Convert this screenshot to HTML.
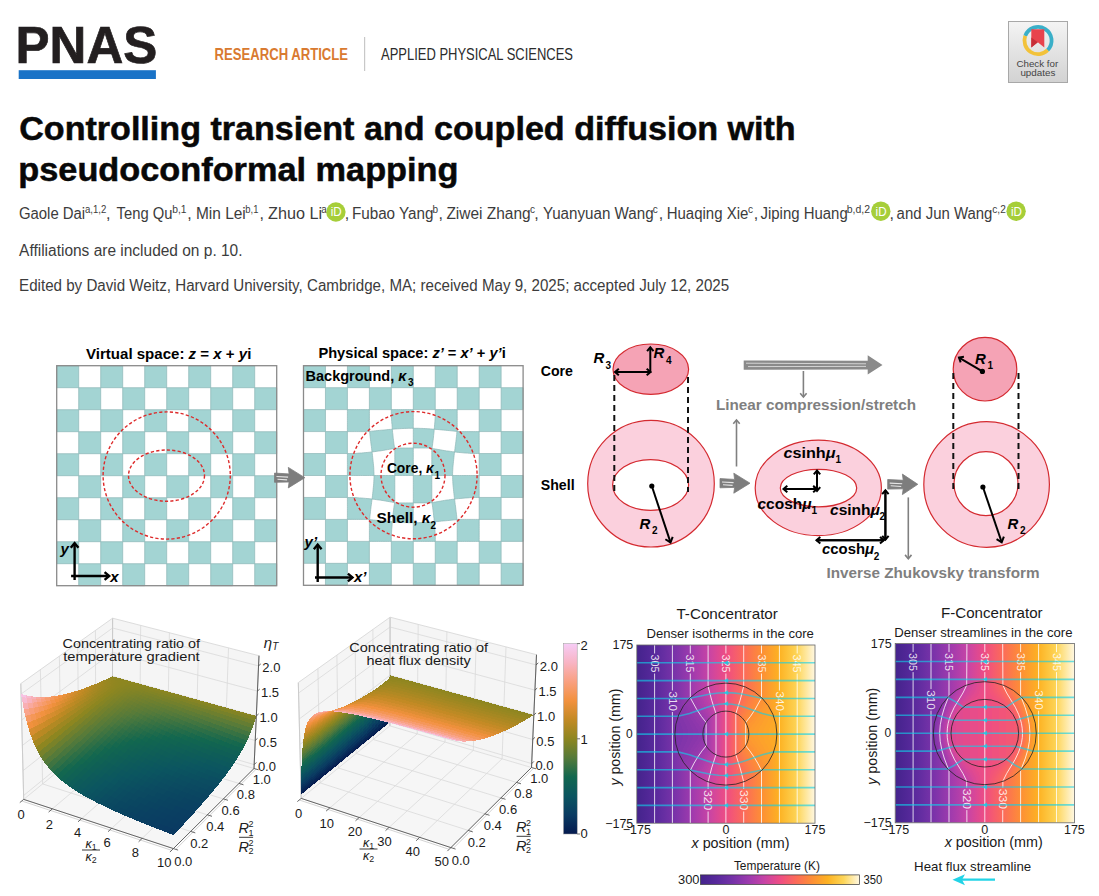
<!DOCTYPE html>
<html><head><meta charset="utf-8"><style>
html,body{margin:0;padding:0;background:#fff;width:1099px;height:896px;overflow:hidden}
svg{display:block}
text{font-family:"Liberation Sans", sans-serif}
</style></head><body>
<svg width="1099" height="896" viewBox="0 0 1099 896">
<rect width="1099" height="896" fill="#fff"/>
<text x="15.6" y="62.7" font-size="51" fill="#231f20" font-weight="bold" textLength="141.7" lengthAdjust="spacingAndGlyphs" stroke="#231f20" stroke-width="0.7">PNAS</text>
<rect x="18.7" y="70.2" width="137.2" height="8.8" fill="#1a73c7"/>
<text x="214.6" y="60.2" font-size="16.5" fill="#d97a30" font-weight="bold" textLength="133.4" lengthAdjust="spacingAndGlyphs">RESEARCH ARTICLE</text>
<rect x="364" y="37" width="1.2" height="34" fill="#c8c8c8"/>
<text x="381.0" y="60.2" font-size="16.5" fill="#2b2b2b" textLength="192.0" lengthAdjust="spacingAndGlyphs">APPLIED PHYSICAL SCIENCES</text>
<defs><linearGradient id="bg1" x1="0" y1="0" x2="0" y2="1"><stop offset="0" stop-color="#f4f4f4"/><stop offset="1" stop-color="#d2d2d2"/></linearGradient></defs>
<rect x="1008.5" y="21.5" width="59" height="61" fill="url(#bg1)" stroke="#a8a8a8" stroke-width="1"/>
<path d="M1025.22,35.85 A13.6,13.6 0 1 1 1047.62,50.12" fill="none" stroke="#3aafc8" stroke-width="3.8"/>
<path d="M1047.62,50.12 A13.6,13.6 0 0 1 1025.22,35.85" fill="none" stroke="#f2c23a" stroke-width="3.8"/>
<path d="M1031.3,29.3 H1044.3 V47.5 L1037.8,42.3 L1031.3,47.5 Z" fill="#e8434d"/>
<path d="M1031.3,37.5 L1037.8,42.3 L1031.3,47.5 Z" fill="#c62f38"/>
<text x="1016.5" y="67.3" font-size="9.5" fill="#444" textLength="41.7" lengthAdjust="spacingAndGlyphs">Check for</text>
<text x="1020.4" y="75.8" font-size="9.5" fill="#444" textLength="35.0" lengthAdjust="spacingAndGlyphs">updates</text>
<text x="19.2" y="140.2" font-size="32.5" fill="#080808" font-weight="bold" textLength="776.5" lengthAdjust="spacingAndGlyphs" stroke="#080808" stroke-width="0.5">Controlling transient and coupled diffusion with</text>
<text x="18.3" y="181.4" font-size="32.5" fill="#080808" font-weight="bold" textLength="440.2" lengthAdjust="spacingAndGlyphs" stroke="#080808" stroke-width="0.5">pseudoconformal mapping</text>
<text x="18.9" y="218.5" font-size="16" fill="#3c3c3c" textLength="66.3" lengthAdjust="spacingAndGlyphs">Gaole Dai</text>
<text x="85.0" y="212.7" font-size="10.5" fill="#3c3c3c" textLength="21.4" lengthAdjust="spacingAndGlyphs">a,1,2</text>
<text x="106.0" y="218.5" font-size="16" fill="#3c3c3c">,</text>
<text x="116.6" y="218.5" font-size="16" fill="#3c3c3c" textLength="55.8" lengthAdjust="spacingAndGlyphs">Teng Qu</text>
<text x="172.3" y="212.7" font-size="10.5" fill="#3c3c3c" textLength="14.3" lengthAdjust="spacingAndGlyphs">b,1</text>
<text x="187.2" y="218.5" font-size="16" fill="#3c3c3c">,</text>
<text x="196.0" y="218.5" font-size="16" fill="#3c3c3c" textLength="49.8" lengthAdjust="spacingAndGlyphs">Min Lei</text>
<text x="245.3" y="212.7" font-size="10.5" fill="#3c3c3c" textLength="13.1" lengthAdjust="spacingAndGlyphs">b,1</text>
<text x="259.6" y="218.5" font-size="16" fill="#3c3c3c">,</text>
<text x="268.0" y="218.5" font-size="16" fill="#3c3c3c" textLength="54.0" lengthAdjust="spacingAndGlyphs">Zhuo Li</text>
<text x="321.3" y="212.7" font-size="10" fill="#3c3c3c">a</text>
<text x="344.8" y="218.5" font-size="16" fill="#3c3c3c">,</text>
<text x="351.9" y="218.5" font-size="16" fill="#3c3c3c" textLength="81.6" lengthAdjust="spacingAndGlyphs">Fubao Yang</text>
<text x="432.6" y="212.7" font-size="10" fill="#3c3c3c">b</text>
<text x="438.6" y="218.5" font-size="16" fill="#3c3c3c">,</text>
<text x="446.4" y="218.5" font-size="16" fill="#3c3c3c" textLength="84.3" lengthAdjust="spacingAndGlyphs">Ziwei Zhang</text>
<text x="530.0" y="212.7" font-size="10" fill="#3c3c3c">c</text>
<text x="534.3" y="218.5" font-size="16" fill="#3c3c3c">,</text>
<text x="542.9" y="218.5" font-size="16" fill="#3c3c3c" textLength="110.7" lengthAdjust="spacingAndGlyphs">Yuanyuan Wang</text>
<text x="652.8" y="212.7" font-size="10" fill="#3c3c3c">c</text>
<text x="658.8" y="218.5" font-size="16" fill="#3c3c3c">,</text>
<text x="666.7" y="218.5" font-size="16" fill="#3c3c3c" textLength="81.6" lengthAdjust="spacingAndGlyphs">Huaqing Xie</text>
<text x="748.0" y="212.7" font-size="10" fill="#3c3c3c">c</text>
<text x="753.8" y="218.5" font-size="16" fill="#3c3c3c">,</text>
<text x="760.5" y="218.5" font-size="16" fill="#3c3c3c" textLength="87.2" lengthAdjust="spacingAndGlyphs">Jiping Huang</text>
<text x="846.8" y="212.7" font-size="10.5" fill="#3c3c3c" textLength="23.3" lengthAdjust="spacingAndGlyphs">b,d,2</text>
<text x="889.6" y="218.5" font-size="16" fill="#3c3c3c">,</text>
<text x="896.6" y="218.5" font-size="16" fill="#3c3c3c" textLength="95.8" lengthAdjust="spacingAndGlyphs">and Jun Wang</text>
<text x="992.3" y="212.7" font-size="10.5" fill="#3c3c3c" textLength="13.5" lengthAdjust="spacingAndGlyphs">c,2</text>
<circle cx="335.9" cy="212" r="9.7" fill="#a6ce39"/>
<text x="336.2" y="216.4" font-size="12" fill="#fff" text-anchor="middle" textLength="11" lengthAdjust="spacingAndGlyphs">iD</text>
<circle cx="880.8" cy="211.2" r="9.7" fill="#a6ce39"/>
<text x="881.0999999999999" y="215.6" font-size="12" fill="#fff" text-anchor="middle" textLength="11" lengthAdjust="spacingAndGlyphs">iD</text>
<circle cx="1016.1" cy="211.2" r="9.7" fill="#a6ce39"/>
<text x="1016.4" y="215.6" font-size="12" fill="#fff" text-anchor="middle" textLength="11" lengthAdjust="spacingAndGlyphs">iD</text>
<text x="19.1" y="255.9" font-size="16" fill="#3c3c3c" textLength="223.4" lengthAdjust="spacingAndGlyphs">Affiliations are included on p. 10.</text>
<text x="19.1" y="291.4" font-size="16" fill="#3c3c3c" textLength="710.1" lengthAdjust="spacingAndGlyphs">Edited by David Weitz, Harvard University, Cambridge, MA; received May 9, 2025; accepted July 12, 2025</text>
<rect x="56.7" y="365.7" width="220" height="220" fill="#fff"/>
<path d="M56.70,365.70h22.00v22.00h-22.00zM100.70,365.70h22.00v22.00h-22.00zM144.70,365.70h22.00v22.00h-22.00zM188.70,365.70h22.00v22.00h-22.00zM232.70,365.70h22.00v22.00h-22.00zM78.70,387.70h22.00v22.00h-22.00zM122.70,387.70h22.00v22.00h-22.00zM166.70,387.70h22.00v22.00h-22.00zM210.70,387.70h22.00v22.00h-22.00zM254.70,387.70h22.00v22.00h-22.00zM56.70,409.70h22.00v22.00h-22.00zM100.70,409.70h22.00v22.00h-22.00zM144.70,409.70h22.00v22.00h-22.00zM188.70,409.70h22.00v22.00h-22.00zM232.70,409.70h22.00v22.00h-22.00zM78.70,431.70h22.00v22.00h-22.00zM122.70,431.70h22.00v22.00h-22.00zM166.70,431.70h22.00v22.00h-22.00zM210.70,431.70h22.00v22.00h-22.00zM254.70,431.70h22.00v22.00h-22.00zM56.70,453.70h22.00v22.00h-22.00zM100.70,453.70h22.00v22.00h-22.00zM144.70,453.70h22.00v22.00h-22.00zM188.70,453.70h22.00v22.00h-22.00zM232.70,453.70h22.00v22.00h-22.00zM78.70,475.70h22.00v22.00h-22.00zM122.70,475.70h22.00v22.00h-22.00zM166.70,475.70h22.00v22.00h-22.00zM210.70,475.70h22.00v22.00h-22.00zM254.70,475.70h22.00v22.00h-22.00zM56.70,497.70h22.00v22.00h-22.00zM100.70,497.70h22.00v22.00h-22.00zM144.70,497.70h22.00v22.00h-22.00zM188.70,497.70h22.00v22.00h-22.00zM232.70,497.70h22.00v22.00h-22.00zM78.70,519.70h22.00v22.00h-22.00zM122.70,519.70h22.00v22.00h-22.00zM166.70,519.70h22.00v22.00h-22.00zM210.70,519.70h22.00v22.00h-22.00zM254.70,519.70h22.00v22.00h-22.00zM56.70,541.70h22.00v22.00h-22.00zM100.70,541.70h22.00v22.00h-22.00zM144.70,541.70h22.00v22.00h-22.00zM188.70,541.70h22.00v22.00h-22.00zM232.70,541.70h22.00v22.00h-22.00zM78.70,563.70h22.00v22.00h-22.00zM122.70,563.70h22.00v22.00h-22.00zM166.70,563.70h22.00v22.00h-22.00zM210.70,563.70h22.00v22.00h-22.00zM254.70,563.70h22.00v22.00h-22.00z" fill="#a3d4d3" stroke="#8cb6b6" stroke-width="0.7"/>
<rect x="56.7" y="365.7" width="220" height="220" fill="none" stroke="#8a8a8a" stroke-width="1.3"/>
<circle cx="166.7" cy="475.5" r="63.6" fill="none" stroke="#dd2a2a" stroke-width="1.4" stroke-dasharray="3.2,2.2"/>
<ellipse cx="166.5" cy="475.6" rx="38" ry="25.6" fill="none" stroke="#dd2a2a" stroke-width="1.4" stroke-dasharray="3.2,2.2"/>
<line x1="74.6" y1="580" x2="74.6" y2="543.2" stroke="#000" stroke-width="2.4"/>
<polyline points="70.74,547.80 74.6,543.2 78.46,547.80" fill="none" stroke="#000" stroke-width="2.4" stroke-linejoin="miter"/>
<line x1="71.1" y1="576" x2="109.2" y2="576" stroke="#000" stroke-width="2.4"/>
<polyline points="104.60,572.14 109.2,576 104.60,579.86" fill="none" stroke="#000" stroke-width="2.4" stroke-linejoin="miter"/>
<text x="60.5" y="553.5" font-size="15" fill="#000" font-weight="bold" font-style="italic">y</text>
<text x="110.3" y="581.8" font-size="15" fill="#000" font-weight="bold" font-style="italic">x</text>
<text x="86" y="359" font-size="15" font-weight="bold" textLength="165.4" lengthAdjust="spacingAndGlyphs">Virtual space: <tspan font-style="italic">z</tspan> = <tspan font-style="italic">x</tspan> + <tspan font-style="italic">y</tspan>i</text>
<rect x="303.5" y="365.7" width="219.60000000000002" height="219.60000000000002" fill="#fff"/>
<path d="M303.50,365.70h21.96v21.96h-21.96zM347.42,365.70h21.96v21.96h-21.96zM391.34,365.70h21.96v21.96h-21.96zM435.26,365.70h21.96v21.96h-21.96zM479.18,365.70h21.96v21.96h-21.96zM325.46,387.66h21.96v21.96h-21.96zM369.38,387.66h21.96v21.96h-21.96zM413.30,387.66h21.96v21.96h-21.96zM457.22,387.66h21.96v21.96h-21.96zM501.14,387.66h21.96v21.96h-21.96zM303.50,409.62h21.96v21.96h-21.96zM347.4,409.6L349.2,409.6L351.1,409.6L352.9,409.6L354.7,409.6L356.6,409.6L358.4,409.6L360.2,409.6L362.1,409.6L363.9,409.6L365.7,409.6L367.6,409.6L369.4,409.6L369.4,411.4L369.4,413.3L369.4,415.1L369.4,416.9L369.4,418.8L369.4,420.6L369.4,422.4L369.4,424.3L369.4,426.1L369.4,427.9L369.4,429.7L369.6,431.4L367.6,431.6L365.7,431.6L363.9,431.6L362.1,431.6L360.2,431.6L358.4,431.6L356.6,431.6L354.7,431.6L352.9,431.6L351.1,431.6L349.2,431.6L347.4,431.6L347.4,429.8L347.4,427.9L347.4,426.1L347.4,424.3L347.4,422.4L347.4,420.6L347.4,418.8L347.4,416.9L347.4,415.1L347.4,413.3L347.4,411.4zM391.3,409.6L393.2,409.6L395.0,409.6L396.8,409.6L398.7,409.6L400.5,409.6L402.3,409.6L404.2,409.6L406.0,409.6L407.8,409.6L409.6,409.6L411.5,409.6L413.3,409.6L413.3,411.4L413.3,413.0L413.3,414.6L413.3,416.1L413.3,417.6L413.3,419.1L413.3,420.7L413.3,422.2L413.3,423.7L413.3,425.2L413.3,426.7L413.3,428.3L411.6,428.3L409.9,428.3L408.1,428.3L406.4,428.4L404.7,428.4L403.0,428.5L401.2,428.6L399.5,428.7L397.7,428.8L395.9,428.9L394.1,429.1L392.3,429.2L392.2,427.7L392.1,426.1L392.0,424.5L391.8,423.0L391.7,421.4L391.6,419.9L391.5,418.3L391.4,416.8L391.3,415.1L391.3,413.3L391.3,411.4zM435.3,409.6L437.1,409.6L438.9,409.6L440.8,409.6L442.6,409.6L444.4,409.6L446.2,409.6L448.1,409.6L449.9,409.6L451.7,409.6L453.6,409.6L455.4,409.6L457.2,409.6L457.2,411.4L457.2,413.3L457.2,415.1L457.2,416.9L457.2,418.8L457.2,420.6L457.2,422.4L457.2,424.3L457.2,426.1L457.2,427.9L457.2,429.7L457.0,431.4L455.0,431.2L453.1,431.0L451.1,430.8L449.2,430.6L447.3,430.4L445.3,430.2L443.5,430.1L441.6,429.9L439.7,429.7L437.9,429.5L436.1,429.4L434.3,429.2L434.4,427.7L434.5,426.1L434.6,424.5L434.8,423.0L434.9,421.4L435.0,419.9L435.1,418.3L435.2,416.8L435.3,415.1L435.3,413.3L435.3,411.4zM479.18,409.62h21.96v21.96h-21.96zM325.46,431.58h21.96v21.96h-21.96zM369.6,431.4L371.6,431.2L373.5,431.0L375.5,430.8L377.4,430.6L379.3,430.4L381.3,430.2L383.1,430.1L385.0,429.9L386.9,429.7L388.7,429.5L390.5,429.4L392.3,429.2L392.5,430.8L392.6,432.4L392.8,433.9L393.0,435.5L393.1,437.1L393.3,438.7L393.5,440.3L393.7,441.9L393.9,443.5L394.1,445.1L394.4,446.8L394.6,448.4L393.0,448.7L391.2,449.0L389.5,449.3L387.7,449.6L385.8,449.9L383.9,450.3L382.0,450.6L380.1,450.9L378.1,451.1L376.1,451.4L374.1,451.7L372.0,451.9L371.8,450.1L371.6,448.4L371.4,446.6L371.1,444.9L370.9,443.1L370.7,441.4L370.5,439.7L370.3,438.0L370.1,436.3L369.9,434.7L369.8,433.0zM413.3,428.3L415.0,428.3L416.7,428.3L418.5,428.3L420.2,428.4L421.9,428.4L423.6,428.5L425.4,428.6L427.1,428.7L428.9,428.8L430.7,428.9L432.5,429.1L434.3,429.2L434.1,430.8L434.0,432.4L433.8,433.9L433.6,435.5L433.5,437.1L433.3,438.7L433.1,440.3L432.9,441.9L432.7,443.5L432.5,445.1L432.2,446.8L432.0,448.4L430.3,448.1L428.7,448.0L427.2,448.0L425.6,448.0L424.1,448.0L422.5,448.0L421.0,448.0L419.5,448.0L417.9,448.0L416.4,448.0L414.8,448.0L413.3,448.0L413.3,445.8L413.3,443.5L413.3,442.0L413.3,440.4L413.3,438.9L413.3,437.4L413.3,435.9L413.3,434.4L413.3,432.8L413.3,431.3L413.3,429.8zM457.0,431.4L459.0,431.6L460.9,431.6L462.7,431.6L464.5,431.6L466.4,431.6L468.2,431.6L470.0,431.6L471.9,431.6L473.7,431.6L475.5,431.6L477.4,431.6L479.2,431.6L479.2,433.4L479.2,435.2L479.2,437.1L479.2,438.9L479.2,440.7L479.2,442.6L479.2,444.4L479.2,446.2L479.2,448.0L479.2,449.9L479.2,451.7L479.2,453.5L477.4,453.5L475.5,453.5L473.7,453.5L471.6,453.5L469.5,453.3L467.3,453.1L465.1,453.0L463.0,452.8L460.9,452.6L458.7,452.4L456.6,452.2L454.6,451.9L454.8,450.1L455.0,448.4L455.2,446.6L455.5,444.9L455.7,443.1L455.9,441.4L456.1,439.7L456.3,438.0L456.5,436.3L456.7,434.7L456.8,433.0zM501.14,431.58h21.96v21.96h-21.96zM303.50,453.54h21.96v21.96h-21.96zM347.4,453.5L349.2,453.5L351.1,453.5L352.9,453.5L355.0,453.5L357.1,453.3L359.3,453.1L361.5,453.0L363.6,452.8L365.7,452.6L367.9,452.4L370.0,452.2L372.0,451.9L372.3,453.7L372.5,455.6L372.7,457.5L372.9,459.3L373.1,461.3L373.3,463.2L373.5,465.2L373.7,467.2L373.8,469.3L373.9,471.3L374.0,473.4L374.0,475.5L371.7,475.5L369.5,475.5L367.2,475.5L365.0,475.5L362.7,475.5L360.4,475.5L358.2,475.5L355.9,475.5L353.7,475.5L351.4,475.5L349.2,475.5L347.4,475.5L347.4,473.7L347.4,471.8L347.4,470.0L347.4,468.2L347.4,466.3L347.4,464.5L347.4,462.7L347.4,460.9L347.4,459.0L347.4,457.2L347.4,455.4zM394.6,448.4L396.3,448.1L397.9,448.0L399.4,448.0L401.0,448.0L402.5,448.0L404.1,448.0L405.6,448.0L407.1,448.0L408.7,448.0L410.2,448.0L411.8,448.0L413.3,448.0L413.3,450.3L413.3,452.6L413.3,454.9L413.3,457.2L413.3,459.5L413.3,461.8L413.3,464.1L413.3,466.3L413.3,468.6L413.3,470.9L413.3,473.2L413.3,475.5L411.8,475.5L410.2,475.5L408.7,475.5L407.1,475.5L405.6,475.5L404.1,475.5L402.5,475.5L401.0,475.5L399.4,475.5L397.9,475.5L396.3,475.5L394.8,475.5L394.8,473.2L394.8,470.9L394.8,468.6L394.8,466.3L394.8,464.1L394.8,461.8L394.8,459.5L394.8,457.2L394.8,454.9L394.8,452.6L394.8,450.3zM432.0,448.4L433.6,448.7L435.4,449.0L437.1,449.3L438.9,449.6L440.8,449.9L442.7,450.3L444.6,450.6L446.5,450.9L448.5,451.1L450.5,451.4L452.5,451.7L454.6,451.9L454.3,453.7L454.1,455.6L453.9,457.5L453.7,459.3L453.5,461.3L453.3,463.2L453.1,465.2L452.9,467.2L452.8,469.3L452.7,471.3L452.6,473.4L452.6,475.5L450.3,475.5L448.1,475.5L445.8,475.5L444.1,475.5L442.6,475.5L441.0,475.5L439.5,475.5L438.0,475.5L436.4,475.5L434.9,475.5L433.3,475.5L431.8,475.5L431.8,473.2L431.8,470.9L431.8,468.6L431.8,466.3L431.8,464.1L431.8,461.8L431.8,459.5L431.8,457.2L431.8,454.9L431.8,452.6L431.8,450.3zM479.18,453.54h21.96v21.96h-21.96zM325.46,475.50h21.96v21.96h-21.96zM374.0,475.5L376.3,475.5L378.5,475.5L380.8,475.5L382.5,475.5L384.0,475.5L385.6,475.5L387.1,475.5L388.6,475.5L390.2,475.5L391.7,475.5L393.3,475.5L394.8,475.5L394.8,477.8L394.8,480.1L394.8,482.4L394.8,484.6L394.8,486.9L394.8,489.2L394.8,491.5L394.8,493.8L394.8,496.1L394.8,498.4L394.8,500.7L394.6,502.6L393.0,502.3L391.2,502.0L389.5,501.7L387.7,501.4L385.8,501.1L383.9,500.7L382.0,500.4L380.1,500.1L378.1,499.9L376.1,499.6L374.1,499.3L372.0,499.1L372.3,497.3L372.5,495.4L372.7,493.5L372.9,491.7L373.1,489.7L373.3,487.8L373.5,485.8L373.7,483.8L373.8,481.7L373.9,479.7L374.0,477.6zM413.3,475.5L414.8,475.5L416.4,475.5L417.9,475.5L419.5,475.5L421.0,475.5L422.5,475.5L424.1,475.5L425.6,475.5L427.2,475.5L428.7,475.5L430.3,475.5L431.8,475.5L431.8,477.8L431.8,480.1L431.8,482.4L431.8,484.6L431.8,486.9L431.8,489.2L431.8,491.5L431.8,493.8L431.8,496.1L431.8,498.4L431.8,500.7L432.0,502.6L430.3,502.9L428.7,502.9L427.2,502.9L425.6,502.9L424.1,502.9L422.5,502.9L421.0,502.9L419.5,502.9L417.9,502.9L416.4,502.9L414.8,502.9L413.3,502.9L413.3,500.7L413.3,498.4L413.3,496.1L413.3,493.8L413.3,491.5L413.3,489.2L413.3,486.9L413.3,484.6L413.3,482.4L413.3,480.1L413.3,477.8zM452.6,475.5L454.9,475.5L457.1,475.5L459.4,475.5L461.6,475.5L463.9,475.5L466.2,475.5L468.4,475.5L470.7,475.5L472.9,475.5L475.2,475.5L477.4,475.5L479.2,475.5L479.2,477.3L479.2,479.2L479.2,481.0L479.2,482.8L479.2,484.6L479.2,486.5L479.2,488.3L479.2,490.1L479.2,492.0L479.2,493.8L479.2,495.6L479.2,497.5L477.4,497.5L475.5,497.5L473.7,497.5L471.6,497.5L469.5,497.7L467.3,497.9L465.1,498.0L463.0,498.2L460.9,498.4L458.7,498.6L456.6,498.8L454.6,499.1L454.3,497.3L454.1,495.4L453.9,493.5L453.7,491.7L453.5,489.7L453.3,487.8L453.1,485.8L452.9,483.8L452.8,481.7L452.7,479.7L452.6,477.6zM501.14,475.50h21.96v21.96h-21.96zM303.50,497.46h21.96v21.96h-21.96zM347.4,497.5L349.2,497.5L351.1,497.5L352.9,497.5L355.0,497.5L357.1,497.7L359.3,497.9L361.5,498.0L363.6,498.2L365.7,498.4L367.9,498.6L370.0,498.8L372.0,499.1L371.8,500.9L371.6,502.6L371.4,504.4L371.1,506.1L370.9,507.9L370.7,509.6L370.5,511.3L370.3,513.0L370.1,514.7L369.9,516.3L369.8,518.0L369.6,519.6L367.6,519.4L365.7,519.4L363.9,519.4L362.1,519.4L360.2,519.4L358.4,519.4L356.6,519.4L354.7,519.4L352.9,519.4L351.1,519.4L349.2,519.4L347.4,519.4L347.4,517.6L347.4,515.8L347.4,513.9L347.4,512.1L347.4,510.3L347.4,508.4L347.4,506.6L347.4,504.8L347.4,502.9L347.4,501.1L347.4,499.3zM394.6,502.6L396.3,502.9L397.9,502.9L399.4,502.9L401.0,502.9L402.5,502.9L404.1,502.9L405.6,502.9L407.1,502.9L408.7,502.9L410.2,502.9L411.8,502.9L413.3,502.9L413.3,505.2L413.3,507.5L413.3,509.0L413.3,510.6L413.3,512.1L413.3,513.6L413.3,515.1L413.3,516.6L413.3,518.2L413.3,519.7L413.3,521.2L413.3,522.7L411.6,522.7L409.9,522.7L408.1,522.7L406.4,522.6L404.7,522.6L403.0,522.5L401.2,522.4L399.5,522.3L397.7,522.2L395.9,522.1L394.1,521.9L392.3,521.8L392.5,520.2L392.6,518.6L392.8,517.1L393.0,515.5L393.1,513.9L393.3,512.3L393.5,510.7L393.7,509.1L393.9,507.5L394.1,505.9L394.4,504.2zM432.0,502.6L433.6,502.3L435.4,502.0L437.1,501.7L438.9,501.4L440.8,501.1L442.7,500.7L444.6,500.4L446.5,500.1L448.5,499.9L450.5,499.6L452.5,499.3L454.6,499.1L454.8,500.9L455.0,502.6L455.2,504.4L455.5,506.1L455.7,507.9L455.9,509.6L456.1,511.3L456.3,513.0L456.5,514.7L456.7,516.3L456.8,518.0L457.0,519.6L455.0,519.8L453.1,520.0L451.1,520.2L449.2,520.4L447.3,520.6L445.3,520.8L443.5,520.9L441.6,521.1L439.7,521.3L437.9,521.5L436.1,521.6L434.3,521.8L434.1,520.2L434.0,518.6L433.8,517.1L433.6,515.5L433.5,513.9L433.3,512.3L433.1,510.7L432.9,509.1L432.7,507.5L432.5,505.9L432.2,504.2zM479.18,497.46h21.96v21.96h-21.96zM325.46,519.42h21.96v21.96h-21.96zM369.6,519.6L371.6,519.8L373.5,520.0L375.5,520.2L377.4,520.4L379.3,520.6L381.3,520.8L383.1,520.9L385.0,521.1L386.9,521.3L388.7,521.5L390.5,521.6L392.3,521.8L392.2,523.3L392.1,524.9L392.0,526.5L391.8,528.0L391.7,529.6L391.6,531.1L391.5,532.7L391.4,534.2L391.3,535.9L391.3,537.7L391.3,539.5L391.3,541.4L389.5,541.4L387.7,541.4L385.9,541.4L384.0,541.4L382.2,541.4L380.4,541.4L378.5,541.4L376.7,541.4L374.9,541.4L373.0,541.4L371.2,541.4L369.4,541.4L369.4,539.5L369.4,537.7L369.4,535.9L369.4,534.1L369.4,532.2L369.4,530.4L369.4,528.6L369.4,526.7L369.4,524.9L369.4,523.1L369.4,521.3zM413.3,522.7L415.0,522.7L416.7,522.7L418.5,522.7L420.2,522.6L421.9,522.6L423.6,522.5L425.4,522.4L427.1,522.3L428.9,522.2L430.7,522.1L432.5,521.9L434.3,521.8L434.4,523.3L434.5,524.9L434.6,526.5L434.8,528.0L434.9,529.6L435.0,531.1L435.1,532.7L435.2,534.2L435.3,535.9L435.3,537.7L435.3,539.5L435.3,541.4L433.4,541.4L431.6,541.4L429.8,541.4L427.9,541.4L426.1,541.4L424.3,541.4L422.4,541.4L420.6,541.4L418.8,541.4L417.0,541.4L415.1,541.4L413.3,541.4L413.3,539.5L413.3,538.0L413.3,536.4L413.3,534.9L413.3,533.4L413.3,531.9L413.3,530.3L413.3,528.8L413.3,527.3L413.3,525.8L413.3,524.3zM457.0,519.6L459.0,519.4L460.9,519.4L462.7,519.4L464.5,519.4L466.4,519.4L468.2,519.4L470.0,519.4L471.9,519.4L473.7,519.4L475.5,519.4L477.4,519.4L479.2,519.4L479.2,521.2L479.2,523.1L479.2,524.9L479.2,526.7L479.2,528.6L479.2,530.4L479.2,532.2L479.2,534.1L479.2,535.9L479.2,537.7L479.2,539.5L479.2,541.4L477.4,541.4L475.5,541.4L473.7,541.4L471.9,541.4L470.0,541.4L468.2,541.4L466.4,541.4L464.5,541.4L462.7,541.4L460.9,541.4L459.1,541.4L457.2,541.4L457.2,539.5L457.2,537.7L457.2,535.9L457.2,534.1L457.2,532.2L457.2,530.4L457.2,528.6L457.2,526.7L457.2,524.9L457.2,523.1L457.2,521.3zM501.14,519.42h21.96v21.96h-21.96zM303.50,541.38h21.96v21.96h-21.96zM347.42,541.38h21.96v21.96h-21.96zM391.34,541.38h21.96v21.96h-21.96zM435.26,541.38h21.96v21.96h-21.96zM479.18,541.38h21.96v21.96h-21.96zM325.46,563.34h21.96v21.96h-21.96zM369.38,563.34h21.96v21.96h-21.96zM413.30,563.34h21.96v21.96h-21.96zM457.22,563.34h21.96v21.96h-21.96zM501.14,563.34h21.96v21.96h-21.96z" fill="#a3d4d3" stroke="#8cb6b6" stroke-width="0.7"/>
<rect x="303.5" y="365.7" width="219.60000000000002" height="219.60000000000002" fill="none" stroke="#8a8a8a" stroke-width="1.3"/>
<circle cx="413.5" cy="475.2" r="63.6" fill="none" stroke="#dd2a2a" stroke-width="1.4" stroke-dasharray="3.2,2.2"/>
<circle cx="413" cy="475.2" r="32" fill="none" stroke="#dd2a2a" stroke-width="1.4" stroke-dasharray="3.2,2.2"/>
<line x1="317.7" y1="582" x2="317.7" y2="544.6" stroke="#000" stroke-width="2.4"/>
<polyline points="313.84,549.20 317.7,544.6 321.56,549.20" fill="none" stroke="#000" stroke-width="2.4" stroke-linejoin="miter"/>
<line x1="315" y1="577.5" x2="352.5" y2="577.5" stroke="#000" stroke-width="2.4"/>
<polyline points="347.90,573.64 352.5,577.5 347.90,581.36" fill="none" stroke="#000" stroke-width="2.4" stroke-linejoin="miter"/>
<text x="304.6" y="547.3" font-size="15" fill="#000" font-weight="bold" font-style="italic">y’</text>
<text x="354.0" y="581.9" font-size="15" fill="#000" font-weight="bold" font-style="italic">x’</text>
<text x="318.4" y="358.2" font-size="15" font-weight="bold" textLength="187.3" lengthAdjust="spacingAndGlyphs">Physical space: <tspan font-style="italic">z’</tspan> = <tspan font-style="italic">x’</tspan> + <tspan font-style="italic">y’</tspan>i</text>
<text x="305.5" y="380.5" font-size="15" font-weight="bold" textLength="101" lengthAdjust="spacingAndGlyphs">Background, <tspan font-style="italic">κ</tspan></text>
<text x="408.0" y="386.0" font-size="10" fill="#000" font-weight="bold">3</text>
<text x="386.9" y="472.8" font-size="15" font-weight="bold" textLength="47" lengthAdjust="spacingAndGlyphs">Core, <tspan font-style="italic">κ</tspan></text>
<text x="434.6" y="478.7" font-size="10" fill="#000" font-weight="bold">1</text>
<text x="376.5" y="523" font-size="15" font-weight="bold" textLength="54" lengthAdjust="spacingAndGlyphs">Shell, <tspan font-style="italic">κ</tspan></text>
<text x="430.6" y="528.9" font-size="10" fill="#000" font-weight="bold">2</text>
<path d="M274.5,473.1 L289.1,473.9 L288.3,467.4 L304.8,477.7 L288.3,487.9 L289.1,482.0 L274.5,482.3 Z" fill="#7d7d7d" stroke="#7d7d7d" stroke-width="0.8" stroke-linejoin="round"/>
<path d="M276.5,476.5 L288.1,477.1 M277.5,479.2 L287.1,479.9" stroke="#e6e6e6" stroke-width="1.1" fill="none"/>
<text x="540.7" y="376.4" font-size="15" fill="#000" font-weight="bold" textLength="32.2" lengthAdjust="spacingAndGlyphs">Core</text>
<text x="540.7" y="490.2" font-size="15" fill="#000" font-weight="bold" textLength="33.9" lengthAdjust="spacingAndGlyphs">Shell</text>
<ellipse cx="650.8" cy="369.2" rx="37.8" ry="25.2" fill="#f5a3b5" stroke="#d42a30" stroke-width="1.2"/>
<path d="M587.7,483.7 a63.3,63.3 0 1,0 126.6,0 a63.3,63.3 0 1,0 -126.6,0 Z M612.6,485 a38,25.3 0 1,1 76,0 a38,25.3 0 1,1 -76,0 Z" fill="#fbd0dd" fill-rule="evenodd" stroke="#d42a30" stroke-width="1.2"/>
<line x1="614.3" y1="375" x2="614.3" y2="492" stroke="#111" stroke-width="2" stroke-dasharray="6,4"/>
<line x1="688" y1="377" x2="688" y2="492" stroke="#111" stroke-width="2" stroke-dasharray="6,4"/>
<line x1="650.5" y1="372" x2="615" y2="372" stroke="#000" stroke-width="2"/>
<polyline points="618.83,375.21 615,372 618.83,368.79" fill="none" stroke="#000" stroke-width="2" stroke-linejoin="miter"/>
<line x1="615" y1="372" x2="650.5" y2="372" stroke="#000" stroke-width="2"/>
<polyline points="646.67,368.79 650.5,372 646.67,375.21" fill="none" stroke="#000" stroke-width="2" stroke-linejoin="miter"/>
<line x1="650.3" y1="373" x2="650.3" y2="347.3" stroke="#000" stroke-width="2"/>
<polyline points="647.09,351.13 650.3,347.3 653.51,351.13" fill="none" stroke="#000" stroke-width="2" stroke-linejoin="miter"/>
<text x="593.5" y="363.0" font-size="15" fill="#000" font-weight="bold" font-style="italic">R</text>
<text x="605.5" y="368.5" font-size="10" fill="#000" font-weight="bold">3</text>
<text x="653.5" y="358.0" font-size="15" fill="#000" font-weight="bold" font-style="italic">R</text>
<text x="666.0" y="364.0" font-size="10" fill="#000" font-weight="bold">4</text>
<circle cx="651.8" cy="486" r="2.6" fill="#000"/>
<line x1="651.8" y1="486" x2="670.5" y2="542.4" stroke="#000" stroke-width="2"/>
<polyline points="672.71,536.82 670.5,542.4 665.39,539.25" fill="none" stroke="#000" stroke-width="2" stroke-linejoin="miter"/>
<text x="639.5" y="529.0" font-size="15" fill="#000" font-weight="bold" font-style="italic">R</text>
<text x="652.0" y="534.0" font-size="10" fill="#000" font-weight="bold">2</text>
<path d="M720,478.6 L734.6,479.4 L733.8000000000001,473.2 L750,483.2 L733.8000000000001,493.2 L734.6,487.4 L720,487.8 Z" fill="#7d7d7d" stroke="#7d7d7d" stroke-width="0.8" stroke-linejoin="round"/>
<path d="M722,482.0 L733.6,482.6 M723,484.7 L732.6,485.4" stroke="#e6e6e6" stroke-width="1.1" fill="none"/>
<path d="M743.7,360.4 L867.7,360.8 L867.7,355.2 L882.5,365 L867.7,374.6 L867.7,369.4 L743.7,369.7 Z" fill="#8a8a8a"/>
<path d="M746,363.2 L866,363.8 M748,366.6 L866,366.4" stroke="#dcdcdc" stroke-width="0.9" fill="none"/>
<line x1="803.4" y1="371" x2="803.4" y2="397" stroke="#808080" stroke-width="1.6"/>
<polyline points="806.61,393.17 803.4,397 800.19,393.17" fill="none" stroke="#808080" stroke-width="1.6" stroke-linejoin="miter"/>
<text x="716.0" y="410.0" font-size="15" fill="#7f7f7f" font-weight="bold" textLength="200.0" lengthAdjust="spacingAndGlyphs">Linear compression/stretch</text>
<line x1="736.5" y1="466.5" x2="736.5" y2="420" stroke="#808080" stroke-width="1.6"/>
<polyline points="733.29,423.83 736.5,420 739.71,423.83" fill="none" stroke="#808080" stroke-width="1.6" stroke-linejoin="miter"/>
<path d="M755.1999999999999,487.9 a63.1,47.7 0 1,0 126.2,0 a63.1,47.7 0 1,0 -126.2,0 Z M780.3,488.1 a38.2,18.8 0 1,1 76.4,0 a38.2,18.8 0 1,1 -76.4,0 Z" fill="#fbd0dd" fill-rule="evenodd" stroke="#d42a30" stroke-width="1.2"/>
<line x1="817" y1="489" x2="783.5" y2="489" stroke="#000" stroke-width="2"/>
<polyline points="787.33,492.21 783.5,489 787.33,485.79" fill="none" stroke="#000" stroke-width="2" stroke-linejoin="miter"/>
<line x1="783.5" y1="489" x2="817" y2="489" stroke="#000" stroke-width="2"/>
<polyline points="813.17,485.79 817,489 813.17,492.21" fill="none" stroke="#000" stroke-width="2" stroke-linejoin="miter"/>
<line x1="817" y1="491" x2="817" y2="470.5" stroke="#000" stroke-width="2"/>
<polyline points="813.79,474.33 817,470.5 820.21,474.33" fill="none" stroke="#000" stroke-width="2" stroke-linejoin="miter"/>
<line x1="817" y1="470.5" x2="817" y2="491" stroke="#000" stroke-width="2"/>
<polyline points="820.21,487.17 817,491 813.79,487.17" fill="none" stroke="#000" stroke-width="2" stroke-linejoin="miter"/>
<text x="783.5" y="458.2" font-size="15" font-weight="bold" textLength="52" lengthAdjust="spacingAndGlyphs"><tspan font-style="italic">c</tspan>sinh<tspan font-style="italic">μ</tspan></text>
<text x="835.6" y="463.0" font-size="10" fill="#000" font-weight="bold">1</text>
<text x="757.5" y="508.5" font-size="15" font-weight="bold" textLength="54" lengthAdjust="spacingAndGlyphs"><tspan font-style="italic">c</tspan>cosh<tspan font-style="italic">μ</tspan></text>
<text x="811.5" y="513.5" font-size="10" fill="#000" font-weight="bold">1</text>
<text x="830" y="514.5" font-size="15" font-weight="bold" textLength="50" lengthAdjust="spacingAndGlyphs"><tspan font-style="italic">c</tspan>sinh<tspan font-style="italic">μ</tspan></text>
<text x="879.5" y="520.0" font-size="10" fill="#000" font-weight="bold">2</text>
<text x="822" y="554.3" font-size="15" font-weight="bold" textLength="52" lengthAdjust="spacingAndGlyphs"><tspan font-style="italic">c</tspan>cosh<tspan font-style="italic">μ</tspan></text>
<text x="873.8" y="559.7" font-size="10" fill="#000" font-weight="bold">2</text>
<line x1="885.4" y1="490.4" x2="885.4" y2="539.6" stroke="#000" stroke-width="2"/>
<polyline points="888.61,535.77 885.4,539.6 882.19,535.77" fill="none" stroke="#000" stroke-width="2" stroke-linejoin="miter"/>
<line x1="885.4" y1="539.6" x2="885.4" y2="490.4" stroke="#000" stroke-width="2"/>
<polyline points="882.19,494.23 885.4,490.4 888.61,494.23" fill="none" stroke="#000" stroke-width="2" stroke-linejoin="miter"/>
<line x1="816.5" y1="540.2" x2="883.8" y2="540.2" stroke="#000" stroke-width="2"/>
<polyline points="879.97,536.99 883.8,540.2 879.97,543.41" fill="none" stroke="#000" stroke-width="2" stroke-linejoin="miter"/>
<line x1="883.8" y1="540.2" x2="816.5" y2="540.2" stroke="#000" stroke-width="2"/>
<polyline points="820.33,543.41 816.5,540.2 820.33,536.99" fill="none" stroke="#000" stroke-width="2" stroke-linejoin="miter"/>
<path d="M887.7,479.5 L903.2,480.3 L902.4000000000001,474.1 L917.8,484.3 L902.4000000000001,494.6 L903.2,488.8 L887.7,489.1 Z" fill="#7d7d7d" stroke="#7d7d7d" stroke-width="0.8" stroke-linejoin="round"/>
<path d="M889.7,483.1 L902.2,483.7 M890.7,485.8 L901.2,486.5" stroke="#e6e6e6" stroke-width="1.1" fill="none"/>
<line x1="908.3" y1="497.4" x2="908.3" y2="558.7" stroke="#808080" stroke-width="1.6"/>
<polyline points="911.51,554.87 908.3,558.7 905.09,554.87" fill="none" stroke="#808080" stroke-width="1.6" stroke-linejoin="miter"/>
<text x="826.5" y="577.8" font-size="15" fill="#7f7f7f" font-weight="bold" textLength="213.0" lengthAdjust="spacingAndGlyphs">Inverse Zhukovsky transform</text>
<circle cx="985" cy="369.2" r="31.8" fill="#f5a3b5" stroke="#d42a30" stroke-width="1.2"/>
<circle cx="982.4" cy="371.4" r="2.6" fill="#000"/>
<line x1="982.4" y1="371.4" x2="959" y2="357.6" stroke="#000" stroke-width="2"/>
<polyline points="960.67,362.31 959,357.6 963.93,356.78" fill="none" stroke="#000" stroke-width="2" stroke-linejoin="miter"/>
<text x="975.0" y="364.0" font-size="15" fill="#000" font-weight="bold" font-style="italic">R</text>
<text x="987.5" y="369.0" font-size="10" fill="#000" font-weight="bold">1</text>
<path d="M923.8000000000001,484.5 a62.8,62.8 0 1,0 125.6,0 a62.8,62.8 0 1,0 -125.6,0 Z M954,483.6 a32,32 0 1,1 64,0 a32,32 0 1,1 -64,0 Z" fill="#fbd0dd" fill-rule="evenodd" stroke="#d42a30" stroke-width="1.2"/>
<line x1="953.3" y1="373" x2="953.3" y2="490" stroke="#111" stroke-width="2" stroke-dasharray="6,4"/>
<line x1="1018.5" y1="373" x2="1018.5" y2="490" stroke="#111" stroke-width="2" stroke-dasharray="6,4"/>
<circle cx="982.9" cy="487" r="2.6" fill="#000"/>
<line x1="982.9" y1="487" x2="1001.7" y2="542.3" stroke="#000" stroke-width="2"/>
<polyline points="1003.87,536.71 1001.7,542.3 996.57,539.19" fill="none" stroke="#000" stroke-width="2" stroke-linejoin="miter"/>
<text x="1007.5" y="528.5" font-size="15" fill="#000" font-weight="bold" font-style="italic">R</text>
<text x="1020.0" y="533.5" font-size="10" fill="#000" font-weight="bold">2</text>
<polygon points="23.7,799.4 112.4,726.9 112.6,618.2 20.8,683.6" fill="#f5f5f5"/>
<polygon points="112.4,726.9 254.0,768.5 259.0,655.7 112.6,618.2" fill="#f5f5f5"/>
<polygon points="23.7,799.4 173.4,848.6 254.0,768.5 112.4,726.9" fill="#f6f6f6"/>
<polyline points="23.6,795.5 112.4,723.2 254.2,764.6" fill="none" stroke="#d9d9d9" stroke-width="0.8"/>
<polyline points="23.0,770.7 112.5,699.9 255.2,740.5" fill="none" stroke="#d9d9d9" stroke-width="0.8"/>
<polyline points="22.3,745.5 112.5,676.3 256.3,716.0" fill="none" stroke="#d9d9d9" stroke-width="0.8"/>
<polyline points="21.7,720.0 112.5,652.3 257.4,691.1" fill="none" stroke="#d9d9d9" stroke-width="0.8"/>
<polyline points="21.1,694.0 112.6,628.0 258.5,665.9" fill="none" stroke="#d9d9d9" stroke-width="0.8"/>
<polyline points="173.4,848.6 23.7,799.4 20.8,683.6" fill="none" stroke="#d9d9d9" stroke-width="0.8"/>
<polyline points="190.7,831.4 42.6,783.9 40.4,669.6" fill="none" stroke="#d9d9d9" stroke-width="0.8"/>
<polyline points="207.3,814.8 60.9,769.0 59.4,656.1" fill="none" stroke="#d9d9d9" stroke-width="0.8"/>
<polyline points="223.4,798.9 78.7,754.5 77.7,643.0" fill="none" stroke="#d9d9d9" stroke-width="0.8"/>
<polyline points="239.0,783.4 95.8,740.5 95.4,630.4" fill="none" stroke="#d9d9d9" stroke-width="0.8"/>
<polyline points="254.0,768.5 112.4,726.9 112.6,618.2" fill="none" stroke="#d9d9d9" stroke-width="0.8"/>
<polyline points="23.7,799.4 112.4,726.9 112.6,618.2" fill="none" stroke="#d9d9d9" stroke-width="0.8"/>
<polyline points="52.4,808.8 139.7,734.9 140.7,625.4" fill="none" stroke="#d9d9d9" stroke-width="0.8"/>
<polyline points="81.7,818.5 167.5,743.1 169.4,632.7" fill="none" stroke="#d9d9d9" stroke-width="0.8"/>
<polyline points="111.7,828.3 195.8,751.4 198.7,640.2" fill="none" stroke="#d9d9d9" stroke-width="0.8"/>
<polyline points="142.2,838.3 224.6,759.8 228.5,647.9" fill="none" stroke="#d9d9d9" stroke-width="0.8"/>
<polyline points="173.4,848.6 254.0,768.5 259.0,655.7" fill="none" stroke="#d9d9d9" stroke-width="0.8"/>
<polyline points="23.7,799.4 20.8,683.6" fill="none" stroke="#c8c8c8" stroke-width="0.9"/>
<polyline points="112.4,726.9 112.6,618.2" fill="none" stroke="#c8c8c8" stroke-width="0.9"/>
<polyline points="254.0,768.5 259.0,655.7" fill="none" stroke="#c8c8c8" stroke-width="0.9"/>
<polyline points="20.8,683.6 112.6,618.2 259.0,655.7" fill="none" stroke="#d8d8d8" stroke-width="0.9"/>
<g shape-rendering="crispEdges">
<path d="M112.0 676.5L112.4 676.6L112.9 676.4L112.5 676.3Z" fill="#8d8620"/>
<path d="M112.4 676.6L113.1 676.8L113.6 676.6L112.9 676.4Z" fill="#8d8620"/>
<path d="M113.1 676.8L114.2 677.1L114.7 676.9L113.6 676.6Z" fill="#8d8620"/>
<path d="M111.1 676.9L111.4 677.1L112.4 676.6L112.0 676.5Z" fill="#8f8620"/>
<path d="M114.2 677.1L115.4 677.5L115.9 677.2L114.7 676.9Z" fill="#8d8620"/>
<path d="M111.4 677.1L112.2 677.3L113.1 676.8L112.4 676.6Z" fill="#8e8620"/>
<path d="M112.2 677.3L113.2 677.6L114.2 677.1L113.1 676.8Z" fill="#8e8620"/>
<path d="M115.4 677.5L116.9 677.9L117.4 677.6L115.9 677.2Z" fill="#8d8620"/>
<path d="M113.2 677.6L114.5 678.0L115.4 677.5L114.2 677.1Z" fill="#8e8620"/>
<path d="M109.9 677.5L110.2 677.6L111.4 677.1L111.1 676.9Z" fill="#908620"/>
<path d="M116.9 677.9L118.6 678.4L119.1 678.1L117.4 677.6Z" fill="#8d8620"/>
<path d="M110.2 677.6L111.0 677.9L112.2 677.3L111.4 677.1Z" fill="#908620"/>
<path d="M114.5 678.0L116.0 678.5L116.9 677.9L115.4 677.5Z" fill="#8e8620"/>
<path d="M111.0 677.9L112.0 678.2L113.2 677.6L112.2 677.3Z" fill="#908620"/>
<path d="M118.6 678.4L120.4 678.9L120.9 678.6L119.1 678.1Z" fill="#8d8620"/>
<path d="M116.0 678.5L117.7 679.0L118.6 678.4L116.9 677.9Z" fill="#8e8620"/>
<path d="M112.0 678.2L113.3 678.7L114.5 678.0L113.2 677.6Z" fill="#908620"/>
<path d="M120.4 678.9L122.5 679.5L123.0 679.2L120.9 678.6Z" fill="#8d8620"/>
<path d="M113.3 678.7L114.8 679.2L116.0 678.5L114.5 678.0Z" fill="#8f8620"/>
<path d="M117.7 679.0L119.5 679.5L120.4 678.9L118.6 678.4Z" fill="#8e8620"/>
<path d="M108.4 678.2L108.8 678.3L110.2 677.6L109.9 677.5Z" fill="#928620"/>
<path d="M108.8 678.3L109.6 678.6L111.0 677.9L110.2 677.6Z" fill="#928620"/>
<path d="M114.8 679.2L116.5 679.7L117.7 679.0L116.0 678.5Z" fill="#8f8620"/>
<path d="M109.6 678.6L110.6 679.0L112.0 678.2L111.0 677.9Z" fill="#928620"/>
<path d="M119.5 679.5L121.5 680.2L122.5 679.5L120.4 678.9Z" fill="#8d8620"/>
<path d="M122.5 679.5L124.6 680.1L125.1 679.8L123.0 679.2Z" fill="#8d8620"/>
<path d="M110.6 679.0L111.9 679.4L113.3 678.7L112.0 678.2Z" fill="#918620"/>
<path d="M116.5 679.7L118.3 680.3L119.5 679.5L117.7 679.0Z" fill="#8e8620"/>
<path d="M111.9 679.4L113.4 680.0L114.8 679.2L113.3 678.7Z" fill="#918620"/>
<path d="M121.5 680.2L123.7 680.8L124.6 680.1L122.5 679.5Z" fill="#8d8620"/>
<path d="M124.6 680.1L127.0 680.8L127.5 680.4L125.1 679.8Z" fill="#8d8620"/>
<path d="M106.8 678.9L107.2 679.1L108.8 678.3L108.4 678.2Z" fill="#958721"/>
<path d="M118.3 680.3L120.4 681.0L121.5 680.2L119.5 679.5Z" fill="#8e8620"/>
<path d="M107.2 679.1L108.0 679.4L109.6 678.6L108.8 678.3Z" fill="#958721"/>
<path d="M113.4 680.0L115.1 680.6L116.5 679.7L114.8 679.2Z" fill="#908620"/>
<path d="M108.0 679.4L109.0 679.8L110.6 679.0L109.6 678.6Z" fill="#948721"/>
<path d="M123.7 680.8L126.1 681.5L127.0 680.8L124.6 680.1Z" fill="#8d8620"/>
<path d="M127.0 680.8L129.5 681.5L130.0 681.1L127.5 680.4Z" fill="#8d8620"/>
<path d="M115.1 680.6L116.9 681.3L118.3 680.3L116.5 679.7Z" fill="#8f8620"/>
<path d="M120.4 681.0L122.5 681.7L123.7 680.8L121.5 680.2Z" fill="#8e8620"/>
<path d="M109.0 679.8L110.3 680.3L111.9 679.4L110.6 679.0Z" fill="#938620"/>
<path d="M110.3 680.3L111.8 680.9L113.4 680.0L111.9 679.4Z" fill="#928620"/>
<path d="M126.1 681.5L128.6 682.3L129.5 681.5L127.0 680.8Z" fill="#8d8620"/>
<path d="M116.9 681.3L118.9 682.0L120.4 681.0L118.3 680.3Z" fill="#8f8620"/>
<path d="M129.5 681.5L132.1 682.3L132.6 681.8L130.0 681.1Z" fill="#8d8620"/>
<path d="M122.5 681.7L124.9 682.5L126.1 681.5L123.7 680.8Z" fill="#8d8620"/>
<path d="M111.8 680.9L113.4 681.6L115.1 680.6L113.4 680.0Z" fill="#928620"/>
<path d="M105.0 679.8L105.4 679.9L107.2 679.1L106.8 678.9Z" fill="#988721"/>
<path d="M105.4 679.9L106.2 680.3L108.0 679.4L107.2 679.1Z" fill="#978721"/>
<path d="M118.9 682.0L121.1 682.8L122.5 681.7L120.4 681.0Z" fill="#8e8620"/>
<path d="M128.6 682.3L131.2 683.1L132.1 682.3L129.5 681.5Z" fill="#8c8620"/>
<path d="M106.2 680.3L107.2 680.7L109.0 679.8L108.0 679.4Z" fill="#978721"/>
<path d="M113.4 681.6L115.3 682.3L116.9 681.3L115.1 680.6Z" fill="#918620"/>
<path d="M124.9 682.5L127.4 683.3L128.6 682.3L126.1 681.5Z" fill="#8c8620"/>
<path d="M132.1 682.3L134.9 683.1L135.4 682.6L132.6 681.8Z" fill="#8d8620"/>
<path d="M107.2 680.7L108.5 681.3L110.3 680.3L109.0 679.8Z" fill="#968721"/>
<path d="M121.1 682.8L123.5 683.7L124.9 682.5L122.5 681.7Z" fill="#8d8620"/>
<path d="M115.3 682.3L117.3 683.2L118.9 682.0L116.9 681.3Z" fill="#8f8620"/>
<path d="M108.5 681.3L110.0 682.0L111.8 680.9L110.3 680.3Z" fill="#948721"/>
<path d="M131.2 683.1L134.0 684.0L134.9 683.1L132.1 682.3Z" fill="#8c8620"/>
<path d="M127.4 683.3L130.0 684.2L131.2 683.1L128.6 682.3Z" fill="#8c8621"/>
<path d="M134.9 683.1L137.8 683.9L138.3 683.4L135.4 682.6Z" fill="#8d8620"/>
<path d="M110.0 682.0L111.7 682.7L113.4 681.6L111.8 680.9Z" fill="#938620"/>
<path d="M117.3 683.2L119.5 684.0L121.1 682.8L118.9 682.0Z" fill="#8e8620"/>
<path d="M123.5 683.7L126.0 684.6L127.4 683.3L124.9 682.5Z" fill="#8c8620"/>
<path d="M103.1 680.6L103.4 680.8L105.4 679.9L105.0 679.8Z" fill="#9b8721"/>
<path d="M103.4 680.8L104.2 681.2L106.2 680.3L105.4 679.9Z" fill="#9a8721"/>
<path d="M134.0 684.0L136.9 684.9L137.8 683.9L134.9 683.1Z" fill="#8c8621"/>
<path d="M111.7 682.7L113.5 683.5L115.3 682.3L113.4 681.6Z" fill="#928620"/>
<path d="M130.0 684.2L132.8 685.1L134.0 684.0L131.2 683.1Z" fill="#8b8621"/>
<path d="M104.2 681.2L105.2 681.7L107.2 680.7L106.2 680.3Z" fill="#998721"/>
<path d="M119.5 684.0L121.9 684.9L123.5 683.7L121.1 682.8Z" fill="#8d8620"/>
<path d="M137.8 683.9L140.8 684.8L141.3 684.2L138.3 683.4Z" fill="#8d8620"/>
<path d="M126.0 684.6L128.6 685.5L130.0 684.2L127.4 683.3Z" fill="#8b8621"/>
<path d="M105.2 681.7L106.5 682.4L108.5 681.3L107.2 680.7Z" fill="#988721"/>
<path d="M113.5 683.5L115.5 684.4L117.3 683.2L115.3 682.3Z" fill="#908620"/>
<path d="M106.5 682.4L108.0 683.1L110.0 682.0L108.5 681.3Z" fill="#978721"/>
<path d="M132.8 685.1L135.7 686.1L136.9 684.9L134.0 684.0Z" fill="#8a8521"/>
<path d="M136.9 684.9L139.9 685.8L140.8 684.8L137.8 683.9Z" fill="#8b8621"/>
<path d="M121.9 684.9L124.4 685.9L126.0 684.6L123.5 683.7Z" fill="#8c8621"/>
<path d="M115.5 684.4L117.7 685.4L119.5 684.0L117.3 683.2Z" fill="#8f8620"/>
<path d="M128.6 685.5L131.4 686.5L132.8 685.1L130.0 684.2Z" fill="#8a8521"/>
<path d="M108.0 683.1L109.7 683.9L111.7 682.7L110.0 682.0Z" fill="#958721"/>
<path d="M140.8 684.8L144.0 685.7L144.5 685.1L141.3 684.2Z" fill="#8c8620"/>
<path d="M124.4 685.9L127.0 687.0L128.6 685.5L126.0 684.6Z" fill="#8a8521"/>
<path d="M109.7 683.9L111.6 684.8L113.5 683.5L111.7 682.7Z" fill="#938620"/>
<path d="M100.9 681.6L101.3 681.8L103.4 680.8L103.1 680.6Z" fill="#9e8721"/>
<path d="M117.7 685.4L120.1 686.4L121.9 684.9L119.5 684.0Z" fill="#8d8620"/>
<path d="M135.7 686.1L138.7 687.1L139.9 685.8L136.9 684.9Z" fill="#8a8522"/>
<path d="M139.9 685.8L143.1 686.8L144.0 685.7L140.8 684.8Z" fill="#8b8621"/>
<path d="M101.3 681.8L102.1 682.2L104.2 681.2L103.4 680.8Z" fill="#9e8721"/>
<path d="M131.4 686.5L134.3 687.5L135.7 686.1L132.8 685.1Z" fill="#898522"/>
<path d="M102.1 682.2L103.1 682.8L105.2 681.7L104.2 681.2Z" fill="#9c8721"/>
<path d="M111.6 684.8L113.6 685.8L115.5 684.4L113.5 683.5Z" fill="#918620"/>
<path d="M144.0 685.7L147.3 686.6L147.8 686.0L144.5 685.1Z" fill="#8c8620"/>
<path d="M103.1 682.8L104.4 683.5L106.5 682.4L105.2 681.7Z" fill="#9b8721"/>
<path d="M120.1 686.4L122.6 687.5L124.4 685.9L121.9 684.9Z" fill="#8b8621"/>
<path d="M127.0 687.0L129.8 688.1L131.4 686.5L128.6 685.5Z" fill="#898522"/>
<path d="M138.7 687.1L141.9 688.1L143.1 686.8L139.9 685.8Z" fill="#898522"/>
<path d="M104.4 683.5L105.9 684.3L108.0 683.1L106.5 682.4Z" fill="#998721"/>
<path d="M113.6 685.8L115.8 686.8L117.7 685.4L115.5 684.4Z" fill="#8f8620"/>
<path d="M143.1 686.8L146.4 687.8L147.3 686.6L144.0 685.7Z" fill="#8b8621"/>
<path d="M134.3 687.5L137.3 688.6L138.7 687.1L135.7 686.1Z" fill="#888522"/>
<path d="M122.6 687.5L125.2 688.6L127.0 687.0L124.4 685.9Z" fill="#898522"/>
<path d="M105.9 684.3L107.6 685.2L109.7 683.9L108.0 683.1Z" fill="#978721"/>
<path d="M129.8 688.1L132.7 689.2L134.3 687.5L131.4 686.5Z" fill="#878523"/>
<path d="M147.3 686.6L150.7 687.6L151.2 687.0L147.8 686.0Z" fill="#8c8620"/>
<path d="M115.8 686.8L118.1 688.0L120.1 686.4L117.7 685.4Z" fill="#8d8620"/>
<path d="M107.6 685.2L109.5 686.2L111.6 684.8L109.7 683.9Z" fill="#958721"/>
<path d="M141.9 688.1L145.2 689.2L146.4 687.8L143.1 686.8Z" fill="#888522"/>
<path d="M137.3 688.6L140.5 689.8L141.9 688.1L138.7 687.1Z" fill="#868523"/>
<path d="M98.7 682.6L99.1 682.8L101.3 681.8L100.9 681.6Z" fill="#a28822"/>
<path d="M146.4 687.8L149.8 688.8L150.7 687.6L147.3 686.6Z" fill="#8a8521"/>
<path d="M125.2 688.6L128.0 689.8L129.8 688.1L127.0 687.0Z" fill="#878523"/>
<path d="M99.1 682.8L99.8 683.3L102.1 682.2L101.3 681.8Z" fill="#a18822"/>
<path d="M118.1 688.0L120.6 689.1L122.6 687.5L120.1 686.4Z" fill="#8b8521"/>
<path d="M109.5 686.2L111.5 687.3L113.6 685.8L111.6 684.8Z" fill="#928620"/>
<path d="M132.7 689.2L135.7 690.4L137.3 688.6L134.3 687.5Z" fill="#858424"/>
<path d="M99.8 683.3L100.9 683.9L103.1 682.8L102.1 682.2Z" fill="#a08721"/>
<path d="M150.7 687.6L154.3 688.6L154.7 687.9L151.2 687.0Z" fill="#8c8620"/>
<path d="M100.9 683.9L102.2 684.7L104.4 683.5L103.1 682.8Z" fill="#9e8721"/>
<path d="M111.5 687.3L113.7 688.4L115.8 686.8L113.6 685.8Z" fill="#908620"/>
<path d="M128.0 689.8L130.9 691.0L132.7 689.2L129.8 688.1Z" fill="#858424"/>
<path d="M145.2 689.2L148.6 690.3L149.8 688.8L146.4 687.8Z" fill="#878523"/>
<path d="M140.5 689.8L143.8 690.9L145.2 689.2L141.9 688.1Z" fill="#858424"/>
<path d="M120.6 689.1L123.3 690.4L125.2 688.6L122.6 687.5Z" fill="#888522"/>
<path d="M102.2 684.7L103.7 685.6L105.9 684.3L104.4 683.5Z" fill="#9c8721"/>
<path d="M149.8 688.8L153.3 689.9L154.3 688.6L150.7 687.6Z" fill="#8a8521"/>
<path d="M135.7 690.4L138.9 691.6L140.5 689.8L137.3 688.6Z" fill="#848424"/>
<path d="M103.7 685.6L105.3 686.6L107.6 685.2L105.9 684.3Z" fill="#998721"/>
<path d="M113.7 688.4L116.0 689.7L118.1 688.0L115.8 686.8Z" fill="#8d8620"/>
<path d="M123.3 690.4L126.1 691.7L128.0 689.8L125.2 688.6Z" fill="#858424"/>
<path d="M130.9 691.0L134.0 692.3L135.7 690.4L132.7 689.2Z" fill="#838425"/>
<path d="M154.3 688.6L157.9 689.7L158.4 688.9L154.7 687.9Z" fill="#8c8620"/>
<path d="M105.3 686.6L107.2 687.7L109.5 686.2L107.6 685.2Z" fill="#968721"/>
<path d="M143.8 690.9L147.2 692.2L148.6 690.3L145.2 689.2Z" fill="#848424"/>
<path d="M148.6 690.3L152.2 691.5L153.3 689.9L149.8 688.8Z" fill="#878523"/>
<path d="M116.0 689.7L118.5 690.9L120.6 689.1L118.1 688.0Z" fill="#8a8521"/>
<path d="M138.9 691.6L142.2 692.9L143.8 690.9L140.5 689.8Z" fill="#828425"/>
<path d="M153.3 689.9L157.0 691.0L157.9 689.7L154.3 688.6Z" fill="#8a8522"/>
<path d="M107.2 687.7L109.3 688.9L111.5 687.3L109.5 686.2Z" fill="#938620"/>
<path d="M96.3 683.6L96.6 683.8L99.1 682.8L98.7 682.6Z" fill="#a78822"/>
<path d="M96.6 683.8L97.4 684.4L99.8 683.3L99.1 682.8Z" fill="#a58822"/>
<path d="M126.1 691.7L129.0 693.0L130.9 691.0L128.0 689.8Z" fill="#838425"/>
<path d="M134.0 692.3L137.1 693.6L138.9 691.6L135.7 690.4Z" fill="#808326"/>
<path d="M97.4 684.4L98.5 685.1L100.9 683.9L99.8 683.3Z" fill="#a48822"/>
<path d="M118.5 690.9L121.2 692.3L123.3 690.4L120.6 689.1Z" fill="#878523"/>
<path d="M109.3 688.9L111.5 690.1L113.7 688.4L111.5 687.3Z" fill="#908620"/>
<path d="M157.9 689.7L161.7 690.8L162.2 690.0L158.4 688.9Z" fill="#8c8620"/>
<path d="M98.5 685.1L99.8 685.9L102.2 684.7L100.9 683.9Z" fill="#a18822"/>
<path d="M147.2 692.2L150.8 693.4L152.2 691.5L148.6 690.3Z" fill="#838425"/>
<path d="M152.2 691.5L155.8 692.7L157.0 691.0L153.3 689.9Z" fill="#868423"/>
<path d="M142.2 692.9L145.6 694.2L147.2 692.2L143.8 690.9Z" fill="#808326"/>
<path d="M99.8 685.9L101.3 686.9L103.7 685.6L102.2 684.7Z" fill="#9f8721"/>
<path d="M129.0 693.0L132.0 694.4L134.0 692.3L130.9 691.0Z" fill="#808326"/>
<path d="M111.5 690.1L113.8 691.5L116.0 689.7L113.7 688.4Z" fill="#8d8620"/>
<path d="M157.0 691.0L160.8 692.2L161.7 690.8L157.9 689.7Z" fill="#898522"/>
<path d="M121.2 692.3L124.0 693.7L126.1 691.7L123.3 690.4Z" fill="#848424"/>
<path d="M137.1 693.6L140.4 695.0L142.2 692.9L138.9 691.6Z" fill="#7e8327"/>
<path d="M101.3 686.9L102.9 688.1L105.3 686.6L103.7 685.6Z" fill="#9b8721"/>
<path d="M113.8 691.5L116.3 692.9L118.5 690.9L116.0 689.7Z" fill="#898522"/>
<path d="M102.9 688.1L104.8 689.3L107.2 687.7L105.3 686.6Z" fill="#988721"/>
<path d="M150.8 693.4L154.5 694.7L155.8 692.7L152.2 691.5Z" fill="#818425"/>
<path d="M161.7 690.8L165.6 691.9L166.1 691.1L162.2 690.0Z" fill="#8c8621"/>
<path d="M145.6 694.2L149.2 695.5L150.8 693.4L147.2 692.2Z" fill="#7e8327"/>
<path d="M132.0 694.4L135.2 695.8L137.1 693.6L134.0 692.3Z" fill="#7d8327"/>
<path d="M155.8 692.7L159.6 694.0L160.8 692.2L157.0 691.0Z" fill="#858424"/>
<path d="M124.0 693.7L126.9 695.1L129.0 693.0L126.1 691.7Z" fill="#808326"/>
<path d="M104.8 689.3L106.9 690.6L109.3 688.9L107.2 687.7Z" fill="#958721"/>
<path d="M140.4 695.0L143.9 696.4L145.6 694.2L142.2 692.9Z" fill="#7c8228"/>
<path d="M160.8 692.2L164.7 693.4L165.6 691.9L161.7 690.8Z" fill="#898522"/>
<path d="M116.3 692.9L119.0 694.3L121.2 692.3L118.5 690.9Z" fill="#868423"/>
<path d="M93.7 684.6L94.1 684.9L96.6 683.8L96.3 683.6Z" fill="#ab8822"/>
<path d="M94.1 684.9L94.9 685.5L97.4 684.4L96.6 683.8Z" fill="#aa8822"/>
<path d="M106.9 690.6L109.1 691.9L111.5 690.1L109.3 688.9Z" fill="#918620"/>
<path d="M126.9 695.1L130.0 696.6L132.0 694.4L129.0 693.0Z" fill="#7d8327"/>
<path d="M135.2 695.8L138.5 697.3L140.4 695.0L137.1 693.6Z" fill="#7a8229"/>
<path d="M94.9 685.5L95.9 686.3L98.5 685.1L97.4 684.4Z" fill="#a88822"/>
<path d="M154.5 694.7L158.2 696.1L159.6 694.0L155.8 692.7Z" fill="#808326"/>
<path d="M149.2 695.5L152.9 696.9L154.5 694.7L150.8 693.4Z" fill="#7c8228"/>
<path d="M95.9 686.3L97.2 687.3L99.8 685.9L98.5 685.1Z" fill="#a58822"/>
<path d="M119.0 694.3L121.7 695.8L124.0 693.7L121.2 692.3Z" fill="#828425"/>
<path d="M165.6 691.9L169.7 693.0L170.2 692.2L166.1 691.1Z" fill="#8c8621"/>
<path d="M159.6 694.0L163.6 695.2L164.7 693.4L160.8 692.2Z" fill="#848424"/>
<path d="M109.1 691.9L111.4 693.4L113.8 691.5L111.5 690.1Z" fill="#8d8620"/>
<path d="M143.9 696.4L147.4 697.9L149.2 695.5L145.6 694.2Z" fill="#798229"/>
<path d="M97.2 687.3L98.7 688.4L101.3 686.9L99.8 685.9Z" fill="#a28822"/>
<path d="M130.0 696.6L133.1 698.2L135.2 695.8L132.0 694.4Z" fill="#7a8229"/>
<path d="M164.7 693.4L168.8 694.6L169.7 693.0L165.6 691.9Z" fill="#888522"/>
<path d="M98.7 688.4L100.4 689.6L102.9 688.1L101.3 686.9Z" fill="#9e8721"/>
<path d="M138.5 697.3L142.0 698.8L143.9 696.4L140.4 695.0Z" fill="#77812a"/>
<path d="M111.4 693.4L113.9 694.9L116.3 692.9L113.8 691.5Z" fill="#898522"/>
<path d="M121.7 695.8L124.7 697.4L126.9 695.1L124.0 693.7Z" fill="#7e8327"/>
<path d="M100.4 689.6L102.3 690.9L104.8 689.3L102.9 688.1Z" fill="#9a8721"/>
<path d="M152.9 696.9L156.7 698.4L158.2 696.1L154.5 694.7Z" fill="#7a8229"/>
<path d="M158.2 696.1L162.2 697.4L163.6 695.2L159.6 694.0Z" fill="#7f8327"/>
<path d="M147.4 697.9L151.1 699.4L152.9 696.9L149.2 695.5Z" fill="#77812a"/>
<path d="M163.6 695.2L167.6 696.6L168.8 694.6L164.7 693.4Z" fill="#838425"/>
<path d="M169.7 693.0L173.8 694.2L174.3 693.3L170.2 692.2Z" fill="#8c8621"/>
<path d="M113.9 694.9L116.6 696.5L119.0 694.3L116.3 692.9Z" fill="#848424"/>
<path d="M133.1 698.2L136.4 699.7L138.5 697.3L135.2 695.8Z" fill="#76812b"/>
<path d="M102.3 690.9L104.3 692.3L106.9 690.6L104.8 689.3Z" fill="#968721"/>
<path d="M124.7 697.4L127.7 699.0L130.0 696.6L126.9 695.1Z" fill="#7a8229"/>
<path d="M142.0 698.8L145.5 700.4L147.4 697.9L143.9 696.4Z" fill="#74812b"/>
<path d="M168.8 694.6L172.9 695.9L173.8 694.2L169.7 693.0Z" fill="#888522"/>
<path d="M104.3 692.3L106.6 693.8L109.1 691.9L106.9 690.6Z" fill="#918620"/>
<path d="M91.0 685.7L91.4 686.0L94.1 684.9L93.7 684.6Z" fill="#b08923"/>
<path d="M116.6 696.5L119.4 698.1L121.7 695.8L119.0 694.3Z" fill="#808326"/>
<path d="M91.4 686.0L92.2 686.7L94.9 685.5L94.1 684.9Z" fill="#af8923"/>
<path d="M156.7 698.4L160.6 699.9L162.2 697.4L158.2 696.1Z" fill="#798229"/>
<path d="M162.2 697.4L166.2 698.8L167.6 696.6L163.6 695.2Z" fill="#7d8327"/>
<path d="M151.1 699.4L154.9 700.9L156.7 698.4L152.9 696.9Z" fill="#75812b"/>
<path d="M92.2 686.7L93.3 687.6L95.9 686.3L94.9 685.5Z" fill="#ac8822"/>
<path d="M136.4 699.7L139.9 701.4L142.0 698.8L138.5 697.3Z" fill="#73802c"/>
<path d="M127.7 699.0L130.9 700.6L133.1 698.2L130.0 696.6Z" fill="#76812b"/>
<path d="M106.6 693.8L108.9 695.4L111.4 693.4L109.1 691.9Z" fill="#8d8620"/>
<path d="M93.3 687.6L94.6 688.6L97.2 687.3L95.9 686.3Z" fill="#a98822"/>
<path d="M167.6 696.6L171.7 697.9L172.9 695.9L168.8 694.6Z" fill="#828425"/>
<path d="M173.8 694.2L178.1 695.5L178.6 694.5L174.3 693.3Z" fill="#8b8621"/>
<path d="M145.5 700.4L149.2 702.0L151.1 699.4L147.4 697.9Z" fill="#71802d"/>
<path d="M119.4 698.1L122.3 699.8L124.7 697.4L121.7 695.8Z" fill="#7b8228"/>
<path d="M94.6 688.6L96.1 689.9L98.7 688.4L97.2 687.3Z" fill="#a58822"/>
<path d="M108.9 695.4L111.4 697.1L113.9 694.9L111.4 693.4Z" fill="#888522"/>
<path d="M96.1 689.9L97.8 691.2L100.4 689.6L98.7 688.4Z" fill="#a18721"/>
<path d="M172.9 695.9L177.2 697.2L178.1 695.5L173.8 694.2Z" fill="#878523"/>
<path d="M130.9 700.6L134.2 702.3L136.4 699.7L133.1 698.2Z" fill="#72802d"/>
<path d="M139.9 701.4L143.4 703.0L145.5 700.4L142.0 698.8Z" fill="#6f802e"/>
<path d="M160.6 699.9L164.6 701.4L166.2 698.8L162.2 697.4Z" fill="#77812a"/>
<path d="M154.9 700.9L158.8 702.5L160.6 699.9L156.7 698.4Z" fill="#72802c"/>
<path d="M97.8 691.2L99.6 692.7L102.3 690.9L100.4 689.6Z" fill="#9c8721"/>
<path d="M166.2 698.8L170.3 700.3L171.7 697.9L167.6 696.6Z" fill="#7c8228"/>
<path d="M122.3 699.8L125.4 701.5L127.7 699.0L124.7 697.4Z" fill="#77812a"/>
<path d="M111.4 697.1L114.1 698.8L116.6 696.5L113.9 694.9Z" fill="#838425"/>
<path d="M149.2 702.0L153.0 703.6L154.9 700.9L151.1 699.4Z" fill="#6e7f2e"/>
<path d="M171.7 697.9L176.0 699.3L177.2 697.2L172.9 695.9Z" fill="#818425"/>
<path d="M99.6 692.7L101.7 694.2L104.3 692.3L102.3 690.9Z" fill="#978721"/>
<path d="M178.1 695.5L182.5 696.7L183.0 695.7L178.6 694.5Z" fill="#8b8621"/>
<path d="M134.2 702.3L137.7 704.1L139.9 701.4L136.4 699.7Z" fill="#6e7f2f"/>
<path d="M114.1 698.8L116.9 700.5L119.4 698.1L116.6 696.5Z" fill="#7e8327"/>
<path d="M101.7 694.2L103.9 695.9L106.6 693.8L104.3 692.3Z" fill="#928620"/>
<path d="M143.4 703.0L147.1 704.7L149.2 702.0L145.5 700.4Z" fill="#6c7f30"/>
<path d="M125.4 701.5L128.6 703.2L130.9 700.6L127.7 699.0Z" fill="#72802d"/>
<path d="M177.2 697.2L181.6 698.5L182.5 696.7L178.1 695.5Z" fill="#878523"/>
<path d="M164.6 701.4L168.8 702.9L170.3 700.3L166.2 698.8Z" fill="#75812b"/>
<path d="M158.8 702.5L162.9 704.1L164.6 701.4L160.6 699.9Z" fill="#70802e"/>
<path d="M170.3 700.3L174.6 701.8L176.0 699.3L171.7 697.9Z" fill="#7a8229"/>
<path d="M103.9 695.9L106.3 697.6L108.9 695.4L106.6 693.8Z" fill="#8d8620"/>
<path d="M88.2 686.8L88.6 687.1L91.4 686.0L91.0 685.7Z" fill="#b68923"/>
<path d="M153.0 703.6L156.9 705.3L158.8 702.5L154.9 700.9Z" fill="#6b7f30"/>
<path d="M88.6 687.1L89.4 687.9L92.2 686.7L91.4 686.0Z" fill="#b48923"/>
<path d="M116.9 700.5L119.8 702.3L122.3 699.8L119.4 698.1Z" fill="#798229"/>
<path d="M89.4 687.9L90.5 688.9L93.3 687.6L92.2 686.7Z" fill="#b18923"/>
<path d="M137.7 704.1L141.2 705.8L143.4 703.0L139.9 701.4Z" fill="#6a7e30"/>
<path d="M128.6 703.2L131.9 705.0L134.2 702.3L130.9 700.6Z" fill="#6d7f2f"/>
<path d="M176.0 699.3L180.4 700.7L181.6 698.5L177.2 697.2Z" fill="#808326"/>
<path d="M90.5 688.9L91.8 690.0L94.6 688.6L93.3 687.6Z" fill="#ad8822"/>
<path d="M106.3 697.6L108.8 699.3L111.4 697.1L108.9 695.4Z" fill="#878523"/>
<path d="M147.1 704.7L150.9 706.5L153.0 703.6L149.2 702.0Z" fill="#687e31"/>
<path d="M91.8 690.0L93.3 691.4L96.1 689.9L94.6 688.6Z" fill="#a88822"/>
<path d="M182.5 696.7L187.0 698.0L187.5 697.0L183.0 695.7Z" fill="#8b8621"/>
<path d="M119.8 702.3L122.9 704.1L125.4 701.5L122.3 699.8Z" fill="#73812c"/>
<path d="M93.3 691.4L95.0 692.9L97.8 691.2L96.1 689.9Z" fill="#a38822"/>
<path d="M162.9 704.1L167.0 705.8L168.8 702.9L164.6 701.4Z" fill="#6d7f2f"/>
<path d="M168.8 702.9L173.0 704.5L174.6 701.8L170.3 700.3Z" fill="#73802c"/>
<path d="M108.8 699.3L111.5 701.1L114.1 698.8L111.4 697.1Z" fill="#818425"/>
<path d="M181.6 698.5L186.1 699.9L187.0 698.0L182.5 696.7Z" fill="#868523"/>
<path d="M156.9 705.3L161.0 707.0L162.9 704.1L158.8 702.5Z" fill="#687e31"/>
<path d="M131.9 705.0L135.3 706.9L137.7 704.1L134.2 702.3Z" fill="#697e31"/>
<path d="M141.2 705.8L144.9 707.6L147.1 704.7L143.4 703.0Z" fill="#667e32"/>
<path d="M95.0 692.9L96.9 694.5L99.6 692.7L97.8 691.2Z" fill="#9e8721"/>
<path d="M174.6 701.8L179.0 703.3L180.4 700.7L176.0 699.3Z" fill="#798229"/>
<path d="M122.9 704.1L126.1 706.0L128.6 703.2L125.4 701.5Z" fill="#6e7f2e"/>
<path d="M96.9 694.5L98.9 696.2L101.7 694.2L99.6 692.7Z" fill="#998721"/>
<path d="M150.9 706.5L154.9 708.2L156.9 705.3L153.0 703.6Z" fill="#657d33"/>
<path d="M111.5 701.1L114.3 703.0L116.9 700.5L114.1 698.8Z" fill="#7c8228"/>
<path d="M180.4 700.7L184.9 702.2L186.1 699.9L181.6 698.5Z" fill="#7f8326"/>
<path d="M98.9 696.2L101.1 698.0L103.9 695.9L101.7 694.2Z" fill="#938620"/>
<path d="M187.0 698.0L191.6 699.3L192.1 698.2L187.5 697.0Z" fill="#8b8621"/>
<path d="M135.3 706.9L138.9 708.7L141.2 705.8L137.7 704.1Z" fill="#647d33"/>
<path d="M167.0 705.8L171.3 707.4L173.0 704.5L168.8 702.9Z" fill="#6b7f30"/>
<path d="M144.9 707.6L148.7 709.4L150.9 706.5L147.1 704.7Z" fill="#627d34"/>
<path d="M173.0 704.5L177.4 706.1L179.0 703.3L174.6 701.8Z" fill="#71802d"/>
<path d="M114.3 703.0L117.2 704.9L119.8 702.3L116.9 700.5Z" fill="#76812b"/>
<path d="M161.0 707.0L165.1 708.7L167.0 705.8L162.9 704.1Z" fill="#657e32"/>
<path d="M126.1 706.0L129.4 707.9L131.9 705.0L128.6 703.2Z" fill="#697e31"/>
<path d="M101.1 698.0L103.5 699.8L106.3 697.6L103.9 695.9Z" fill="#8d8620"/>
<path d="M186.1 699.9L190.7 701.3L191.6 699.3L187.0 698.0Z" fill="#868423"/>
<path d="M179.0 703.3L183.5 704.9L184.9 702.2L180.4 700.7Z" fill="#77812a"/>
<path d="M154.9 708.2L158.9 710.0L161.0 707.0L156.9 705.3Z" fill="#617d34"/>
<path d="M85.3 687.9L85.7 688.3L88.6 687.1L88.2 686.8Z" fill="#bb8a24"/>
<path d="M85.7 688.3L86.5 689.1L89.4 687.9L88.6 687.1Z" fill="#b98923"/>
<path d="M103.5 699.8L106.0 701.7L108.8 699.3L106.3 697.6Z" fill="#868523"/>
<path d="M117.2 704.9L120.3 706.9L122.9 704.1L119.8 702.3Z" fill="#70802d"/>
<path d="M86.5 689.1L87.5 690.2L90.5 688.9L89.4 687.9Z" fill="#b68923"/>
<path d="M138.9 708.7L142.6 710.6L144.9 707.6L141.2 705.8Z" fill="#607c35"/>
<path d="M184.9 702.2L189.5 703.7L190.7 701.3L186.1 699.9Z" fill="#7f8327"/>
<path d="M87.5 690.2L88.8 691.5L91.8 690.0L90.5 688.9Z" fill="#b18923"/>
<path d="M129.4 707.9L132.9 709.8L135.3 706.9L131.9 705.0Z" fill="#647d33"/>
<path d="M148.7 709.4L152.7 711.3L154.9 708.2L150.9 706.5Z" fill="#5e7c36"/>
<path d="M88.8 691.5L90.3 693.0L93.3 691.4L91.8 690.0Z" fill="#ac8822"/>
<path d="M171.3 707.4L175.7 709.2L177.4 706.1L173.0 704.5Z" fill="#687e31"/>
<path d="M106.0 701.7L108.7 703.6L111.5 701.1L108.8 699.3Z" fill="#808326"/>
<path d="M165.1 708.7L169.4 710.5L171.3 707.4L167.0 705.8Z" fill="#627d34"/>
<path d="M191.6 699.3L196.3 700.7L196.8 699.5L192.1 698.2Z" fill="#8b8621"/>
<path d="M177.4 706.1L181.9 707.8L183.5 704.9L179.0 703.3Z" fill="#6f802e"/>
<path d="M90.3 693.0L92.1 694.6L95.0 692.9L93.3 691.4Z" fill="#a68822"/>
<path d="M120.3 706.9L123.5 708.8L126.1 706.0L122.9 704.1Z" fill="#6a7f30"/>
<path d="M158.9 710.0L163.1 711.8L165.1 708.7L161.0 707.0Z" fill="#5d7c36"/>
<path d="M92.1 694.6L93.9 696.4L96.9 694.5L95.0 692.9Z" fill="#a08721"/>
<path d="M190.7 701.3L195.4 702.7L196.3 700.7L191.6 699.3Z" fill="#858424"/>
<path d="M183.5 704.9L188.1 706.5L189.5 703.7L184.9 702.2Z" fill="#76812b"/>
<path d="M108.7 703.6L111.5 705.6L114.3 703.0L111.5 701.1Z" fill="#7a8229"/>
<path d="M142.6 710.6L146.4 712.5L148.7 709.4L144.9 707.6Z" fill="#5b7b37"/>
<path d="M132.9 709.8L136.4 711.7L138.9 708.7L135.3 706.9Z" fill="#5f7c35"/>
<path d="M93.9 696.4L96.0 698.2L98.9 696.2L96.9 694.5Z" fill="#9a8721"/>
<path d="M152.7 711.3L156.7 713.2L158.9 710.0L154.9 708.2Z" fill="#5a7b38"/>
<path d="M123.5 708.8L126.8 710.8L129.4 707.9L126.1 706.0Z" fill="#657d33"/>
<path d="M189.5 703.7L194.2 705.2L195.4 702.7L190.7 701.3Z" fill="#7e8327"/>
<path d="M96.0 698.2L98.2 700.1L101.1 698.0L98.9 696.2Z" fill="#948620"/>
<path d="M111.5 705.6L114.4 707.7L117.2 704.9L114.3 703.0Z" fill="#73802c"/>
<path d="M175.7 709.2L180.2 710.9L181.9 707.8L177.4 706.1Z" fill="#667e32"/>
<path d="M169.4 710.5L173.8 712.3L175.7 709.2L171.3 707.4Z" fill="#5f7c35"/>
<path d="M181.9 707.8L186.5 709.5L188.1 706.5L183.5 704.9Z" fill="#6d7f2f"/>
<path d="M98.2 700.1L100.6 702.1L103.5 699.8L101.1 698.0Z" fill="#8d8620"/>
<path d="M163.1 711.8L167.3 713.7L169.4 710.5L165.1 708.7Z" fill="#5a7b38"/>
<path d="M136.4 711.7L140.1 713.7L142.6 710.6L138.9 708.7Z" fill="#5a7b38"/>
<path d="M196.3 700.7L201.1 702.1L201.6 700.9L196.8 699.5Z" fill="#8b8621"/>
<path d="M146.4 712.5L150.3 714.5L152.7 711.3L148.7 709.4Z" fill="#577a39"/>
<path d="M114.4 707.7L117.5 709.7L120.3 706.9L117.2 704.9Z" fill="#6d7f2f"/>
<path d="M126.8 710.8L130.3 712.8L132.9 709.8L129.4 707.9Z" fill="#5f7c35"/>
<path d="M188.1 706.5L192.8 708.1L194.2 705.2L189.5 703.7Z" fill="#74812b"/>
<path d="M195.4 702.7L200.2 704.2L201.1 702.1L196.3 700.7Z" fill="#858424"/>
<path d="M100.6 702.1L103.1 704.2L106.0 701.7L103.5 699.8Z" fill="#868423"/>
<path d="M156.7 713.2L160.9 715.1L163.1 711.8L158.9 710.0Z" fill="#567a3a"/>
<path d="M82.2 689.0L82.6 689.4L85.7 688.3L85.3 687.9Z" fill="#c28a24"/>
<path d="M82.6 689.4L83.4 690.3L86.5 689.1L85.7 688.3Z" fill="#bf8a24"/>
<path d="M103.1 704.2L105.8 706.3L108.7 703.6L106.0 701.7Z" fill="#7f8327"/>
<path d="M83.4 690.3L84.5 691.5L87.5 690.2L86.5 689.1Z" fill="#bb8923"/>
<path d="M140.1 713.7L143.9 715.7L146.4 712.5L142.6 710.6Z" fill="#557a3a"/>
<path d="M117.5 709.7L120.7 711.8L123.5 708.8L120.3 706.9Z" fill="#667e32"/>
<path d="M194.2 705.2L199.1 706.8L200.2 704.2L195.4 702.7Z" fill="#7d8228"/>
<path d="M173.8 712.3L178.3 714.1L180.2 710.9L175.7 709.2Z" fill="#5c7c37"/>
<path d="M180.2 710.9L184.8 712.7L186.5 709.5L181.9 707.8Z" fill="#637d33"/>
<path d="M84.5 691.5L85.8 693.0L88.8 691.5L87.5 690.2Z" fill="#b68923"/>
<path d="M150.3 714.5L154.4 716.4L156.7 713.2L152.7 711.3Z" fill="#52793b"/>
<path d="M130.3 712.8L133.8 714.9L136.4 711.7L132.9 709.8Z" fill="#597b38"/>
<path d="M167.3 713.7L171.7 715.6L173.8 712.3L169.4 710.5Z" fill="#577a39"/>
<path d="M85.8 693.0L87.3 694.6L90.3 693.0L88.8 691.5Z" fill="#b08923"/>
<path d="M186.5 709.5L191.3 711.2L192.8 708.1L188.1 706.5Z" fill="#6b7f30"/>
<path d="M87.3 694.6L89.0 696.4L92.1 694.6L90.3 693.0Z" fill="#aa8822"/>
<path d="M105.8 706.3L108.6 708.4L111.5 705.6L108.7 703.6Z" fill="#77812a"/>
<path d="M201.1 702.1L206.1 703.5L206.6 702.2L201.6 700.9Z" fill="#8b8621"/>
<path d="M160.9 715.1L165.2 717.0L167.3 713.7L163.1 711.8Z" fill="#51793b"/>
<path d="M89.0 696.4L90.9 698.3L93.9 696.4L92.1 694.6Z" fill="#a38822"/>
<path d="M120.7 711.8L124.1 713.9L126.8 710.8L123.5 708.8Z" fill="#607c35"/>
<path d="M192.8 708.1L197.7 709.8L199.1 706.8L194.2 705.2Z" fill="#73802c"/>
<path d="M200.2 704.2L205.2 705.7L206.1 703.5L201.1 702.1Z" fill="#848424"/>
<path d="M90.9 698.3L93.0 700.4L96.0 698.2L93.9 696.4Z" fill="#9c8721"/>
<path d="M143.9 715.7L147.9 717.7L150.3 714.5L146.4 712.5Z" fill="#4f783c"/>
<path d="M108.6 708.4L111.6 710.5L114.4 707.7L111.5 705.6Z" fill="#70802d"/>
<path d="M133.8 714.9L137.5 716.9L140.1 713.7L136.4 711.7Z" fill="#537a3a"/>
<path d="M154.4 716.4L158.6 718.4L160.9 715.1L156.7 713.2Z" fill="#4c783d"/>
<path d="M93.0 700.4L95.2 702.4L98.2 700.1L96.0 698.2Z" fill="#948721"/>
<path d="M178.3 714.1L182.9 716.0L184.8 712.7L180.2 710.9Z" fill="#597b38"/>
<path d="M184.8 712.7L189.5 714.5L191.3 711.2L186.5 709.5Z" fill="#607c35"/>
<path d="M171.7 715.6L176.2 717.5L178.3 714.1L173.8 712.3Z" fill="#53793b"/>
<path d="M199.1 706.8L204.0 708.4L205.2 705.7L200.2 704.2Z" fill="#7c8228"/>
<path d="M124.1 713.9L127.5 716.0L130.3 712.8L126.8 710.8Z" fill="#5a7b38"/>
<path d="M95.2 702.4L97.6 704.6L100.6 702.1L98.2 700.1Z" fill="#8d8620"/>
<path d="M111.6 710.5L114.7 712.7L117.5 709.7L114.4 707.7Z" fill="#697e31"/>
<path d="M191.3 711.2L196.1 713.0L197.7 709.8L192.8 708.1Z" fill="#697e31"/>
<path d="M165.2 717.0L169.6 719.0L171.7 715.6L167.3 713.7Z" fill="#4c783d"/>
<path d="M147.9 717.7L151.9 719.7L154.4 716.4L150.3 714.5Z" fill="#49773e"/>
<path d="M137.5 716.9L141.4 719.0L143.9 715.7L140.1 713.7Z" fill="#4d783d"/>
<path d="M97.6 704.6L100.1 706.8L103.1 704.2L100.6 702.1Z" fill="#858424"/>
<path d="M206.1 703.5L211.2 704.9L211.7 703.6L206.6 702.2Z" fill="#8b8521"/>
<path d="M197.7 709.8L202.6 711.5L204.0 708.4L199.1 706.8Z" fill="#71802d"/>
<path d="M158.6 718.4L162.8 720.4L165.2 717.0L160.9 715.1Z" fill="#47763e"/>
<path d="M114.7 712.7L117.9 714.8L120.7 711.8L117.5 709.7Z" fill="#627d34"/>
<path d="M127.5 716.0L131.1 718.1L133.8 714.9L130.3 712.8Z" fill="#547a3a"/>
<path d="M205.2 705.7L210.3 707.2L211.2 704.9L206.1 703.5Z" fill="#848424"/>
<path d="M100.1 706.8L102.8 709.0L105.8 706.3L103.1 704.2Z" fill="#7d8327"/>
<path d="M182.9 716.0L187.6 717.9L189.5 714.5L184.8 712.7Z" fill="#567a39"/>
<path d="M176.2 717.5L180.9 719.4L182.9 716.0L178.3 714.1Z" fill="#4f783c"/>
<path d="M189.5 714.5L194.4 716.3L196.1 713.0L191.3 711.2Z" fill="#5e7c36"/>
<path d="M79.1 690.0L79.4 690.5L82.6 689.4L82.2 689.0Z" fill="#c88b27"/>
<path d="M79.4 690.5L80.2 691.6L83.4 690.3L82.6 689.4Z" fill="#c58a26"/>
<path d="M80.2 691.6L81.3 692.9L84.5 691.5L83.4 690.3Z" fill="#c18a24"/>
<path d="M204.0 708.4L209.1 710.0L210.3 707.2L205.2 705.7Z" fill="#7b8229"/>
<path d="M141.4 719.0L145.3 721.1L147.9 717.7L143.9 715.7Z" fill="#47763e"/>
<path d="M102.8 709.0L105.6 711.2L108.6 708.4L105.8 706.3Z" fill="#75812b"/>
<path d="M169.6 719.0L174.1 720.9L176.2 717.5L171.7 715.6Z" fill="#48763e"/>
<path d="M81.3 692.9L82.6 694.5L85.8 693.0L84.5 691.5Z" fill="#bb8923"/>
<path d="M117.9 714.8L121.2 717.0L124.1 713.9L120.7 711.8Z" fill="#5b7b37"/>
<path d="M151.9 719.7L156.1 721.8L158.6 718.4L154.4 716.4Z" fill="#437540"/>
<path d="M196.1 713.0L201.1 714.8L202.6 711.5L197.7 709.8Z" fill="#677e32"/>
<path d="M82.6 694.5L84.1 696.3L87.3 694.6L85.8 693.0Z" fill="#b48923"/>
<path d="M131.1 718.1L134.8 720.2L137.5 716.9L133.8 714.9Z" fill="#4c783d"/>
<path d="M84.1 696.3L85.9 698.3L89.0 696.4L87.3 694.6Z" fill="#ad8822"/>
<path d="M162.8 720.4L167.2 722.4L169.6 719.0L165.2 717.0Z" fill="#427540"/>
<path d="M85.9 698.3L87.8 700.4L90.9 698.3L89.0 696.4Z" fill="#a58822"/>
<path d="M105.6 711.2L108.6 713.5L111.6 710.5L108.6 708.4Z" fill="#6d7f2f"/>
<path d="M211.2 704.9L216.4 706.4L216.9 705.1L211.7 703.6Z" fill="#8a8521"/>
<path d="M202.6 711.5L207.7 713.2L209.1 710.0L204.0 708.4Z" fill="#70802e"/>
<path d="M87.8 700.4L89.8 702.6L93.0 700.4L90.9 698.3Z" fill="#9d8721"/>
<path d="M121.2 717.0L124.7 719.2L127.5 716.0L124.1 713.9Z" fill="#557a3a"/>
<path d="M187.6 717.9L192.5 719.8L194.4 716.3L189.5 714.5Z" fill="#53793b"/>
<path d="M210.3 707.2L215.4 708.8L216.4 706.4L211.2 704.9Z" fill="#838424"/>
<path d="M145.3 721.1L149.4 723.2L151.9 719.7L147.9 717.7Z" fill="#407440"/>
<path d="M180.9 719.4L185.6 721.4L187.6 717.9L182.9 716.0Z" fill="#4b773d"/>
<path d="M89.8 702.6L92.1 704.8L95.2 702.4L93.0 700.4Z" fill="#958721"/>
<path d="M108.6 713.5L111.7 715.7L114.7 712.7L111.6 710.5Z" fill="#667e32"/>
<path d="M194.4 716.3L199.3 718.2L201.1 714.8L196.1 713.0Z" fill="#5b7b37"/>
<path d="M134.8 720.2L138.6 722.3L141.4 719.0L137.5 716.9Z" fill="#45763f"/>
<path d="M156.1 721.8L160.4 723.9L162.8 720.4L158.6 718.4Z" fill="#3e7341"/>
<path d="M174.1 720.9L178.7 723.0L180.9 719.4L176.2 717.5Z" fill="#437540"/>
<path d="M92.1 704.8L94.5 707.1L97.6 704.6L95.2 702.4Z" fill="#8d8620"/>
<path d="M209.1 710.0L214.3 711.7L215.4 708.8L210.3 707.2Z" fill="#798229"/>
<path d="M201.1 714.8L206.1 716.6L207.7 713.2L202.6 711.5Z" fill="#647d33"/>
<path d="M124.7 719.2L128.3 721.4L131.1 718.1L127.5 716.0Z" fill="#4d783d"/>
<path d="M167.2 722.4L171.8 724.5L174.1 720.9L169.6 719.0Z" fill="#3d7341"/>
<path d="M94.5 707.1L97.0 709.4L100.1 706.8L97.6 704.6Z" fill="#848424"/>
<path d="M111.7 715.7L114.9 718.0L117.9 714.8L114.7 712.7Z" fill="#5e7c36"/>
<path d="M149.4 723.2L153.5 725.3L156.1 721.8L151.9 719.7Z" fill="#3a7242"/>
<path d="M138.6 722.3L142.6 724.5L145.3 721.1L141.4 719.0Z" fill="#3f7441"/>
<path d="M97.0 709.4L99.7 711.8L102.8 709.0L100.1 706.8Z" fill="#7b8228"/>
<path d="M207.7 713.2L212.9 715.0L214.3 711.7L209.1 710.0Z" fill="#6e7f2e"/>
<path d="M216.4 706.4L221.6 707.9L222.2 706.5L216.9 705.1Z" fill="#8a8521"/>
<path d="M160.4 723.9L164.8 725.9L167.2 722.4L162.8 720.4Z" fill="#387243"/>
<path d="M185.6 721.4L190.4 723.4L192.5 719.8L187.6 717.9Z" fill="#47763f"/>
<path d="M192.5 719.8L197.4 721.8L199.3 718.2L194.4 716.3Z" fill="#50783c"/>
<path d="M114.9 718.0L118.2 720.3L121.2 717.0L117.9 714.8Z" fill="#577a39"/>
<path d="M128.3 721.4L132.0 723.6L134.8 720.2L131.1 718.1Z" fill="#45763f"/>
<path d="M178.7 723.0L183.4 725.0L185.6 721.4L180.9 719.4Z" fill="#3f7441"/>
<path d="M215.4 708.8L220.7 710.4L221.6 707.9L216.4 706.4Z" fill="#838425"/>
<path d="M199.3 718.2L204.4 720.1L206.1 716.6L201.1 714.8Z" fill="#597b38"/>
<path d="M99.7 711.8L102.5 714.2L105.6 711.2L102.8 709.0Z" fill="#73802c"/>
<path d="M171.8 724.5L176.4 726.5L178.7 723.0L174.1 720.9Z" fill="#387243"/>
<path d="M206.1 716.6L211.3 718.5L212.9 715.0L207.7 713.2Z" fill="#627d34"/>
<path d="M75.7 691.1L76.1 691.7L79.4 690.5L79.1 690.0Z" fill="#cf8c2b"/>
<path d="M76.1 691.7L76.9 692.8L80.2 691.6L79.4 690.5Z" fill="#cb8b29"/>
<path d="M214.3 711.7L219.6 713.4L220.7 710.4L215.4 708.8Z" fill="#78822a"/>
<path d="M76.9 692.8L78.0 694.3L81.3 692.9L80.2 691.6Z" fill="#c78b26"/>
<path d="M142.6 724.5L146.7 726.6L149.4 723.2L145.3 721.1Z" fill="#387243"/>
<path d="M102.5 714.2L105.5 716.5L108.6 713.5L105.6 711.2Z" fill="#6a7f30"/>
<path d="M78.0 694.3L79.3 696.1L82.6 694.5L81.3 692.9Z" fill="#c08a24"/>
<path d="M153.5 725.3L157.8 727.4L160.4 723.9L156.1 721.8Z" fill="#347144"/>
<path d="M79.3 696.1L80.8 698.1L84.1 696.3L82.6 694.5Z" fill="#b98923"/>
<path d="M118.2 720.3L121.7 722.5L124.7 719.2L121.2 717.0Z" fill="#4f783c"/>
<path d="M80.8 698.1L82.6 700.2L85.9 698.3L84.1 696.3Z" fill="#b18923"/>
<path d="M132.0 723.6L135.8 725.8L138.6 722.3L134.8 720.2Z" fill="#3e7441"/>
<path d="M82.6 700.2L84.5 702.5L87.8 700.4L85.9 698.3Z" fill="#a88822"/>
<path d="M164.8 725.9L169.3 728.0L171.8 724.5L167.2 722.4Z" fill="#337045"/>
<path d="M84.5 702.5L86.6 704.9L89.8 702.6L87.8 700.4Z" fill="#9f8721"/>
<path d="M190.4 723.4L195.4 725.4L197.4 721.8L192.5 719.8Z" fill="#437540"/>
<path d="M105.5 716.5L108.6 718.9L111.7 715.7L108.6 713.5Z" fill="#627d34"/>
<path d="M212.9 715.0L218.2 716.8L219.6 713.4L214.3 711.7Z" fill="#6d7f2f"/>
<path d="M197.4 721.8L202.5 723.8L204.4 720.1L199.3 718.2Z" fill="#4c773d"/>
<path d="M183.4 725.0L188.3 727.0L190.4 723.4L185.6 721.4Z" fill="#3a7242"/>
<path d="M86.6 704.9L88.8 707.3L92.1 704.8L89.8 702.6Z" fill="#968721"/>
<path d="M221.6 707.9L227.1 709.5L227.6 708.0L222.2 706.5Z" fill="#8a8521"/>
<path d="M121.7 722.5L125.3 724.8L128.3 721.4L124.7 719.2Z" fill="#47763f"/>
<path d="M204.4 720.1L209.6 722.1L211.3 718.5L206.1 716.6Z" fill="#567a39"/>
<path d="M146.7 726.6L150.8 728.8L153.5 725.3L149.4 723.2Z" fill="#327045"/>
<path d="M88.8 707.3L91.2 709.7L94.5 707.1L92.1 704.8Z" fill="#8d8620"/>
<path d="M220.7 710.4L226.1 712.0L227.1 709.5L221.6 707.9Z" fill="#828425"/>
<path d="M176.4 726.5L181.1 728.6L183.4 725.0L178.7 723.0Z" fill="#347144"/>
<path d="M157.8 727.4L162.2 729.5L164.8 725.9L160.4 723.9Z" fill="#2f6f46"/>
<path d="M108.6 718.9L111.8 721.2L114.9 718.0L111.7 715.7Z" fill="#5a7b38"/>
<path d="M135.8 725.8L139.8 728.0L142.6 724.5L138.6 722.3Z" fill="#377143"/>
<path d="M91.2 709.7L93.8 712.2L97.0 709.4L94.5 707.1Z" fill="#838425"/>
<path d="M211.3 718.5L216.6 720.3L218.2 716.8L212.9 715.0Z" fill="#607c35"/>
<path d="M219.6 713.4L225.0 715.1L226.1 712.0L220.7 710.4Z" fill="#77812a"/>
<path d="M169.3 728.0L174.0 730.1L176.4 726.5L171.8 724.5Z" fill="#2e6f46"/>
<path d="M125.3 724.8L129.0 727.0L132.0 723.6L128.3 721.4Z" fill="#3f7441"/>
<path d="M93.8 712.2L96.4 714.7L99.7 711.8L97.0 709.4Z" fill="#7a8229"/>
<path d="M111.8 721.2L115.1 723.6L118.2 720.3L114.9 718.0Z" fill="#52793b"/>
<path d="M195.4 725.4L200.5 727.5L202.5 723.8L197.4 721.8Z" fill="#3f7441"/>
<path d="M188.3 727.0L193.2 729.1L195.4 725.4L190.4 723.4Z" fill="#367144"/>
<path d="M202.5 723.8L207.7 725.8L209.6 722.1L204.4 720.1Z" fill="#49763e"/>
<path d="M150.8 728.8L155.1 731.0L157.8 727.4L153.5 725.3Z" fill="#2c6e47"/>
<path d="M218.2 716.8L223.6 718.6L225.0 715.1L219.6 713.4Z" fill="#6b7f30"/>
<path d="M96.4 714.7L99.3 717.2L102.5 714.2L99.7 711.8Z" fill="#71802d"/>
<path d="M139.8 728.0L143.8 730.2L146.7 726.6L142.6 724.5Z" fill="#307046"/>
<path d="M162.2 729.5L166.8 731.6L169.3 728.0L164.8 725.9Z" fill="#296e48"/>
<path d="M181.1 728.6L186.0 730.7L188.3 727.0L183.4 725.0Z" fill="#2f6f46"/>
<path d="M209.6 722.1L214.9 724.0L216.6 720.3L211.3 718.5Z" fill="#547a3a"/>
<path d="M227.1 709.5L232.6 711.1L233.1 709.6L227.6 708.0Z" fill="#8a8521"/>
<path d="M115.1 723.6L118.6 725.9L121.7 722.5L118.2 720.3Z" fill="#49773e"/>
<path d="M129.0 727.0L132.9 729.3L135.8 725.8L132.0 723.6Z" fill="#377143"/>
<path d="M99.3 717.2L102.2 719.7L105.5 716.5L102.5 714.2Z" fill="#687e31"/>
<path d="M226.1 712.0L231.7 713.7L232.6 711.1L227.1 709.5Z" fill="#828425"/>
<path d="M174.0 730.1L178.7 732.3L181.1 728.6L176.4 726.5Z" fill="#296d48"/>
<path d="M216.6 720.3L222.0 722.3L223.6 718.6L218.2 716.8Z" fill="#5e7c36"/>
<path d="M225.0 715.1L230.5 716.9L231.7 713.7L226.1 712.0Z" fill="#76812b"/>
<path d="M73.5 694.0L74.6 695.7L78.0 694.3L76.9 692.8Z" fill="#cd8c2a"/>
<path d="M74.6 695.7L75.9 697.7L79.3 696.1L78.0 694.3Z" fill="#c68b26"/>
<path d="M72.7 692.8L73.5 694.0L76.9 692.8L76.1 691.7Z" fill="#d28c2d"/>
<path d="M72.3 692.1L72.7 692.8L76.1 691.7L75.7 691.1Z" fill="#d68d2f"/>
<path d="M75.9 697.7L77.4 699.9L80.8 698.1L79.3 696.1Z" fill="#be8a24"/>
<path d="M102.2 719.7L105.3 722.1L108.6 718.9L105.5 716.5Z" fill="#5f7c35"/>
<path d="M155.1 731.0L159.6 733.1L162.2 729.5L157.8 727.4Z" fill="#256d49"/>
<path d="M143.8 730.2L148.0 732.4L150.8 728.8L146.7 726.6Z" fill="#296e48"/>
<path d="M77.4 699.9L79.2 702.2L82.6 700.2L80.8 698.1Z" fill="#b48923"/>
<path d="M118.6 725.9L122.2 728.3L125.3 724.8L121.7 722.5Z" fill="#407440"/>
<path d="M79.2 702.2L81.1 704.7L84.5 702.5L82.6 700.2Z" fill="#ab8822"/>
<path d="M200.5 727.5L205.7 729.5L207.7 725.8L202.5 723.8Z" fill="#3b7342"/>
<path d="M193.2 729.1L198.3 731.2L200.5 727.5L195.4 725.4Z" fill="#327045"/>
<path d="M81.1 704.7L83.2 707.2L86.6 704.9L84.5 702.5Z" fill="#a18822"/>
<path d="M166.8 731.6L171.4 733.8L174.0 730.1L169.3 728.0Z" fill="#246c49"/>
<path d="M207.7 725.8L213.0 727.8L214.9 724.0L209.6 722.1Z" fill="#45753f"/>
<path d="M132.9 729.3L136.8 731.6L139.8 728.0L135.8 725.8Z" fill="#2f6f46"/>
<path d="M83.2 707.2L85.4 709.8L88.8 707.3L86.6 704.9Z" fill="#978721"/>
<path d="M186.0 730.7L191.0 732.8L193.2 729.1L188.3 727.0Z" fill="#2a6e47"/>
<path d="M223.6 718.6L229.1 720.5L230.5 716.9L225.0 715.1Z" fill="#6a7e30"/>
<path d="M105.3 722.1L108.6 724.6L111.8 721.2L108.6 718.9Z" fill="#567a39"/>
<path d="M214.9 724.0L220.3 726.0L222.0 722.3L216.6 720.3Z" fill="#51793b"/>
<path d="M85.4 709.8L87.8 712.5L91.2 709.7L88.8 707.3Z" fill="#8d8620"/>
<path d="M232.6 711.1L238.2 712.7L238.7 711.1L233.1 709.6Z" fill="#8a8521"/>
<path d="M178.7 732.3L183.6 734.4L186.0 730.7L181.1 728.6Z" fill="#246c49"/>
<path d="M122.2 728.3L126.0 730.6L129.0 727.0L125.3 724.8Z" fill="#387243"/>
<path d="M87.8 712.5L90.4 715.1L93.8 712.2L91.2 709.7Z" fill="#828425"/>
<path d="M148.0 732.4L152.3 734.6L155.1 731.0L150.8 728.8Z" fill="#236c4a"/>
<path d="M231.7 713.7L237.3 715.4L238.2 712.7L232.6 711.1Z" fill="#818325"/>
<path d="M159.6 733.1L164.1 735.3L166.8 731.6L162.2 729.5Z" fill="#206b4b"/>
<path d="M108.6 724.6L111.9 727.0L115.1 723.6L111.8 721.2Z" fill="#4d783d"/>
<path d="M222.0 722.3L227.5 724.2L229.1 720.5L223.6 718.6Z" fill="#5c7c37"/>
<path d="M136.8 731.6L140.9 733.8L143.8 730.2L139.8 728.0Z" fill="#286d48"/>
<path d="M90.4 715.1L93.1 717.7L96.4 714.7L93.8 712.2Z" fill="#78822a"/>
<path d="M230.5 716.9L236.1 718.7L237.3 715.4L231.7 713.7Z" fill="#75812b"/>
<path d="M171.4 733.8L176.2 736.0L178.7 732.3L174.0 730.1Z" fill="#1e6a4b"/>
<path d="M205.7 729.5L211.0 731.6L213.0 727.8L207.7 725.8Z" fill="#377143"/>
<path d="M198.3 731.2L203.5 733.3L205.7 729.5L200.5 727.5Z" fill="#2e6f46"/>
<path d="M93.1 717.7L95.9 720.3L99.3 717.2L96.4 714.7Z" fill="#6e7f2e"/>
<path d="M213.0 727.8L218.4 729.9L220.3 726.0L214.9 724.0Z" fill="#427540"/>
<path d="M126.0 730.6L129.8 732.9L132.9 729.3L129.0 727.0Z" fill="#306f46"/>
<path d="M191.0 732.8L196.0 735.0L198.3 731.2L193.2 729.1Z" fill="#266d49"/>
<path d="M111.9 727.0L115.4 729.4L118.6 725.9L115.1 723.6Z" fill="#437540"/>
<path d="M229.1 720.5L234.7 722.4L236.1 718.7L230.5 716.9Z" fill="#687e31"/>
<path d="M152.3 734.6L156.8 736.8L159.6 733.1L155.1 731.0Z" fill="#1d6a4c"/>
<path d="M95.9 720.3L98.9 722.9L102.2 719.7L99.3 717.2Z" fill="#657d33"/>
<path d="M220.3 726.0L225.8 728.1L227.5 724.2L222.0 722.3Z" fill="#4e783c"/>
<path d="M183.6 734.4L188.5 736.6L191.0 732.8L186.0 730.7Z" fill="#1f6b4b"/>
<path d="M140.9 733.8L145.1 736.0L148.0 732.4L143.8 730.2Z" fill="#216b4a"/>
<path d="M164.1 735.3L168.7 737.5L171.4 733.8L166.8 731.6Z" fill="#1a694d"/>
<path d="M238.2 712.7L244.0 714.3L244.5 712.7L238.7 711.1Z" fill="#8a8522"/>
<path d="M115.4 729.4L119.0 731.8L122.2 728.3L118.6 725.9Z" fill="#3a7242"/>
<path d="M98.9 722.9L102.0 725.5L105.3 722.1L102.2 719.7Z" fill="#5b7b37"/>
<path d="M129.8 732.9L133.8 735.2L136.8 731.6L132.9 729.3Z" fill="#286d48"/>
<path d="M237.3 715.4L243.0 717.2L244.0 714.3L238.2 712.7Z" fill="#818326"/>
<path d="M176.2 736.0L181.0 738.1L183.6 734.4L178.7 732.3Z" fill="#19694d"/>
<path d="M227.5 724.2L233.1 726.2L234.7 722.4L229.1 720.5Z" fill="#5a7b38"/>
<path d="M203.5 733.3L208.8 735.5L211.0 731.6L205.7 729.5Z" fill="#2a6e48"/>
<path d="M211.0 731.6L216.4 733.7L218.4 729.9L213.0 727.8Z" fill="#337045"/>
<path d="M236.1 718.7L241.9 720.6L243.0 717.2L237.3 715.4Z" fill="#74812c"/>
<path d="M72.4 699.3L73.9 701.7L77.4 699.9L75.9 697.7Z" fill="#c38a24"/>
<path d="M73.9 701.7L75.6 704.3L79.2 702.2L77.4 699.9Z" fill="#b88923"/>
<path d="M196.0 735.0L201.2 737.1L203.5 733.3L198.3 731.2Z" fill="#216b4a"/>
<path d="M71.0 697.1L72.4 699.3L75.9 697.7L74.6 695.7Z" fill="#cb8b29"/>
<path d="M75.6 704.3L77.6 707.0L81.1 704.7L79.2 702.2Z" fill="#ae8822"/>
<path d="M69.9 695.2L71.0 697.1L74.6 695.7L73.5 694.0Z" fill="#d38c2d"/>
<path d="M102.0 725.5L105.3 728.0L108.6 724.6L105.3 722.1Z" fill="#52793b"/>
<path d="M156.8 736.8L161.3 739.0L164.1 735.3L159.6 733.1Z" fill="#17684e"/>
<path d="M218.4 729.9L223.9 732.0L225.8 728.1L220.3 726.0Z" fill="#3e7441"/>
<path d="M69.1 693.8L69.9 695.2L73.5 694.0L72.7 692.8Z" fill="#d98d31"/>
<path d="M77.6 707.0L79.7 709.7L83.2 707.2L81.1 704.7Z" fill="#a38822"/>
<path d="M145.1 736.0L149.4 738.3L152.3 734.6L148.0 732.4Z" fill="#1b694c"/>
<path d="M68.8 693.1L69.1 693.8L72.7 692.8L72.3 692.1Z" fill="#dd8e33"/>
<path d="M79.7 709.7L81.9 712.5L85.4 709.8L83.2 707.2Z" fill="#988721"/>
<path d="M119.0 731.8L122.8 734.2L126.0 730.6L122.2 728.3Z" fill="#317045"/>
<path d="M168.7 737.5L173.5 739.7L176.2 736.0L171.4 733.8Z" fill="#14684e"/>
<path d="M188.5 736.6L193.6 738.7L196.0 735.0L191.0 732.8Z" fill="#1a694c"/>
<path d="M81.9 712.5L84.3 715.3L87.8 712.5L85.4 709.8Z" fill="#8d8620"/>
<path d="M133.8 735.2L137.9 737.5L140.9 733.8L136.8 731.6Z" fill="#216b4a"/>
<path d="M234.7 722.4L240.5 724.3L241.9 720.6L236.1 718.7Z" fill="#667e32"/>
<path d="M225.8 728.1L231.4 730.1L233.1 726.2L227.5 724.2Z" fill="#4b773d"/>
<path d="M105.3 728.0L108.6 730.5L111.9 727.0L108.6 724.6Z" fill="#47763e"/>
<path d="M84.3 715.3L86.9 718.1L90.4 715.1L87.8 712.5Z" fill="#828425"/>
<path d="M181.0 738.1L186.0 740.3L188.5 736.6L183.6 734.4Z" fill="#14684e"/>
<path d="M86.9 718.1L89.6 720.8L93.1 717.7L90.4 715.1Z" fill="#77812a"/>
<path d="M244.0 714.3L249.8 716.0L250.3 714.3L244.5 712.7Z" fill="#8a8522"/>
<path d="M122.8 734.2L126.6 736.6L129.8 732.9L126.0 730.6Z" fill="#296e48"/>
<path d="M149.4 738.3L153.9 740.5L156.8 736.8L152.3 734.6Z" fill="#14684e"/>
<path d="M233.1 726.2L238.9 728.2L240.5 724.3L234.7 722.4Z" fill="#587b39"/>
<path d="M161.3 739.0L166.0 741.2L168.7 737.5L164.1 735.3Z" fill="#12674f"/>
<path d="M243.0 717.2L248.9 718.9L249.8 716.0L244.0 714.3Z" fill="#808326"/>
<path d="M208.8 735.5L214.2 737.6L216.4 733.7L211.0 731.6Z" fill="#266d49"/>
<path d="M216.4 733.7L221.9 735.9L223.9 732.0L218.4 729.9Z" fill="#306f46"/>
<path d="M89.6 720.8L92.5 723.6L95.9 720.3L93.1 717.7Z" fill="#6c7f2f"/>
<path d="M108.6 730.5L112.1 733.0L115.4 729.4L111.9 727.0Z" fill="#3d7341"/>
<path d="M201.2 737.1L206.5 739.3L208.8 735.5L203.5 733.3Z" fill="#1d6a4c"/>
<path d="M137.9 737.5L142.1 739.8L145.1 736.0L140.9 733.8Z" fill="#1a694d"/>
<path d="M173.5 739.7L178.4 741.9L181.0 738.1L176.2 736.0Z" fill="#126650"/>
<path d="M223.9 732.0L229.5 734.1L231.4 730.1L225.8 728.1Z" fill="#3b7342"/>
<path d="M241.9 720.6L247.7 722.4L248.9 718.9L243.0 717.2Z" fill="#73802c"/>
<path d="M193.6 738.7L198.8 740.9L201.2 737.1L196.0 735.0Z" fill="#15684e"/>
<path d="M92.5 723.6L95.4 726.3L98.9 722.9L95.9 720.3Z" fill="#627d34"/>
<path d="M126.6 736.6L130.6 738.9L133.8 735.2L129.8 732.9Z" fill="#216b4a"/>
<path d="M112.1 733.0L115.7 735.5L119.0 731.8L115.4 729.4Z" fill="#347144"/>
<path d="M231.4 730.1L237.2 732.2L238.9 728.2L233.1 726.2Z" fill="#48763e"/>
<path d="M240.5 724.3L246.3 726.3L247.7 722.4L241.9 720.6Z" fill="#657d33"/>
<path d="M186.0 740.3L191.1 742.5L193.6 738.7L188.5 736.6Z" fill="#126650"/>
<path d="M95.4 726.3L98.6 728.9L102.0 725.5L98.9 722.9Z" fill="#587b39"/>
<path d="M153.9 740.5L158.4 742.8L161.3 739.0L156.8 736.8Z" fill="#126650"/>
<path d="M166.0 741.2L170.7 743.4L173.5 739.7L168.7 737.5Z" fill="#116551"/>
<path d="M142.1 739.8L146.4 742.0L149.4 738.3L145.1 736.0Z" fill="#13674f"/>
<path d="M214.2 737.6L219.8 739.8L221.9 735.9L216.4 733.7Z" fill="#226b4a"/>
<path d="M249.8 716.0L255.8 717.7L256.3 716.0L250.3 714.3Z" fill="#898522"/>
<path d="M98.6 728.9L101.8 731.6L105.3 728.0L102.0 725.5Z" fill="#4d783d"/>
<path d="M206.5 739.3L212.0 741.5L214.2 737.6L208.8 735.5Z" fill="#19694d"/>
<path d="M238.9 728.2L244.7 730.3L246.3 726.3L240.5 724.3Z" fill="#567a39"/>
<path d="M221.9 735.9L227.5 738.1L229.5 734.1L223.9 732.0Z" fill="#2c6e47"/>
<path d="M115.7 735.5L119.5 737.9L122.8 734.2L119.0 731.8Z" fill="#2b6e47"/>
<path d="M178.4 741.9L183.4 744.1L186.0 740.3L181.0 738.1Z" fill="#116551"/>
<path d="M130.6 738.9L134.7 741.2L137.9 737.5L133.8 735.2Z" fill="#19694d"/>
<path d="M248.9 718.9L254.9 720.7L255.8 717.7L249.8 716.0Z" fill="#7f8326"/>
<path d="M198.8 740.9L204.1 743.1L206.5 739.3L201.2 737.1Z" fill="#12674f"/>
<path d="M229.5 734.1L235.3 736.2L237.2 732.2L231.4 730.1Z" fill="#387243"/>
<path d="M72.0 706.4L73.9 709.3L77.6 707.0L75.6 704.3Z" fill="#b18923"/>
<path d="M70.3 703.6L72.0 706.4L75.6 704.3L73.9 701.7Z" fill="#bd8a24"/>
<path d="M73.9 709.3L76.0 712.2L79.7 709.7L77.6 707.0Z" fill="#a58822"/>
<path d="M68.7 700.9L70.3 703.6L73.9 701.7L72.4 699.3Z" fill="#c88b27"/>
<path d="M76.0 712.2L78.3 715.2L81.9 712.5L79.7 709.7Z" fill="#998721"/>
<path d="M247.7 722.4L253.7 724.3L254.9 720.7L248.9 718.9Z" fill="#72802d"/>
<path d="M67.4 698.5L68.7 700.9L72.4 699.3L71.0 697.1Z" fill="#d18c2c"/>
<path d="M101.8 731.6L105.2 734.1L108.6 730.5L105.3 728.0Z" fill="#427540"/>
<path d="M66.3 696.4L67.4 698.5L71.0 697.1L69.9 695.2Z" fill="#da8d31"/>
<path d="M78.3 715.2L80.7 718.2L84.3 715.3L81.9 712.5Z" fill="#8d8620"/>
<path d="M158.4 742.8L163.1 745.0L166.0 741.2L161.3 739.0Z" fill="#116452"/>
<path d="M65.5 694.8L66.3 696.4L69.9 695.2L69.1 693.8Z" fill="#e18f35"/>
<path d="M146.4 742.0L150.8 744.3L153.9 740.5L149.4 738.3Z" fill="#116550"/>
<path d="M191.1 742.5L196.3 744.7L198.8 740.9L193.6 738.7Z" fill="#116551"/>
<path d="M65.1 694.0L65.5 694.8L69.1 693.8L68.8 693.1Z" fill="#e68f37"/>
<path d="M80.7 718.2L83.3 721.1L86.9 718.1L84.3 715.3Z" fill="#818326"/>
<path d="M119.5 737.9L123.3 740.3L126.6 736.6L122.8 734.2Z" fill="#226c4a"/>
<path d="M170.7 743.4L175.6 745.7L178.4 741.9L173.5 739.7Z" fill="#116452"/>
<path d="M237.2 732.2L243.0 734.3L244.7 730.3L238.9 728.2Z" fill="#45753f"/>
<path d="M246.3 726.3L252.3 728.3L253.7 724.3L247.7 722.4Z" fill="#637d33"/>
<path d="M83.3 721.1L86.0 724.1L89.6 720.8L86.9 718.1Z" fill="#75812b"/>
<path d="M134.7 741.2L138.9 743.5L142.1 739.8L137.9 737.5Z" fill="#12674f"/>
<path d="M105.2 734.1L108.7 736.7L112.1 733.0L108.6 730.5Z" fill="#387243"/>
<path d="M183.4 744.1L188.5 746.3L191.1 742.5L186.0 740.3Z" fill="#116452"/>
<path d="M86.0 724.1L88.9 726.9L92.5 723.6L89.6 720.8Z" fill="#6a7e30"/>
<path d="M219.8 739.8L225.4 742.0L227.5 738.1L221.9 735.9Z" fill="#1e6a4b"/>
<path d="M212.0 741.5L217.5 743.7L219.8 739.8L214.2 737.6Z" fill="#15684e"/>
<path d="M227.5 738.1L233.3 740.2L235.3 736.2L229.5 734.1Z" fill="#286d48"/>
<path d="M244.7 730.3L250.7 732.4L252.3 728.3L246.3 726.3Z" fill="#547a3a"/>
<path d="M204.1 743.1L209.6 745.3L212.0 741.5L206.5 739.3Z" fill="#116650"/>
<path d="M123.3 740.3L127.3 742.7L130.6 738.9L126.6 736.6Z" fill="#1a694c"/>
<path d="M88.9 726.9L91.9 729.7L95.4 726.3L92.5 723.6Z" fill="#5f7c36"/>
<path d="M150.8 744.3L155.4 746.5L158.4 742.8L153.9 740.5Z" fill="#116452"/>
<path d="M163.1 745.0L167.8 747.2L170.7 743.4L166.0 741.2Z" fill="#106353"/>
<path d="M235.3 736.2L241.1 738.4L243.0 734.3L237.2 732.2Z" fill="#347144"/>
<path d="M108.7 736.7L112.3 739.2L115.7 735.5L112.1 733.0Z" fill="#2e6f46"/>
<path d="M138.9 743.5L143.3 745.8L146.4 742.0L142.1 739.8Z" fill="#116551"/>
<path d="M196.3 744.7L201.6 747.0L204.1 743.1L198.8 740.9Z" fill="#116452"/>
<path d="M175.6 745.7L180.6 747.9L183.4 744.1L178.4 741.9Z" fill="#106253"/>
<path d="M91.9 729.7L95.0 732.5L98.6 728.9L95.4 726.3Z" fill="#547a3a"/>
<path d="M243.0 734.3L249.0 736.5L250.7 732.4L244.7 730.3Z" fill="#427540"/>
<path d="M127.3 742.7L131.4 745.0L134.7 741.2L130.6 738.9Z" fill="#12674f"/>
<path d="M112.3 739.2L116.1 741.6L119.5 737.9L115.7 735.5Z" fill="#256c49"/>
<path d="M188.5 746.3L193.7 748.5L196.3 744.7L191.1 742.5Z" fill="#106254"/>
<path d="M95.0 732.5L98.3 735.2L101.8 731.6L98.6 728.9Z" fill="#48763e"/>
<path d="M225.4 742.0L231.1 744.2L233.3 740.2L227.5 738.1Z" fill="#1a694d"/>
<path d="M217.5 743.7L223.1 745.9L225.4 742.0L219.8 739.8Z" fill="#12674f"/>
<path d="M155.4 746.5L160.1 748.8L163.1 745.0L158.4 742.8Z" fill="#106254"/>
<path d="M167.8 747.2L172.7 749.5L175.6 745.7L170.7 743.4Z" fill="#106154"/>
<path d="M233.3 740.2L239.1 742.5L241.1 738.4L235.3 736.2Z" fill="#256c49"/>
<path d="M209.6 745.3L215.1 747.6L217.5 743.7L212.0 741.5Z" fill="#116451"/>
<path d="M143.3 745.8L147.7 748.1L150.8 744.3L146.4 742.0Z" fill="#116352"/>
<path d="M98.3 735.2L101.6 737.8L105.2 734.1L101.8 731.6Z" fill="#3d7342"/>
<path d="M180.6 747.9L185.7 750.1L188.5 746.3L183.4 744.1Z" fill="#106155"/>
<path d="M116.1 741.6L119.9 744.1L123.3 740.3L119.5 737.9Z" fill="#1c6a4c"/>
<path d="M241.1 738.4L247.1 740.6L249.0 736.5L243.0 734.3Z" fill="#317045"/>
<path d="M70.2 711.7L72.3 714.9L76.0 712.2L73.9 709.3Z" fill="#a78822"/>
<path d="M201.6 747.0L207.1 749.2L209.6 745.3L204.1 743.1Z" fill="#106353"/>
<path d="M68.2 708.5L70.2 711.7L73.9 709.3L72.0 706.4Z" fill="#b48923"/>
<path d="M72.3 714.9L74.6 718.1L78.3 715.2L76.0 712.2Z" fill="#9a8721"/>
<path d="M131.4 745.0L135.7 747.3L138.9 743.5L134.7 741.2Z" fill="#116551"/>
<path d="M66.5 705.4L68.2 708.5L72.0 706.4L70.3 703.6Z" fill="#c18a24"/>
<path d="M74.6 718.1L77.0 721.2L80.7 718.2L78.3 715.2Z" fill="#8d8620"/>
<path d="M64.9 702.5L66.5 705.4L70.3 703.6L68.7 700.9Z" fill="#cd8c2a"/>
<path d="M77.0 721.2L79.6 724.3L83.3 721.1L80.7 718.2Z" fill="#808326"/>
<path d="M63.6 699.8L64.9 702.5L68.7 700.9L67.4 698.5Z" fill="#d88d30"/>
<path d="M101.6 737.8L105.1 740.4L108.7 736.7L105.2 734.1Z" fill="#327045"/>
<path d="M79.6 724.3L82.3 727.4L86.0 724.1L83.3 721.1Z" fill="#73802c"/>
<path d="M62.5 697.5L63.6 699.8L67.4 698.5L66.3 696.4Z" fill="#e18f35"/>
<path d="M193.7 748.5L199.0 750.8L201.6 747.0L196.3 744.7Z" fill="#106155"/>
<path d="M160.1 748.8L164.8 751.1L167.8 747.2L163.1 745.0Z" fill="#0f6155"/>
<path d="M61.7 695.7L62.5 697.5L66.3 696.4L65.5 694.8Z" fill="#e99039"/>
<path d="M147.7 748.1L152.3 750.4L155.4 746.5L150.8 744.3Z" fill="#106254"/>
<path d="M61.3 694.8L61.7 695.7L65.5 694.8L65.1 694.0Z" fill="#ef913c"/>
<path d="M82.3 727.4L85.2 730.3L88.9 726.9L86.0 724.1Z" fill="#677e32"/>
<path d="M172.7 749.5L177.7 751.7L180.6 747.9L175.6 745.7Z" fill="#0f6056"/>
<path d="M119.9 744.1L123.9 746.5L127.3 742.7L123.3 740.3Z" fill="#14674f"/>
<path d="M223.1 745.9L228.9 748.2L231.1 744.2L225.4 742.0Z" fill="#116650"/>
<path d="M231.1 744.2L237.0 746.5L239.1 742.5L233.3 740.2Z" fill="#16684e"/>
<path d="M135.7 747.3L140.0 749.7L143.3 745.8L138.9 743.5Z" fill="#116353"/>
<path d="M215.1 747.6L220.8 749.8L223.1 745.9L217.5 743.7Z" fill="#116352"/>
<path d="M105.1 740.4L108.8 743.0L112.3 739.2L108.7 736.7Z" fill="#286d48"/>
<path d="M85.2 730.3L88.2 733.3L91.9 729.7L88.9 726.9Z" fill="#5c7b37"/>
<path d="M239.1 742.5L245.1 744.7L247.1 740.6L241.1 738.4Z" fill="#216b4a"/>
<path d="M185.7 750.1L190.9 752.4L193.7 748.5L188.5 746.3Z" fill="#0f6056"/>
<path d="M207.1 749.2L212.6 751.4L215.1 747.6L209.6 745.3Z" fill="#106154"/>
<path d="M88.2 733.3L91.3 736.1L95.0 732.5L91.9 729.7Z" fill="#50793c"/>
<path d="M123.9 746.5L128.0 748.9L131.4 745.0L127.3 742.7Z" fill="#116551"/>
<path d="M164.8 751.1L169.7 753.3L172.7 749.5L167.8 747.2Z" fill="#0f5f57"/>
<path d="M152.3 750.4L156.9 752.6L160.1 748.8L155.4 746.5Z" fill="#0f6056"/>
<path d="M108.8 743.0L112.5 745.5L116.1 741.6L112.3 739.2Z" fill="#1f6b4b"/>
<path d="M199.0 750.8L204.5 753.0L207.1 749.2L201.6 747.0Z" fill="#0f6056"/>
<path d="M91.3 736.1L94.6 738.9L98.3 735.2L95.0 732.5Z" fill="#44753f"/>
<path d="M177.7 751.7L182.9 754.0L185.7 750.1L180.6 747.9Z" fill="#0f5f57"/>
<path d="M140.0 749.7L144.5 752.0L147.7 748.1L143.3 745.8Z" fill="#106154"/>
<path d="M228.9 748.2L234.8 750.4L237.0 746.5L231.1 744.2Z" fill="#116451"/>
<path d="M237.0 746.5L243.0 748.7L245.1 744.7L239.1 742.5Z" fill="#13674f"/>
<path d="M220.8 749.8L226.5 752.1L228.9 748.2L223.1 745.9Z" fill="#106254"/>
<path d="M190.9 752.4L196.3 754.6L199.0 750.8L193.7 748.5Z" fill="#0f5e57"/>
<path d="M94.6 738.9L98.0 741.6L101.6 737.8L98.3 735.2Z" fill="#387243"/>
<path d="M112.5 745.5L116.4 747.9L119.9 744.1L116.1 741.6Z" fill="#16684e"/>
<path d="M128.0 748.9L132.3 751.2L135.7 747.3L131.4 745.0Z" fill="#116353"/>
<path d="M212.6 751.4L218.3 753.7L220.8 749.8L215.1 747.6Z" fill="#0f6055"/>
<path d="M156.9 752.6L161.7 754.9L164.8 751.1L160.1 748.8Z" fill="#0f5e57"/>
<path d="M169.7 753.3L174.8 755.6L177.7 751.7L172.7 749.5Z" fill="#0e5e58"/>
<path d="M68.4 717.6L70.7 721.0L74.6 718.1L72.3 714.9Z" fill="#9b8721"/>
<path d="M66.3 714.1L68.4 717.6L72.3 714.9L70.2 711.7Z" fill="#a98822"/>
<path d="M70.7 721.0L73.2 724.3L77.0 721.2L74.6 718.1Z" fill="#8d8620"/>
<path d="M144.5 752.0L149.0 754.2L152.3 750.4L147.7 748.1Z" fill="#0f6056"/>
<path d="M98.0 741.6L101.5 744.2L105.1 740.4L101.6 737.8Z" fill="#2d6f47"/>
<path d="M64.4 710.7L66.3 714.1L70.2 711.7L68.2 708.5Z" fill="#b78923"/>
<path d="M73.2 724.3L75.8 727.6L79.6 724.3L77.0 721.2Z" fill="#7f8327"/>
<path d="M204.5 753.0L210.0 755.3L212.6 751.4L207.1 749.2Z" fill="#0f5f57"/>
<path d="M62.6 707.4L64.4 710.7L68.2 708.5L66.5 705.4Z" fill="#c58b26"/>
<path d="M182.9 754.0L188.1 756.2L190.9 752.4L185.7 750.1Z" fill="#0e5d58"/>
<path d="M75.8 727.6L78.5 730.8L82.3 727.4L79.6 724.3Z" fill="#71802d"/>
<path d="M116.4 747.9L120.4 750.4L123.9 746.5L119.9 744.1Z" fill="#116650"/>
<path d="M61.0 704.1L62.6 707.4L66.5 705.4L64.9 702.5Z" fill="#d28c2d"/>
<path d="M132.3 751.2L136.6 753.5L140.0 749.7L135.7 747.3Z" fill="#106154"/>
<path d="M78.5 730.8L81.4 733.9L85.2 730.3L82.3 727.4Z" fill="#657d33"/>
<path d="M59.7 701.2L61.0 704.1L64.9 702.5L63.6 699.8Z" fill="#de8e33"/>
<path d="M101.5 744.2L105.1 746.8L108.8 743.0L105.1 740.4Z" fill="#236c4a"/>
<path d="M196.3 754.6L201.7 756.9L204.5 753.0L199.0 750.8Z" fill="#0e5d58"/>
<path d="M234.8 750.4L240.8 752.7L243.0 748.7L237.0 746.5Z" fill="#116352"/>
<path d="M58.5 698.6L59.7 701.2L63.6 699.8L62.5 697.5Z" fill="#e99039"/>
<path d="M81.4 733.9L84.4 736.9L88.2 733.3L85.2 730.3Z" fill="#597b38"/>
<path d="M226.5 752.1L232.4 754.4L234.8 750.4L228.9 748.2Z" fill="#106155"/>
<path d="M57.7 696.6L58.5 698.6L62.5 697.5L61.7 695.7Z" fill="#f2913f"/>
<path d="M161.7 754.9L166.6 757.2L169.7 753.3L164.8 751.1Z" fill="#0e5d58"/>
<path d="M57.3 695.6L57.7 696.6L61.7 695.7L61.3 694.8Z" fill="#f39347"/>
<path d="M149.0 754.2L153.7 756.5L156.9 752.6L152.3 750.4Z" fill="#0f5e57"/>
<path d="M218.3 753.7L224.1 756.0L226.5 752.1L220.8 749.8Z" fill="#0f5f56"/>
<path d="M174.8 755.6L179.9 757.8L182.9 754.0L177.7 751.7Z" fill="#0e5c59"/>
<path d="M120.4 750.4L124.6 752.8L128.0 748.9L123.9 746.5Z" fill="#116452"/>
<path d="M84.4 736.9L87.5 739.8L91.3 736.1L88.2 733.3Z" fill="#4c773d"/>
<path d="M105.1 746.8L108.9 749.4L112.5 745.5L108.8 743.0Z" fill="#19694d"/>
<path d="M136.6 753.5L141.1 755.9L144.5 752.0L140.0 749.7Z" fill="#0f6056"/>
<path d="M188.1 756.2L193.4 758.5L196.3 754.6L190.9 752.4Z" fill="#0e5c59"/>
<path d="M210.0 755.3L215.7 757.6L218.3 753.7L212.6 751.4Z" fill="#0e5d58"/>
<path d="M87.5 739.8L90.8 742.7L94.6 738.9L91.3 736.1Z" fill="#3f7441"/>
<path d="M124.6 752.8L128.8 755.1L132.3 751.2L128.0 748.9Z" fill="#106154"/>
<path d="M201.7 756.9L207.3 759.2L210.0 755.3L204.5 753.0Z" fill="#0e5c59"/>
<path d="M108.9 749.4L112.8 751.9L116.4 747.9L112.5 745.5Z" fill="#126650"/>
<path d="M166.6 757.2L171.7 759.4L174.8 755.6L169.7 753.3Z" fill="#0e5c5a"/>
<path d="M90.8 742.7L94.2 745.4L98.0 741.6L94.6 738.9Z" fill="#337045"/>
<path d="M153.7 756.5L158.5 758.8L161.7 754.9L156.9 752.6Z" fill="#0e5c59"/>
<path d="M232.4 754.4L238.4 756.7L240.8 752.7L234.8 750.4Z" fill="#0f6055"/>
<path d="M179.9 757.8L185.1 760.1L188.1 756.2L182.9 754.0Z" fill="#0d5b5a"/>
<path d="M141.1 755.9L145.7 758.2L149.0 754.2L144.5 752.0Z" fill="#0e5e58"/>
<path d="M224.1 756.0L229.9 758.3L232.4 754.4L226.5 752.1Z" fill="#0f5e57"/>
<path d="M94.2 745.4L97.7 748.1L101.5 744.2L98.0 741.6Z" fill="#286d48"/>
<path d="M193.4 758.5L198.9 760.8L201.7 756.9L196.3 754.6Z" fill="#0d5b5b"/>
<path d="M112.8 751.9L116.8 754.3L120.4 750.4L116.4 747.9Z" fill="#116452"/>
<path d="M215.7 757.6L221.5 759.9L224.1 756.0L218.3 753.7Z" fill="#0e5c59"/>
<path d="M66.8 724.0L69.2 727.5L73.2 724.3L70.7 721.0Z" fill="#8d8620"/>
<path d="M64.5 720.3L66.8 724.0L70.7 721.0L68.4 717.6Z" fill="#9c8721"/>
<path d="M128.8 755.1L133.2 757.5L136.6 753.5L132.3 751.2Z" fill="#0f6056"/>
<path d="M69.2 727.5L71.8 731.0L75.8 727.6L73.2 724.3Z" fill="#7e8327"/>
<path d="M62.3 716.7L64.5 720.3L68.4 717.6L66.3 714.1Z" fill="#ab8822"/>
<path d="M71.8 731.0L74.6 734.3L78.5 730.8L75.8 727.6Z" fill="#70802e"/>
<path d="M60.4 713.0L62.3 716.7L66.3 714.1L64.4 710.7Z" fill="#bb8923"/>
<path d="M158.5 758.8L163.4 761.1L166.6 757.2L161.7 754.9Z" fill="#0d5b5a"/>
<path d="M171.7 759.4L176.8 761.7L179.9 757.8L174.8 755.6Z" fill="#0d5a5b"/>
<path d="M58.6 709.3L60.4 713.0L64.4 710.7L62.6 707.4Z" fill="#ca8b28"/>
<path d="M97.7 748.1L101.4 750.8L105.1 746.8L101.5 744.2Z" fill="#1d6a4c"/>
<path d="M74.6 734.3L77.4 737.5L81.4 733.9L78.5 730.8Z" fill="#627d34"/>
<path d="M207.3 759.2L213.0 761.5L215.7 757.6L210.0 755.3Z" fill="#0d5b5a"/>
<path d="M145.7 758.2L150.4 760.5L153.7 756.5L149.0 754.2Z" fill="#0e5c59"/>
<path d="M57.0 705.8L58.6 709.3L62.6 707.4L61.0 704.1Z" fill="#d88d30"/>
<path d="M185.1 760.1L190.5 762.4L193.4 758.5L188.1 756.2Z" fill="#0d5a5c"/>
<path d="M77.4 737.5L80.5 740.6L84.4 736.9L81.4 733.9Z" fill="#567a3a"/>
<path d="M116.8 754.3L120.9 756.7L124.6 752.8L120.4 750.4Z" fill="#106254"/>
<path d="M55.6 702.5L57.0 705.8L61.0 704.1L59.7 701.2Z" fill="#e68f37"/>
<path d="M133.2 757.5L137.6 759.8L141.1 755.9L136.6 753.5Z" fill="#0e5e58"/>
<path d="M229.9 758.3L235.9 760.6L238.4 756.7L232.4 754.4Z" fill="#0e5d58"/>
<path d="M80.5 740.6L83.6 743.6L87.5 739.8L84.4 736.9Z" fill="#48763e"/>
<path d="M101.4 750.8L105.2 753.3L108.9 749.4L105.1 746.8Z" fill="#13674f"/>
<path d="M198.9 760.8L204.5 763.0L207.3 759.2L201.7 756.9Z" fill="#0d5a5c"/>
<path d="M54.5 699.6L55.6 702.5L59.7 701.2L58.5 698.6Z" fill="#f2913e"/>
<path d="M221.5 759.9L227.4 762.2L229.9 758.3L224.1 756.0Z" fill="#0d5b5a"/>
<path d="M53.7 697.3L54.5 699.6L58.5 698.6L57.7 696.6Z" fill="#f4944c"/>
<path d="M83.6 743.6L86.9 746.5L90.8 742.7L87.5 739.8Z" fill="#3b7242"/>
<path d="M163.4 761.1L168.5 763.3L171.7 759.4L166.6 757.2Z" fill="#0d5a5c"/>
<path d="M53.3 696.2L53.7 697.3L57.7 696.6L57.3 695.6Z" fill="#f59656"/>
<path d="M176.8 761.7L182.1 764.0L185.1 760.1L179.9 757.8Z" fill="#0d595c"/>
<path d="M150.4 760.5L155.2 762.7L158.5 758.8L153.7 756.5Z" fill="#0d5b5b"/>
<path d="M120.9 756.7L125.2 759.1L128.8 755.1L124.6 752.8Z" fill="#0f6056"/>
<path d="M105.2 753.3L109.1 755.9L112.8 751.9L108.9 749.4Z" fill="#116551"/>
<path d="M213.0 761.5L218.8 763.8L221.5 759.9L215.7 757.6Z" fill="#0d5a5c"/>
<path d="M190.5 762.4L196.0 764.6L198.9 760.8L193.4 758.5Z" fill="#0c595d"/>
<path d="M86.9 746.5L90.3 749.4L94.2 745.4L90.8 742.7Z" fill="#2e6f46"/>
<path d="M137.6 759.8L142.2 762.1L145.7 758.2L141.1 755.9Z" fill="#0e5c59"/>
<path d="M204.5 763.0L210.2 765.3L213.0 761.5L207.3 759.2Z" fill="#0c585d"/>
<path d="M90.3 749.4L93.9 752.1L97.7 748.1L94.2 745.4Z" fill="#236c4a"/>
<path d="M125.2 759.1L129.6 761.5L133.2 757.5L128.8 755.1Z" fill="#0e5e58"/>
<path d="M109.1 755.9L113.1 758.3L116.8 754.3L112.8 751.9Z" fill="#106253"/>
<path d="M168.5 763.3L173.6 765.6L176.8 761.7L171.7 759.4Z" fill="#0c585d"/>
<path d="M155.2 762.7L160.1 765.0L163.4 761.1L158.5 758.8Z" fill="#0d595c"/>
<path d="M227.4 762.2L233.4 764.5L235.9 760.6L229.9 758.3Z" fill="#0d5a5b"/>
<path d="M182.1 764.0L187.4 766.2L190.5 762.4L185.1 760.1Z" fill="#0c585e"/>
<path d="M62.7 727.1L65.1 730.8L69.2 727.5L66.8 724.0Z" fill="#8d8620"/>
<path d="M65.1 730.8L67.7 734.4L71.8 731.0L69.2 727.5Z" fill="#7d8327"/>
<path d="M142.2 762.1L146.9 764.4L150.4 760.5L145.7 758.2Z" fill="#0d5a5b"/>
<path d="M60.4 723.2L62.7 727.1L66.8 724.0L64.5 720.3Z" fill="#9d8721"/>
<path d="M67.7 734.4L70.5 737.9L74.6 734.3L71.8 731.0Z" fill="#6e7f2e"/>
<path d="M93.9 752.1L97.5 754.8L101.4 750.8L97.7 748.1Z" fill="#18694d"/>
<path d="M58.2 719.3L60.4 723.2L64.5 720.3L62.3 716.7Z" fill="#ad8822"/>
<path d="M196.0 764.6L201.5 766.9L204.5 763.0L198.9 760.8Z" fill="#0c575e"/>
<path d="M218.8 763.8L224.7 766.1L227.4 762.2L221.5 759.9Z" fill="#0c595d"/>
<path d="M70.5 737.9L73.4 741.2L77.4 737.5L74.6 734.3Z" fill="#607c35"/>
<path d="M56.2 715.2L58.2 719.3L62.3 716.7L60.4 713.0Z" fill="#bf8a24"/>
<path d="M113.1 758.3L117.2 760.8L120.9 756.7L116.8 754.3Z" fill="#0f6055"/>
<path d="M129.6 761.5L134.1 763.8L137.6 759.8L133.2 757.5Z" fill="#0e5c59"/>
<path d="M73.4 741.2L76.4 744.4L80.5 740.6L77.4 737.5Z" fill="#52793b"/>
<path d="M54.4 711.2L56.2 715.2L60.4 713.0L58.6 709.3Z" fill="#cf8c2b"/>
<path d="M97.5 754.8L101.3 757.4L105.2 753.3L101.4 750.8Z" fill="#126650"/>
<path d="M210.2 765.3L216.0 767.6L218.8 763.8L213.0 761.5Z" fill="#0c575e"/>
<path d="M76.4 744.4L79.6 747.5L83.6 743.6L80.5 740.6Z" fill="#44753f"/>
<path d="M160.1 765.0L165.2 767.3L168.5 763.3L163.4 761.1Z" fill="#0c585d"/>
<path d="M52.8 707.4L54.4 711.2L58.6 709.3L57.0 705.8Z" fill="#de8e33"/>
<path d="M173.6 765.6L178.9 767.9L182.1 764.0L176.8 761.7Z" fill="#0c575e"/>
<path d="M146.9 764.4L151.8 766.7L155.2 762.7L150.4 760.5Z" fill="#0c595c"/>
<path d="M187.4 766.2L192.9 768.5L196.0 764.6L190.5 762.4Z" fill="#0c565f"/>
<path d="M51.5 703.7L52.8 707.4L57.0 705.8L55.6 702.5Z" fill="#ee903c"/>
<path d="M117.2 760.8L121.5 763.2L125.2 759.1L120.9 756.7Z" fill="#0f5e57"/>
<path d="M79.6 747.5L82.9 750.5L86.9 746.5L83.6 743.6Z" fill="#367144"/>
<path d="M101.3 757.4L105.2 759.9L109.1 755.9L105.2 753.3Z" fill="#116352"/>
<path d="M134.1 763.8L138.7 766.1L142.2 762.1L137.6 759.8Z" fill="#0d5a5b"/>
<path d="M50.3 700.5L51.5 703.7L55.6 702.5L54.5 699.6Z" fill="#f3944b"/>
<path d="M201.5 766.9L207.2 769.2L210.2 765.3L204.5 763.0Z" fill="#0b565f"/>
<path d="M224.7 766.1L230.7 768.4L233.4 764.5L227.4 762.2Z" fill="#0c585d"/>
<path d="M82.9 750.5L86.3 753.4L90.3 749.4L86.9 746.5Z" fill="#296e48"/>
<path d="M49.5 697.9L50.3 700.5L54.5 699.6L53.7 697.3Z" fill="#f5985b"/>
<path d="M165.2 767.3L170.3 769.6L173.6 765.6L168.5 763.3Z" fill="#0c565f"/>
<path d="M49.1 696.7L49.5 697.9L53.7 697.3L53.3 696.2Z" fill="#f69a66"/>
<path d="M178.9 767.9L184.3 770.2L187.4 766.2L182.1 764.0Z" fill="#0b565f"/>
<path d="M121.5 763.2L125.9 765.5L129.6 761.5L125.2 759.1Z" fill="#0e5c59"/>
<path d="M151.8 766.7L156.7 769.0L160.1 765.0L155.2 762.7Z" fill="#0c575e"/>
<path d="M216.0 767.6L221.9 769.9L224.7 766.1L218.8 763.8Z" fill="#0c565f"/>
<path d="M105.2 759.9L109.2 762.4L113.1 758.3L109.1 755.9Z" fill="#106155"/>
<path d="M86.3 753.4L89.9 756.2L93.9 752.1L90.3 749.4Z" fill="#1e6a4b"/>
<path d="M192.9 768.5L198.5 770.8L201.5 766.9L196.0 764.6Z" fill="#0b5560"/>
<path d="M138.7 766.1L143.4 768.4L146.9 764.4L142.2 762.1Z" fill="#0c595d"/>
<path d="M89.9 756.2L93.5 758.9L97.5 754.8L93.9 752.1Z" fill="#13674f"/>
<path d="M207.2 769.2L213.1 771.5L216.0 767.6L210.2 765.3Z" fill="#0b5560"/>
<path d="M60.9 734.2L63.6 738.0L67.7 734.4L65.1 730.8Z" fill="#7c8228"/>
<path d="M58.5 730.2L60.9 734.2L65.1 730.8L62.7 727.1Z" fill="#8d8620"/>
<path d="M63.6 738.0L66.3 741.6L70.5 737.9L67.7 734.4Z" fill="#6c7f2f"/>
<path d="M56.1 726.1L58.5 730.2L62.7 727.1L60.4 723.2Z" fill="#9e8721"/>
<path d="M109.2 762.4L113.4 764.9L117.2 760.8L113.1 758.3Z" fill="#0f5f57"/>
<path d="M125.9 765.5L130.4 767.9L134.1 763.8L129.6 761.5Z" fill="#0d5a5b"/>
<path d="M66.3 741.6L69.2 745.0L73.4 741.2L70.5 737.9Z" fill="#5e7c36"/>
<path d="M54.0 721.9L56.1 726.1L60.4 723.2L58.2 719.3Z" fill="#b08923"/>
<path d="M170.3 769.6L175.6 771.8L178.9 767.9L173.6 765.6Z" fill="#0b5560"/>
<path d="M156.7 769.0L161.8 771.3L165.2 767.3L160.1 765.0Z" fill="#0b565f"/>
<path d="M184.3 770.2L189.8 772.4L192.9 768.5L187.4 766.2Z" fill="#0b5460"/>
<path d="M69.2 745.0L72.3 748.3L76.4 744.4L73.4 741.2Z" fill="#4f783c"/>
<path d="M52.0 717.6L54.0 721.9L58.2 719.3L56.2 715.2Z" fill="#c28a24"/>
<path d="M93.5 758.9L97.3 761.5L101.3 757.4L97.5 754.8Z" fill="#116451"/>
<path d="M143.4 768.4L148.2 770.7L151.8 766.7L146.9 764.4Z" fill="#0c575e"/>
<path d="M221.9 769.9L227.9 772.3L230.7 768.4L224.7 766.1Z" fill="#0b5560"/>
<path d="M72.3 748.3L75.5 751.5L79.6 747.5L76.4 744.4Z" fill="#407441"/>
<path d="M198.5 770.8L204.2 773.1L207.2 769.2L201.5 766.9Z" fill="#0b5460"/>
<path d="M50.2 713.2L52.0 717.6L56.2 715.2L54.4 711.2Z" fill="#d48d2e"/>
<path d="M113.4 764.9L117.7 767.3L121.5 763.2L117.2 760.8Z" fill="#0e5d59"/>
<path d="M130.4 767.9L135.0 770.2L138.7 766.1L134.1 763.8Z" fill="#0c595c"/>
<path d="M75.5 751.5L78.8 754.5L82.9 750.5L79.6 747.5Z" fill="#327045"/>
<path d="M48.6 708.9L50.2 713.2L54.4 711.2L52.8 707.4Z" fill="#e58f37"/>
<path d="M97.3 761.5L101.3 764.1L105.2 759.9L101.3 757.4Z" fill="#106254"/>
<path d="M213.1 771.5L219.0 773.8L221.9 769.9L216.0 767.6Z" fill="#0b5460"/>
<path d="M161.8 771.3L166.9 773.5L170.3 769.6L165.2 767.3Z" fill="#0b5460"/>
<path d="M175.6 771.8L181.0 774.1L184.3 770.2L178.9 767.9Z" fill="#0b5360"/>
<path d="M78.8 754.5L82.2 757.5L86.3 753.4L82.9 750.5Z" fill="#256c49"/>
<path d="M47.2 704.9L48.6 708.9L52.8 707.4L51.5 703.7Z" fill="#f39243"/>
<path d="M148.2 770.7L153.2 773.0L156.7 769.0L151.8 766.7Z" fill="#0b565f"/>
<path d="M189.8 772.4L195.4 774.7L198.5 770.8L192.9 768.5Z" fill="#0b5360"/>
<path d="M117.7 767.3L122.1 769.7L125.9 765.5L121.5 763.2Z" fill="#0d5b5b"/>
<path d="M101.3 764.1L105.3 766.6L109.2 762.4L105.2 759.9Z" fill="#0f5f56"/>
<path d="M46.0 701.3L47.2 704.9L51.5 703.7L50.3 700.5Z" fill="#f59759"/>
<path d="M82.2 757.5L85.8 760.3L89.9 756.2L86.3 753.4Z" fill="#19694d"/>
<path d="M135.0 770.2L139.7 772.5L143.4 768.4L138.7 766.1Z" fill="#0c575e"/>
<path d="M204.2 773.1L210.0 775.4L213.1 771.5L207.2 769.2Z" fill="#0b5260"/>
<path d="M45.2 698.4L46.0 701.3L50.3 700.5L49.5 697.9Z" fill="#f79b6b"/>
<path d="M44.8 696.9L45.2 698.4L49.5 697.9L49.1 696.7Z" fill="#f89e77"/>
<path d="M85.8 760.3L89.4 763.0L93.5 758.9L89.9 756.2Z" fill="#126650"/>
<path d="M166.9 773.5L172.2 775.8L175.6 771.8L170.3 769.6Z" fill="#0b5360"/>
<path d="M219.0 773.8L225.0 776.2L227.9 772.3L221.9 769.9Z" fill="#0b5260"/>
<path d="M122.1 769.7L126.6 772.0L130.4 767.9L125.9 765.5Z" fill="#0d595c"/>
<path d="M181.0 774.1L186.5 776.4L189.8 772.4L184.3 770.2Z" fill="#0b5260"/>
<path d="M105.3 766.6L109.5 769.0L113.4 764.9L109.2 762.4Z" fill="#0e5d58"/>
<path d="M153.2 773.0L158.2 775.3L161.8 771.3L156.7 769.0Z" fill="#0b5460"/>
<path d="M56.6 737.7L59.3 741.6L63.6 738.0L60.9 734.2Z" fill="#7b8228"/>
<path d="M59.3 741.6L62.0 745.4L66.3 741.6L63.6 738.0Z" fill="#6a7f30"/>
<path d="M54.1 733.5L56.6 737.7L60.9 734.2L58.5 730.2Z" fill="#8d8620"/>
<path d="M195.4 774.7L201.1 777.0L204.2 773.1L198.5 770.8Z" fill="#0b5160"/>
<path d="M62.0 745.4L65.0 748.9L69.2 745.0L66.3 741.6Z" fill="#5b7b37"/>
<path d="M51.8 729.2L54.1 733.5L58.5 730.2L56.1 726.1Z" fill="#9f8721"/>
<path d="M139.7 772.5L144.6 774.8L148.2 770.7L143.4 768.4Z" fill="#0b565f"/>
<path d="M89.4 763.0L93.2 765.7L97.3 761.5L93.5 758.9Z" fill="#106353"/>
<path d="M65.0 748.9L68.0 752.3L72.3 748.3L69.2 745.0Z" fill="#4b773d"/>
<path d="M49.6 724.6L51.8 729.2L56.1 726.1L54.0 721.9Z" fill="#b28923"/>
<path d="M210.0 775.4L216.0 777.7L219.0 773.8L213.1 771.5Z" fill="#0b5160"/>
<path d="M68.0 752.3L71.2 755.6L75.5 751.5L72.3 748.3Z" fill="#3c7342"/>
<path d="M109.5 769.0L113.7 771.5L117.7 767.3L113.4 764.9Z" fill="#0d5b5a"/>
<path d="M47.6 719.9L49.6 724.6L54.0 721.9L52.0 717.6Z" fill="#c68b26"/>
<path d="M126.6 772.0L131.2 774.3L135.0 770.2L130.4 767.9Z" fill="#0c575e"/>
<path d="M172.2 775.8L177.6 778.1L181.0 774.1L175.6 771.8Z" fill="#0b5160"/>
<path d="M158.2 775.3L163.4 777.6L166.9 773.5L161.8 771.3Z" fill="#0b5260"/>
<path d="M71.2 755.6L74.5 758.7L78.8 754.5L75.5 751.5Z" fill="#2d6f46"/>
<path d="M93.2 765.7L97.2 768.3L101.3 764.1L97.3 761.5Z" fill="#0f6055"/>
<path d="M186.5 776.4L192.1 778.7L195.4 774.7L189.8 772.4Z" fill="#0b5060"/>
<path d="M45.8 715.2L47.6 719.9L52.0 717.6L50.2 713.2Z" fill="#d98d30"/>
<path d="M144.6 774.8L149.5 777.1L153.2 773.0L148.2 770.7Z" fill="#0b5460"/>
<path d="M201.1 777.0L206.9 779.3L210.0 775.4L204.2 773.1Z" fill="#0b5060"/>
<path d="M74.5 758.7L78.0 761.6L82.2 757.5L78.8 754.5Z" fill="#206b4b"/>
<path d="M113.7 771.5L118.1 773.8L122.1 769.7L117.7 767.3Z" fill="#0d595c"/>
<path d="M44.2 710.5L45.8 715.2L50.2 713.2L48.6 708.9Z" fill="#ec903b"/>
<path d="M131.2 774.3L135.9 776.7L139.7 772.5L135.0 770.2Z" fill="#0b565f"/>
<path d="M97.2 768.3L101.2 770.8L105.3 766.6L101.3 764.1Z" fill="#0f5e57"/>
<path d="M216.0 777.7L222.0 780.1L225.0 776.2L219.0 773.8Z" fill="#0b5060"/>
<path d="M78.0 761.6L81.5 764.5L85.8 760.3L82.2 757.5Z" fill="#14684e"/>
<path d="M42.7 706.0L44.2 710.5L48.6 708.9L47.2 704.9Z" fill="#f49550"/>
<path d="M177.6 778.1L183.1 780.4L186.5 776.4L181.0 774.1Z" fill="#0b4f60"/>
<path d="M163.4 777.6L168.7 779.9L172.2 775.8L166.9 773.5Z" fill="#0b5060"/>
<path d="M192.1 778.7L197.9 781.0L201.1 777.0L195.4 774.7Z" fill="#0b4f60"/>
<path d="M149.5 777.1L154.6 779.4L158.2 775.3L153.2 773.0Z" fill="#0b5260"/>
<path d="M118.1 773.8L122.7 776.2L126.6 772.0L122.1 769.7Z" fill="#0c575e"/>
<path d="M81.5 764.5L85.2 767.3L89.4 763.0L85.8 760.3Z" fill="#116451"/>
<path d="M101.2 770.8L105.4 773.3L109.5 769.0L105.3 766.6Z" fill="#0e5c5a"/>
<path d="M41.6 701.9L42.7 706.0L47.2 704.9L46.0 701.3Z" fill="#f69b68"/>
<path d="M206.9 779.3L212.9 781.6L216.0 777.7L210.0 775.4Z" fill="#0b4e61"/>
<path d="M135.9 776.7L140.8 778.9L144.6 774.8L139.7 772.5Z" fill="#0b5460"/>
<path d="M52.2 741.2L54.9 745.4L59.3 741.6L56.6 737.7Z" fill="#7a8229"/>
<path d="M54.9 745.4L57.6 749.3L62.0 745.4L59.3 741.6Z" fill="#697e31"/>
<path d="M40.7 698.7L41.6 701.9L46.0 701.3L45.2 698.4Z" fill="#f99f7c"/>
<path d="M49.7 736.9L52.2 741.2L56.6 737.7L54.1 733.5Z" fill="#8d8620"/>
<path d="M57.6 749.3L60.6 752.9L65.0 748.9L62.0 745.4Z" fill="#597b38"/>
<path d="M85.2 767.3L89.0 769.9L93.2 765.7L89.4 763.0Z" fill="#106254"/>
<path d="M47.3 732.3L49.7 736.9L54.1 733.5L51.8 729.2Z" fill="#a08721"/>
<path d="M60.6 752.9L63.6 756.4L68.0 752.3L65.0 748.9Z" fill="#48763e"/>
<path d="M40.3 697.0L40.7 698.7L45.2 698.4L44.8 696.9Z" fill="#f9a38a"/>
<path d="M105.4 773.3L109.7 775.7L113.7 771.5L109.5 769.0Z" fill="#0d5a5b"/>
<path d="M168.7 779.9L174.1 782.1L177.6 778.1L172.2 775.8Z" fill="#0b4f60"/>
<path d="M122.7 776.2L127.3 778.5L131.2 774.3L126.6 772.0Z" fill="#0b565f"/>
<path d="M183.1 780.4L188.8 782.7L192.1 778.7L186.5 776.4Z" fill="#0b4e61"/>
<path d="M45.2 727.4L47.3 732.3L51.8 729.2L49.6 724.6Z" fill="#b58923"/>
<path d="M154.6 779.4L159.8 781.7L163.4 777.6L158.2 775.3Z" fill="#0b5060"/>
<path d="M63.6 756.4L66.8 759.7L71.2 755.6L68.0 752.3Z" fill="#387243"/>
<path d="M197.9 781.0L203.7 783.3L206.9 779.3L201.1 777.0Z" fill="#0b4d61"/>
<path d="M89.0 769.9L93.0 772.5L97.2 768.3L93.2 765.7Z" fill="#0f5f56"/>
<path d="M140.8 778.9L145.8 781.2L149.5 777.1L144.6 774.8Z" fill="#0b5260"/>
<path d="M66.8 759.7L70.2 762.9L74.5 758.7L71.2 755.6Z" fill="#296e48"/>
<path d="M43.1 722.3L45.2 727.4L49.6 724.6L47.6 719.9Z" fill="#ca8b28"/>
<path d="M212.9 781.6L219.0 784.0L222.0 780.1L216.0 777.7Z" fill="#0b4d61"/>
<path d="M109.7 775.7L114.1 778.1L118.1 773.8L113.7 771.5Z" fill="#0c585d"/>
<path d="M70.2 762.9L73.6 765.9L78.0 761.6L74.5 758.7Z" fill="#1c6a4c"/>
<path d="M41.3 717.2L43.1 722.3L47.6 719.9L45.8 715.2Z" fill="#df8e33"/>
<path d="M127.3 778.5L132.1 780.8L135.9 776.7L131.2 774.3Z" fill="#0b5460"/>
<path d="M93.0 772.5L97.1 775.1L101.2 770.8L97.2 768.3Z" fill="#0e5d59"/>
<path d="M174.1 782.1L179.7 784.4L183.1 780.4L177.6 778.1Z" fill="#0b4d61"/>
<path d="M159.8 781.7L165.1 783.9L168.7 779.9L163.4 777.6Z" fill="#0b4e61"/>
<path d="M188.8 782.7L194.5 785.0L197.9 781.0L192.1 778.7Z" fill="#0b4c61"/>
<path d="M73.6 765.9L77.2 768.8L81.5 764.5L78.0 761.6Z" fill="#126650"/>
<path d="M39.6 712.0L41.3 717.2L45.8 715.2L44.2 710.5Z" fill="#f29240"/>
<path d="M145.8 781.2L150.9 783.5L154.6 779.4L149.5 777.1Z" fill="#0b5060"/>
<path d="M203.7 783.3L209.7 785.6L212.9 781.6L206.9 779.3Z" fill="#0b4c61"/>
<path d="M114.1 778.1L118.6 780.4L122.7 776.2L118.1 773.8Z" fill="#0b565f"/>
<path d="M97.1 775.1L101.2 777.6L105.4 773.3L101.2 770.8Z" fill="#0d5b5b"/>
<path d="M77.2 768.8L80.9 771.6L85.2 767.3L81.5 764.5Z" fill="#116353"/>
<path d="M132.1 780.8L136.9 783.1L140.8 778.9L135.9 776.7Z" fill="#0b5260"/>
<path d="M38.2 706.9L39.6 712.0L44.2 710.5L42.7 706.0Z" fill="#f5985d"/>
<path d="M179.7 784.4L185.3 786.7L188.8 782.7L183.1 780.4Z" fill="#0b4c61"/>
<path d="M165.1 783.9L170.5 786.2L174.1 782.1L168.7 779.9Z" fill="#0b4d61"/>
<path d="M50.3 749.2L53.1 753.3L57.6 749.3L54.9 745.4Z" fill="#677e32"/>
<path d="M80.9 771.6L84.7 774.3L89.0 769.9L85.2 767.3Z" fill="#0f6055"/>
<path d="M47.7 744.9L50.3 749.2L54.9 745.4L52.2 741.2Z" fill="#798229"/>
<path d="M53.1 753.3L56.1 757.0L60.6 752.9L57.6 749.3Z" fill="#567a39"/>
<path d="M194.5 785.0L200.4 787.3L203.7 783.3L197.9 781.0Z" fill="#0b4b61"/>
<path d="M37.0 702.4L38.2 706.9L42.7 706.0L41.6 701.9Z" fill="#f89e78"/>
<path d="M45.1 740.3L47.7 744.9L52.2 741.2L49.7 736.9Z" fill="#8d8620"/>
<path d="M150.9 783.5L156.1 785.8L159.8 781.7L154.6 779.4Z" fill="#0b4e61"/>
<path d="M118.6 780.4L123.3 782.8L127.3 778.5L122.7 776.2Z" fill="#0b5460"/>
<path d="M101.2 777.6L105.5 780.0L109.7 775.7L105.4 773.3Z" fill="#0c585d"/>
<path d="M56.1 757.0L59.1 760.6L63.6 756.4L60.6 752.9Z" fill="#45753f"/>
<path d="M42.8 735.4L45.1 740.3L49.7 736.9L47.3 732.3Z" fill="#a18822"/>
<path d="M209.7 785.6L215.8 787.9L219.0 784.0L212.9 781.6Z" fill="#0b4b61"/>
<path d="M59.1 760.6L62.3 764.0L66.8 759.7L63.6 756.4Z" fill="#347144"/>
<path d="M136.9 783.1L141.9 785.4L145.8 781.2L140.8 778.9Z" fill="#0b5060"/>
<path d="M36.1 698.7L37.0 702.4L41.6 701.9L40.7 698.7Z" fill="#f9a590"/>
<path d="M84.7 774.3L88.7 776.9L93.0 772.5L89.0 769.9Z" fill="#0e5e58"/>
<path d="M40.6 730.2L42.8 735.4L47.3 732.3L45.2 727.4Z" fill="#b78923"/>
<path d="M62.3 764.0L65.7 767.2L70.2 762.9L66.8 759.7Z" fill="#256c49"/>
<path d="M35.7 696.8L36.1 698.7L40.7 698.7L40.3 697.0Z" fill="#f9a9a0"/>
<path d="M105.5 780.0L110.0 782.4L114.1 778.1L109.7 775.7Z" fill="#0c575f"/>
<path d="M123.3 782.8L128.1 785.1L132.1 780.8L127.3 778.5Z" fill="#0b5260"/>
<path d="M170.5 786.2L176.1 788.5L179.7 784.4L174.1 782.1Z" fill="#0b4b61"/>
<path d="M38.5 724.8L40.6 730.2L45.2 727.4L43.1 722.3Z" fill="#ce8c2a"/>
<path d="M185.3 786.7L191.1 789.0L194.5 785.0L188.8 782.7Z" fill="#0b4a61"/>
<path d="M65.7 767.2L69.1 770.2L73.6 765.9L70.2 762.9Z" fill="#17684d"/>
<path d="M156.1 785.8L161.4 788.1L165.1 783.9L159.8 781.7Z" fill="#0b4c61"/>
<path d="M88.7 776.9L92.8 779.4L97.1 775.1L93.0 772.5Z" fill="#0e5b5a"/>
<path d="M200.4 787.3L206.4 789.6L209.7 785.6L203.7 783.3Z" fill="#0b4a61"/>
<path d="M141.9 785.4L147.0 787.7L150.9 783.5L145.8 781.2Z" fill="#0b4e61"/>
<path d="M69.1 770.2L72.7 773.2L77.2 768.8L73.6 765.9Z" fill="#116551"/>
<path d="M36.6 719.1L38.5 724.8L43.1 722.3L41.3 717.2Z" fill="#e48f37"/>
<path d="M110.0 782.4L114.5 784.7L118.6 780.4L114.1 778.1Z" fill="#0b5560"/>
<path d="M92.8 779.4L97.0 781.9L101.2 777.6L97.1 775.1Z" fill="#0d595c"/>
<path d="M128.1 785.1L132.9 787.4L136.9 783.1L132.1 780.8Z" fill="#0b5060"/>
<path d="M72.7 773.2L76.5 776.0L80.9 771.6L77.2 768.8Z" fill="#106254"/>
<path d="M35.0 713.4L36.6 719.1L41.3 717.2L39.6 712.0Z" fill="#f3944b"/>
<path d="M176.1 788.5L181.7 790.8L185.3 786.7L179.7 784.4Z" fill="#0b4a61"/>
<path d="M161.4 788.1L166.8 790.4L170.5 786.2L165.1 783.9Z" fill="#0b4b61"/>
<path d="M191.1 789.0L196.9 791.3L200.4 787.3L194.5 785.0Z" fill="#0b4961"/>
<path d="M147.0 787.7L152.2 790.0L156.1 785.8L150.9 783.5Z" fill="#0b4c61"/>
<path d="M206.4 789.6L212.5 791.9L215.8 787.9L209.7 785.6Z" fill="#0b4861"/>
<path d="M76.5 776.0L80.3 778.7L84.7 774.3L80.9 771.6Z" fill="#0f5f56"/>
<path d="M114.5 784.7L119.2 787.1L123.3 782.8L118.6 780.4Z" fill="#0b5260"/>
<path d="M45.7 753.2L48.5 757.3L53.1 753.3L50.3 749.2Z" fill="#657d33"/>
<path d="M97.0 781.9L101.3 784.4L105.5 780.0L101.2 777.6Z" fill="#0c575e"/>
<path d="M48.5 757.3L51.4 761.2L56.1 757.0L53.1 753.3Z" fill="#547a3a"/>
<path d="M33.5 707.8L35.0 713.4L39.6 712.0L38.2 706.9Z" fill="#f79b6b"/>
<path d="M43.0 748.7L45.7 753.2L50.3 749.2L47.7 744.9Z" fill="#78822a"/>
<path d="M51.4 761.2L54.5 764.9L59.1 760.6L56.1 757.0Z" fill="#417440"/>
<path d="M40.4 743.9L43.0 748.7L47.7 744.9L45.1 740.3Z" fill="#8d8620"/>
<path d="M132.9 787.4L137.9 789.7L141.9 785.4L136.9 783.1Z" fill="#0b4e61"/>
<path d="M54.5 764.9L57.7 768.3L62.3 764.0L59.1 760.6Z" fill="#307046"/>
<path d="M38.1 738.7L40.4 743.9L45.1 740.3L42.8 735.4Z" fill="#a38822"/>
<path d="M80.3 778.7L84.3 781.3L88.7 776.9L84.7 774.3Z" fill="#0e5d59"/>
<path d="M181.7 790.8L187.5 793.1L191.1 789.0L185.3 786.7Z" fill="#0b4861"/>
<path d="M166.8 790.4L172.4 792.6L176.1 788.5L170.5 786.2Z" fill="#0b4961"/>
<path d="M32.3 702.6L33.5 707.8L38.2 706.9L37.0 702.4Z" fill="#f9a38a"/>
<path d="M57.7 768.3L61.1 771.6L65.7 767.2L62.3 764.0Z" fill="#216b4a"/>
<path d="M196.9 791.3L202.9 793.6L206.4 789.6L200.4 787.3Z" fill="#0a4861"/>
<path d="M101.3 784.4L105.7 786.8L110.0 782.4L105.5 780.0Z" fill="#0b5560"/>
<path d="M119.2 787.1L123.9 789.4L128.1 785.1L123.3 782.8Z" fill="#0b5060"/>
<path d="M35.8 733.2L38.1 738.7L42.8 735.4L40.6 730.2Z" fill="#ba8923"/>
<path d="M152.2 790.0L157.6 792.3L161.4 788.1L156.1 785.8Z" fill="#0b4a61"/>
<path d="M61.1 771.6L64.6 774.7L69.1 770.2L65.7 767.2Z" fill="#13674f"/>
<path d="M84.3 781.3L88.4 783.9L92.8 779.4L88.7 776.9Z" fill="#0d5a5b"/>
<path d="M137.9 789.7L143.1 792.0L147.0 787.7L141.9 785.4Z" fill="#0b4c61"/>
<path d="M31.4 698.5L32.3 702.6L37.0 702.4L36.1 698.7Z" fill="#f8aba5"/>
<path d="M33.8 727.3L35.8 733.2L40.6 730.2L38.5 724.8Z" fill="#d28c2d"/>
<path d="M64.6 774.7L68.2 777.6L72.7 773.2L69.1 770.2Z" fill="#116452"/>
<path d="M105.7 786.8L110.3 789.1L114.5 784.7L110.0 782.4Z" fill="#0b5360"/>
<path d="M31.0 696.3L31.4 698.5L36.1 698.7L35.7 696.8Z" fill="#f8b0b8"/>
<path d="M123.9 789.4L128.8 791.7L132.9 787.4L128.1 785.1Z" fill="#0b4e61"/>
<path d="M172.4 792.6L178.1 794.9L181.7 790.8L176.1 788.5Z" fill="#0a4861"/>
<path d="M187.5 793.1L193.4 795.4L196.9 791.3L191.1 789.0Z" fill="#0a4761"/>
<path d="M88.4 783.9L92.6 786.4L97.0 781.9L92.8 779.4Z" fill="#0c585d"/>
<path d="M31.9 721.1L33.8 727.3L38.5 724.8L36.6 719.1Z" fill="#eb903a"/>
<path d="M157.6 792.3L163.0 794.5L166.8 790.4L161.4 788.1Z" fill="#0b4961"/>
<path d="M68.2 777.6L71.9 780.5L76.5 776.0L72.7 773.2Z" fill="#106155"/>
<path d="M202.9 793.6L209.1 796.0L212.5 791.9L206.4 789.6Z" fill="#0a4661"/>
<path d="M143.1 792.0L148.3 794.2L152.2 790.0L147.0 787.7Z" fill="#0b4a61"/>
<path d="M110.3 789.1L114.9 791.5L119.2 787.1L114.5 784.7Z" fill="#0b5160"/>
<path d="M71.9 780.5L75.8 783.2L80.3 778.7L76.5 776.0Z" fill="#0e5e58"/>
<path d="M30.2 714.7L31.9 721.1L36.6 719.1L35.0 713.4Z" fill="#f59757"/>
<path d="M92.6 786.4L96.9 788.8L101.3 784.4L97.0 781.9Z" fill="#0b565f"/>
<path d="M128.8 791.7L133.9 794.0L137.9 789.7L132.9 787.4Z" fill="#0b4c61"/>
<path d="M40.9 757.2L43.7 761.5L48.5 757.3L45.7 753.2Z" fill="#637d33"/>
<path d="M43.7 761.5L46.7 765.5L51.4 761.2L48.5 757.3Z" fill="#51793b"/>
<path d="M38.2 752.6L40.9 757.2L45.7 753.2L43.0 748.7Z" fill="#77812a"/>
<path d="M46.7 765.5L49.8 769.3L54.5 764.9L51.4 761.2Z" fill="#3e7341"/>
<path d="M178.1 794.9L183.9 797.2L187.5 793.1L181.7 790.8Z" fill="#0a4661"/>
<path d="M193.4 795.4L199.4 797.7L202.9 793.6L196.9 791.3Z" fill="#0a4661"/>
<path d="M35.6 747.5L38.2 752.6L43.0 748.7L40.4 743.9Z" fill="#8d8620"/>
<path d="M163.0 794.5L168.6 796.8L172.4 792.6L166.8 790.4Z" fill="#0a4761"/>
<path d="M49.8 769.3L53.0 772.8L57.7 768.3L54.5 764.9Z" fill="#2d6f47"/>
<path d="M75.8 783.2L79.7 785.8L84.3 781.3L80.3 778.7Z" fill="#0d5b5a"/>
<path d="M28.7 708.5L30.2 714.7L35.0 713.4L33.5 707.8Z" fill="#f89f7b"/>
<path d="M148.3 794.2L153.6 796.5L157.6 792.3L152.2 790.0Z" fill="#0b4961"/>
<path d="M33.2 742.0L35.6 747.5L40.4 743.9L38.1 738.7Z" fill="#a48822"/>
<path d="M114.9 791.5L119.7 793.8L123.9 789.4L119.2 787.1Z" fill="#0b4e61"/>
<path d="M96.9 788.8L101.3 791.2L105.7 786.8L101.3 784.4Z" fill="#0b5460"/>
<path d="M53.0 772.8L56.4 776.1L61.1 771.6L57.7 768.3Z" fill="#1d6a4c"/>
<path d="M133.9 794.0L139.0 796.3L143.1 792.0L137.9 789.7Z" fill="#0b4a61"/>
<path d="M31.0 736.1L33.2 742.0L38.1 738.7L35.8 733.2Z" fill="#bd8a24"/>
<path d="M56.4 776.1L59.9 779.2L64.6 774.7L61.1 771.6Z" fill="#126650"/>
<path d="M79.7 785.8L83.8 788.4L88.4 783.9L84.3 781.3Z" fill="#0d595c"/>
<path d="M27.5 702.7L28.7 708.5L33.5 707.8L32.3 702.6Z" fill="#f9a99e"/>
<path d="M183.9 797.2L189.8 799.5L193.4 795.4L187.5 793.1Z" fill="#0a4561"/>
<path d="M168.6 796.8L174.3 799.1L178.1 794.9L172.4 792.6Z" fill="#0a4661"/>
<path d="M59.9 779.2L63.5 782.2L68.2 777.6L64.6 774.7Z" fill="#106353"/>
<path d="M101.3 791.2L105.9 793.6L110.3 789.1L105.7 786.8Z" fill="#0b5160"/>
<path d="M199.4 797.7L205.5 800.1L209.1 796.0L202.9 793.6Z" fill="#0a4461"/>
<path d="M119.7 793.8L124.6 796.1L128.8 791.7L123.9 789.4Z" fill="#0b4c61"/>
<path d="M28.9 729.8L31.0 736.1L35.8 733.2L33.8 727.3Z" fill="#d68d2f"/>
<path d="M153.6 796.5L159.1 798.8L163.0 794.5L157.6 792.3Z" fill="#0a4761"/>
<path d="M83.8 788.4L88.1 790.9L92.6 786.4L88.4 783.9Z" fill="#0c575e"/>
<path d="M63.5 782.2L67.2 785.0L71.9 780.5L68.2 777.6Z" fill="#0f6056"/>
<path d="M26.5 697.9L27.5 702.7L32.3 702.6L31.4 698.5Z" fill="#f8b2bd"/>
<path d="M139.0 796.3L144.2 798.6L148.3 794.2L143.1 792.0Z" fill="#0b4961"/>
<path d="M27.0 723.0L28.9 729.8L33.8 727.3L31.9 721.1Z" fill="#f1913e"/>
<path d="M105.9 793.6L110.6 795.9L114.9 791.5L110.3 789.1Z" fill="#0b4f60"/>
<path d="M26.1 695.4L26.5 697.9L31.4 698.5L31.0 696.3Z" fill="#f8b9ce"/>
<path d="M67.2 785.0L71.1 787.8L75.8 783.2L71.9 780.5Z" fill="#0e5d59"/>
<path d="M88.1 790.9L92.4 793.3L96.9 788.8L92.6 786.4Z" fill="#0b5560"/>
<path d="M124.6 796.1L129.7 798.4L133.9 794.0L128.8 791.7Z" fill="#0b4a61"/>
<path d="M174.3 799.1L180.1 801.4L183.9 797.2L178.1 794.9Z" fill="#0a4561"/>
<path d="M189.8 799.5L195.8 801.9L199.4 797.7L193.4 795.4Z" fill="#0a4461"/>
<path d="M159.1 798.8L164.7 801.1L168.6 796.8L163.0 794.5Z" fill="#0a4661"/>
<path d="M25.2 716.0L27.0 723.0L31.9 721.1L30.2 714.7Z" fill="#f69a64"/>
<path d="M144.2 798.6L149.6 800.8L153.6 796.5L148.3 794.2Z" fill="#0a4761"/>
<path d="M71.1 787.8L75.1 790.4L79.7 785.8L75.8 783.2Z" fill="#0d5a5b"/>
<path d="M110.6 795.9L115.4 798.2L119.7 793.8L114.9 791.5Z" fill="#0b4d61"/>
<path d="M92.4 793.3L96.9 795.7L101.3 791.2L96.9 788.8Z" fill="#0b5260"/>
<path d="M129.7 798.4L134.8 800.7L139.0 796.3L133.9 794.0Z" fill="#0b4961"/>
<path d="M75.1 790.4L79.2 793.0L83.8 788.4L79.7 785.8Z" fill="#0c585d"/>
<path d="M180.1 801.4L186.0 803.7L189.8 799.5L183.9 797.2Z" fill="#0a4361"/>
<path d="M195.8 801.9L201.9 804.2L205.5 800.1L199.4 797.7Z" fill="#0a4361"/>
<path d="M23.7 709.0L25.2 716.0L30.2 714.7L28.7 708.5Z" fill="#f9a48c"/>
<path d="M164.7 801.1L170.4 803.4L174.3 799.1L168.6 796.8Z" fill="#0a4461"/>
<path d="M96.9 795.7L101.4 798.1L105.9 793.6L101.3 791.2Z" fill="#0b5060"/>
<path d="M149.6 800.8L155.1 803.1L159.1 798.8L153.6 796.5Z" fill="#0a4661"/>
<path d="M115.4 798.2L120.3 800.5L124.6 796.1L119.7 793.8Z" fill="#0b4b61"/>
<path d="M79.2 793.0L83.4 795.5L88.1 790.9L83.8 788.4Z" fill="#0b565f"/>
<path d="M134.8 800.7L140.1 802.9L144.2 798.6L139.0 796.3Z" fill="#0a4761"/>
<path d="M22.5 702.4L23.7 709.0L28.7 708.5L27.5 702.7Z" fill="#f8afb4"/>
<path d="M101.4 798.1L106.1 800.4L110.6 795.9L105.9 793.6Z" fill="#0b4d61"/>
<path d="M186.0 803.7L192.1 806.1L195.8 801.9L189.8 799.5Z" fill="#0a4261"/>
<path d="M170.4 803.4L176.2 805.7L180.1 801.4L174.3 799.1Z" fill="#0a4361"/>
<path d="M120.3 800.5L125.4 802.8L129.7 798.4L124.6 796.1Z" fill="#0b4961"/>
<path d="M83.4 795.5L87.8 797.9L92.4 793.3L88.1 790.9Z" fill="#0b5360"/>
<path d="M155.1 803.1L160.7 805.4L164.7 801.1L159.1 798.8Z" fill="#0a4461"/>
<path d="M21.5 696.9L22.5 702.4L27.5 702.7L26.5 697.9Z" fill="#f7bbd2"/>
<path d="M140.1 802.9L145.5 805.2L149.6 800.8L144.2 798.6Z" fill="#0a4661"/>
<path d="M106.1 800.4L111.0 802.8L115.4 798.2L110.6 795.9Z" fill="#0b4b61"/>
<path d="M87.8 797.9L92.3 800.3L96.9 795.7L92.4 793.3Z" fill="#0b5160"/>
<path d="M21.1 694.0L21.5 696.9L26.5 697.9L26.1 695.4Z" fill="#f7c3e4"/>
<path d="M125.4 802.8L130.5 805.1L134.8 800.7L129.7 798.4Z" fill="#0a4761"/>
<path d="M176.2 805.7L182.2 808.0L186.0 803.7L180.1 801.4Z" fill="#0a4261"/>
<path d="M192.1 806.1L198.2 808.4L201.9 804.2L195.8 801.9Z" fill="#0a4162"/>
<path d="M160.7 805.4L166.4 807.7L170.4 803.4L164.7 801.1Z" fill="#0a4361"/>
<path d="M145.5 805.2L151.0 807.5L155.1 803.1L149.6 800.8Z" fill="#0a4461"/>
<path d="M111.0 802.8L115.9 805.1L120.3 800.5L115.4 798.2Z" fill="#0b4961"/>
<path d="M92.3 800.3L96.8 802.7L101.4 798.1L96.9 795.7Z" fill="#0b4e61"/>
<path d="M130.5 805.1L135.8 807.4L140.1 802.9L134.8 800.7Z" fill="#0a4661"/>
<path d="M182.2 808.0L188.2 810.3L192.1 806.1L186.0 803.7Z" fill="#0a4162"/>
<path d="M166.4 807.7L172.2 810.0L176.2 805.7L170.4 803.4Z" fill="#0a4261"/>
<path d="M96.8 802.7L101.6 805.0L106.1 800.4L101.4 798.1Z" fill="#0b4c61"/>
<path d="M115.9 805.1L120.9 807.4L125.4 802.8L120.3 800.5Z" fill="#0a4761"/>
<path d="M151.0 807.5L156.6 809.8L160.7 805.4L155.1 803.1Z" fill="#0a4361"/>
<path d="M135.8 807.4L141.2 809.7L145.5 805.2L140.1 802.9Z" fill="#0a4461"/>
<path d="M101.6 805.0L106.4 807.4L111.0 802.8L106.1 800.4Z" fill="#0b4a61"/>
<path d="M188.2 810.3L194.4 812.7L198.2 808.4L192.1 806.1Z" fill="#0a4062"/>
<path d="M172.2 810.0L178.2 812.3L182.2 808.0L176.2 805.7Z" fill="#0a4062"/>
<path d="M120.9 807.4L126.1 809.7L130.5 805.1L125.4 802.8Z" fill="#0a4661"/>
<path d="M156.6 809.8L162.3 812.1L166.4 807.7L160.7 805.4Z" fill="#0a4162"/>
<path d="M141.2 809.7L146.7 812.0L151.0 807.5L145.5 805.2Z" fill="#0a4361"/>
<path d="M106.4 807.4L111.3 809.7L115.9 805.1L111.0 802.8Z" fill="#0a4861"/>
<path d="M126.1 809.7L131.4 811.9L135.8 807.4L130.5 805.1Z" fill="#0a4461"/>
<path d="M178.2 812.3L184.3 814.7L188.2 810.3L182.2 808.0Z" fill="#0a3f62"/>
<path d="M162.3 812.1L168.2 814.4L172.2 810.0L166.4 807.7Z" fill="#0a4062"/>
<path d="M146.7 812.0L152.3 814.3L156.6 809.8L151.0 807.5Z" fill="#0a4162"/>
<path d="M111.3 809.7L116.4 812.0L120.9 807.4L115.9 805.1Z" fill="#0a4661"/>
<path d="M131.4 811.9L136.8 814.2L141.2 809.7L135.8 807.4Z" fill="#0a4361"/>
<path d="M184.3 814.7L190.5 817.0L194.4 812.7L188.2 810.3Z" fill="#0a3e62"/>
<path d="M168.2 814.4L174.1 816.7L178.2 812.3L172.2 810.0Z" fill="#0a3f62"/>
<path d="M116.4 812.0L121.6 814.3L126.1 809.7L120.9 807.4Z" fill="#0a4461"/>
<path d="M152.3 814.3L158.1 816.6L162.3 812.1L156.6 809.8Z" fill="#0a4062"/>
<path d="M136.8 814.2L142.4 816.5L146.7 812.0L141.2 809.7Z" fill="#0a4162"/>
<path d="M174.1 816.7L180.2 819.1L184.3 814.7L178.2 812.3Z" fill="#0a3e62"/>
<path d="M121.6 814.3L126.9 816.6L131.4 811.9L126.1 809.7Z" fill="#0a4361"/>
<path d="M158.1 816.6L164.0 818.9L168.2 814.4L162.3 812.1Z" fill="#0a3f62"/>
<path d="M142.4 816.5L148.0 818.8L152.3 814.3L146.7 812.0Z" fill="#0a4062"/>
<path d="M126.9 816.6L132.3 818.8L136.8 814.2L131.4 811.9Z" fill="#0a4162"/>
<path d="M180.2 819.1L186.4 821.4L190.5 817.0L184.3 814.7Z" fill="#0a3d62"/>
<path d="M164.0 818.9L170.0 821.2L174.1 816.7L168.2 814.4Z" fill="#0a3e62"/>
<path d="M148.0 818.8L153.8 821.1L158.1 816.6L152.3 814.3Z" fill="#0a3f62"/>
<path d="M132.3 818.8L137.9 821.1L142.4 816.5L136.8 814.2Z" fill="#0a4062"/>
<path d="M170.0 821.2L176.1 823.6L180.2 819.1L174.1 816.7Z" fill="#0a3d62"/>
<path d="M153.8 821.1L159.7 823.4L164.0 818.9L158.1 816.6Z" fill="#0a3e62"/>
<path d="M137.9 821.1L143.6 823.4L148.0 818.8L142.4 816.5Z" fill="#0a3f62"/>
<path d="M176.1 823.6L182.3 825.9L186.4 821.4L180.2 819.1Z" fill="#0a3c62"/>
<path d="M159.7 823.4L165.7 825.8L170.0 821.2L164.0 818.9Z" fill="#0a3d62"/>
<path d="M143.6 823.4L149.3 825.8L153.8 821.1L148.0 818.8Z" fill="#0a3e62"/>
<path d="M165.7 825.8L171.8 828.1L176.1 823.6L170.0 821.2Z" fill="#0a3c62"/>
<path d="M149.3 825.8L155.2 828.1L159.7 823.4L153.8 821.1Z" fill="#0a3d62"/>
<path d="M171.8 828.1L178.0 830.5L182.3 825.9L176.1 823.6Z" fill="#0a3b62"/>
<path d="M155.2 828.1L161.3 830.4L165.7 825.8L159.7 823.4Z" fill="#0a3b62"/>
<path d="M161.3 830.4L167.4 832.8L171.8 828.1L165.7 825.8Z" fill="#0a3a62"/>
<path d="M167.4 832.8L173.7 835.2L178.0 830.5L171.8 828.1Z" fill="#0a3961"/>
</g>
<polyline points="21.8,801.0 171.6,850.3" fill="none" stroke="#c8c8c8" stroke-width="0.8"/>
<polyline points="175.8,849.3 256.2,769.1" fill="none" stroke="#c8c8c8" stroke-width="0.8"/>
<polyline points="23.7,799.4 173.4,848.6" fill="none" stroke="#444" stroke-width="0.8"/>
<polyline points="173.4,848.6 254.0,768.5" fill="none" stroke="#444" stroke-width="0.8"/>
<polyline points="254.0,768.5 259.0,655.7" fill="none" stroke="#444" stroke-width="0.8"/>
<polyline points="23.7,799.4 19.8,802.6" fill="none" stroke="#444" stroke-width="0.8"/>
<polyline points="52.4,808.8 48.6,812.1" fill="none" stroke="#444" stroke-width="0.8"/>
<polyline points="81.7,818.5 78.0,821.8" fill="none" stroke="#444" stroke-width="0.8"/>
<polyline points="111.7,828.3 108.0,831.7" fill="none" stroke="#444" stroke-width="0.8"/>
<polyline points="142.2,838.3 138.6,841.8" fill="none" stroke="#444" stroke-width="0.8"/>
<polyline points="173.4,848.6 169.9,852.1" fill="none" stroke="#444" stroke-width="0.8"/>
<polyline points="173.4,848.6 178.1,850.1" fill="none" stroke="#444" stroke-width="0.8"/>
<polyline points="190.7,831.4 195.3,832.9" fill="none" stroke="#444" stroke-width="0.8"/>
<polyline points="207.3,814.8 212.0,816.3" fill="none" stroke="#444" stroke-width="0.8"/>
<polyline points="223.4,798.9 228.0,800.3" fill="none" stroke="#444" stroke-width="0.8"/>
<polyline points="239.0,783.4 243.5,784.8" fill="none" stroke="#444" stroke-width="0.8"/>
<polyline points="254.0,768.5 258.5,769.8" fill="none" stroke="#444" stroke-width="0.8"/>
<polyline points="254.2,764.6 256.4,762.4" fill="none" stroke="#444" stroke-width="0.8"/>
<polyline points="255.2,740.5 257.5,738.3" fill="none" stroke="#444" stroke-width="0.8"/>
<polyline points="256.3,716.0 258.6,713.9" fill="none" stroke="#444" stroke-width="0.8"/>
<polyline points="257.4,691.1 259.7,689.1" fill="none" stroke="#444" stroke-width="0.8"/>
<polyline points="258.5,665.9 260.8,663.9" fill="none" stroke="#444" stroke-width="0.8"/>
<polygon points="301.2,798.4 389.9,725.9 390.1,617.2 298.3,682.6" fill="#f5f5f5"/>
<polygon points="389.9,725.9 531.5,767.5 536.5,654.7 390.1,617.2" fill="#f5f5f5"/>
<polygon points="301.2,798.4 450.9,847.6 531.5,767.5 389.9,725.9" fill="#f6f6f6"/>
<polyline points="301.1,794.5 389.9,722.2 531.7,763.6" fill="none" stroke="#d9d9d9" stroke-width="0.8"/>
<polyline points="300.5,769.7 390.0,698.9 532.7,739.5" fill="none" stroke="#d9d9d9" stroke-width="0.8"/>
<polyline points="299.8,744.5 390.0,675.3 533.8,715.0" fill="none" stroke="#d9d9d9" stroke-width="0.8"/>
<polyline points="299.2,719.0 390.0,651.3 534.9,690.1" fill="none" stroke="#d9d9d9" stroke-width="0.8"/>
<polyline points="298.6,693.0 390.1,627.0 536.0,664.9" fill="none" stroke="#d9d9d9" stroke-width="0.8"/>
<polyline points="450.9,847.6 301.2,798.4 298.3,682.6" fill="none" stroke="#d9d9d9" stroke-width="0.8"/>
<polyline points="468.2,830.4 320.1,782.9 317.9,668.6" fill="none" stroke="#d9d9d9" stroke-width="0.8"/>
<polyline points="484.8,813.8 338.4,768.0 336.9,655.1" fill="none" stroke="#d9d9d9" stroke-width="0.8"/>
<polyline points="500.9,797.9 356.2,753.5 355.2,642.0" fill="none" stroke="#d9d9d9" stroke-width="0.8"/>
<polyline points="516.5,782.4 373.3,739.5 372.9,629.4" fill="none" stroke="#d9d9d9" stroke-width="0.8"/>
<polyline points="531.5,767.5 389.9,725.9 390.1,617.2" fill="none" stroke="#d9d9d9" stroke-width="0.8"/>
<polyline points="301.2,798.4 389.9,725.9 390.1,617.2" fill="none" stroke="#d9d9d9" stroke-width="0.8"/>
<polyline points="329.9,807.8 417.2,733.9 418.2,624.4" fill="none" stroke="#d9d9d9" stroke-width="0.8"/>
<polyline points="359.2,817.5 445.0,742.1 446.9,631.7" fill="none" stroke="#d9d9d9" stroke-width="0.8"/>
<polyline points="389.2,827.3 473.3,750.4 476.2,639.2" fill="none" stroke="#d9d9d9" stroke-width="0.8"/>
<polyline points="419.7,837.3 502.1,758.8 506.0,646.9" fill="none" stroke="#d9d9d9" stroke-width="0.8"/>
<polyline points="450.9,847.6 531.5,767.5 536.5,654.7" fill="none" stroke="#d9d9d9" stroke-width="0.8"/>
<polyline points="301.2,798.4 298.3,682.6" fill="none" stroke="#c8c8c8" stroke-width="0.9"/>
<polyline points="389.9,725.9 390.1,617.2" fill="none" stroke="#c8c8c8" stroke-width="0.9"/>
<polyline points="531.5,767.5 536.5,654.7" fill="none" stroke="#c8c8c8" stroke-width="0.9"/>
<polyline points="298.3,682.6 390.1,617.2 536.5,654.7" fill="none" stroke="#d8d8d8" stroke-width="0.9"/>
<g shape-rendering="crispEdges">
<path d="M386.1 725.4L386.1 723.6L388.4 719.5L388.3 723.5Z" fill="#061f52"/>
<path d="M388.3 723.5L388.4 719.5L390.0 675.3L389.9 722.2Z" fill="#0a4461"/>
<path d="M386.1 723.6L386.1 718.4L388.4 709.4L388.4 719.5Z" fill="#09325d"/>
<path d="M383.4 727.6L383.4 726.5L386.1 723.6L386.1 725.4Z" fill="#051c50"/>
<path d="M383.4 726.5L383.4 723.2L386.1 718.4L386.1 723.6Z" fill="#072756"/>
<path d="M386.1 718.4L386.1 711.3L388.4 699.4L388.4 709.4Z" fill="#0b4a61"/>
<path d="M383.4 723.2L383.4 718.0L386.1 711.3L386.1 718.4Z" fill="#0a3961"/>
<path d="M380.4 730.0L380.4 729.3L383.4 726.5L383.4 727.6Z" fill="#051c50"/>
<path d="M380.4 729.3L380.4 726.9L383.4 723.2L383.4 726.5Z" fill="#062254"/>
<path d="M388.4 719.5L388.4 709.4L390.0 675.3L390.0 675.3Z" fill="#12674f"/>
<path d="M386.1 711.3L386.1 704.3L388.4 692.2L388.4 699.4Z" fill="#0e5d59"/>
<path d="M383.4 718.0L383.4 712.3L386.1 704.3L386.1 711.3Z" fill="#0b4b61"/>
<path d="M380.4 726.9L380.4 723.0L383.4 718.0L383.4 723.2Z" fill="#082f5b"/>
<path d="M388.4 709.4L388.4 699.4L390.0 675.3L390.0 675.3Z" fill="#357144"/>
<path d="M377.1 732.6L377.1 732.1L380.4 729.3L380.4 730.0Z" fill="#051b50"/>
<path d="M380.4 723.0L380.4 718.3L383.4 712.3L383.4 718.0Z" fill="#0a3f62"/>
<path d="M386.1 704.3L386.1 698.4L388.5 687.4L388.4 692.2Z" fill="#18694d"/>
<path d="M383.4 712.3L383.4 706.7L386.1 698.4L386.1 704.3Z" fill="#0d5a5c"/>
<path d="M377.1 732.1L377.1 730.3L380.4 726.9L380.4 729.3Z" fill="#062052"/>
<path d="M388.4 699.4L388.4 692.2L390.0 675.3L390.0 675.3Z" fill="#547a3a"/>
<path d="M377.1 730.3L377.1 727.2L380.4 723.0L380.4 726.9Z" fill="#072a58"/>
<path d="M386.1 698.4L386.2 693.8L388.5 684.3L388.5 687.4Z" fill="#387243"/>
<path d="M380.4 718.3L380.4 713.3L383.4 706.7L383.4 712.3Z" fill="#0b4e61"/>
<path d="M388.4 692.2L388.5 687.4L390.1 675.3L390.0 675.3Z" fill="#667e32"/>
<path d="M383.4 706.7L383.5 701.8L386.2 693.8L386.1 698.4Z" fill="#116452"/>
<path d="M388.5 687.4L388.5 684.3L390.1 675.3L390.1 675.3Z" fill="#71802d"/>
<path d="M377.1 727.2L377.1 723.3L380.4 718.3L380.4 723.0Z" fill="#093860"/>
<path d="M386.2 693.8L386.2 690.3L388.6 682.3L388.5 684.3Z" fill="#50793c"/>
<path d="M388.5 684.3L388.6 682.3L390.2 675.3L390.1 675.3Z" fill="#798229"/>
<path d="M388.6 682.3L388.6 680.9L390.2 675.3L390.2 675.3Z" fill="#7e8327"/>
<path d="M388.6 680.9L388.7 679.9L390.3 675.3L390.2 675.3Z" fill="#828425"/>
<path d="M380.4 713.3L380.5 708.6L383.5 701.8L383.4 706.7Z" fill="#0d5a5c"/>
<path d="M383.5 701.8L383.5 697.7L386.2 690.3L386.2 693.8Z" fill="#236c4a"/>
<path d="M373.6 735.5L373.6 735.1L377.1 732.1L377.1 732.6Z" fill="#051b4f"/>
<path d="M386.2 690.3L386.3 687.7L388.6 680.9L388.6 682.3Z" fill="#5f7c35"/>
<path d="M388.7 679.9L388.8 679.2L390.4 675.4L390.3 675.3Z" fill="#848424"/>
<path d="M388.8 679.2L388.9 678.7L390.5 675.4L390.4 675.4Z" fill="#868523"/>
<path d="M388.9 678.7L389.0 678.3L390.6 675.4L390.5 675.4Z" fill="#888522"/>
<path d="M373.6 735.1L373.6 733.6L377.1 730.3L377.1 732.1Z" fill="#061f52"/>
<path d="M389.0 678.3L389.1 678.0L390.7 675.5L390.6 675.4Z" fill="#898522"/>
<path d="M389.1 678.0L389.2 677.8L390.8 675.5L390.7 675.5Z" fill="#8a8522"/>
<path d="M377.1 723.3L377.1 718.9L380.4 713.3L380.4 718.3Z" fill="#0a4561"/>
<path d="M389.2 677.8L389.4 677.6L390.9 675.5L390.8 675.5Z" fill="#8a8521"/>
<path d="M386.3 687.7L386.4 685.8L388.7 679.9L388.6 680.9Z" fill="#697e31"/>
<path d="M389.4 677.6L389.5 677.5L391.1 675.6L390.9 675.5Z" fill="#8b8621"/>
<path d="M389.5 677.5L389.7 677.4L391.2 675.6L391.1 675.6Z" fill="#8b8621"/>
<path d="M389.7 677.4L389.8 677.3L391.4 675.7L391.2 675.6Z" fill="#8c8621"/>
<path d="M389.8 677.3L390.0 677.2L391.6 675.7L391.4 675.7Z" fill="#8c8621"/>
<path d="M390.0 677.2L390.2 677.2L391.8 675.8L391.6 675.7Z" fill="#8c8620"/>
<path d="M383.5 697.7L383.6 694.4L386.3 687.7L386.2 690.3Z" fill="#3b7342"/>
<path d="M373.6 733.6L373.6 731.1L377.1 727.2L377.1 730.3Z" fill="#072656"/>
<path d="M386.4 685.8L386.5 684.3L388.8 679.2L388.7 679.9Z" fill="#71802d"/>
<path d="M390.2 677.2L390.4 677.2L392.0 675.8L391.8 675.8Z" fill="#8c8620"/>
<path d="M390.4 677.2L390.6 677.2L392.2 675.9L392.0 675.8Z" fill="#8d8620"/>
<path d="M390.6 677.2L390.9 677.2L392.4 675.9L392.2 675.9Z" fill="#8d8620"/>
<path d="M390.9 677.2L391.1 677.2L392.7 676.0L392.4 675.9Z" fill="#8d8620"/>
<path d="M380.5 708.6L380.5 704.4L383.5 697.7L383.5 701.8Z" fill="#106253"/>
<path d="M386.5 684.3L386.6 683.1L388.9 678.7L388.8 679.2Z" fill="#77812a"/>
<path d="M391.1 677.2L391.3 677.3L392.9 676.1L392.7 676.0Z" fill="#8d8620"/>
<path d="M391.3 677.3L391.6 677.3L393.2 676.1L392.9 676.1Z" fill="#8d8620"/>
<path d="M391.6 677.3L391.9 677.4L393.5 676.2L393.2 676.1Z" fill="#8d8620"/>
<path d="M386.6 683.1L386.7 682.2L389.0 678.3L388.9 678.7Z" fill="#7b8228"/>
<path d="M391.9 677.4L392.2 677.4L393.8 676.3L393.5 676.2Z" fill="#8d8620"/>
<path d="M392.2 677.4L392.5 677.5L394.1 676.4L393.8 676.3Z" fill="#8d8620"/>
<path d="M383.6 694.4L383.7 691.8L386.4 685.8L386.3 687.7Z" fill="#4e783c"/>
<path d="M386.7 682.2L386.8 681.5L389.1 678.0L389.0 678.3Z" fill="#7f8327"/>
<path d="M392.5 677.5L392.8 677.5L394.4 676.5L394.1 676.4Z" fill="#8d8620"/>
<path d="M377.1 718.9L377.2 714.5L380.5 708.6L380.4 713.3Z" fill="#0b5160"/>
<path d="M373.6 731.1L373.6 727.7L377.1 723.3L377.1 727.2Z" fill="#09325d"/>
<path d="M386.8 681.5L386.9 681.0L389.2 677.8L389.1 678.0Z" fill="#818425"/>
<path d="M392.8 677.5L393.1 677.6L394.7 676.6L394.4 676.5Z" fill="#8e8620"/>
<path d="M393.1 677.6L393.5 677.7L395.1 676.7L394.7 676.6Z" fill="#8e8620"/>
<path d="M386.9 681.0L387.0 680.5L389.4 677.6L389.2 677.8Z" fill="#848424"/>
<path d="M393.5 677.7L393.8 677.8L395.4 676.8L395.1 676.7Z" fill="#8e8620"/>
<path d="M387.0 680.5L387.2 680.2L389.5 677.5L389.4 677.6Z" fill="#858423"/>
<path d="M393.8 677.8L394.2 677.8L395.8 676.9L395.4 676.8Z" fill="#8e8620"/>
<path d="M383.7 691.8L383.7 689.7L386.5 684.3L386.4 685.8Z" fill="#5b7b37"/>
<path d="M387.2 680.2L387.3 679.9L389.7 677.4L389.5 677.5Z" fill="#878523"/>
<path d="M380.5 704.4L380.6 700.8L383.6 694.4L383.5 697.7Z" fill="#1b6a4c"/>
<path d="M394.2 677.8L394.6 677.9L396.2 677.0L395.8 676.9Z" fill="#8e8620"/>
<path d="M387.3 679.9L387.5 679.7L389.8 677.3L389.7 677.4Z" fill="#888522"/>
<path d="M394.6 677.9L395.0 678.0L396.6 677.1L396.2 677.0Z" fill="#8e8620"/>
<path d="M387.5 679.7L387.7 679.5L390.0 677.2L389.8 677.3Z" fill="#898522"/>
<path d="M387.7 679.5L387.9 679.4L390.2 677.2L390.0 677.2Z" fill="#8a8521"/>
<path d="M395.0 678.0L395.4 678.1L397.0 677.2L396.6 677.1Z" fill="#8e8620"/>
<path d="M387.9 679.4L388.1 679.2L390.4 677.2L390.2 677.2Z" fill="#8b8621"/>
<path d="M383.7 689.7L383.8 688.0L386.6 683.1L386.5 684.3Z" fill="#657d33"/>
<path d="M395.4 678.1L395.8 678.2L397.4 677.3L397.0 677.2Z" fill="#8e8620"/>
<path d="M388.1 679.2L388.3 679.2L390.6 677.2L390.4 677.2Z" fill="#8c8621"/>
<path d="M395.8 678.2L396.2 678.4L397.8 677.4L397.4 677.3Z" fill="#8e8620"/>
<path d="M388.3 679.2L388.5 679.1L390.9 677.2L390.6 677.2Z" fill="#8c8620"/>
<path d="M373.6 727.7L373.7 723.9L377.1 718.9L377.1 723.3Z" fill="#0a3e62"/>
<path d="M388.5 679.1L388.8 679.0L391.1 677.2L390.9 677.2Z" fill="#8d8620"/>
<path d="M377.2 714.5L377.2 710.4L380.5 704.4L380.5 708.6Z" fill="#0d5b5a"/>
<path d="M396.2 678.4L396.7 678.5L398.3 677.6L397.8 677.4Z" fill="#8e8620"/>
<path d="M388.8 679.0L389.0 679.0L391.3 677.3L391.1 677.2Z" fill="#8d8620"/>
<path d="M383.8 688.0L383.9 686.7L386.7 682.2L386.6 683.1Z" fill="#6c7f2f"/>
<path d="M396.7 678.5L397.2 678.6L398.7 677.7L398.3 677.6Z" fill="#8e8620"/>
<path d="M389.0 679.0L389.3 679.0L391.6 677.3L391.3 677.3Z" fill="#8d8620"/>
<path d="M380.6 700.8L380.6 697.7L383.7 691.8L383.6 694.4Z" fill="#327045"/>
<path d="M369.9 738.5L369.9 738.1L373.6 735.1L373.6 735.5Z" fill="#051b4f"/>
<path d="M389.3 679.0L389.6 679.0L391.9 677.4L391.6 677.3Z" fill="#8e8620"/>
<path d="M397.2 678.6L397.6 678.7L399.2 677.8L398.7 677.7Z" fill="#8e8620"/>
<path d="M389.6 679.0L389.9 679.0L392.2 677.4L391.9 677.4Z" fill="#8e8620"/>
<path d="M383.9 686.7L384.0 685.6L386.8 681.5L386.7 682.2Z" fill="#73802c"/>
<path d="M369.9 738.1L369.9 736.9L373.6 733.6L373.6 735.1Z" fill="#061e51"/>
<path d="M397.6 678.7L398.1 678.8L399.7 677.9L399.2 677.8Z" fill="#8e8620"/>
<path d="M389.9 679.0L390.2 679.0L392.5 677.5L392.2 677.4Z" fill="#8e8620"/>
<path d="M390.2 679.0L390.5 679.1L392.8 677.5L392.5 677.5Z" fill="#8f8620"/>
<path d="M398.1 678.8L398.6 679.0L400.2 678.1L399.7 677.9Z" fill="#8e8620"/>
<path d="M384.0 685.6L384.2 684.7L386.9 681.0L386.8 681.5Z" fill="#78812a"/>
<path d="M390.5 679.1L390.8 679.1L393.1 677.6L392.8 677.5Z" fill="#8f8620"/>
<path d="M398.6 679.0L399.2 679.1L400.7 678.2L400.2 678.1Z" fill="#8e8620"/>
<path d="M390.8 679.1L391.2 679.2L393.5 677.7L393.1 677.6Z" fill="#8f8620"/>
<path d="M380.6 697.7L380.7 695.2L383.7 689.7L383.7 691.8Z" fill="#44753f"/>
<path d="M384.2 684.7L384.3 684.0L387.0 680.5L386.9 681.0Z" fill="#7c8228"/>
<path d="M391.2 679.2L391.5 679.2L393.8 677.8L393.5 677.7Z" fill="#8f8620"/>
<path d="M369.9 736.9L369.9 734.8L373.6 731.1L373.6 733.6Z" fill="#072455"/>
<path d="M399.2 679.1L399.7 679.3L401.3 678.4L400.7 678.2Z" fill="#8e8620"/>
<path d="M373.7 723.9L373.7 719.9L377.2 714.5L377.1 718.9Z" fill="#0b4a61"/>
<path d="M391.5 679.2L391.9 679.3L394.2 677.8L393.8 677.8Z" fill="#8f8620"/>
<path d="M377.2 710.4L377.3 706.7L380.6 700.8L380.5 704.4Z" fill="#106253"/>
<path d="M384.3 684.0L384.4 683.4L387.2 680.2L387.0 680.5Z" fill="#7f8327"/>
<path d="M399.7 679.3L400.2 679.4L401.8 678.5L401.3 678.4Z" fill="#8e8620"/>
<path d="M391.9 679.3L392.3 679.4L394.6 677.9L394.2 677.8Z" fill="#8f8620"/>
<path d="M384.4 683.4L384.6 682.9L387.3 679.9L387.2 680.2Z" fill="#828425"/>
<path d="M400.2 679.4L400.8 679.6L402.4 678.7L401.8 678.5Z" fill="#8e8620"/>
<path d="M392.3 679.4L392.7 679.4L395.0 678.0L394.6 677.9Z" fill="#908620"/>
<path d="M384.6 682.9L384.8 682.5L387.5 679.7L387.3 679.9Z" fill="#848424"/>
<path d="M392.7 679.4L393.1 679.5L395.4 678.1L395.0 678.0Z" fill="#908620"/>
<path d="M400.8 679.6L401.4 679.7L403.0 678.8L402.4 678.7Z" fill="#8e8620"/>
<path d="M380.7 695.2L380.8 693.0L383.8 688.0L383.7 689.7Z" fill="#53793b"/>
<path d="M393.1 679.5L393.5 679.6L395.8 678.2L395.4 678.1Z" fill="#908620"/>
<path d="M384.8 682.5L385.0 682.1L387.7 679.5L387.5 679.7Z" fill="#868423"/>
<path d="M401.4 679.7L402.0 679.9L403.6 679.0L403.0 678.8Z" fill="#8e8620"/>
<path d="M369.9 734.8L369.9 731.9L373.6 727.7L373.6 731.1Z" fill="#082e5a"/>
<path d="M393.5 679.6L393.9 679.7L396.2 678.4L395.8 678.2Z" fill="#908620"/>
<path d="M385.0 682.1L385.1 681.9L387.9 679.4L387.7 679.5Z" fill="#888522"/>
<path d="M385.1 681.9L385.4 681.6L388.1 679.2L387.9 679.4Z" fill="#898522"/>
<path d="M402.0 679.9L402.6 680.0L404.2 679.2L403.6 679.0Z" fill="#8e8620"/>
<path d="M393.9 679.7L394.4 679.8L396.7 678.5L396.2 678.4Z" fill="#908620"/>
<path d="M385.4 681.6L385.6 681.4L388.3 679.2L388.1 679.2Z" fill="#8a8521"/>
<path d="M380.8 693.0L380.9 691.3L383.9 686.7L383.8 688.0Z" fill="#5e7c36"/>
<path d="M394.4 679.8L394.8 679.9L397.2 678.6L396.7 678.5Z" fill="#908620"/>
<path d="M377.3 706.7L377.3 703.4L380.6 697.7L380.6 700.8Z" fill="#19694d"/>
<path d="M402.6 680.0L403.2 680.2L404.8 679.3L404.2 679.2Z" fill="#8e8620"/>
<path d="M385.6 681.4L385.8 681.3L388.5 679.1L388.3 679.2Z" fill="#8b8621"/>
<path d="M394.8 679.9L395.3 680.0L397.6 678.7L397.2 678.6Z" fill="#908620"/>
<path d="M373.7 719.9L373.7 716.0L377.2 710.4L377.2 714.5Z" fill="#0b5560"/>
<path d="M385.8 681.3L386.0 681.2L388.8 679.0L388.5 679.1Z" fill="#8c8620"/>
<path d="M403.2 680.2L403.8 680.4L405.4 679.5L404.8 679.3Z" fill="#8e8620"/>
<path d="M395.3 680.0L395.8 680.2L398.1 678.8L397.6 678.7Z" fill="#908620"/>
<path d="M386.0 681.2L386.3 681.1L389.0 679.0L388.8 679.0Z" fill="#8d8620"/>
<path d="M380.9 691.3L381.0 689.9L384.0 685.6L383.9 686.7Z" fill="#667e32"/>
<path d="M386.3 681.1L386.6 681.0L389.3 679.0L389.0 679.0Z" fill="#8e8620"/>
<path d="M403.8 680.4L404.5 680.6L406.1 679.7L405.4 679.5Z" fill="#8e8620"/>
<path d="M395.8 680.2L396.3 680.3L398.6 679.0L398.1 678.8Z" fill="#908620"/>
<path d="M386.6 681.0L386.8 680.9L389.6 679.0L389.3 679.0Z" fill="#8f8620"/>
<path d="M369.9 731.9L370.0 728.6L373.7 723.9L373.6 727.7Z" fill="#0a3961"/>
<path d="M396.3 680.3L396.9 680.4L399.2 679.1L398.6 679.0Z" fill="#908620"/>
<path d="M404.5 680.6L405.2 680.7L406.7 679.9L406.1 679.7Z" fill="#8e8620"/>
<path d="M386.8 680.9L387.1 680.9L389.9 679.0L389.6 679.0Z" fill="#8f8620"/>
<path d="M381.0 689.9L381.1 688.7L384.2 684.7L384.0 685.6Z" fill="#6d7f2f"/>
<path d="M387.1 680.9L387.4 680.9L390.2 679.0L389.9 679.0Z" fill="#908620"/>
<path d="M396.9 680.4L397.4 680.5L399.7 679.3L399.2 679.1Z" fill="#908620"/>
<path d="M377.3 703.4L377.4 700.5L380.7 695.2L380.6 697.7Z" fill="#2e6f46"/>
<path d="M405.2 680.7L405.8 680.9L407.4 680.1L406.7 679.9Z" fill="#8e8620"/>
<path d="M387.4 680.9L387.8 680.9L390.5 679.1L390.2 679.0Z" fill="#908620"/>
<path d="M397.4 680.5L397.9 680.7L400.2 679.4L399.7 679.3Z" fill="#908620"/>
<path d="M387.8 680.9L388.1 680.9L390.8 679.1L390.5 679.1Z" fill="#908620"/>
<path d="M381.1 688.7L381.3 687.7L384.3 684.0L384.2 684.7Z" fill="#73802c"/>
<path d="M405.8 680.9L406.5 681.1L408.1 680.3L407.4 680.1Z" fill="#8e8620"/>
<path d="M388.1 680.9L388.4 680.9L391.2 679.2L390.8 679.1Z" fill="#918620"/>
<path d="M397.9 680.7L398.5 680.8L400.8 679.6L400.2 679.4Z" fill="#908620"/>
<path d="M373.7 716.0L373.8 712.2L377.3 706.7L377.2 710.4Z" fill="#0e5d59"/>
<path d="M388.4 680.9L388.8 680.9L391.5 679.2L391.2 679.2Z" fill="#918620"/>
<path d="M406.5 681.1L407.3 681.3L408.8 680.5L408.1 680.3Z" fill="#8e8620"/>
<path d="M381.3 687.7L381.4 686.8L384.4 683.4L384.3 684.0Z" fill="#78812a"/>
<path d="M398.5 680.8L399.1 681.0L401.4 679.7L400.8 679.6Z" fill="#908620"/>
<path d="M388.8 680.9L389.2 681.0L391.9 679.3L391.5 679.2Z" fill="#918620"/>
<path d="M366.0 741.6L366.0 741.3L369.9 738.1L369.9 738.5Z" fill="#051b4f"/>
<path d="M407.3 681.3L408.0 681.5L409.5 680.7L408.8 680.5Z" fill="#8e8620"/>
<path d="M399.1 681.0L399.7 681.1L402.0 679.9L401.4 679.7Z" fill="#918620"/>
<path d="M389.2 681.0L389.5 681.0L392.3 679.4L391.9 679.3Z" fill="#928620"/>
<path d="M377.4 700.5L377.5 698.1L380.8 693.0L380.7 695.2Z" fill="#407441"/>
<path d="M381.4 686.8L381.6 686.1L384.6 682.9L384.4 683.4Z" fill="#7c8228"/>
<path d="M370.0 728.6L370.0 724.9L373.7 719.9L373.7 723.9Z" fill="#0a4461"/>
<path d="M389.5 681.0L389.9 681.1L392.7 679.4L392.3 679.4Z" fill="#928620"/>
<path d="M366.0 741.3L366.1 740.3L369.9 736.9L369.9 738.1Z" fill="#051d51"/>
<path d="M399.7 681.1L400.3 681.3L402.6 680.0L402.0 679.9Z" fill="#918620"/>
<path d="M408.0 681.5L408.7 681.7L410.3 680.9L409.5 680.7Z" fill="#8e8620"/>
<path d="M381.6 686.1L381.7 685.5L384.8 682.5L384.6 682.9Z" fill="#7f8326"/>
<path d="M389.9 681.1L390.3 681.1L393.1 679.5L392.7 679.4Z" fill="#928620"/>
<path d="M400.3 681.3L400.9 681.4L403.2 680.2L402.6 680.0Z" fill="#918620"/>
<path d="M390.3 681.1L390.8 681.2L393.5 679.6L393.1 679.5Z" fill="#928620"/>
<path d="M381.7 685.5L381.9 685.0L385.0 682.1L384.8 682.5Z" fill="#828425"/>
<path d="M408.7 681.7L409.5 681.9L411.0 681.1L410.3 680.9Z" fill="#8e8620"/>
<path d="M390.8 681.2L391.2 681.3L393.9 679.7L393.5 679.6Z" fill="#928620"/>
<path d="M400.9 681.4L401.5 681.6L403.8 680.4L403.2 680.2Z" fill="#918620"/>
<path d="M366.1 740.3L366.1 738.5L369.9 734.8L369.9 736.9Z" fill="#062354"/>
<path d="M377.5 698.1L377.6 696.1L380.9 691.3L380.8 693.0Z" fill="#4f783c"/>
<path d="M381.9 685.0L382.1 684.6L385.1 681.9L385.0 682.1Z" fill="#858424"/>
<path d="M373.8 712.2L373.8 708.9L377.3 703.4L377.3 706.7Z" fill="#116353"/>
<path d="M409.5 681.9L410.3 682.1L411.8 681.3L411.0 681.1Z" fill="#8e8620"/>
<path d="M391.2 681.3L391.7 681.4L394.4 679.8L393.9 679.7Z" fill="#938620"/>
<path d="M382.1 684.6L382.3 684.3L385.4 681.6L385.1 681.9Z" fill="#878523"/>
<path d="M401.5 681.6L402.2 681.8L404.5 680.6L403.8 680.4Z" fill="#918620"/>
<path d="M391.7 681.4L392.1 681.5L394.8 679.9L394.4 679.8Z" fill="#938620"/>
<path d="M382.3 684.3L382.5 684.0L385.6 681.4L385.4 681.6Z" fill="#898522"/>
<path d="M410.3 682.1L411.0 682.3L412.6 681.5L411.8 681.3Z" fill="#8e8620"/>
<path d="M402.2 681.8L402.9 682.0L405.2 680.7L404.5 680.6Z" fill="#918620"/>
<path d="M392.1 681.5L392.6 681.6L395.3 680.0L394.8 679.9Z" fill="#938620"/>
<path d="M382.5 684.0L382.8 683.7L385.8 681.3L385.6 681.4Z" fill="#8b8521"/>
<path d="M377.6 696.1L377.7 694.3L381.0 689.9L380.9 691.3Z" fill="#5a7b38"/>
<path d="M370.0 724.9L370.0 721.2L373.7 716.0L373.7 719.9Z" fill="#0b4f60"/>
<path d="M392.6 681.6L393.1 681.7L395.8 680.2L395.3 680.0Z" fill="#938620"/>
<path d="M411.0 682.3L411.9 682.6L413.4 681.7L412.6 681.5Z" fill="#8e8620"/>
<path d="M402.9 682.0L403.5 682.1L405.8 680.9L405.2 680.7Z" fill="#918620"/>
<path d="M382.8 683.7L383.0 683.5L386.0 681.2L385.8 681.3Z" fill="#8c8620"/>
<path d="M366.1 738.5L366.1 736.0L369.9 731.9L369.9 734.8Z" fill="#082b59"/>
<path d="M393.1 681.7L393.6 681.8L396.3 680.3L395.8 680.2Z" fill="#938620"/>
<path d="M383.0 683.5L383.3 683.4L386.3 681.1L386.0 681.2Z" fill="#8d8620"/>
<path d="M403.5 682.1L404.2 682.3L406.5 681.1L405.8 680.9Z" fill="#918620"/>
<path d="M411.9 682.6L412.7 682.8L414.2 682.0L413.4 681.7Z" fill="#8e8620"/>
<path d="M383.3 683.4L383.5 683.2L386.6 681.0L386.3 681.1Z" fill="#8e8620"/>
<path d="M393.6 681.8L394.1 681.9L396.9 680.4L396.3 680.3Z" fill="#938620"/>
<path d="M373.8 708.9L373.9 705.8L377.4 700.5L377.3 703.4Z" fill="#1a694c"/>
<path d="M377.7 694.3L377.8 692.8L381.1 688.7L381.0 689.9Z" fill="#637d34"/>
<path d="M383.5 683.2L383.8 683.1L386.8 680.9L386.6 681.0Z" fill="#8f8620"/>
<path d="M404.2 682.3L405.0 682.5L407.3 681.3L406.5 681.1Z" fill="#918620"/>
<path d="M394.1 681.9L394.7 682.0L397.4 680.5L396.9 680.4Z" fill="#938620"/>
<path d="M412.7 682.8L413.5 683.0L415.1 682.2L414.2 682.0Z" fill="#8e8620"/>
<path d="M383.8 683.1L384.1 683.0L387.1 680.9L386.8 680.9Z" fill="#908620"/>
<path d="M394.7 682.0L395.2 682.2L397.9 680.7L397.4 680.5Z" fill="#948620"/>
<path d="M405.0 682.5L405.7 682.7L408.0 681.5L407.3 681.3Z" fill="#918620"/>
<path d="M384.1 683.0L384.4 682.9L387.4 680.9L387.1 680.9Z" fill="#918620"/>
<path d="M377.8 692.8L378.0 691.6L381.3 687.7L381.1 688.7Z" fill="#6a7f30"/>
<path d="M413.5 683.0L414.4 683.2L415.9 682.4L415.1 682.2Z" fill="#8e8620"/>
<path d="M384.4 682.9L384.7 682.9L387.8 680.9L387.4 680.9Z" fill="#928620"/>
<path d="M366.1 736.0L366.1 733.0L370.0 728.6L369.9 731.9Z" fill="#09355f"/>
<path d="M395.2 682.2L395.8 682.3L398.5 680.8L397.9 680.7Z" fill="#948721"/>
<path d="M405.7 682.7L406.4 682.9L408.7 681.7L408.0 681.5Z" fill="#918620"/>
<path d="M384.7 682.9L385.0 682.8L388.1 680.9L387.8 680.9Z" fill="#928620"/>
<path d="M370.0 721.2L370.1 717.6L373.8 712.2L373.7 716.0Z" fill="#0c585d"/>
<path d="M395.8 682.3L396.4 682.4L399.1 681.0L398.5 680.8Z" fill="#948721"/>
<path d="M414.4 683.2L415.2 683.5L416.8 682.7L415.9 682.4Z" fill="#8e8620"/>
<path d="M378.0 691.6L378.1 690.5L381.4 686.8L381.3 687.7Z" fill="#70802d"/>
<path d="M385.0 682.8L385.4 682.8L388.4 680.9L388.1 680.9Z" fill="#938620"/>
<path d="M373.9 705.8L374.0 703.2L377.5 698.1L377.4 700.5Z" fill="#2e6f46"/>
<path d="M406.4 682.9L407.2 683.1L409.5 681.9L408.7 681.7Z" fill="#918620"/>
<path d="M396.4 682.4L397.0 682.6L399.7 681.1L399.1 681.0Z" fill="#948721"/>
<path d="M385.4 682.8L385.8 682.8L388.8 680.9L388.4 680.9Z" fill="#938620"/>
<path d="M415.2 683.5L416.1 683.7L417.7 682.9L416.8 682.7Z" fill="#8e8620"/>
<path d="M385.8 682.8L386.1 682.8L389.2 681.0L388.8 680.9Z" fill="#948721"/>
<path d="M378.1 690.5L378.3 689.6L381.6 686.1L381.4 686.8Z" fill="#76812b"/>
<path d="M407.2 683.1L408.0 683.3L410.3 682.1L409.5 681.9Z" fill="#918620"/>
<path d="M397.0 682.6L397.6 682.7L400.3 681.3L399.7 681.1Z" fill="#948721"/>
<path d="M386.1 682.8L386.5 682.9L389.5 681.0L389.2 681.0Z" fill="#948721"/>
<path d="M397.6 682.7L398.2 682.9L400.9 681.4L400.3 681.3Z" fill="#948721"/>
<path d="M378.3 689.6L378.4 688.9L381.7 685.5L381.6 686.1Z" fill="#7a8229"/>
<path d="M408.0 683.3L408.8 683.5L411.0 682.3L410.3 682.1Z" fill="#918620"/>
<path d="M386.5 682.9L386.9 682.9L389.9 681.1L389.5 681.0Z" fill="#958721"/>
<path d="M366.1 733.0L366.1 729.6L370.0 724.9L370.0 728.6Z" fill="#0a3f62"/>
<path d="M386.9 682.9L387.3 682.9L390.3 681.1L389.9 681.1Z" fill="#958721"/>
<path d="M374.0 703.2L374.1 700.9L377.6 696.1L377.5 698.1Z" fill="#3e7441"/>
<path d="M398.2 682.9L398.8 683.1L401.5 681.6L400.9 681.4Z" fill="#948721"/>
<path d="M378.4 688.9L378.6 688.2L381.9 685.0L381.7 685.5Z" fill="#7e8327"/>
<path d="M408.8 683.5L409.6 683.8L411.9 682.6L411.0 682.3Z" fill="#918620"/>
<path d="M387.3 682.9L387.7 683.0L390.8 681.2L390.3 681.1Z" fill="#958721"/>
<path d="M370.1 717.6L370.1 714.2L373.8 708.9L373.8 712.2Z" fill="#0f5e57"/>
<path d="M416.1 683.7L419.6 684.7L421.2 683.9L417.7 682.9Z" fill="#8e8620"/>
<path d="M398.8 683.1L399.5 683.2L402.2 681.8L401.5 681.6Z" fill="#948721"/>
<path d="M378.6 688.2L378.8 687.6L382.1 684.6L381.9 685.0Z" fill="#828425"/>
<path d="M387.7 683.0L388.2 683.0L391.2 681.3L390.8 681.2Z" fill="#968721"/>
<path d="M409.6 683.8L410.4 684.0L412.7 682.8L411.9 682.6Z" fill="#918620"/>
<path d="M362.0 744.9L362.0 744.7L366.0 741.3L366.0 741.6Z" fill="#051a4f"/>
<path d="M399.5 683.2L400.2 683.4L402.9 682.0L402.2 681.8Z" fill="#948721"/>
<path d="M388.2 683.0L388.6 683.1L391.7 681.4L391.2 681.3Z" fill="#968721"/>
<path d="M378.8 687.6L379.0 687.2L382.3 684.3L382.1 684.6Z" fill="#858424"/>
<path d="M374.1 700.9L374.2 698.9L377.7 694.3L377.6 696.1Z" fill="#4d783d"/>
<path d="M362.0 744.7L362.0 743.8L366.1 740.3L366.0 741.3Z" fill="#051d51"/>
<path d="M388.6 683.1L389.1 683.2L392.1 681.5L391.7 681.4Z" fill="#968721"/>
<path d="M410.4 684.0L411.2 684.2L413.5 683.0L412.7 682.8Z" fill="#918620"/>
<path d="M400.2 683.4L400.8 683.6L403.5 682.1L402.9 682.0Z" fill="#948721"/>
<path d="M379.0 687.2L379.2 686.7L382.5 684.0L382.3 684.3Z" fill="#878523"/>
<path d="M389.1 683.2L389.6 683.3L392.6 681.6L392.1 681.5Z" fill="#968721"/>
<path d="M379.2 686.7L379.5 686.4L382.8 683.7L382.5 684.0Z" fill="#8a8522"/>
<path d="M400.8 683.6L401.5 683.8L404.2 682.3L403.5 682.1Z" fill="#948721"/>
<path d="M411.2 684.2L412.1 684.5L414.4 683.2L413.5 683.0Z" fill="#918620"/>
<path d="M389.6 683.3L390.1 683.4L393.1 681.7L392.6 681.6Z" fill="#978721"/>
<path d="M366.1 729.6L366.1 726.2L370.0 721.2L370.0 724.9Z" fill="#0b4961"/>
<path d="M362.0 743.8L362.0 742.2L366.1 738.5L366.1 740.3Z" fill="#062153"/>
<path d="M379.5 686.4L379.7 686.1L383.0 683.5L382.8 683.7Z" fill="#8c8621"/>
<path d="M370.1 714.2L370.2 711.1L373.9 705.8L373.8 708.9Z" fill="#116551"/>
<path d="M390.1 683.4L390.6 683.5L393.6 681.8L393.1 681.7Z" fill="#978721"/>
<path d="M401.5 683.8L402.3 683.9L405.0 682.5L404.2 682.3Z" fill="#948721"/>
<path d="M374.2 698.9L374.3 697.2L377.8 692.8L377.7 694.3Z" fill="#597b38"/>
<path d="M412.1 684.5L412.9 684.7L415.2 683.5L414.4 683.2Z" fill="#918620"/>
<path d="M379.7 686.1L380.0 685.8L383.3 683.4L383.0 683.5Z" fill="#8d8620"/>
<path d="M390.6 683.5L391.1 683.6L394.1 681.9L393.6 681.8Z" fill="#978721"/>
<path d="M402.3 683.9L403.0 684.1L405.7 682.7L405.0 682.5Z" fill="#948721"/>
<path d="M380.0 685.8L380.2 685.6L383.5 683.2L383.3 683.4Z" fill="#8f8620"/>
<path d="M412.9 684.7L413.8 684.9L416.1 683.7L415.2 683.5Z" fill="#918620"/>
<path d="M391.1 683.6L391.6 683.7L394.7 682.0L394.1 681.9Z" fill="#978721"/>
<path d="M380.2 685.6L380.5 685.4L383.8 683.1L383.5 683.2Z" fill="#908620"/>
<path d="M362.0 742.2L362.0 740.0L366.1 736.0L366.1 738.5Z" fill="#072857"/>
<path d="M374.3 697.2L374.4 695.7L378.0 691.6L377.8 692.8Z" fill="#617d34"/>
<path d="M403.0 684.1L403.7 684.3L406.4 682.9L405.7 682.7Z" fill="#948721"/>
<path d="M391.6 683.7L392.2 683.8L395.2 682.2L394.7 682.0Z" fill="#978721"/>
<path d="M380.5 685.4L380.8 685.3L384.1 683.0L383.8 683.1Z" fill="#918620"/>
<path d="M380.8 685.3L381.1 685.2L384.4 682.9L384.1 683.0Z" fill="#928620"/>
<path d="M403.7 684.3L404.5 684.5L407.2 683.1L406.4 682.9Z" fill="#948721"/>
<path d="M392.2 683.8L392.8 683.9L395.8 682.3L395.2 682.2Z" fill="#978721"/>
<path d="M370.2 711.1L370.3 708.3L374.0 703.2L373.9 705.8Z" fill="#1d6a4b"/>
<path d="M381.1 685.2L381.4 685.1L384.7 682.9L384.4 682.9Z" fill="#938620"/>
<path d="M366.1 726.2L366.2 722.7L370.1 717.6L370.0 721.2Z" fill="#0b5360"/>
<path d="M374.4 695.7L374.6 694.4L378.1 690.5L378.0 691.6Z" fill="#697e31"/>
<path d="M392.8 683.9L393.4 684.1L396.4 682.4L395.8 682.3Z" fill="#988721"/>
<path d="M404.5 684.5L405.3 684.7L408.0 683.3L407.2 683.1Z" fill="#958721"/>
<path d="M419.6 684.7L428.0 687.0L429.5 686.2L421.2 683.9Z" fill="#8e8620"/>
<path d="M381.4 685.1L381.8 685.0L385.0 682.8L384.7 682.9Z" fill="#948721"/>
<path d="M413.8 684.9L417.3 685.9L419.6 684.7L416.1 683.7Z" fill="#918620"/>
<path d="M393.4 684.1L393.9 684.2L397.0 682.6L396.4 682.4Z" fill="#988721"/>
<path d="M381.8 685.0L382.1 684.9L385.4 682.8L385.0 682.8Z" fill="#958721"/>
<path d="M362.0 740.0L362.0 737.3L366.1 733.0L366.1 736.0Z" fill="#09315d"/>
<path d="M405.3 684.7L406.1 685.0L408.8 683.5L408.0 683.3Z" fill="#958721"/>
<path d="M374.6 694.4L374.7 693.3L378.3 689.6L378.1 690.5Z" fill="#70802e"/>
<path d="M382.1 684.9L382.5 684.9L385.8 682.8L385.4 682.8Z" fill="#968721"/>
<path d="M393.9 684.2L394.6 684.3L397.6 682.7L397.0 682.6Z" fill="#988721"/>
<path d="M382.5 684.9L382.8 684.8L386.1 682.8L385.8 682.8Z" fill="#968721"/>
<path d="M406.1 685.0L406.9 685.2L409.6 683.8L408.8 683.5Z" fill="#958721"/>
<path d="M394.6 684.3L395.2 684.5L398.2 682.9L397.6 682.7Z" fill="#988721"/>
<path d="M370.3 708.3L370.4 705.8L374.1 700.9L374.0 703.2Z" fill="#306f46"/>
<path d="M374.7 693.3L374.9 692.4L378.4 688.9L378.3 689.6Z" fill="#75812b"/>
<path d="M382.8 684.8L383.2 684.8L386.5 682.9L386.1 682.8Z" fill="#978721"/>
<path d="M395.2 684.5L395.8 684.6L398.8 683.1L398.2 682.9Z" fill="#988721"/>
<path d="M406.9 685.2L407.7 685.4L410.4 684.0L409.6 683.8Z" fill="#958721"/>
<path d="M383.2 684.8L383.6 684.8L386.9 682.9L386.5 682.9Z" fill="#988721"/>
<path d="M374.9 692.4L375.1 691.5L378.6 688.2L378.4 688.9Z" fill="#7a8229"/>
<path d="M366.2 722.7L366.2 719.3L370.1 714.2L370.1 717.6Z" fill="#0d5a5b"/>
<path d="M383.6 684.8L384.0 684.9L387.3 682.9L386.9 682.9Z" fill="#988721"/>
<path d="M395.8 684.6L396.5 684.8L399.5 683.2L398.8 683.1Z" fill="#988721"/>
<path d="M407.7 685.4L408.5 685.6L411.2 684.2L410.4 684.0Z" fill="#958721"/>
<path d="M362.0 737.3L362.0 734.2L366.1 729.6L366.1 733.0Z" fill="#0a3c62"/>
<path d="M384.0 684.9L384.5 684.9L387.7 683.0L387.3 682.9Z" fill="#998721"/>
<path d="M375.1 691.5L375.3 690.8L378.8 687.6L378.6 688.2Z" fill="#7f8327"/>
<path d="M396.5 684.8L397.2 685.0L400.2 683.4L399.5 683.2Z" fill="#988721"/>
<path d="M370.4 705.8L370.5 703.6L374.2 698.9L374.1 700.9Z" fill="#407441"/>
<path d="M384.5 684.9L384.9 684.9L388.2 683.0L387.7 683.0Z" fill="#998721"/>
<path d="M408.5 685.6L409.4 685.8L412.1 684.5L411.2 684.2Z" fill="#958721"/>
<path d="M375.3 690.8L375.5 690.2L379.0 687.2L378.8 687.6Z" fill="#828425"/>
<path d="M397.2 685.0L397.8 685.1L400.8 683.6L400.2 683.4Z" fill="#988721"/>
<path d="M384.9 684.9L385.3 685.0L388.6 683.1L388.2 683.0Z" fill="#998721"/>
<path d="M385.3 685.0L385.8 685.0L389.1 683.2L388.6 683.1Z" fill="#9a8721"/>
<path d="M409.4 685.8L410.3 686.1L412.9 684.7L412.1 684.5Z" fill="#958721"/>
<path d="M375.5 690.2L375.7 689.7L379.2 686.7L379.0 687.2Z" fill="#868423"/>
<path d="M397.8 685.1L398.5 685.3L401.5 683.8L400.8 683.6Z" fill="#988721"/>
<path d="M385.8 685.0L386.3 685.1L389.6 683.3L389.1 683.2Z" fill="#9a8721"/>
<path d="M366.2 719.3L366.3 716.2L370.2 711.1L370.1 714.2Z" fill="#0f6055"/>
<path d="M375.7 689.7L375.9 689.2L379.5 686.4L379.2 686.7Z" fill="#898522"/>
<path d="M370.5 703.6L370.6 701.6L374.3 697.2L374.2 698.9Z" fill="#4d783c"/>
<path d="M410.3 686.1L411.1 686.3L413.8 684.9L412.9 684.7Z" fill="#958721"/>
<path d="M398.5 685.3L399.3 685.5L402.3 683.9L401.5 683.8Z" fill="#998721"/>
<path d="M386.3 685.1L386.8 685.2L390.1 683.4L389.6 683.3Z" fill="#9a8721"/>
<path d="M417.3 685.9L425.7 688.2L428.0 687.0L419.6 684.7Z" fill="#918620"/>
<path d="M362.0 734.2L362.1 731.0L366.1 726.2L366.1 729.6Z" fill="#0a4561"/>
<path d="M375.9 689.2L376.2 688.8L379.7 686.1L379.5 686.4Z" fill="#8b8621"/>
<path d="M357.8 748.4L357.8 748.2L362.0 744.7L362.0 744.9Z" fill="#051a4f"/>
<path d="M386.8 685.2L387.3 685.3L390.6 683.5L390.1 683.4Z" fill="#9b8721"/>
<path d="M399.3 685.5L400.0 685.7L403.0 684.1L402.3 683.9Z" fill="#998721"/>
<path d="M357.8 748.2L357.8 747.4L362.0 743.8L362.0 744.7Z" fill="#051c50"/>
<path d="M376.2 688.8L376.4 688.5L380.0 685.8L379.7 686.1Z" fill="#8e8620"/>
<path d="M387.3 685.3L387.8 685.3L391.1 683.6L390.6 683.5Z" fill="#9b8721"/>
<path d="M400.0 685.7L400.7 685.9L403.7 684.3L403.0 684.1Z" fill="#998721"/>
<path d="M370.6 701.6L370.7 699.9L374.4 695.7L374.3 697.2Z" fill="#597b38"/>
<path d="M376.4 688.5L376.7 688.2L380.2 685.6L380.0 685.8Z" fill="#8f8620"/>
<path d="M387.8 685.3L388.4 685.4L391.6 683.7L391.1 683.6Z" fill="#9b8721"/>
<path d="M357.8 747.4L357.8 746.0L362.0 742.2L362.0 743.8Z" fill="#062053"/>
<path d="M376.7 688.2L377.0 687.9L380.5 685.4L380.2 685.6Z" fill="#918620"/>
<path d="M411.1 686.3L414.7 687.3L417.3 685.9L413.8 684.9Z" fill="#958721"/>
<path d="M400.7 685.9L401.5 686.1L404.5 684.5L403.7 684.3Z" fill="#998721"/>
<path d="M388.4 685.4L388.9 685.5L392.2 683.8L391.6 683.7Z" fill="#9b8721"/>
<path d="M366.3 716.2L366.4 713.3L370.3 708.3L370.2 711.1Z" fill="#126650"/>
<path d="M428.0 687.0L436.4 689.3L438.0 688.5L429.5 686.2Z" fill="#8e8620"/>
<path d="M377.0 687.9L377.3 687.7L380.8 685.3L380.5 685.4Z" fill="#938620"/>
<path d="M370.7 699.9L370.9 698.5L374.6 694.4L374.4 695.7Z" fill="#627d34"/>
<path d="M401.5 686.1L402.3 686.3L405.3 684.7L404.5 684.5Z" fill="#998721"/>
<path d="M388.9 685.5L389.5 685.7L392.8 683.9L392.2 683.8Z" fill="#9c8721"/>
<path d="M377.3 687.7L377.6 687.5L381.1 685.2L380.8 685.3Z" fill="#948721"/>
<path d="M362.1 731.0L362.1 727.6L366.2 722.7L366.1 726.2Z" fill="#0b4e61"/>
<path d="M357.8 746.0L357.8 744.0L362.0 740.0L362.0 742.2Z" fill="#072756"/>
<path d="M389.5 685.7L390.1 685.8L393.4 684.1L392.8 683.9Z" fill="#9c8721"/>
<path d="M377.6 687.5L377.9 687.4L381.4 685.1L381.1 685.2Z" fill="#958721"/>
<path d="M402.3 686.3L403.1 686.5L406.1 685.0L405.3 684.7Z" fill="#998721"/>
<path d="M377.9 687.4L378.2 687.2L381.8 685.0L381.4 685.1Z" fill="#978721"/>
<path d="M370.9 698.5L371.0 697.2L374.7 693.3L374.6 694.4Z" fill="#6a7e30"/>
<path d="M390.1 685.8L390.7 685.9L393.9 684.2L393.4 684.1Z" fill="#9c8721"/>
<path d="M403.1 686.5L403.9 686.7L406.9 685.2L406.1 685.0Z" fill="#998721"/>
<path d="M378.2 687.2L378.6 687.1L382.1 684.9L381.8 685.0Z" fill="#988721"/>
<path d="M390.7 685.9L391.3 686.0L394.6 684.3L393.9 684.2Z" fill="#9c8721"/>
<path d="M366.4 713.3L366.5 710.7L370.4 705.8L370.3 708.3Z" fill="#226b4a"/>
<path d="M378.6 687.1L378.9 687.1L382.5 684.9L382.1 684.9Z" fill="#998721"/>
<path d="M371.0 697.2L371.2 696.1L374.9 692.4L374.7 693.3Z" fill="#70802d"/>
<path d="M403.9 686.7L404.7 686.9L407.7 685.4L406.9 685.2Z" fill="#998721"/>
<path d="M391.3 686.0L391.9 686.2L395.2 684.5L394.6 684.3Z" fill="#9c8721"/>
<path d="M357.8 744.0L357.8 741.6L362.0 737.3L362.0 740.0Z" fill="#082f5b"/>
<path d="M378.9 687.1L379.3 687.0L382.8 684.8L382.5 684.9Z" fill="#998721"/>
<path d="M391.9 686.2L392.6 686.3L395.8 684.6L395.2 684.5Z" fill="#9d8721"/>
<path d="M379.3 687.0L379.7 686.9L383.2 684.8L382.8 684.8Z" fill="#9a8721"/>
<path d="M404.7 686.9L405.5 687.1L408.5 685.6L407.7 685.4Z" fill="#998721"/>
<path d="M362.1 727.6L362.2 724.4L366.2 719.3L366.2 722.7Z" fill="#0c575e"/>
<path d="M371.2 696.1L371.4 695.1L375.1 691.5L374.9 692.4Z" fill="#76812b"/>
<path d="M379.7 686.9L380.1 686.9L383.6 684.8L383.2 684.8Z" fill="#9b8721"/>
<path d="M392.6 686.3L393.2 686.5L396.5 684.8L395.8 684.6Z" fill="#9d8721"/>
<path d="M366.5 710.7L366.6 708.3L370.5 703.6L370.4 705.8Z" fill="#337045"/>
<path d="M405.5 687.1L406.4 687.4L409.4 685.8L408.5 685.6Z" fill="#998721"/>
<path d="M380.1 686.9L380.5 686.9L384.0 684.9L383.6 684.8Z" fill="#9c8721"/>
<path d="M371.4 695.1L371.6 694.2L375.3 690.8L375.1 691.5Z" fill="#7b8228"/>
<path d="M393.2 686.5L393.9 686.6L397.2 685.0L396.5 684.8Z" fill="#9d8721"/>
<path d="M380.5 686.9L380.9 686.9L384.5 684.9L384.0 684.9Z" fill="#9c8721"/>
<path d="M357.8 741.6L357.8 738.7L362.0 734.2L362.0 737.3Z" fill="#0a3860"/>
<path d="M406.4 687.4L407.3 687.6L410.3 686.1L409.4 685.8Z" fill="#998721"/>
<path d="M414.7 687.3L423.1 689.6L425.7 688.2L417.3 685.9Z" fill="#958721"/>
<path d="M371.6 694.2L371.8 693.5L375.5 690.2L375.3 690.8Z" fill="#808326"/>
<path d="M380.9 686.9L381.4 686.9L384.9 684.9L384.5 684.9Z" fill="#9d8721"/>
<path d="M393.9 686.6L394.6 686.8L397.8 685.1L397.2 685.0Z" fill="#9d8721"/>
<path d="M425.7 688.2L434.2 690.5L436.4 689.3L428.0 687.0Z" fill="#918620"/>
<path d="M381.4 686.9L381.8 686.9L385.3 685.0L384.9 684.9Z" fill="#9d8721"/>
<path d="M407.3 687.6L408.2 687.8L411.1 686.3L410.3 686.1Z" fill="#998721"/>
<path d="M394.6 686.8L395.3 687.0L398.5 685.3L397.8 685.1Z" fill="#9d8721"/>
<path d="M371.8 693.5L372.0 692.8L375.7 689.7L375.5 690.2Z" fill="#848424"/>
<path d="M366.6 708.3L366.7 706.2L370.6 701.6L370.5 703.6Z" fill="#427540"/>
<path d="M362.2 724.4L362.2 721.2L366.3 716.2L366.2 719.3Z" fill="#0e5d59"/>
<path d="M381.8 686.9L382.3 687.0L385.8 685.0L385.3 685.0Z" fill="#9e8721"/>
<path d="M395.3 687.0L396.0 687.2L399.3 685.5L398.5 685.3Z" fill="#9d8721"/>
<path d="M372.0 692.8L372.2 692.2L375.9 689.2L375.7 689.7Z" fill="#888522"/>
<path d="M382.3 687.0L382.8 687.0L386.3 685.1L385.8 685.0Z" fill="#9e8721"/>
<path d="M382.8 687.0L383.3 687.1L386.8 685.2L386.3 685.1Z" fill="#9f8721"/>
<path d="M396.0 687.2L396.7 687.3L400.0 685.7L399.3 685.5Z" fill="#9d8721"/>
<path d="M372.2 692.2L372.4 691.7L376.2 688.8L375.9 689.2Z" fill="#8b8621"/>
<path d="M357.8 738.7L357.8 735.7L362.1 731.0L362.0 734.2Z" fill="#0a4162"/>
<path d="M366.7 706.2L366.8 704.3L370.7 699.9L370.6 701.6Z" fill="#50783c"/>
<path d="M436.4 689.3L444.9 691.7L446.4 690.8L438.0 688.5Z" fill="#8e8620"/>
<path d="M383.3 687.1L383.8 687.1L387.3 685.3L386.8 685.2Z" fill="#9f8721"/>
<path d="M408.2 687.8L411.7 688.8L414.7 687.3L411.1 686.3Z" fill="#998721"/>
<path d="M372.4 691.7L372.7 691.3L376.4 688.5L376.2 688.8Z" fill="#8e8620"/>
<path d="M396.7 687.3L397.5 687.5L400.7 685.9L400.0 685.7Z" fill="#9d8721"/>
<path d="M383.8 687.1L384.3 687.2L387.8 685.3L387.3 685.3Z" fill="#9f8721"/>
<path d="M372.7 691.3L373.0 690.9L376.7 688.2L376.4 688.5Z" fill="#908620"/>
<path d="M362.2 721.2L362.3 718.3L366.4 713.3L366.3 716.2Z" fill="#106353"/>
<path d="M397.5 687.5L398.2 687.7L401.5 686.1L400.7 685.9Z" fill="#9e8721"/>
<path d="M384.3 687.2L384.9 687.3L388.4 685.4L387.8 685.3Z" fill="#a08721"/>
<path d="M353.4 751.9L353.4 751.7L357.8 748.2L357.8 748.4Z" fill="#051a4f"/>
<path d="M373.0 690.9L373.2 690.6L377.0 687.9L376.7 688.2Z" fill="#928620"/>
<path d="M366.8 704.3L366.9 702.7L370.9 698.5L370.7 699.9Z" fill="#5b7b37"/>
<path d="M353.4 751.7L353.4 751.0L357.8 747.4L357.8 748.2Z" fill="#051c50"/>
<path d="M384.9 687.3L385.4 687.4L388.9 685.5L388.4 685.4Z" fill="#a08721"/>
<path d="M398.2 687.7L399.0 687.9L402.3 686.3L401.5 686.1Z" fill="#9e8721"/>
<path d="M373.2 690.6L373.5 690.3L377.3 687.7L377.0 687.9Z" fill="#948721"/>
<path d="M385.4 687.4L386.0 687.5L389.5 685.7L388.9 685.5Z" fill="#a08721"/>
<path d="M357.8 735.7L357.9 732.5L362.1 727.6L362.1 731.0Z" fill="#0b4a61"/>
<path d="M399.0 687.9L399.8 688.1L403.1 686.5L402.3 686.3Z" fill="#9e8721"/>
<path d="M353.4 751.0L353.4 749.8L357.8 746.0L357.8 747.4Z" fill="#062052"/>
<path d="M373.5 690.3L373.8 690.0L377.6 687.5L377.3 687.7Z" fill="#968721"/>
<path d="M366.9 702.7L367.1 701.2L371.0 697.2L370.9 698.5Z" fill="#637d33"/>
<path d="M386.0 687.5L386.6 687.6L390.1 685.8L389.5 685.7Z" fill="#a18721"/>
<path d="M373.8 690.0L374.2 689.8L377.9 687.4L377.6 687.5Z" fill="#988721"/>
<path d="M399.8 688.1L400.6 688.3L403.9 686.7L403.1 686.5Z" fill="#9e8721"/>
<path d="M362.3 718.3L362.4 715.6L366.5 710.7L366.4 713.3Z" fill="#15684e"/>
<path d="M386.6 687.6L387.2 687.7L390.7 685.9L390.1 685.8Z" fill="#a18721"/>
<path d="M374.2 689.8L374.5 689.6L378.2 687.2L377.9 687.4Z" fill="#998721"/>
<path d="M353.4 749.8L353.4 748.0L357.8 744.0L357.8 746.0Z" fill="#072555"/>
<path d="M400.6 688.3L401.4 688.5L404.7 686.9L403.9 686.7Z" fill="#9e8721"/>
<path d="M387.2 687.7L387.8 687.8L391.3 686.0L390.7 685.9Z" fill="#a18822"/>
<path d="M367.1 701.2L367.3 699.9L371.2 696.1L371.0 697.2Z" fill="#6b7f30"/>
<path d="M374.5 689.6L374.8 689.5L378.6 687.1L378.2 687.2Z" fill="#9a8721"/>
<path d="M374.8 689.5L375.2 689.3L378.9 687.1L378.6 687.1Z" fill="#9b8721"/>
<path d="M387.8 687.8L388.4 688.0L391.9 686.2L391.3 686.0Z" fill="#a18822"/>
<path d="M401.4 688.5L402.3 688.8L405.5 687.1L404.7 686.9Z" fill="#9e8721"/>
<path d="M375.2 689.3L375.6 689.2L379.3 687.0L378.9 687.1Z" fill="#9d8721"/>
<path d="M357.9 732.5L357.9 729.3L362.2 724.4L362.1 727.6Z" fill="#0b5360"/>
<path d="M367.3 699.9L367.4 698.8L371.4 695.1L371.2 696.1Z" fill="#72802d"/>
<path d="M423.1 689.6L431.5 691.9L434.2 690.5L425.7 688.2Z" fill="#958721"/>
<path d="M388.4 688.0L389.1 688.1L392.6 686.3L391.9 686.2Z" fill="#a28822"/>
<path d="M362.4 715.6L362.5 713.1L366.6 708.3L366.5 710.7Z" fill="#276d48"/>
<path d="M353.4 748.0L353.4 745.8L357.8 741.6L357.8 744.0Z" fill="#082c5a"/>
<path d="M375.6 689.2L376.0 689.2L379.7 686.9L379.3 687.0Z" fill="#9e8721"/>
<path d="M402.3 688.8L403.2 689.0L406.4 687.4L405.5 687.1Z" fill="#9e8721"/>
<path d="M434.2 690.5L442.7 692.9L444.9 691.7L436.4 689.3Z" fill="#918620"/>
<path d="M411.7 688.8L420.1 691.1L423.1 689.6L414.7 687.3Z" fill="#9a8721"/>
<path d="M389.1 688.1L389.7 688.3L393.2 686.5L392.6 686.3Z" fill="#a28822"/>
<path d="M376.0 689.2L376.4 689.1L380.1 686.9L379.7 686.9Z" fill="#9f8721"/>
<path d="M367.4 698.8L367.6 697.7L371.6 694.2L371.4 695.1Z" fill="#78822a"/>
<path d="M403.2 689.0L404.0 689.2L407.3 687.6L406.4 687.4Z" fill="#9e8721"/>
<path d="M389.7 688.3L390.4 688.4L393.9 686.6L393.2 686.5Z" fill="#a28822"/>
<path d="M376.4 689.1L376.8 689.0L380.5 686.9L380.1 686.9Z" fill="#9f8721"/>
<path d="M376.8 689.0L377.2 689.0L380.9 686.9L380.5 686.9Z" fill="#a08721"/>
<path d="M367.6 697.7L367.8 696.9L371.8 693.5L371.6 694.2Z" fill="#7e8327"/>
<path d="M404.0 689.2L404.9 689.5L408.2 687.8L407.3 687.6Z" fill="#9e8721"/>
<path d="M390.4 688.4L391.1 688.6L394.6 686.8L393.9 686.6Z" fill="#a28822"/>
<path d="M362.5 713.1L362.6 710.8L366.7 706.2L366.6 708.3Z" fill="#377243"/>
<path d="M377.2 689.0L377.6 689.0L381.4 686.9L380.9 686.9Z" fill="#a18721"/>
<path d="M353.4 745.8L353.4 743.2L357.8 738.7L357.8 741.6Z" fill="#09355f"/>
<path d="M357.9 729.3L358.0 726.2L362.2 721.2L362.2 724.4Z" fill="#0d5a5c"/>
<path d="M444.9 691.7L453.4 694.0L454.9 693.2L446.4 690.8Z" fill="#8e8620"/>
<path d="M391.1 688.6L391.8 688.7L395.3 687.0L394.6 686.8Z" fill="#a28822"/>
<path d="M367.8 696.9L368.0 696.1L372.0 692.8L371.8 693.5Z" fill="#828425"/>
<path d="M377.6 689.0L378.1 689.0L381.8 686.9L381.4 686.9Z" fill="#a28822"/>
<path d="M391.8 688.7L392.5 688.9L396.0 687.2L395.3 687.0Z" fill="#a28822"/>
<path d="M378.1 689.0L378.6 689.0L382.3 687.0L381.8 686.9Z" fill="#a28822"/>
<path d="M368.0 696.1L368.3 695.4L372.2 692.2L372.0 692.8Z" fill="#878523"/>
<path d="M378.6 689.0L379.1 689.0L382.8 687.0L382.3 687.0Z" fill="#a38822"/>
<path d="M362.6 710.8L362.7 708.8L366.8 704.3L366.7 706.2Z" fill="#46763f"/>
<path d="M392.5 688.9L393.2 689.1L396.7 687.3L396.0 687.2Z" fill="#a38822"/>
<path d="M404.9 689.5L408.4 690.4L411.7 688.8L408.2 687.8Z" fill="#9e8721"/>
<path d="M368.3 695.4L368.5 694.8L372.4 691.7L372.2 692.2Z" fill="#8a8521"/>
<path d="M379.1 689.0L379.6 689.1L383.3 687.1L382.8 687.0Z" fill="#a38822"/>
<path d="M353.4 743.2L353.4 740.4L357.8 735.7L357.8 738.7Z" fill="#0a3e62"/>
<path d="M393.2 689.1L394.0 689.3L397.5 687.5L396.7 687.3Z" fill="#a38822"/>
<path d="M368.5 694.8L368.8 694.2L372.7 691.3L372.4 691.7Z" fill="#8e8620"/>
<path d="M379.6 689.1L380.1 689.1L383.8 687.1L383.3 687.1Z" fill="#a48822"/>
<path d="M358.0 726.2L358.1 723.3L362.3 718.3L362.2 721.2Z" fill="#0f5f56"/>
<path d="M394.0 689.3L394.7 689.4L398.2 687.7L397.5 687.5Z" fill="#a38822"/>
<path d="M380.1 689.1L380.6 689.2L384.3 687.2L383.8 687.1Z" fill="#a48822"/>
<path d="M362.7 708.8L362.9 707.0L366.9 702.7L366.8 704.3Z" fill="#53793b"/>
<path d="M368.8 694.2L369.0 693.8L373.0 690.9L372.7 691.3Z" fill="#918620"/>
<path d="M380.6 689.2L381.1 689.2L384.9 687.3L384.3 687.2Z" fill="#a58822"/>
<path d="M394.7 689.4L395.5 689.6L399.0 687.9L398.2 687.7Z" fill="#a38822"/>
<path d="M369.0 693.8L369.3 693.3L373.2 690.6L373.0 690.9Z" fill="#938620"/>
<path d="M381.1 689.2L381.7 689.3L385.4 687.4L384.9 687.3Z" fill="#a58822"/>
<path d="M369.3 693.3L369.6 693.0L373.5 690.3L373.2 690.6Z" fill="#968721"/>
<path d="M395.5 689.6L396.3 689.8L399.8 688.1L399.0 687.9Z" fill="#a38822"/>
<path d="M362.9 707.0L363.0 705.3L367.1 701.2L366.9 702.7Z" fill="#5d7c36"/>
<path d="M353.4 740.4L353.5 737.3L357.9 732.5L357.8 735.7Z" fill="#0a4661"/>
<path d="M381.7 689.3L382.3 689.4L386.0 687.5L385.4 687.4Z" fill="#a58822"/>
<path d="M348.8 755.6L348.8 755.5L353.4 751.7L353.4 751.9Z" fill="#051a4f"/>
<path d="M358.1 723.3L358.1 720.5L362.4 715.6L362.3 718.3Z" fill="#116551"/>
<path d="M369.6 693.0L369.9 692.7L373.8 690.0L373.5 690.3Z" fill="#988721"/>
<path d="M396.3 689.8L397.1 690.0L400.6 688.3L399.8 688.1Z" fill="#a38822"/>
<path d="M348.8 755.5L348.8 754.8L353.4 751.0L353.4 751.7Z" fill="#051c50"/>
<path d="M431.5 691.9L440.0 694.2L442.7 692.9L434.2 690.5Z" fill="#958721"/>
<path d="M382.3 689.4L382.9 689.5L386.6 687.6L386.0 687.5Z" fill="#a68822"/>
<path d="M369.9 692.7L370.2 692.4L374.2 689.8L373.8 690.0Z" fill="#9a8721"/>
<path d="M442.7 692.9L451.2 695.2L453.4 694.0L444.9 691.7Z" fill="#918620"/>
<path d="M420.1 691.1L428.6 693.4L431.5 691.9L423.1 689.6Z" fill="#9a8721"/>
<path d="M363.0 705.3L363.2 703.9L367.3 699.9L367.1 701.2Z" fill="#667e32"/>
<path d="M382.9 689.5L383.5 689.6L387.2 687.7L386.6 687.6Z" fill="#a68822"/>
<path d="M348.8 754.8L348.8 753.7L353.4 749.8L353.4 751.0Z" fill="#061f52"/>
<path d="M397.1 690.0L398.0 690.2L401.4 688.5L400.6 688.3Z" fill="#a38822"/>
<path d="M370.2 692.4L370.6 692.1L374.5 689.6L374.2 689.8Z" fill="#9c8721"/>
<path d="M383.5 689.6L384.1 689.7L387.8 687.8L387.2 687.7Z" fill="#a68822"/>
<path d="M370.6 692.1L370.9 691.9L374.8 689.5L374.5 689.6Z" fill="#9d8721"/>
<path d="M398.0 690.2L398.8 690.5L402.3 688.8L401.4 688.5Z" fill="#a38822"/>
<path d="M408.4 690.4L416.9 692.7L420.1 691.1L411.7 688.8Z" fill="#9f8721"/>
<path d="M358.1 720.5L358.2 717.9L362.5 713.1L362.4 715.6Z" fill="#1c6a4c"/>
<path d="M348.8 753.7L348.8 752.1L353.4 748.0L353.4 749.8Z" fill="#072455"/>
<path d="M363.2 703.9L363.3 702.6L367.4 698.8L367.3 699.9Z" fill="#6e7f2e"/>
<path d="M384.1 689.7L384.7 689.8L388.4 688.0L387.8 687.8Z" fill="#a78822"/>
<path d="M370.9 691.9L371.3 691.7L375.2 689.3L374.8 689.5Z" fill="#9f8721"/>
<path d="M353.5 737.3L353.5 734.3L357.9 729.3L357.9 732.5Z" fill="#0b4f60"/>
<path d="M398.8 690.5L399.7 690.7L403.2 689.0L402.3 688.8Z" fill="#a48822"/>
<path d="M371.3 691.7L371.7 691.6L375.6 689.2L375.2 689.3Z" fill="#a08721"/>
<path d="M384.7 689.8L385.3 690.0L389.1 688.1L388.4 688.0Z" fill="#a78822"/>
<path d="M453.4 694.0L462.0 696.4L463.5 695.6L454.9 693.2Z" fill="#8e8620"/>
<path d="M371.7 691.6L372.0 691.5L376.0 689.2L375.6 689.2Z" fill="#a18822"/>
<path d="M363.3 702.6L363.5 701.4L367.6 697.7L367.4 698.8Z" fill="#75812b"/>
<path d="M399.7 690.7L400.6 690.9L404.0 689.2L403.2 689.0Z" fill="#a48822"/>
<path d="M385.3 690.0L386.0 690.1L389.7 688.3L389.1 688.1Z" fill="#a78822"/>
<path d="M348.8 752.1L348.9 750.1L353.4 745.8L353.4 748.0Z" fill="#082b59"/>
<path d="M372.0 691.5L372.4 691.4L376.4 689.1L376.0 689.2Z" fill="#a28822"/>
<path d="M386.0 690.1L386.7 690.2L390.4 688.4L389.7 688.3Z" fill="#a78822"/>
<path d="M358.2 717.9L358.3 715.5L362.6 710.8L362.5 713.1Z" fill="#2d6f46"/>
<path d="M400.6 690.9L401.4 691.1L404.9 689.5L404.0 689.2Z" fill="#a48822"/>
<path d="M363.5 701.4L363.7 700.4L367.8 696.9L367.6 697.7Z" fill="#7b8228"/>
<path d="M372.4 691.4L372.9 691.3L376.8 689.0L376.4 689.1Z" fill="#a38822"/>
<path d="M386.7 690.2L387.4 690.4L391.1 688.6L390.4 688.4Z" fill="#a88822"/>
<path d="M353.5 734.3L353.6 731.2L358.0 726.2L357.9 729.3Z" fill="#0c575e"/>
<path d="M372.9 691.3L373.3 691.2L377.2 689.0L376.8 689.0Z" fill="#a48822"/>
<path d="M363.7 700.4L363.9 699.5L368.0 696.1L367.8 696.9Z" fill="#818326"/>
<path d="M373.3 691.2L373.7 691.2L377.6 689.0L377.2 689.0Z" fill="#a58822"/>
<path d="M387.4 690.4L388.1 690.5L391.8 688.7L391.1 688.6Z" fill="#a88822"/>
<path d="M348.9 750.1L348.9 747.7L353.4 743.2L353.4 745.8Z" fill="#09335d"/>
<path d="M373.7 691.2L374.2 691.1L378.1 689.0L377.6 689.0Z" fill="#a68822"/>
<path d="M358.3 715.5L358.5 713.4L362.7 708.8L362.6 710.8Z" fill="#3d7342"/>
<path d="M388.1 690.5L388.8 690.7L392.5 688.9L391.8 688.7Z" fill="#a88822"/>
<path d="M363.9 699.5L364.2 698.7L368.3 695.4L368.0 696.1Z" fill="#868423"/>
<path d="M401.4 691.1L405.0 692.1L408.4 690.4L404.9 689.5Z" fill="#a48822"/>
<path d="M374.2 691.1L374.7 691.1L378.6 689.0L378.1 689.0Z" fill="#a78822"/>
<path d="M388.8 690.7L389.5 690.9L393.2 689.1L392.5 688.9Z" fill="#a88822"/>
<path d="M364.2 698.7L364.4 698.0L368.5 694.8L368.3 695.4Z" fill="#8a8521"/>
<path d="M374.7 691.1L375.1 691.1L379.1 689.0L378.6 689.0Z" fill="#a88822"/>
<path d="M353.6 731.2L353.6 728.3L358.1 723.3L358.0 726.2Z" fill="#0e5c59"/>
<path d="M389.5 690.9L390.3 691.0L394.0 689.3L393.2 689.1Z" fill="#a88822"/>
<path d="M375.1 691.1L375.6 691.1L379.6 689.1L379.1 689.0Z" fill="#a88822"/>
<path d="M348.9 747.7L348.9 745.0L353.4 740.4L353.4 743.2Z" fill="#0a3c62"/>
<path d="M364.4 698.0L364.7 697.3L368.8 694.2L368.5 694.8Z" fill="#8e8620"/>
<path d="M358.5 713.4L358.6 711.4L362.9 707.0L362.7 708.8Z" fill="#4b773d"/>
<path d="M440.0 694.2L448.6 696.6L451.2 695.2L442.7 692.9Z" fill="#958721"/>
<path d="M375.6 691.1L376.2 691.1L380.1 689.1L379.6 689.1Z" fill="#a98822"/>
<path d="M390.3 691.0L391.1 691.2L394.7 689.4L394.0 689.3Z" fill="#a98822"/>
<path d="M451.2 695.2L459.8 697.6L462.0 696.4L453.4 694.0Z" fill="#918620"/>
<path d="M364.7 697.3L364.9 696.8L369.0 693.8L368.8 694.2Z" fill="#918620"/>
<path d="M428.6 693.4L437.1 695.7L440.0 694.2L431.5 691.9Z" fill="#9a8721"/>
<path d="M376.2 691.1L376.7 691.2L380.6 689.2L380.1 689.1Z" fill="#a98822"/>
<path d="M391.1 691.2L391.8 691.4L395.5 689.6L394.7 689.4Z" fill="#a98822"/>
<path d="M364.9 696.8L365.2 696.3L369.3 693.3L369.0 693.8Z" fill="#948721"/>
<path d="M376.7 691.2L377.2 691.2L381.1 689.2L380.6 689.2Z" fill="#aa8822"/>
<path d="M358.6 711.4L358.7 709.6L363.0 705.3L362.9 707.0Z" fill="#577a39"/>
<path d="M353.6 728.3L353.7 725.4L358.1 720.5L358.1 723.3Z" fill="#106254"/>
<path d="M391.8 691.4L392.6 691.6L396.3 689.8L395.5 689.6Z" fill="#a98822"/>
<path d="M377.2 691.2L377.8 691.3L381.7 689.3L381.1 689.2Z" fill="#aa8822"/>
<path d="M416.9 692.7L425.4 695.0L428.6 693.4L420.1 691.1Z" fill="#9f8721"/>
<path d="M365.2 696.3L365.5 695.8L369.6 693.0L369.3 693.3Z" fill="#978721"/>
<path d="M348.9 745.0L348.9 742.1L353.5 737.3L353.4 740.4Z" fill="#0a4361"/>
<path d="M377.8 691.3L378.4 691.4L382.3 689.4L381.7 689.3Z" fill="#ab8822"/>
<path d="M392.6 691.6L393.5 691.8L397.1 690.0L396.3 689.8Z" fill="#a98822"/>
<path d="M462.0 696.4L470.6 698.8L472.1 697.9L463.5 695.6Z" fill="#8e8620"/>
<path d="M365.5 695.8L365.8 695.4L369.9 692.7L369.6 693.0Z" fill="#9a8721"/>
<path d="M358.7 709.6L358.9 708.0L363.2 703.9L363.0 705.3Z" fill="#617d34"/>
<path d="M378.4 691.4L378.9 691.4L382.9 689.5L382.3 689.4Z" fill="#ab8822"/>
<path d="M365.8 695.4L366.1 695.1L370.2 692.4L369.9 692.7Z" fill="#9c8721"/>
<path d="M393.5 691.8L394.3 692.0L398.0 690.2L397.1 690.0Z" fill="#a98822"/>
<path d="M344.1 759.5L344.1 759.3L348.8 755.5L348.8 755.6Z" fill="#051a4f"/>
<path d="M378.9 691.4L379.5 691.5L383.5 689.6L382.9 689.5Z" fill="#ac8822"/>
<path d="M366.1 695.1L366.5 694.8L370.6 692.1L370.2 692.4Z" fill="#9e8721"/>
<path d="M344.1 759.3L344.1 758.7L348.8 754.8L348.8 755.5Z" fill="#051c50"/>
<path d="M405.0 692.1L413.5 694.3L416.9 692.7L408.4 690.4Z" fill="#a48822"/>
<path d="M353.7 725.4L353.8 722.8L358.2 717.9L358.1 720.5Z" fill="#12674f"/>
<path d="M394.3 692.0L395.1 692.2L398.8 690.5L398.0 690.2Z" fill="#a98822"/>
<path d="M358.9 708.0L359.1 706.6L363.3 702.6L363.2 703.9Z" fill="#6a7e30"/>
<path d="M379.5 691.5L380.2 691.6L384.1 689.7L383.5 689.6Z" fill="#ac8822"/>
<path d="M366.5 694.8L366.8 694.5L370.9 691.9L370.6 692.1Z" fill="#a08721"/>
<path d="M344.1 758.7L344.1 757.7L348.8 753.7L348.8 754.8Z" fill="#061f52"/>
<path d="M348.9 742.1L349.0 739.2L353.5 734.3L353.5 737.3Z" fill="#0b4c61"/>
<path d="M395.1 692.2L396.0 692.4L399.7 690.7L398.8 690.5Z" fill="#aa8822"/>
<path d="M380.2 691.6L380.8 691.7L384.7 689.8L384.1 689.7Z" fill="#ad8822"/>
<path d="M366.8 694.5L367.2 694.2L371.3 691.7L370.9 691.9Z" fill="#a28822"/>
<path d="M359.1 706.6L359.3 705.3L363.5 701.4L363.3 702.6Z" fill="#71802d"/>
<path d="M380.8 691.7L381.4 691.8L385.3 690.0L384.7 689.8Z" fill="#ad8822"/>
<path d="M367.2 694.2L367.5 694.0L371.7 691.6L371.3 691.7Z" fill="#a48822"/>
<path d="M344.1 757.7L344.1 756.3L348.8 752.1L348.8 753.7Z" fill="#062354"/>
<path d="M396.0 692.4L396.9 692.7L400.6 690.9L399.7 690.7Z" fill="#aa8822"/>
<path d="M353.8 722.8L353.9 720.3L358.3 715.5L358.2 717.9Z" fill="#246c49"/>
<path d="M367.5 694.0L367.9 693.9L372.0 691.5L371.7 691.6Z" fill="#a58822"/>
<path d="M381.4 691.8L382.1 692.0L386.0 690.1L385.3 690.0Z" fill="#ad8822"/>
<path d="M396.9 692.7L397.8 692.9L401.4 691.1L400.6 690.9Z" fill="#aa8822"/>
<path d="M359.3 705.3L359.5 704.1L363.7 700.4L363.5 701.4Z" fill="#78822a"/>
<path d="M367.9 693.9L368.3 693.7L372.4 691.4L372.0 691.5Z" fill="#a78822"/>
<path d="M382.1 692.0L382.8 692.1L386.7 690.2L386.0 690.1Z" fill="#ae8822"/>
<path d="M344.1 756.3L344.1 754.4L348.9 750.1L348.8 752.1Z" fill="#072958"/>
<path d="M349.0 739.2L349.0 736.2L353.6 731.2L353.5 734.3Z" fill="#0b5460"/>
<path d="M368.3 693.7L368.7 693.6L372.9 691.3L372.4 691.4Z" fill="#a88822"/>
<path d="M382.8 692.1L383.5 692.2L387.4 690.4L386.7 690.2Z" fill="#ae8822"/>
<path d="M359.5 704.1L359.7 703.1L363.9 699.5L363.7 700.4Z" fill="#7f8327"/>
<path d="M448.6 696.6L457.2 699.0L459.8 697.6L451.2 695.2Z" fill="#958721"/>
<path d="M368.7 693.6L369.2 693.5L373.3 691.2L372.9 691.3Z" fill="#a98822"/>
<path d="M353.9 720.3L354.0 718.0L358.5 713.4L358.3 715.5Z" fill="#347144"/>
<path d="M383.5 692.2L384.2 692.4L388.1 690.5L387.4 690.4Z" fill="#ae8822"/>
<path d="M459.8 697.6L468.4 700.0L470.6 698.8L462.0 696.4Z" fill="#918620"/>
<path d="M437.1 695.7L445.7 698.1L448.6 696.6L440.0 694.2Z" fill="#9a8721"/>
<path d="M369.2 693.5L369.6 693.4L373.7 691.2L373.3 691.2Z" fill="#aa8822"/>
<path d="M397.8 692.9L401.3 693.8L405.0 692.1L401.4 691.1Z" fill="#aa8822"/>
<path d="M359.7 703.1L359.9 702.1L364.2 698.7L363.9 699.5Z" fill="#848424"/>
<path d="M344.1 754.4L344.2 752.1L348.9 747.7L348.9 750.1Z" fill="#08305c"/>
<path d="M384.2 692.4L384.9 692.5L388.8 690.7L388.1 690.5Z" fill="#ae8923"/>
<path d="M369.6 693.4L370.1 693.3L374.2 691.1L373.7 691.2Z" fill="#ab8822"/>
<path d="M370.1 693.3L370.6 693.3L374.7 691.1L374.2 691.1Z" fill="#ac8822"/>
<path d="M349.0 736.2L349.1 733.3L353.6 728.3L353.6 731.2Z" fill="#0d5a5c"/>
<path d="M359.9 702.1L360.1 701.3L364.4 698.0L364.2 698.7Z" fill="#8a8522"/>
<path d="M384.9 692.5L385.6 692.7L389.5 690.9L388.8 690.7Z" fill="#af8923"/>
<path d="M425.4 695.0L433.9 697.3L437.1 695.7L428.6 693.4Z" fill="#9f8721"/>
<path d="M354.0 718.0L354.2 715.9L358.6 711.4L358.5 713.4Z" fill="#437540"/>
<path d="M370.6 693.3L371.0 693.3L375.1 691.1L374.7 691.1Z" fill="#ad8822"/>
<path d="M470.6 698.8L479.3 701.2L480.8 700.3L472.1 697.9Z" fill="#8e8620"/>
<path d="M385.6 692.7L386.4 692.9L390.3 691.0L389.5 690.9Z" fill="#af8923"/>
<path d="M360.1 701.3L360.4 700.5L364.7 697.3L364.4 698.0Z" fill="#8e8620"/>
<path d="M371.0 693.3L371.5 693.2L375.6 691.1L375.1 691.1Z" fill="#ae8822"/>
<path d="M344.2 752.1L344.2 749.6L348.9 745.0L348.9 747.7Z" fill="#0a3961"/>
<path d="M386.4 692.9L387.2 693.0L391.1 691.2L390.3 691.0Z" fill="#af8923"/>
<path d="M371.5 693.2L372.1 693.2L376.2 691.1L375.6 691.1Z" fill="#ae8923"/>
<path d="M360.4 700.5L360.6 699.9L364.9 696.8L364.7 697.3Z" fill="#928620"/>
<path d="M354.2 715.9L354.3 714.0L358.7 709.6L358.6 711.4Z" fill="#51793b"/>
<path d="M413.5 694.3L422.0 696.7L425.4 695.0L416.9 692.7Z" fill="#a58822"/>
<path d="M372.1 693.2L372.6 693.3L376.7 691.2L376.2 691.1Z" fill="#af8923"/>
<path d="M387.2 693.0L388.0 693.2L391.8 691.4L391.1 691.2Z" fill="#af8923"/>
<path d="M349.1 733.3L349.2 730.4L353.7 725.4L353.6 728.3Z" fill="#0f5f56"/>
<path d="M360.6 699.9L360.9 699.3L365.2 696.3L364.9 696.8Z" fill="#968721"/>
<path d="M372.6 693.3L373.1 693.3L377.2 691.2L376.7 691.2Z" fill="#b08923"/>
<path d="M388.0 693.2L388.8 693.4L392.6 691.6L391.8 691.4Z" fill="#af8923"/>
<path d="M360.9 699.3L361.2 698.7L365.5 695.8L365.2 696.3Z" fill="#998721"/>
<path d="M344.2 749.6L344.2 746.9L348.9 742.1L348.9 745.0Z" fill="#0a4162"/>
<path d="M373.1 693.3L373.7 693.3L377.8 691.3L377.2 691.2Z" fill="#b08923"/>
<path d="M354.3 714.0L354.5 712.3L358.9 708.0L358.7 709.6Z" fill="#5c7b37"/>
<path d="M388.8 693.4L389.6 693.6L393.5 691.8L392.6 691.6Z" fill="#b08923"/>
<path d="M361.2 698.7L361.5 698.3L365.8 695.4L365.5 695.8Z" fill="#9c8721"/>
<path d="M373.7 693.3L374.3 693.4L378.4 691.4L377.8 691.3Z" fill="#b18923"/>
<path d="M389.6 693.6L390.4 693.8L394.3 692.0L393.5 691.8Z" fill="#b08923"/>
<path d="M401.3 693.8L409.8 696.0L413.5 694.3L405.0 692.1Z" fill="#ab8822"/>
<path d="M349.2 730.4L349.2 727.7L353.8 722.8L353.7 725.4Z" fill="#116451"/>
<path d="M374.3 693.4L374.9 693.4L378.9 691.4L378.4 691.4Z" fill="#b18923"/>
<path d="M361.5 698.3L361.8 697.8L366.1 695.1L365.8 695.4Z" fill="#9f8721"/>
<path d="M354.5 712.3L354.6 710.7L359.1 706.6L358.9 708.0Z" fill="#657e32"/>
<path d="M374.9 693.4L375.5 693.5L379.5 691.5L378.9 691.4Z" fill="#b28923"/>
<path d="M361.8 697.8L362.2 697.5L366.5 694.8L366.1 695.1Z" fill="#a18822"/>
<path d="M390.4 693.8L391.3 694.0L395.1 692.2L394.3 692.0Z" fill="#b08923"/>
<path d="M344.2 746.9L344.3 744.1L349.0 739.2L348.9 742.1Z" fill="#0b4861"/>
<path d="M339.3 763.4L339.3 763.3L344.1 759.3L344.1 759.5Z" fill="#051a4f"/>
<path d="M375.5 693.5L376.1 693.6L380.2 691.6L379.5 691.5Z" fill="#b28923"/>
<path d="M362.2 697.5L362.5 697.1L366.8 694.5L366.5 694.8Z" fill="#a38822"/>
<path d="M457.2 699.0L465.9 701.4L468.4 700.0L459.8 697.6Z" fill="#958721"/>
<path d="M339.3 763.3L339.3 762.8L344.1 758.7L344.1 759.3Z" fill="#051b50"/>
<path d="M391.3 694.0L392.1 694.2L396.0 692.4L395.1 692.2Z" fill="#b08923"/>
<path d="M468.4 700.0L477.1 702.4L479.3 701.2L470.6 698.8Z" fill="#918620"/>
<path d="M354.6 710.7L354.8 709.2L359.3 705.3L359.1 706.6Z" fill="#6e7f2e"/>
<path d="M445.7 698.1L454.3 700.5L457.2 699.0L448.6 696.6Z" fill="#9a8721"/>
<path d="M376.1 693.6L376.7 693.7L380.8 691.7L380.2 691.6Z" fill="#b38923"/>
<path d="M362.5 697.1L362.9 696.8L367.2 694.2L366.8 694.5Z" fill="#a68822"/>
<path d="M339.3 762.8L339.3 761.8L344.1 757.7L344.1 758.7Z" fill="#061e51"/>
<path d="M349.2 727.7L349.3 725.2L353.9 720.3L353.8 722.8Z" fill="#1a694c"/>
<path d="M392.1 694.2L393.0 694.4L396.9 692.7L396.0 692.4Z" fill="#b08923"/>
<path d="M376.7 693.7L377.4 693.8L381.4 691.8L380.8 691.7Z" fill="#b38923"/>
<path d="M362.9 696.8L363.3 696.6L367.5 694.0L367.2 694.2Z" fill="#a88822"/>
<path d="M339.3 761.8L339.3 760.5L344.1 756.3L344.1 757.7Z" fill="#062254"/>
<path d="M354.8 709.2L355.0 707.9L359.5 704.1L359.3 705.3Z" fill="#76812b"/>
<path d="M363.3 696.6L363.6 696.3L367.9 693.9L367.5 694.0Z" fill="#a98822"/>
<path d="M393.0 694.4L393.9 694.7L397.8 692.9L396.9 692.7Z" fill="#b08923"/>
<path d="M377.4 693.8L378.0 693.9L382.1 692.0L381.4 691.8Z" fill="#b48923"/>
<path d="M433.9 697.3L442.5 699.7L445.7 698.1L437.1 695.7Z" fill="#9f8721"/>
<path d="M344.3 744.1L344.3 741.2L349.0 736.2L349.0 739.2Z" fill="#0b5060"/>
<path d="M363.6 696.3L364.1 696.1L368.3 693.7L367.9 693.9Z" fill="#ab8822"/>
<path d="M479.3 701.2L488.0 703.6L489.5 702.7L480.8 700.3Z" fill="#8e8620"/>
<path d="M378.0 693.9L378.7 694.0L382.8 692.1L382.1 692.0Z" fill="#b48923"/>
<path d="M355.0 707.9L355.2 706.8L359.7 703.1L359.5 704.1Z" fill="#7d8328"/>
<path d="M349.3 725.2L349.5 722.8L354.0 718.0L353.9 720.3Z" fill="#2b6e47"/>
<path d="M364.1 696.1L364.5 696.0L368.7 693.6L368.3 693.7Z" fill="#ac8822"/>
<path d="M339.3 760.5L339.3 758.7L344.1 754.4L344.1 756.3Z" fill="#072857"/>
<path d="M378.7 694.0L379.4 694.1L383.5 692.2L382.8 692.1Z" fill="#b48923"/>
<path d="M364.5 696.0L364.9 695.8L369.2 693.5L368.7 693.6Z" fill="#ae8822"/>
<path d="M422.0 696.7L430.6 699.0L433.9 697.3L425.4 695.0Z" fill="#a58822"/>
<path d="M379.4 694.1L380.1 694.3L384.2 692.4L383.5 692.2Z" fill="#b58923"/>
<path d="M393.9 694.7L397.5 695.6L401.3 693.8L397.8 692.9Z" fill="#b18923"/>
<path d="M355.2 706.8L355.4 705.7L359.9 702.1L359.7 703.1Z" fill="#838425"/>
<path d="M364.9 695.8L365.3 695.7L369.6 693.4L369.2 693.5Z" fill="#af8923"/>
<path d="M344.3 741.2L344.4 738.3L349.1 733.3L349.0 736.2Z" fill="#0c575e"/>
<path d="M380.1 694.3L380.8 694.4L384.9 692.5L384.2 692.4Z" fill="#b58923"/>
<path d="M339.3 758.7L339.3 756.7L344.2 752.1L344.1 754.4Z" fill="#082f5b"/>
<path d="M365.3 695.7L365.8 695.6L370.1 693.3L369.6 693.4Z" fill="#b08923"/>
<path d="M349.5 722.8L349.6 720.6L354.2 715.9L354.0 718.0Z" fill="#3b7342"/>
<path d="M355.4 705.7L355.7 704.7L360.1 701.3L359.9 702.1Z" fill="#898522"/>
<path d="M380.8 694.4L381.6 694.6L385.6 692.7L384.9 692.5Z" fill="#b58923"/>
<path d="M365.8 695.6L366.3 695.5L370.6 693.3L370.1 693.3Z" fill="#b18923"/>
<path d="M355.7 704.7L355.9 703.9L360.4 700.5L360.1 701.3Z" fill="#8e8620"/>
<path d="M366.3 695.5L366.8 695.5L371.0 693.3L370.6 693.3Z" fill="#b28923"/>
<path d="M381.6 694.6L382.3 694.7L386.4 692.9L385.6 692.7Z" fill="#b68923"/>
<path d="M409.8 696.0L418.4 698.4L422.0 696.7L413.5 694.3Z" fill="#ab8822"/>
<path d="M339.3 756.7L339.3 754.3L344.2 749.6L344.2 752.1Z" fill="#09375f"/>
<path d="M366.8 695.5L367.3 695.4L371.5 693.2L371.0 693.3Z" fill="#b38923"/>
<path d="M349.6 720.6L349.7 718.5L354.3 714.0L354.2 715.9Z" fill="#4a773d"/>
<path d="M382.3 694.7L383.1 694.9L387.2 693.0L386.4 692.9Z" fill="#b68923"/>
<path d="M355.9 703.9L356.2 703.1L360.6 699.9L360.4 700.5Z" fill="#938620"/>
<path d="M344.4 738.3L344.4 735.4L349.2 730.4L349.1 733.3Z" fill="#0e5d59"/>
<path d="M367.3 695.4L367.8 695.4L372.1 693.2L371.5 693.2Z" fill="#b48923"/>
<path d="M383.1 694.9L383.9 695.1L388.0 693.2L387.2 693.0Z" fill="#b68923"/>
<path d="M356.2 703.1L356.5 702.4L360.9 699.3L360.6 699.9Z" fill="#978721"/>
<path d="M465.9 701.4L474.6 703.8L477.1 702.4L468.4 700.0Z" fill="#958721"/>
<path d="M367.8 695.4L368.3 695.4L372.6 693.3L372.1 693.2Z" fill="#b58923"/>
<path d="M477.1 702.4L485.9 704.8L488.0 703.6L479.3 701.2Z" fill="#918620"/>
<path d="M454.3 700.5L463.0 702.9L465.9 701.4L457.2 699.0Z" fill="#9a8721"/>
<path d="M383.9 695.1L384.7 695.2L388.8 693.4L388.0 693.2Z" fill="#b68923"/>
<path d="M349.7 718.5L349.9 716.6L354.5 712.3L354.3 714.0Z" fill="#577a39"/>
<path d="M368.3 695.4L368.9 695.4L373.1 693.3L372.6 693.3Z" fill="#b68923"/>
<path d="M356.5 702.4L356.8 701.8L361.2 698.7L360.9 699.3Z" fill="#9b8721"/>
<path d="M339.3 754.3L339.3 751.7L344.2 746.9L344.2 749.6Z" fill="#0a3e62"/>
<path d="M368.9 695.4L369.4 695.4L373.7 693.3L373.1 693.3Z" fill="#b78923"/>
<path d="M384.7 695.2L385.5 695.4L389.6 693.6L388.8 693.4Z" fill="#b78923"/>
<path d="M344.4 735.4L344.5 732.7L349.2 727.7L349.2 730.4Z" fill="#106254"/>
<path d="M356.8 701.8L357.1 701.2L361.5 698.3L361.2 698.7Z" fill="#9e8721"/>
<path d="M397.5 695.6L406.0 697.8L409.8 696.0L401.3 693.8Z" fill="#b18923"/>
<path d="M369.4 695.4L370.0 695.4L374.3 693.4L373.7 693.3Z" fill="#b78923"/>
<path d="M442.5 699.7L451.2 702.1L454.3 700.5L445.7 698.1Z" fill="#9f8721"/>
<path d="M385.5 695.4L386.3 695.6L390.4 693.8L389.6 693.6Z" fill="#b78923"/>
<path d="M349.9 716.6L350.0 714.9L354.6 710.7L354.5 712.3Z" fill="#617d34"/>
<path d="M357.1 701.2L357.4 700.7L361.8 697.8L361.5 698.3Z" fill="#a18822"/>
<path d="M488.0 703.6L496.8 706.0L498.3 705.2L489.5 702.7Z" fill="#8e8620"/>
<path d="M370.0 695.4L370.6 695.5L374.9 693.4L374.3 693.4Z" fill="#b88923"/>
<path d="M386.3 695.6L387.2 695.8L391.3 694.0L390.4 693.8Z" fill="#b78923"/>
<path d="M357.4 700.7L357.7 700.3L362.2 697.5L361.8 697.8Z" fill="#a48822"/>
<path d="M339.3 751.7L339.4 749.0L344.3 744.1L344.2 746.9Z" fill="#0a4661"/>
<path d="M370.6 695.5L371.2 695.5L375.5 693.5L374.9 693.4Z" fill="#b98923"/>
<path d="M350.0 714.9L350.2 713.3L354.8 709.2L354.6 710.7Z" fill="#6b7f30"/>
<path d="M357.7 700.3L358.1 699.9L362.5 697.1L362.2 697.5Z" fill="#a78822"/>
<path d="M344.5 732.7L344.6 730.1L349.3 725.2L349.2 727.7Z" fill="#12674f"/>
<path d="M387.2 695.8L388.1 696.0L392.1 694.2L391.3 694.0Z" fill="#b78923"/>
<path d="M371.2 695.5L371.8 695.6L376.1 693.6L375.5 693.5Z" fill="#b98923"/>
<path d="M430.6 699.0L439.2 701.4L442.5 699.7L433.9 697.3Z" fill="#a58822"/>
<path d="M334.3 767.5L334.3 767.4L339.3 763.3L339.3 763.4Z" fill="#051a4f"/>
<path d="M358.1 699.9L358.4 699.5L362.9 696.8L362.5 697.1Z" fill="#a98822"/>
<path d="M371.8 695.6L372.4 695.6L376.7 693.7L376.1 693.6Z" fill="#ba8923"/>
<path d="M334.3 767.4L334.3 766.9L339.3 762.8L339.3 763.3Z" fill="#051b50"/>
<path d="M388.1 696.0L389.0 696.2L393.0 694.4L392.1 694.2Z" fill="#b88923"/>
<path d="M350.2 713.3L350.4 711.9L355.0 707.9L354.8 709.2Z" fill="#73802c"/>
<path d="M358.4 699.5L358.8 699.2L363.3 696.6L362.9 696.8Z" fill="#ac8822"/>
<path d="M334.3 766.9L334.3 766.0L339.3 761.8L339.3 762.8Z" fill="#061e51"/>
<path d="M372.4 695.6L373.1 695.7L377.4 693.8L376.7 693.7Z" fill="#ba8923"/>
<path d="M389.0 696.2L389.9 696.4L393.9 694.7L393.0 694.4Z" fill="#b88923"/>
<path d="M339.4 749.0L339.4 746.1L344.3 741.2L344.3 744.1Z" fill="#0b4d61"/>
<path d="M358.8 699.2L359.2 698.9L363.6 696.3L363.3 696.6Z" fill="#ae8822"/>
<path d="M373.1 695.7L373.8 695.8L378.0 693.9L377.4 693.8Z" fill="#bb8923"/>
<path d="M344.6 730.1L344.7 727.6L349.5 722.8L349.3 725.2Z" fill="#236c4a"/>
<path d="M334.3 766.0L334.3 764.8L339.3 760.5L339.3 761.8Z" fill="#062253"/>
<path d="M350.4 711.9L350.6 710.6L355.2 706.8L355.0 707.9Z" fill="#7b8228"/>
<path d="M359.2 698.9L359.6 698.6L364.1 696.1L363.6 696.3Z" fill="#b08923"/>
<path d="M373.8 695.8L374.4 695.9L378.7 694.0L378.0 693.9Z" fill="#bb8923"/>
<path d="M418.4 698.4L427.0 700.7L430.6 699.0L422.0 696.7Z" fill="#ac8822"/>
<path d="M359.6 698.6L360.0 698.4L364.5 696.0L364.1 696.1Z" fill="#b18923"/>
<path d="M374.4 695.9L375.1 696.0L379.4 694.1L378.7 694.0Z" fill="#bc8a24"/>
<path d="M334.3 764.8L334.3 763.2L339.3 758.7L339.3 760.5Z" fill="#072756"/>
<path d="M350.6 710.6L350.8 709.4L355.4 705.7L355.2 706.8Z" fill="#828425"/>
<path d="M389.9 696.4L393.4 697.3L397.5 695.6L393.9 694.7Z" fill="#b88923"/>
<path d="M360.0 698.4L360.4 698.2L364.9 695.8L364.5 696.0Z" fill="#b38923"/>
<path d="M474.6 703.8L483.3 706.2L485.9 704.8L477.1 702.4Z" fill="#958721"/>
<path d="M339.4 746.1L339.5 743.3L344.4 738.3L344.3 741.2Z" fill="#0b5560"/>
<path d="M344.7 727.6L344.8 725.3L349.6 720.6L349.5 722.8Z" fill="#347144"/>
<path d="M375.1 696.0L375.9 696.2L380.1 694.3L379.4 694.1Z" fill="#bc8a24"/>
<path d="M485.9 704.8L494.7 707.2L496.8 706.0L488.0 703.6Z" fill="#918620"/>
<path d="M360.4 698.2L360.9 698.1L365.3 695.7L364.9 695.8Z" fill="#b58923"/>
<path d="M463.0 702.9L471.7 705.3L474.6 703.8L465.9 701.4Z" fill="#9a8721"/>
<path d="M350.8 709.4L351.1 708.3L355.7 704.7L355.4 705.7Z" fill="#898522"/>
<path d="M375.9 696.2L376.6 696.3L380.8 694.4L380.1 694.3Z" fill="#bc8a24"/>
<path d="M334.3 763.2L334.3 761.2L339.3 756.7L339.3 758.7Z" fill="#082d5a"/>
<path d="M360.9 698.1L361.4 697.9L365.8 695.6L365.3 695.7Z" fill="#b68923"/>
<path d="M376.6 696.3L377.3 696.4L381.6 694.6L380.8 694.4Z" fill="#bd8a24"/>
<path d="M361.4 697.9L361.8 697.8L366.3 695.5L365.8 695.6Z" fill="#b78923"/>
<path d="M351.1 708.3L351.3 707.4L355.9 703.9L355.7 704.7Z" fill="#8e8620"/>
<path d="M406.0 697.8L414.6 700.1L418.4 698.4L409.8 696.0Z" fill="#b28923"/>
<path d="M451.2 702.1L459.9 704.5L463.0 702.9L454.3 700.5Z" fill="#a08721"/>
<path d="M344.8 725.3L345.0 723.1L349.7 718.5L349.6 720.6Z" fill="#437540"/>
<path d="M377.3 696.4L378.1 696.6L382.3 694.7L381.6 694.6Z" fill="#bd8a24"/>
<path d="M361.8 697.8L362.3 697.7L366.8 695.5L366.3 695.5Z" fill="#b98923"/>
<path d="M339.5 743.3L339.5 740.5L344.4 735.4L344.4 738.3Z" fill="#0d5b5b"/>
<path d="M496.8 706.0L505.6 708.4L507.1 707.6L498.3 705.2Z" fill="#8e8620"/>
<path d="M334.3 761.2L334.3 759.0L339.3 754.3L339.3 756.7Z" fill="#09345e"/>
<path d="M351.3 707.4L351.6 706.5L356.2 703.1L355.9 703.9Z" fill="#948620"/>
<path d="M362.3 697.7L362.8 697.6L367.3 695.4L366.8 695.5Z" fill="#ba8923"/>
<path d="M378.1 696.6L378.9 696.7L383.1 694.9L382.3 694.7Z" fill="#bd8a24"/>
<path d="M362.8 697.6L363.3 697.6L367.8 695.4L367.3 695.4Z" fill="#bb8923"/>
<path d="M351.6 706.5L351.9 705.7L356.5 702.4L356.2 703.1Z" fill="#988721"/>
<path d="M345.0 723.1L345.1 721.1L349.9 716.6L349.7 718.5Z" fill="#51793b"/>
<path d="M378.9 696.7L379.6 696.9L383.9 695.1L383.1 694.9Z" fill="#be8a24"/>
<path d="M439.2 701.4L447.8 703.8L451.2 702.1L442.5 699.7Z" fill="#a58822"/>
<path d="M363.3 697.6L363.9 697.5L368.3 695.4L367.8 695.4Z" fill="#bc8a24"/>
<path d="M379.6 696.9L380.5 697.1L384.7 695.2L383.9 695.1Z" fill="#be8a24"/>
<path d="M351.9 705.7L352.2 704.9L356.8 701.8L356.5 702.4Z" fill="#9d8721"/>
<path d="M334.3 759.0L334.3 756.5L339.3 751.7L339.3 754.3Z" fill="#0a3c62"/>
<path d="M339.5 740.5L339.6 737.7L344.5 732.7L344.4 735.4Z" fill="#0f6056"/>
<path d="M363.9 697.5L364.4 697.5L368.9 695.4L368.3 695.4Z" fill="#bd8a24"/>
<path d="M380.5 697.1L381.3 697.2L385.5 695.4L384.7 695.2Z" fill="#be8a24"/>
<path d="M393.4 697.3L402.0 699.5L406.0 697.8L397.5 695.6Z" fill="#b98923"/>
<path d="M345.1 721.1L345.3 719.3L350.0 714.9L349.9 716.6Z" fill="#5d7c36"/>
<path d="M352.2 704.9L352.5 704.3L357.1 701.2L356.8 701.8Z" fill="#a18721"/>
<path d="M364.4 697.5L365.0 697.5L369.4 695.4L368.9 695.4Z" fill="#be8a24"/>
<path d="M365.0 697.5L365.6 697.5L370.0 695.4L369.4 695.4Z" fill="#be8a24"/>
<path d="M381.3 697.2L382.1 697.4L386.3 695.6L385.5 695.4Z" fill="#bf8a24"/>
<path d="M352.5 704.3L352.8 703.7L357.4 700.7L357.1 701.2Z" fill="#a48822"/>
<path d="M427.0 700.7L435.6 703.1L439.2 701.4L430.6 699.0Z" fill="#ac8822"/>
<path d="M365.6 697.5L366.1 697.5L370.6 695.5L370.0 695.4Z" fill="#bf8a24"/>
<path d="M334.3 756.5L334.4 753.9L339.4 749.0L339.3 751.7Z" fill="#0a4361"/>
<path d="M382.1 697.4L383.0 697.6L387.2 695.8L386.3 695.6Z" fill="#bf8a24"/>
<path d="M339.6 737.7L339.7 735.1L344.6 730.1L344.5 732.7Z" fill="#116551"/>
<path d="M345.3 719.3L345.5 717.6L350.2 713.3L350.0 714.9Z" fill="#677e32"/>
<path d="M352.8 703.7L353.1 703.2L357.7 700.3L357.4 700.7Z" fill="#a78822"/>
<path d="M366.1 697.5L366.8 697.5L371.2 695.5L370.6 695.5Z" fill="#c08a24"/>
<path d="M483.3 706.2L492.1 708.7L494.7 707.2L485.9 704.8Z" fill="#958721"/>
<path d="M383.0 697.6L383.8 697.8L388.1 696.0L387.2 695.8Z" fill="#bf8a24"/>
<path d="M353.1 703.2L353.5 702.7L358.1 699.9L357.7 700.3Z" fill="#ab8822"/>
<path d="M366.8 697.5L367.4 697.6L371.8 695.6L371.2 695.5Z" fill="#c18a24"/>
<path d="M494.7 707.2L503.5 709.7L505.6 708.4L496.8 706.0Z" fill="#918620"/>
<path d="M471.7 705.3L480.5 707.8L483.3 706.2L474.6 703.8Z" fill="#9a8721"/>
<path d="M345.5 717.6L345.7 716.0L350.4 711.9L350.2 713.3Z" fill="#70802d"/>
<path d="M353.5 702.7L353.8 702.2L358.4 699.5L358.1 699.9Z" fill="#ad8822"/>
<path d="M383.8 697.8L384.7 698.0L389.0 696.2L388.1 696.0Z" fill="#bf8a24"/>
<path d="M367.4 697.6L368.0 697.6L372.4 695.6L371.8 695.6Z" fill="#c18a24"/>
<path d="M329.1 771.7L329.1 771.6L334.3 767.4L334.3 767.5Z" fill="#051a4f"/>
<path d="M334.4 753.9L334.4 751.2L339.4 746.1L339.4 749.0Z" fill="#0b4b61"/>
<path d="M339.7 735.1L339.8 732.5L344.7 727.6L344.6 730.1Z" fill="#1c6a4c"/>
<path d="M329.1 771.6L329.1 771.1L334.3 766.9L334.3 767.4Z" fill="#051b50"/>
<path d="M353.8 702.2L354.2 701.8L358.8 699.2L358.4 699.5Z" fill="#b08923"/>
<path d="M368.0 697.6L368.7 697.7L373.1 695.7L372.4 695.6Z" fill="#c28a24"/>
<path d="M384.7 698.0L385.6 698.2L389.9 696.4L389.0 696.2Z" fill="#c08a24"/>
<path d="M414.6 700.1L423.2 702.4L427.0 700.7L418.4 698.4Z" fill="#b38923"/>
<path d="M459.9 704.5L468.6 707.0L471.7 705.3L463.0 702.9Z" fill="#a08721"/>
<path d="M329.1 771.1L329.1 770.3L334.3 766.0L334.3 766.9Z" fill="#061d51"/>
<path d="M345.7 716.0L345.9 714.5L350.6 710.6L350.4 711.9Z" fill="#798229"/>
<path d="M354.2 701.8L354.6 701.5L359.2 698.9L358.8 699.2Z" fill="#b28923"/>
<path d="M368.7 697.7L369.3 697.8L373.8 695.8L373.1 695.7Z" fill="#c28a24"/>
<path d="M505.6 708.4L514.5 710.9L515.9 710.0L507.1 707.6Z" fill="#8e8620"/>
<path d="M329.1 770.3L329.1 769.2L334.3 764.8L334.3 766.0Z" fill="#062153"/>
<path d="M354.6 701.5L355.0 701.2L359.6 698.6L359.2 698.9Z" fill="#b58923"/>
<path d="M369.3 697.8L370.0 697.9L374.4 695.9L373.8 695.8Z" fill="#c38a24"/>
<path d="M345.9 714.5L346.1 713.2L350.8 709.4L350.6 710.6Z" fill="#818326"/>
<path d="M339.8 732.5L339.9 730.1L344.8 725.3L344.7 727.6Z" fill="#2d6f47"/>
<path d="M355.0 701.2L355.4 700.9L360.0 698.4L359.6 698.6Z" fill="#b78923"/>
<path d="M334.4 751.2L334.5 748.4L339.5 743.3L339.4 746.1Z" fill="#0b5260"/>
<path d="M370.0 697.9L370.7 698.0L375.1 696.0L374.4 695.9Z" fill="#c38a25"/>
<path d="M385.6 698.2L389.2 699.1L393.4 697.3L389.9 696.4Z" fill="#c08a24"/>
<path d="M329.1 769.2L329.1 767.7L334.3 763.2L334.3 764.8Z" fill="#072656"/>
<path d="M447.8 703.8L456.6 706.2L459.9 704.5L451.2 702.1Z" fill="#a68822"/>
<path d="M355.4 700.9L355.8 700.7L360.4 698.2L360.0 698.4Z" fill="#b98923"/>
<path d="M370.7 698.0L371.4 698.1L375.9 696.2L375.1 696.0Z" fill="#c48a25"/>
<path d="M346.1 713.2L346.3 712.0L351.1 708.3L350.8 709.4Z" fill="#888522"/>
<path d="M355.8 700.7L356.3 700.5L360.9 698.1L360.4 698.2Z" fill="#ba8923"/>
<path d="M371.4 698.1L372.2 698.2L376.6 696.3L375.9 696.2Z" fill="#c48a25"/>
<path d="M329.1 767.7L329.1 765.8L334.3 761.2L334.3 763.2Z" fill="#082c59"/>
<path d="M339.9 730.1L340.1 727.8L345.0 723.1L344.8 725.3Z" fill="#3d7342"/>
<path d="M402.0 699.5L410.6 701.8L414.6 700.1L406.0 697.8Z" fill="#ba8923"/>
<path d="M356.3 700.5L356.7 700.3L361.4 697.9L360.9 698.1Z" fill="#bc8a24"/>
<path d="M346.3 712.0L346.6 710.9L351.3 707.4L351.1 708.3Z" fill="#8f8620"/>
<path d="M334.5 748.4L334.5 745.6L339.5 740.5L339.5 743.3Z" fill="#0c585d"/>
<path d="M372.2 698.2L372.9 698.3L377.3 696.4L376.6 696.3Z" fill="#c58a25"/>
<path d="M356.7 700.3L357.2 700.1L361.8 697.8L361.4 697.9Z" fill="#be8a24"/>
<path d="M435.6 703.1L444.3 705.5L447.8 703.8L439.2 701.4Z" fill="#ac8822"/>
<path d="M372.9 698.3L373.7 698.4L378.1 696.6L377.3 696.4Z" fill="#c58a26"/>
<path d="M346.6 710.9L346.8 709.9L351.6 706.5L351.3 707.4Z" fill="#948721"/>
<path d="M357.2 700.1L357.7 700.0L362.3 697.7L361.8 697.8Z" fill="#bf8a24"/>
<path d="M329.1 765.8L329.1 763.7L334.3 759.0L334.3 761.2Z" fill="#09335d"/>
<path d="M340.1 727.8L340.2 725.7L345.1 721.1L345.0 723.1Z" fill="#4c773d"/>
<path d="M373.7 698.4L374.4 698.6L378.9 696.7L378.1 696.6Z" fill="#c58a26"/>
<path d="M357.7 700.0L358.2 699.8L362.8 697.6L362.3 697.7Z" fill="#c08a24"/>
<path d="M492.1 708.7L501.0 711.1L503.5 709.7L494.7 707.2Z" fill="#958721"/>
<path d="M346.8 709.9L347.1 709.0L351.9 705.7L351.6 706.5Z" fill="#9a8721"/>
<path d="M503.5 709.7L512.4 712.1L514.5 710.9L505.6 708.4Z" fill="#918620"/>
<path d="M358.2 699.8L358.7 699.8L363.3 697.6L362.8 697.6Z" fill="#c28a24"/>
<path d="M374.4 698.6L375.2 698.7L379.6 696.9L378.9 696.7Z" fill="#c68b26"/>
<path d="M334.5 745.6L334.6 742.8L339.6 737.7L339.5 740.5Z" fill="#0e5e58"/>
<path d="M480.5 707.8L489.3 710.2L492.1 708.7L483.3 706.2Z" fill="#9a8721"/>
<path d="M347.1 709.0L347.4 708.2L352.2 704.9L351.9 705.7Z" fill="#9e8721"/>
<path d="M358.7 699.8L359.3 699.7L363.9 697.5L363.3 697.6Z" fill="#c38a24"/>
<path d="M329.1 763.7L329.2 761.4L334.3 756.5L334.3 759.0Z" fill="#0a3a62"/>
<path d="M375.2 698.7L376.0 698.9L380.5 697.1L379.6 696.9Z" fill="#c68b26"/>
<path d="M340.2 725.7L340.4 723.7L345.3 719.3L345.1 721.1Z" fill="#597b38"/>
<path d="M389.2 699.1L397.8 701.3L402.0 699.5L393.4 697.3Z" fill="#c18a24"/>
<path d="M359.3 699.7L359.8 699.6L364.4 697.5L363.9 697.5Z" fill="#c48a25"/>
<path d="M347.4 708.2L347.7 707.4L352.5 704.3L352.2 704.9Z" fill="#a38822"/>
<path d="M468.6 707.0L477.4 709.4L480.5 707.8L471.7 705.3Z" fill="#a08721"/>
<path d="M423.2 702.4L431.8 704.8L435.6 703.1L427.0 700.7Z" fill="#b38923"/>
<path d="M376.0 698.9L376.9 699.1L381.3 697.2L380.5 697.1Z" fill="#c68b26"/>
<path d="M359.8 699.6L360.4 699.6L365.0 697.5L364.4 697.5Z" fill="#c58a25"/>
<path d="M514.5 710.9L523.4 713.4L524.8 712.5L515.9 710.0Z" fill="#8e8620"/>
<path d="M334.6 742.8L334.7 740.1L339.7 735.1L339.6 737.7Z" fill="#106353"/>
<path d="M347.7 707.4L348.0 706.8L352.8 703.7L352.5 704.3Z" fill="#a78822"/>
<path d="M376.9 699.1L377.7 699.2L382.1 697.4L381.3 697.2Z" fill="#c78b26"/>
<path d="M340.4 723.7L340.6 721.9L345.5 717.6L345.3 719.3Z" fill="#647d33"/>
<path d="M360.4 699.6L360.9 699.6L365.6 697.5L365.0 697.5Z" fill="#c68b26"/>
<path d="M329.2 761.4L329.2 758.9L334.4 753.9L334.3 756.5Z" fill="#0a4162"/>
<path d="M348.0 706.8L348.3 706.1L353.1 703.2L352.8 703.7Z" fill="#ab8822"/>
<path d="M377.7 699.2L378.6 699.4L383.0 697.6L382.1 697.4Z" fill="#c78b27"/>
<path d="M360.9 699.6L361.5 699.5L366.1 697.5L365.6 697.5Z" fill="#c68b26"/>
<path d="M456.6 706.2L465.3 708.6L468.6 707.0L459.9 704.5Z" fill="#a68822"/>
<path d="M361.5 699.5L362.1 699.6L366.8 697.5L366.1 697.5Z" fill="#c78b27"/>
<path d="M348.3 706.1L348.7 705.6L353.5 702.7L353.1 703.2Z" fill="#ae8923"/>
<path d="M340.6 721.9L340.7 720.2L345.7 716.0L345.5 717.6Z" fill="#6e7f2e"/>
<path d="M378.6 699.4L379.4 699.6L383.8 697.8L383.0 697.6Z" fill="#c78b27"/>
<path d="M334.7 740.1L334.8 737.5L339.8 732.5L339.7 735.1Z" fill="#14684e"/>
<path d="M362.1 699.6L362.8 699.6L367.4 697.6L366.8 697.5Z" fill="#c88b27"/>
<path d="M348.7 705.6L349.0 705.1L353.8 702.2L353.5 702.7Z" fill="#b28923"/>
<path d="M329.2 758.9L329.2 756.2L334.4 751.2L334.4 753.9Z" fill="#0b4861"/>
<path d="M379.4 699.6L380.3 699.8L384.7 698.0L383.8 697.8Z" fill="#c78b27"/>
<path d="M410.6 701.8L419.2 704.2L423.2 702.4L414.6 700.1Z" fill="#ba8923"/>
<path d="M362.8 699.6L363.4 699.6L368.0 697.6L367.4 697.6Z" fill="#c98b28"/>
<path d="M340.7 720.2L340.9 718.6L345.9 714.5L345.7 716.0Z" fill="#77812a"/>
<path d="M349.0 705.1L349.4 704.6L354.2 701.8L353.8 702.2Z" fill="#b58923"/>
<path d="M323.8 776.0L323.8 775.9L329.1 771.6L329.1 771.7Z" fill="#051a4f"/>
<path d="M380.3 699.8L381.2 700.0L385.6 698.2L384.7 698.0Z" fill="#c88b27"/>
<path d="M323.8 775.9L323.8 775.5L329.1 771.1L329.1 771.6Z" fill="#051b50"/>
<path d="M363.4 699.6L364.1 699.7L368.7 697.7L368.0 697.6Z" fill="#c98b28"/>
<path d="M444.3 705.5L453.0 707.9L456.6 706.2L447.8 703.8Z" fill="#ac8822"/>
<path d="M349.4 704.6L349.8 704.2L354.6 701.5L354.2 701.8Z" fill="#b78923"/>
<path d="M323.8 775.5L323.8 774.8L329.1 770.3L329.1 771.1Z" fill="#051d51"/>
<path d="M334.8 737.5L334.9 735.0L339.9 730.1L339.8 732.5Z" fill="#266d49"/>
<path d="M364.1 699.7L364.7 699.7L369.3 697.8L368.7 697.7Z" fill="#ca8b28"/>
<path d="M340.9 718.6L341.2 717.2L346.1 713.2L345.9 714.5Z" fill="#808326"/>
<path d="M329.2 756.2L329.3 753.5L334.5 748.4L334.4 751.2Z" fill="#0b5060"/>
<path d="M349.8 704.2L350.2 703.8L355.0 701.2L354.6 701.5Z" fill="#ba8923"/>
<path d="M323.8 774.8L323.8 773.7L329.1 769.2L329.1 770.3Z" fill="#062053"/>
<path d="M501.0 711.1L509.9 713.6L512.4 712.1L503.5 709.7Z" fill="#958721"/>
<path d="M364.7 699.7L365.4 699.8L370.0 697.9L369.3 697.8Z" fill="#ca8b29"/>
<path d="M512.4 712.1L521.3 714.6L523.4 713.4L514.5 710.9Z" fill="#918620"/>
<path d="M350.2 703.8L350.6 703.5L355.4 700.9L355.0 701.2Z" fill="#bc8a24"/>
<path d="M489.3 710.2L498.2 712.7L501.0 711.1L492.1 708.7Z" fill="#9a8721"/>
<path d="M381.2 700.0L384.8 700.9L389.2 699.1L385.6 698.2Z" fill="#c88b27"/>
<path d="M365.4 699.8L366.1 699.9L370.7 698.0L370.0 697.9Z" fill="#cb8b29"/>
<path d="M323.8 773.7L323.8 772.3L329.1 767.7L329.1 769.2Z" fill="#072555"/>
<path d="M341.2 717.2L341.4 715.9L346.3 712.0L346.1 713.2Z" fill="#888523"/>
<path d="M350.6 703.5L351.1 703.2L355.8 700.7L355.4 700.9Z" fill="#be8a24"/>
<path d="M334.9 735.0L335.0 732.7L340.1 727.8L339.9 730.1Z" fill="#367144"/>
<path d="M366.1 699.9L366.8 699.9L371.4 698.1L370.7 698.0Z" fill="#cc8b29"/>
<path d="M397.8 701.3L406.4 703.6L410.6 701.8L402.0 699.5Z" fill="#c28a24"/>
<path d="M351.1 703.2L351.5 702.9L356.3 700.5L355.8 700.7Z" fill="#c18a24"/>
<path d="M477.4 709.4L486.3 711.9L489.3 710.2L480.5 707.8Z" fill="#a08721"/>
<path d="M431.8 704.8L440.6 707.2L444.3 705.5L435.6 703.1Z" fill="#b38923"/>
<path d="M329.3 753.5L329.3 750.7L334.5 745.6L334.5 748.4Z" fill="#0c575f"/>
<path d="M341.4 715.9L341.6 714.6L346.6 710.9L346.3 712.0Z" fill="#8f8620"/>
<path d="M323.8 772.3L323.8 770.5L329.1 765.8L329.1 767.7Z" fill="#072a58"/>
<path d="M366.8 699.9L367.6 700.1L372.2 698.2L371.4 698.1Z" fill="#cc8b29"/>
<path d="M523.4 713.4L532.4 715.8L533.8 715.0L524.8 712.5Z" fill="#8e8620"/>
<path d="M351.5 702.9L352.0 702.6L356.7 700.3L356.3 700.5Z" fill="#c28a24"/>
<path d="M367.6 700.1L368.3 700.2L372.9 698.3L372.2 698.2Z" fill="#cc8c2a"/>
<path d="M341.6 714.6L341.9 713.5L346.8 709.9L346.6 710.9Z" fill="#958721"/>
<path d="M352.0 702.6L352.4 702.4L357.2 700.1L356.7 700.3Z" fill="#c48a25"/>
<path d="M335.0 732.7L335.2 730.4L340.2 725.7L340.1 727.8Z" fill="#46763f"/>
<path d="M323.8 770.5L323.8 768.5L329.1 763.7L329.1 765.8Z" fill="#08315c"/>
<path d="M368.3 700.2L369.1 700.3L373.7 698.4L372.9 698.3Z" fill="#cd8c2a"/>
<path d="M465.3 708.6L474.2 711.1L477.4 709.4L468.6 707.0Z" fill="#a68822"/>
<path d="M352.4 702.4L352.9 702.3L357.7 700.0L357.2 700.1Z" fill="#c68b26"/>
<path d="M329.3 750.7L329.4 747.9L334.6 742.8L334.5 745.6Z" fill="#0e5c5a"/>
<path d="M341.9 713.5L342.2 712.5L347.1 709.0L346.8 709.9Z" fill="#9b8721"/>
<path d="M369.1 700.3L369.9 700.4L374.4 698.6L373.7 698.4Z" fill="#cd8c2a"/>
<path d="M352.9 702.3L353.4 702.1L358.2 699.8L357.7 700.0Z" fill="#c78b27"/>
<path d="M335.2 730.4L335.3 728.3L340.4 723.7L340.2 725.7Z" fill="#557a3a"/>
<path d="M369.9 700.4L370.7 700.6L375.2 698.7L374.4 698.6Z" fill="#ce8c2a"/>
<path d="M353.4 702.1L354.0 702.0L358.7 699.8L358.2 699.8Z" fill="#c88b27"/>
<path d="M342.2 712.5L342.4 711.6L347.4 708.2L347.1 709.0Z" fill="#a08721"/>
<path d="M323.8 768.5L323.9 766.3L329.2 761.4L329.1 763.7Z" fill="#0a3860"/>
<path d="M419.2 704.2L427.9 706.6L431.8 704.8L423.2 702.4Z" fill="#bb8923"/>
<path d="M354.0 702.0L354.5 701.8L359.3 699.7L358.7 699.8Z" fill="#ca8b28"/>
<path d="M370.7 700.6L371.5 700.7L376.0 698.9L375.2 698.7Z" fill="#ce8c2b"/>
<path d="M384.8 700.9L393.4 703.0L397.8 701.3L389.2 699.1Z" fill="#c98b28"/>
<path d="M342.4 711.6L342.8 710.7L347.7 707.4L347.4 708.2Z" fill="#a58822"/>
<path d="M453.0 707.9L461.8 710.4L465.3 708.6L456.6 706.2Z" fill="#ac8822"/>
<path d="M329.4 747.9L329.5 745.2L334.7 740.1L334.6 742.8Z" fill="#106155"/>
<path d="M354.5 701.8L355.0 701.8L359.8 699.6L359.3 699.7Z" fill="#cb8b29"/>
<path d="M335.3 728.3L335.5 726.4L340.6 721.9L340.4 723.7Z" fill="#607c35"/>
<path d="M371.5 700.7L372.3 700.9L376.9 699.1L376.0 698.9Z" fill="#cf8c2b"/>
<path d="M342.8 710.7L343.1 709.9L348.0 706.8L347.7 707.4Z" fill="#aa8822"/>
<path d="M355.0 701.8L355.6 701.7L360.4 699.6L359.8 699.6Z" fill="#cc8b29"/>
<path d="M323.9 766.3L323.9 763.9L329.2 758.9L329.2 761.4Z" fill="#0a3f62"/>
<path d="M509.9 713.6L518.9 716.1L521.3 714.6L512.4 712.1Z" fill="#958721"/>
<path d="M372.3 700.9L373.1 701.0L377.7 699.2L376.9 699.1Z" fill="#cf8c2b"/>
<path d="M355.6 701.7L356.2 701.6L360.9 699.6L360.4 699.6Z" fill="#cd8c2a"/>
<path d="M521.3 714.6L530.3 717.1L532.4 715.8L523.4 713.4Z" fill="#918620"/>
<path d="M343.1 709.9L343.4 709.2L348.3 706.1L348.0 706.8Z" fill="#ae8923"/>
<path d="M498.2 712.7L507.2 715.2L509.9 713.6L501.0 711.1Z" fill="#9a8721"/>
<path d="M335.5 726.4L335.7 724.5L340.7 720.2L340.6 721.9Z" fill="#6b7f30"/>
<path d="M373.1 701.0L374.0 701.2L378.6 699.4L377.7 699.2Z" fill="#cf8c2b"/>
<path d="M356.2 701.6L356.8 701.6L361.5 699.5L360.9 699.6Z" fill="#ce8c2a"/>
<path d="M329.5 745.2L329.6 742.6L334.8 737.5L334.7 740.1Z" fill="#126650"/>
<path d="M343.4 709.2L343.7 708.5L348.7 705.6L348.3 706.1Z" fill="#b28923"/>
<path d="M374.0 701.2L374.9 701.4L379.4 699.6L378.6 699.4Z" fill="#d08c2b"/>
<path d="M356.8 701.6L357.4 701.6L362.1 699.6L361.5 699.5Z" fill="#cf8c2b"/>
<path d="M323.9 763.9L323.9 761.3L329.2 756.2L329.2 758.9Z" fill="#0a4661"/>
<path d="M486.3 711.9L495.2 714.3L498.2 712.7L489.3 710.2Z" fill="#a08721"/>
<path d="M406.4 703.6L415.1 705.9L419.2 704.2L410.6 701.8Z" fill="#c38a24"/>
<path d="M440.6 707.2L449.3 709.7L453.0 707.9L444.3 705.5Z" fill="#b38923"/>
<path d="M343.7 708.5L344.1 707.9L349.0 705.1L348.7 705.6Z" fill="#b68923"/>
<path d="M335.7 724.5L335.9 722.8L340.9 718.6L340.7 720.2Z" fill="#75812b"/>
<path d="M357.4 701.6L358.0 701.6L362.8 699.6L362.1 699.6Z" fill="#d08c2b"/>
<path d="M374.9 701.4L375.8 701.6L380.3 699.8L379.4 699.6Z" fill="#d08c2b"/>
<path d="M358.0 701.6L358.6 701.6L363.4 699.6L362.8 699.6Z" fill="#d08c2c"/>
<path d="M344.1 707.9L344.5 707.4L349.4 704.6L349.0 705.1Z" fill="#b98923"/>
<path d="M329.6 742.6L329.7 740.0L334.9 735.0L334.8 737.5Z" fill="#1f6b4b"/>
<path d="M375.8 701.6L376.7 701.8L381.2 700.0L380.3 699.8Z" fill="#d08c2c"/>
<path d="M318.3 780.5L318.3 780.3L323.8 775.9L323.8 776.0Z" fill="#051a4f"/>
<path d="M318.3 780.3L318.3 780.0L323.8 775.5L323.8 775.9Z" fill="#051b50"/>
<path d="M358.6 701.6L359.3 701.6L364.1 699.7L363.4 699.6Z" fill="#d18c2c"/>
<path d="M335.9 722.8L336.1 721.3L341.2 717.2L340.9 718.6Z" fill="#7e8327"/>
<path d="M344.5 707.4L344.9 706.9L349.8 704.2L349.4 704.6Z" fill="#bd8a24"/>
<path d="M474.2 711.1L483.0 713.6L486.3 711.9L477.4 709.4Z" fill="#a68822"/>
<path d="M323.9 761.3L324.0 758.6L329.3 753.5L329.2 756.2Z" fill="#0b4d61"/>
<path d="M318.3 780.0L318.3 779.3L323.8 774.8L323.8 775.5Z" fill="#051d51"/>
<path d="M359.3 701.6L360.0 701.6L364.7 699.7L364.1 699.7Z" fill="#d28c2d"/>
<path d="M344.9 706.9L345.3 706.4L350.2 703.8L349.8 704.2Z" fill="#c08a24"/>
<path d="M318.3 779.3L318.3 778.3L323.8 773.7L323.8 774.8Z" fill="#062052"/>
<path d="M336.1 721.3L336.3 719.8L341.4 715.9L341.2 717.2Z" fill="#878523"/>
<path d="M360.0 701.6L360.7 701.7L365.4 699.8L364.7 699.7Z" fill="#d38c2d"/>
<path d="M329.7 740.0L329.8 737.6L335.0 732.7L334.9 735.0Z" fill="#307045"/>
<path d="M376.7 701.8L380.3 702.6L384.8 700.9L381.2 700.0Z" fill="#d18c2c"/>
<path d="M345.3 706.4L345.7 706.0L350.6 703.5L350.2 703.8Z" fill="#c28a24"/>
<path d="M427.9 706.6L436.7 709.0L440.6 707.2L431.8 704.8Z" fill="#bb8923"/>
<path d="M318.3 778.3L318.4 776.9L323.8 772.3L323.8 773.7Z" fill="#072455"/>
<path d="M360.7 701.7L361.4 701.7L366.1 699.9L365.4 699.8Z" fill="#d38d2d"/>
<path d="M324.0 758.6L324.0 755.9L329.3 750.7L329.3 753.5Z" fill="#0b5560"/>
<path d="M345.7 706.0L346.1 705.7L351.1 703.2L350.6 703.5Z" fill="#c58a25"/>
<path d="M393.4 703.0L402.1 705.3L406.4 703.6L397.8 701.3Z" fill="#ca8b29"/>
<path d="M336.3 719.8L336.6 718.5L341.6 714.6L341.4 715.9Z" fill="#8f8620"/>
<path d="M461.8 710.4L470.7 712.9L474.2 711.1L465.3 708.6Z" fill="#ac8822"/>
<path d="M361.4 701.7L362.1 701.8L366.8 699.9L366.1 699.9Z" fill="#d48d2e"/>
<path d="M346.1 705.7L346.6 705.3L351.5 702.9L351.1 703.2Z" fill="#c78b27"/>
<path d="M318.4 776.9L318.4 775.3L323.8 770.5L323.8 772.3Z" fill="#072958"/>
<path d="M329.8 737.6L330.0 735.2L335.2 730.4L335.0 732.7Z" fill="#417440"/>
<path d="M362.1 701.8L362.8 701.9L367.6 700.1L366.8 699.9Z" fill="#d48d2e"/>
<path d="M518.9 716.1L527.9 718.6L530.3 717.1L521.3 714.6Z" fill="#968721"/>
<path d="M346.6 705.3L347.0 705.1L352.0 702.6L351.5 702.9Z" fill="#c98b28"/>
<path d="M336.6 718.5L336.8 717.2L341.9 713.5L341.6 714.6Z" fill="#968721"/>
<path d="M362.8 701.9L363.6 702.0L368.3 700.2L367.6 700.1Z" fill="#d58d2e"/>
<path d="M507.2 715.2L516.1 717.7L518.9 716.1L509.9 713.6Z" fill="#9a8721"/>
<path d="M347.0 705.1L347.5 704.8L352.4 702.4L352.0 702.6Z" fill="#cb8b29"/>
<path d="M324.0 755.9L324.1 753.1L329.4 747.9L329.3 750.7Z" fill="#0d5a5b"/>
<path d="M318.4 775.3L318.4 773.4L323.8 768.5L323.8 770.5Z" fill="#082f5b"/>
<path d="M336.8 717.2L337.1 716.1L342.2 712.5L341.9 713.5Z" fill="#9c8721"/>
<path d="M363.6 702.0L364.3 702.1L369.1 700.3L368.3 700.2Z" fill="#d68d2f"/>
<path d="M347.5 704.8L348.0 704.6L352.9 702.3L352.4 702.4Z" fill="#cc8c2a"/>
<path d="M330.0 735.2L330.1 733.0L335.3 728.3L335.2 730.4Z" fill="#50793c"/>
<path d="M495.2 714.3L504.2 716.8L507.2 715.2L498.2 712.7Z" fill="#a08721"/>
<path d="M415.1 705.9L423.8 708.3L427.9 706.6L419.2 704.2Z" fill="#c38a25"/>
<path d="M449.3 709.7L458.2 712.1L461.8 710.4L453.0 707.9Z" fill="#b48923"/>
<path d="M364.3 702.1L365.1 702.2L369.9 700.4L369.1 700.3Z" fill="#d68d2f"/>
<path d="M348.0 704.6L348.5 704.3L353.4 702.1L352.9 702.3Z" fill="#ce8c2a"/>
<path d="M337.1 716.1L337.4 715.0L342.4 711.6L342.2 712.5Z" fill="#a28822"/>
<path d="M318.4 773.4L318.4 771.3L323.9 766.3L323.8 768.5Z" fill="#09375f"/>
<path d="M365.1 702.2L365.9 702.3L370.7 700.6L369.9 700.4Z" fill="#d78d2f"/>
<path d="M348.5 704.3L349.0 704.2L354.0 702.0L353.4 702.1Z" fill="#d08c2b"/>
<path d="M324.1 753.1L324.2 750.4L329.5 745.2L329.4 747.9Z" fill="#0f5f57"/>
<path d="M330.1 733.0L330.3 730.9L335.5 726.4L335.3 728.3Z" fill="#5d7c36"/>
<path d="M380.3 702.6L388.9 704.7L393.4 703.0L384.8 700.9Z" fill="#d28c2d"/>
<path d="M337.4 715.0L337.7 714.0L342.8 710.7L342.4 711.6Z" fill="#a88822"/>
<path d="M349.0 704.2L349.6 704.0L354.5 701.8L354.0 702.0Z" fill="#d18c2c"/>
<path d="M365.9 702.3L366.7 702.5L371.5 700.7L370.7 700.6Z" fill="#d78d2f"/>
<path d="M483.0 713.6L492.0 716.1L495.2 714.3L486.3 711.9Z" fill="#a68822"/>
<path d="M349.6 704.0L350.1 703.9L355.0 701.8L354.5 701.8Z" fill="#d28c2d"/>
<path d="M318.4 771.3L318.4 768.9L323.9 763.9L323.9 766.3Z" fill="#0a3e62"/>
<path d="M366.7 702.5L367.6 702.6L372.3 700.9L371.5 700.7Z" fill="#d78d30"/>
<path d="M337.7 714.0L338.0 713.1L343.1 709.9L342.8 710.7Z" fill="#ad8822"/>
<path d="M350.1 703.9L350.7 703.8L355.6 701.7L355.0 701.8Z" fill="#d48d2e"/>
<path d="M330.3 730.9L330.5 729.0L335.7 724.5L335.5 726.4Z" fill="#687e31"/>
<path d="M324.2 750.4L324.3 747.7L329.6 742.6L329.5 745.2Z" fill="#116452"/>
<path d="M367.6 702.6L368.4 702.8L373.1 701.0L372.3 700.9Z" fill="#d88d30"/>
<path d="M338.0 713.1L338.3 712.3L343.4 709.2L343.1 709.9Z" fill="#b28923"/>
<path d="M436.7 709.0L445.5 711.4L449.3 709.7L440.6 707.2Z" fill="#bb8a24"/>
<path d="M350.7 703.8L351.2 703.7L356.2 701.6L355.6 701.7Z" fill="#d58d2e"/>
<path d="M368.4 702.8L369.3 702.9L374.0 701.2L373.1 701.0Z" fill="#d88d30"/>
<path d="M318.4 768.9L318.5 766.4L323.9 761.3L323.9 763.9Z" fill="#0a4461"/>
<path d="M351.2 703.7L351.8 703.6L356.8 701.6L356.2 701.6Z" fill="#d68d2f"/>
<path d="M338.3 712.3L338.6 711.6L343.7 708.5L343.4 709.2Z" fill="#b78923"/>
<path d="M402.1 705.3L410.8 707.6L415.1 705.9L406.4 703.6Z" fill="#cb8b29"/>
<path d="M470.7 712.9L479.6 715.3L483.0 713.6L474.2 711.1Z" fill="#ac8822"/>
<path d="M330.5 729.0L330.7 727.2L335.9 722.8L335.7 724.5Z" fill="#73802c"/>
<path d="M369.3 702.9L370.1 703.1L374.9 701.4L374.0 701.2Z" fill="#d98d30"/>
<path d="M351.8 703.6L352.5 703.5L357.4 701.6L356.8 701.6Z" fill="#d78d2f"/>
<path d="M338.6 711.6L339.0 710.9L344.1 707.9L343.7 708.5Z" fill="#bb8923"/>
<path d="M324.3 747.7L324.4 745.1L329.7 740.0L329.6 742.6Z" fill="#19694d"/>
<path d="M370.1 703.1L371.0 703.3L375.8 701.6L374.9 701.4Z" fill="#d98d30"/>
<path d="M352.5 703.5L353.1 703.5L358.0 701.6L357.4 701.6Z" fill="#d88d30"/>
<path d="M339.0 710.9L339.4 710.2L344.5 707.4L344.1 707.9Z" fill="#bf8a24"/>
<path d="M516.1 717.7L525.2 720.2L527.9 718.6L518.9 716.1Z" fill="#9a8721"/>
<path d="M330.7 727.2L330.9 725.5L336.1 721.3L335.9 722.8Z" fill="#7d8327"/>
<path d="M318.5 766.4L318.5 763.8L324.0 758.6L323.9 761.3Z" fill="#0b4b61"/>
<path d="M353.1 703.5L353.7 703.5L358.6 701.6L358.0 701.6Z" fill="#d98d30"/>
<path d="M371.0 703.3L372.0 703.4L376.7 701.8L375.8 701.6Z" fill="#d98d31"/>
<path d="M312.7 785.0L312.7 784.9L318.3 780.3L318.3 780.5Z" fill="#051a4f"/>
<path d="M312.7 784.9L312.7 784.6L318.3 780.0L318.3 780.3Z" fill="#051b50"/>
<path d="M339.4 710.2L339.8 709.7L344.9 706.9L344.5 707.4Z" fill="#c28a24"/>
<path d="M353.7 703.5L354.4 703.5L359.3 701.6L358.6 701.6Z" fill="#da8d31"/>
<path d="M312.7 784.6L312.7 783.9L318.3 779.3L318.3 780.0Z" fill="#051d51"/>
<path d="M324.4 745.1L324.5 742.6L329.8 737.6L329.7 740.0Z" fill="#2a6e47"/>
<path d="M504.2 716.8L513.2 719.4L516.1 717.7L507.2 715.2Z" fill="#a08721"/>
<path d="M458.2 712.1L467.0 714.6L470.7 712.9L461.8 710.4Z" fill="#b48923"/>
<path d="M423.8 708.3L432.6 710.7L436.7 709.0L427.9 706.6Z" fill="#c48a25"/>
<path d="M330.9 725.5L331.1 723.9L336.3 719.8L336.1 721.3Z" fill="#878523"/>
<path d="M339.8 709.7L340.2 709.1L345.3 706.4L344.9 706.9Z" fill="#c58a26"/>
<path d="M354.4 703.5L355.1 703.5L360.0 701.6L359.3 701.6Z" fill="#db8e31"/>
<path d="M312.7 783.9L312.7 783.0L318.3 778.3L318.3 779.3Z" fill="#062052"/>
<path d="M318.5 763.8L318.6 761.1L324.0 755.9L324.0 758.6Z" fill="#0b5260"/>
<path d="M355.1 703.5L355.7 703.5L360.7 701.7L360.0 701.6Z" fill="#db8e32"/>
<path d="M340.2 709.1L340.6 708.7L345.7 706.0L345.3 706.4Z" fill="#c88b27"/>
<path d="M372.0 703.4L375.6 704.2L380.3 702.6L376.7 701.8Z" fill="#da8e31"/>
<path d="M312.7 783.0L312.7 781.7L318.4 776.9L318.3 778.3Z" fill="#062354"/>
<path d="M331.1 723.9L331.3 722.4L336.6 718.5L336.3 719.8Z" fill="#8f8620"/>
<path d="M388.9 704.7L397.6 706.9L402.1 705.3L393.4 703.0Z" fill="#d38d2d"/>
<path d="M355.7 703.5L356.4 703.6L361.4 701.7L360.7 701.7Z" fill="#dc8e32"/>
<path d="M340.6 708.7L341.0 708.2L346.1 705.7L345.7 706.0Z" fill="#cb8b29"/>
<path d="M324.5 742.6L324.6 740.2L330.0 735.2L329.8 737.6Z" fill="#3b7342"/>
<path d="M492.0 716.1L501.0 718.6L504.2 716.8L495.2 714.3Z" fill="#a68822"/>
<path d="M312.7 781.7L312.8 780.2L318.4 775.3L318.4 776.9Z" fill="#072857"/>
<path d="M356.4 703.6L357.2 703.6L362.1 701.8L361.4 701.7Z" fill="#dd8e33"/>
<path d="M341.0 708.2L341.5 707.8L346.6 705.3L346.1 705.7Z" fill="#cd8c2a"/>
<path d="M331.3 722.4L331.6 721.0L336.8 717.2L336.6 718.5Z" fill="#978721"/>
<path d="M318.6 761.1L318.6 758.4L324.1 753.1L324.0 755.9Z" fill="#0c585d"/>
<path d="M357.2 703.6L357.9 703.7L362.8 701.9L362.1 701.8Z" fill="#de8e33"/>
<path d="M341.5 707.8L341.9 707.5L347.0 705.1L346.6 705.3Z" fill="#cf8c2b"/>
<path d="M445.5 711.4L454.3 713.9L458.2 712.1L449.3 709.7Z" fill="#bc8a24"/>
<path d="M312.8 780.2L312.8 778.4L318.4 773.4L318.4 775.3Z" fill="#082e5b"/>
<path d="M324.6 740.2L324.8 737.9L330.1 733.0L330.0 735.2Z" fill="#4b773d"/>
<path d="M331.6 721.0L331.8 719.7L337.1 716.1L336.8 717.2Z" fill="#9e8721"/>
<path d="M357.9 703.7L358.7 703.7L363.6 702.0L362.8 701.9Z" fill="#de8e33"/>
<path d="M341.9 707.5L342.4 707.1L347.5 704.8L347.0 705.1Z" fill="#d28c2c"/>
<path d="M410.8 707.6L419.5 710.0L423.8 708.3L415.1 705.9Z" fill="#cc8b29"/>
<path d="M479.6 715.3L488.6 717.8L492.0 716.1L483.0 713.6Z" fill="#ad8822"/>
<path d="M358.7 703.7L359.4 703.8L364.3 702.1L363.6 702.0Z" fill="#df8e34"/>
<path d="M342.4 707.1L342.9 706.9L348.0 704.6L347.5 704.8Z" fill="#d48d2e"/>
<path d="M331.8 719.7L332.1 718.6L337.4 715.0L337.1 716.1Z" fill="#a58822"/>
<path d="M318.6 758.4L318.7 755.7L324.2 750.4L324.1 753.1Z" fill="#0e5d58"/>
<path d="M312.8 778.4L312.8 776.3L318.4 771.3L318.4 773.4Z" fill="#09355e"/>
<path d="M359.4 703.8L360.2 703.9L365.1 702.2L364.3 702.1Z" fill="#e08e34"/>
<path d="M342.9 706.9L343.4 706.6L348.5 704.3L348.0 704.6Z" fill="#d58d2f"/>
<path d="M324.8 737.9L324.9 735.7L330.3 730.9L330.1 733.0Z" fill="#5a7b38"/>
<path d="M360.2 703.9L361.0 704.0L365.9 702.3L365.1 702.2Z" fill="#e08e34"/>
<path d="M343.4 706.6L343.9 706.4L349.0 704.2L348.5 704.3Z" fill="#d78d2f"/>
<path d="M332.1 718.6L332.4 717.5L337.7 714.0L337.4 715.0Z" fill="#ab8822"/>
<path d="M375.6 704.2L384.2 706.3L388.9 704.7L380.3 702.6Z" fill="#dc8e32"/>
<path d="M312.8 776.3L312.8 774.1L318.4 768.9L318.4 771.3Z" fill="#0a3c62"/>
<path d="M343.9 706.4L344.5 706.2L349.6 704.0L349.0 704.2Z" fill="#d98d30"/>
<path d="M361.0 704.0L361.8 704.1L366.7 702.5L365.9 702.3Z" fill="#e18e35"/>
<path d="M332.4 717.5L332.7 716.5L338.0 713.1L337.7 714.0Z" fill="#b18923"/>
<path d="M324.9 735.7L325.1 733.6L330.5 729.0L330.3 730.9Z" fill="#667e32"/>
<path d="M513.2 719.4L522.2 721.9L525.2 720.2L516.1 717.7Z" fill="#a08721"/>
<path d="M318.7 755.7L318.8 753.0L324.3 747.7L324.2 750.4Z" fill="#106253"/>
<path d="M467.0 714.6L476.0 717.1L479.6 715.3L470.7 712.9Z" fill="#b48923"/>
<path d="M432.6 710.7L441.4 713.2L445.5 711.4L436.7 709.0Z" fill="#c48a25"/>
<path d="M344.5 706.2L345.0 706.0L350.1 703.9L349.6 704.0Z" fill="#da8e31"/>
<path d="M361.8 704.1L362.7 704.3L367.6 702.6L366.7 702.5Z" fill="#e18f35"/>
<path d="M332.7 716.5L333.1 715.5L338.3 712.3L338.0 713.1Z" fill="#b68923"/>
<path d="M345.0 706.0L345.6 705.8L350.7 703.8L350.1 703.9Z" fill="#dc8e32"/>
<path d="M362.7 704.3L363.5 704.4L368.4 702.8L367.6 702.6Z" fill="#e28f35"/>
<path d="M312.8 774.1L312.8 771.7L318.5 766.4L318.4 768.9Z" fill="#0a4261"/>
<path d="M325.1 733.6L325.3 731.6L330.7 727.2L330.5 729.0Z" fill="#71802d"/>
<path d="M345.6 705.8L346.2 705.7L351.2 703.7L350.7 703.8Z" fill="#dd8e33"/>
<path d="M397.6 706.9L406.3 709.2L410.8 707.6L402.1 705.3Z" fill="#d48d2e"/>
<path d="M501.0 718.6L510.0 721.1L513.2 719.4L504.2 716.8Z" fill="#a68822"/>
<path d="M333.1 715.5L333.4 714.7L338.6 711.6L338.3 712.3Z" fill="#bb8923"/>
<path d="M363.5 704.4L364.4 704.6L369.3 702.9L368.4 702.8Z" fill="#e28f35"/>
<path d="M318.8 753.0L318.9 750.3L324.4 745.1L324.3 747.7Z" fill="#13674f"/>
<path d="M346.2 705.7L346.8 705.6L351.8 703.6L351.2 703.7Z" fill="#df8e34"/>
<path d="M364.4 704.6L365.3 704.7L370.1 703.1L369.3 702.9Z" fill="#e38f36"/>
<path d="M333.4 714.7L333.8 713.9L339.0 710.9L338.6 711.6Z" fill="#c08a24"/>
<path d="M346.8 705.6L347.4 705.5L352.5 703.5L351.8 703.6Z" fill="#e08e34"/>
<path d="M325.3 731.6L325.5 729.8L330.9 725.5L330.7 727.2Z" fill="#7c8228"/>
<path d="M312.8 771.7L312.9 769.1L318.5 763.8L318.5 766.4Z" fill="#0b4961"/>
<path d="M454.3 713.9L463.2 716.4L467.0 714.6L458.2 712.1Z" fill="#bc8a24"/>
<path d="M365.3 704.7L366.2 704.9L371.0 703.3L370.1 703.1Z" fill="#e38f36"/>
<path d="M333.8 713.9L334.1 713.1L339.4 710.2L339.0 710.9Z" fill="#c48a25"/>
<path d="M347.4 705.5L348.0 705.4L353.1 703.5L352.5 703.5Z" fill="#e18f35"/>
<path d="M318.9 750.3L319.0 747.7L324.5 742.6L324.4 745.1Z" fill="#256c49"/>
<path d="M488.6 717.8L497.6 720.4L501.0 718.6L492.0 716.1Z" fill="#ad8822"/>
<path d="M419.5 710.0L428.3 712.4L432.6 710.7L423.8 708.3Z" fill="#cc8b2a"/>
<path d="M366.2 704.9L367.1 705.1L372.0 703.4L371.0 703.3Z" fill="#e38f36"/>
<path d="M307.0 789.7L307.0 789.6L312.7 784.9L312.7 785.0Z" fill="#051a4f"/>
<path d="M348.0 705.4L348.6 705.4L353.7 703.5L353.1 703.5Z" fill="#e28f35"/>
<path d="M307.0 789.6L307.0 789.3L312.7 784.6L312.7 784.9Z" fill="#051b50"/>
<path d="M325.5 729.8L325.7 728.0L331.1 723.9L330.9 725.5Z" fill="#868423"/>
<path d="M334.1 713.1L334.5 712.5L339.8 709.7L339.4 710.2Z" fill="#c78b27"/>
<path d="M307.0 789.3L307.0 788.7L312.7 783.9L312.7 784.6Z" fill="#051d50"/>
<path d="M348.6 705.4L349.3 705.3L354.4 703.5L353.7 703.5Z" fill="#e38f36"/>
<path d="M312.9 769.1L312.9 766.5L318.6 761.1L318.5 763.8Z" fill="#0b5060"/>
<path d="M334.5 712.5L334.9 711.9L340.2 709.1L339.8 709.7Z" fill="#cb8b29"/>
<path d="M307.0 788.7L307.0 787.8L312.7 783.0L312.7 783.9Z" fill="#061f52"/>
<path d="M349.3 705.3L350.0 705.3L355.1 703.5L354.4 703.5Z" fill="#e48f37"/>
<path d="M325.7 728.0L325.9 726.4L331.3 722.4L331.1 723.9Z" fill="#8f8620"/>
<path d="M319.0 747.7L319.1 745.2L324.6 740.2L324.5 742.6Z" fill="#367144"/>
<path d="M334.9 711.9L335.3 711.3L340.6 708.7L340.2 709.1Z" fill="#ce8c2b"/>
<path d="M307.0 787.8L307.0 786.6L312.7 781.7L312.7 783.0Z" fill="#062354"/>
<path d="M367.1 705.1L370.7 705.8L375.6 704.2L372.0 703.4Z" fill="#e48f37"/>
<path d="M350.0 705.3L350.7 705.3L355.7 703.5L355.1 703.5Z" fill="#e58f37"/>
<path d="M384.2 706.3L392.9 708.5L397.6 706.9L388.9 704.7Z" fill="#dd8e33"/>
<path d="M335.3 711.3L335.8 710.8L341.0 708.2L340.6 708.7Z" fill="#d18c2c"/>
<path d="M350.7 705.3L351.4 705.3L356.4 703.6L355.7 703.5Z" fill="#e68f38"/>
<path d="M476.0 717.1L485.0 719.6L488.6 717.8L479.6 715.3Z" fill="#b48923"/>
<path d="M307.0 786.6L307.0 785.1L312.8 780.2L312.7 781.7Z" fill="#072757"/>
<path d="M312.9 766.5L313.0 763.7L318.6 758.4L318.6 761.1Z" fill="#0c575e"/>
<path d="M441.4 713.2L450.3 715.6L454.3 713.9L445.5 711.4Z" fill="#c48a25"/>
<path d="M325.9 726.4L326.2 724.9L331.6 721.0L331.3 722.4Z" fill="#988721"/>
<path d="M335.8 710.8L336.2 710.3L341.5 707.8L341.0 708.2Z" fill="#d48d2e"/>
<path d="M319.1 745.2L319.3 742.8L324.8 737.9L324.6 740.2Z" fill="#47763e"/>
<path d="M351.4 705.3L352.1 705.3L357.2 703.6L356.4 703.6Z" fill="#e78f38"/>
<path d="M307.0 785.1L307.0 783.4L312.8 778.4L312.8 780.2Z" fill="#082d5a"/>
<path d="M326.2 724.9L326.5 723.5L331.8 719.7L331.6 721.0Z" fill="#9f8721"/>
<path d="M336.2 710.3L336.7 709.9L341.9 707.5L341.5 707.8Z" fill="#d78d2f"/>
<path d="M352.1 705.3L352.8 705.4L357.9 703.7L357.2 703.6Z" fill="#e88f38"/>
<path d="M406.3 709.2L415.1 711.6L419.5 710.0L410.8 707.6Z" fill="#d58d2e"/>
<path d="M510.0 721.1L519.1 723.6L522.2 721.9L513.2 719.4Z" fill="#a68822"/>
<path d="M336.7 709.9L337.1 709.5L342.4 707.1L341.9 707.5Z" fill="#d98d30"/>
<path d="M313.0 763.7L313.1 761.0L318.7 755.7L318.6 758.4Z" fill="#0e5c5a"/>
<path d="M352.8 705.4L353.6 705.4L358.7 703.7L357.9 703.7Z" fill="#e89039"/>
<path d="M319.3 742.8L319.4 740.5L324.9 735.7L324.8 737.9Z" fill="#567a39"/>
<path d="M326.5 723.5L326.7 722.2L332.1 718.6L331.8 719.7Z" fill="#a78822"/>
<path d="M307.0 783.4L307.0 781.4L312.8 776.3L312.8 778.4Z" fill="#09335e"/>
<path d="M337.1 709.5L337.6 709.1L342.9 706.9L342.4 707.1Z" fill="#db8e32"/>
<path d="M353.6 705.4L354.4 705.5L359.4 703.8L358.7 703.7Z" fill="#e99039"/>
<path d="M463.2 716.4L472.2 718.9L476.0 717.1L467.0 714.6Z" fill="#bc8a24"/>
<path d="M337.6 709.1L338.1 708.8L343.4 706.6L342.9 706.9Z" fill="#dd8e33"/>
<path d="M354.4 705.5L355.1 705.6L360.2 703.9L359.4 703.8Z" fill="#ea903a"/>
<path d="M326.7 722.2L327.0 721.0L332.4 717.5L332.1 718.6Z" fill="#ae8822"/>
<path d="M313.1 761.0L313.1 758.3L318.8 753.0L318.7 755.7Z" fill="#106155"/>
<path d="M497.6 720.4L506.6 722.9L510.0 721.1L501.0 718.6Z" fill="#ad8822"/>
<path d="M307.0 781.4L307.1 779.3L312.8 774.1L312.8 776.3Z" fill="#0a3a62"/>
<path d="M319.4 740.5L319.6 738.3L325.1 733.6L324.9 735.7Z" fill="#637d33"/>
<path d="M428.3 712.4L437.2 714.9L441.4 713.2L432.6 710.7Z" fill="#cc8c2a"/>
<path d="M338.1 708.8L338.7 708.5L343.9 706.4L343.4 706.6Z" fill="#e08e34"/>
<path d="M355.1 705.6L355.9 705.6L361.0 704.0L360.2 703.9Z" fill="#ea903a"/>
<path d="M370.7 705.8L379.4 707.8L384.2 706.3L375.6 704.2Z" fill="#e68f38"/>
<path d="M327.0 721.0L327.3 719.9L332.7 716.5L332.4 717.5Z" fill="#b48923"/>
<path d="M338.7 708.5L339.2 708.3L344.5 706.2L343.9 706.4Z" fill="#e18f35"/>
<path d="M355.9 705.6L356.8 705.7L361.8 704.1L361.0 704.0Z" fill="#eb903a"/>
<path d="M339.2 708.3L339.8 708.0L345.0 706.0L344.5 706.2Z" fill="#e38f36"/>
<path d="M327.3 719.9L327.7 718.8L333.1 715.5L332.7 716.5Z" fill="#ba8923"/>
<path d="M356.8 705.7L357.6 705.9L362.7 704.3L361.8 704.1Z" fill="#ec903b"/>
<path d="M319.6 738.3L319.8 736.2L325.3 731.6L325.1 733.6Z" fill="#6f802e"/>
<path d="M307.1 779.3L307.1 776.9L312.8 771.7L312.8 774.1Z" fill="#0a4162"/>
<path d="M313.1 758.3L313.2 755.6L318.9 750.3L318.8 753.0Z" fill="#116650"/>
<path d="M339.8 708.0L340.3 707.8L345.6 705.8L345.0 706.0Z" fill="#e58f37"/>
<path d="M392.9 708.5L401.7 710.8L406.3 709.2L397.6 706.9Z" fill="#de8e33"/>
<path d="M357.6 705.9L358.5 706.0L363.5 704.4L362.7 704.3Z" fill="#ec903b"/>
<path d="M327.7 718.8L328.0 717.8L333.4 714.7L333.1 715.5Z" fill="#c08a24"/>
<path d="M485.0 719.6L494.0 722.2L497.6 720.4L488.6 717.8Z" fill="#b48923"/>
<path d="M340.3 707.8L340.9 707.6L346.2 705.7L345.6 705.8Z" fill="#e78f38"/>
<path d="M450.3 715.6L459.2 718.1L463.2 716.4L454.3 713.9Z" fill="#c48a25"/>
<path d="M358.5 706.0L359.3 706.1L364.4 704.6L363.5 704.4Z" fill="#ed903b"/>
<path d="M319.8 736.2L320.0 734.2L325.5 729.8L325.3 731.6Z" fill="#7b8229"/>
<path d="M307.1 776.9L307.1 774.4L312.9 769.1L312.8 771.7Z" fill="#0a4761"/>
<path d="M340.9 707.6L341.5 707.5L346.8 705.6L346.2 705.7Z" fill="#e89039"/>
<path d="M328.0 717.8L328.4 716.9L333.8 713.9L333.4 714.7Z" fill="#c58a25"/>
<path d="M359.3 706.1L360.2 706.2L365.3 704.7L364.4 704.6Z" fill="#ed903b"/>
<path d="M313.2 755.6L313.3 752.9L319.0 747.7L318.9 750.3Z" fill="#1f6b4b"/>
<path d="M341.5 707.5L342.1 707.4L347.4 705.5L346.8 705.6Z" fill="#e99039"/>
<path d="M415.1 711.6L423.9 714.0L428.3 712.4L419.5 710.0Z" fill="#d68d2f"/>
<path d="M328.4 716.9L328.7 716.1L334.1 713.1L333.8 713.9Z" fill="#c98b28"/>
<path d="M360.2 706.2L361.1 706.4L366.2 704.9L365.3 704.7Z" fill="#ee903c"/>
<path d="M320.0 734.2L320.2 732.3L325.7 728.0L325.5 729.8Z" fill="#858423"/>
<path d="M342.1 707.4L342.7 707.2L348.0 705.4L347.4 705.5Z" fill="#eb903a"/>
<path d="M301.1 794.5L301.1 794.4L307.0 789.6L307.0 789.7Z" fill="#051a4f"/>
<path d="M307.1 774.4L307.2 771.8L312.9 766.5L312.9 769.1Z" fill="#0b4e61"/>
<path d="M301.1 794.4L301.1 794.1L307.0 789.3L307.0 789.6Z" fill="#051b4f"/>
<path d="M328.7 716.1L329.1 715.3L334.5 712.5L334.1 713.1Z" fill="#cd8c2a"/>
<path d="M361.1 706.4L362.0 706.6L367.1 705.1L366.2 704.9Z" fill="#ee903c"/>
<path d="M342.7 707.2L343.4 707.2L348.6 705.4L348.0 705.4Z" fill="#ec903b"/>
<path d="M301.1 794.1L301.1 793.5L307.0 788.7L307.0 789.3Z" fill="#051c50"/>
<path d="M313.3 752.9L313.5 750.3L319.1 745.2L319.0 747.7Z" fill="#317045"/>
<path d="M472.2 718.9L481.2 721.4L485.0 719.6L476.0 717.1Z" fill="#bc8a24"/>
<path d="M320.2 732.3L320.4 730.6L325.9 726.4L325.7 728.0Z" fill="#8f8620"/>
<path d="M301.1 793.5L301.1 792.7L307.0 787.8L307.0 788.7Z" fill="#061f52"/>
<path d="M329.1 715.3L329.5 714.6L334.9 711.9L334.5 712.5Z" fill="#d18c2c"/>
<path d="M343.4 707.2L344.1 707.1L349.3 705.3L348.6 705.4Z" fill="#ed903b"/>
<path d="M506.6 722.9L515.8 725.5L519.1 723.6L510.0 721.1Z" fill="#ad8822"/>
<path d="M301.1 792.7L301.1 791.5L307.0 786.6L307.0 787.8Z" fill="#062254"/>
<path d="M437.2 714.9L446.1 717.4L450.3 715.6L441.4 713.2Z" fill="#cd8c2a"/>
<path d="M344.1 707.1L344.7 707.0L350.0 705.3L349.3 705.3Z" fill="#ee903c"/>
<path d="M329.5 714.6L329.9 714.0L335.3 711.3L334.9 711.9Z" fill="#d58d2e"/>
<path d="M307.2 771.8L307.2 769.2L313.0 763.7L312.9 766.5Z" fill="#0b5560"/>
<path d="M379.4 707.8L388.1 710.0L392.9 708.5L384.2 706.3Z" fill="#e89039"/>
<path d="M362.0 706.6L365.7 707.3L370.7 705.8L367.1 705.1Z" fill="#ef913d"/>
<path d="M320.4 730.6L320.6 728.9L326.2 724.9L325.9 726.4Z" fill="#998721"/>
<path d="M344.7 707.0L345.4 707.0L350.7 705.3L350.0 705.3Z" fill="#f0913d"/>
<path d="M313.5 750.3L313.6 747.8L319.3 742.8L319.1 745.2Z" fill="#427540"/>
<path d="M301.1 791.5L301.1 790.2L307.0 785.1L307.0 786.6Z" fill="#072756"/>
<path d="M329.9 714.0L330.4 713.4L335.8 710.8L335.3 711.3Z" fill="#d88d30"/>
<path d="M345.4 707.0L346.1 707.0L351.4 705.3L350.7 705.3Z" fill="#f1913d"/>
<path d="M330.4 713.4L330.8 712.8L336.2 710.3L335.8 710.8Z" fill="#db8e32"/>
<path d="M320.6 728.9L320.9 727.4L326.5 723.5L326.2 724.9Z" fill="#a18822"/>
<path d="M301.1 790.2L301.1 788.5L307.0 783.4L307.0 785.1Z" fill="#082c59"/>
<path d="M346.1 707.0L346.9 707.0L352.1 705.3L351.4 705.3Z" fill="#f2913e"/>
<path d="M307.2 769.2L307.3 766.4L313.1 761.0L313.0 763.7Z" fill="#0d5a5b"/>
<path d="M401.7 710.8L410.5 713.2L415.1 711.6L406.3 709.2Z" fill="#df8e34"/>
<path d="M330.8 712.8L331.3 712.3L336.7 709.9L336.2 710.3Z" fill="#de8e33"/>
<path d="M313.6 747.8L313.8 745.4L319.4 740.5L319.3 742.8Z" fill="#53793b"/>
<path d="M494.0 722.2L503.1 724.7L506.6 722.9L497.6 720.4Z" fill="#b48923"/>
<path d="M459.2 718.1L468.2 720.7L472.2 718.9L463.2 716.4Z" fill="#c48a25"/>
<path d="M346.9 707.0L347.6 707.0L352.8 705.4L352.1 705.3Z" fill="#f2913f"/>
<path d="M320.9 727.4L321.2 725.9L326.7 722.2L326.5 723.5Z" fill="#a98822"/>
<path d="M301.1 788.5L301.1 786.6L307.0 781.4L307.0 783.4Z" fill="#09325d"/>
<path d="M331.3 712.3L331.7 711.8L337.1 709.5L336.7 709.9Z" fill="#e18f35"/>
<path d="M347.6 707.0L348.4 707.0L353.6 705.4L352.8 705.4Z" fill="#f29140"/>
<path d="M331.7 711.8L332.2 711.4L337.6 709.1L337.1 709.5Z" fill="#e48f36"/>
<path d="M307.3 766.4L307.4 763.7L313.1 758.3L313.1 761.0Z" fill="#0f5f56"/>
<path d="M348.4 707.0L349.1 707.0L354.4 705.5L353.6 705.4Z" fill="#f29241"/>
<path d="M321.2 725.9L321.5 724.6L327.0 721.0L326.7 722.2Z" fill="#b18923"/>
<path d="M313.8 745.4L313.9 743.1L319.6 738.3L319.4 740.5Z" fill="#617c35"/>
<path d="M423.9 714.0L432.8 716.5L437.2 714.9L428.3 712.4Z" fill="#d68d2f"/>
<path d="M301.1 786.6L301.2 784.5L307.1 779.3L307.0 781.4Z" fill="#0a3961"/>
<path d="M332.2 711.4L332.7 711.0L338.1 708.8L337.6 709.1Z" fill="#e68f38"/>
<path d="M349.1 707.0L349.9 707.1L355.1 705.6L354.4 705.5Z" fill="#f29242"/>
<path d="M321.5 724.6L321.8 723.3L327.3 719.9L327.0 721.0Z" fill="#b88923"/>
<path d="M332.7 711.0L333.3 710.6L338.7 708.5L338.1 708.8Z" fill="#e89039"/>
<path d="M365.7 707.3L374.4 709.2L379.4 707.8L370.7 705.8Z" fill="#f2913e"/>
<path d="M349.9 707.1L350.7 707.1L355.9 705.6L355.1 705.6Z" fill="#f39243"/>
<path d="M481.2 721.4L490.3 724.0L494.0 722.2L485.0 719.6Z" fill="#bc8a24"/>
<path d="M313.9 743.1L314.1 740.9L319.8 736.2L319.6 738.3Z" fill="#6d7f2f"/>
<path d="M307.4 763.7L307.5 760.9L313.2 755.6L313.1 758.3Z" fill="#116452"/>
<path d="M301.2 784.5L301.2 782.3L307.1 776.9L307.1 779.3Z" fill="#0a3f62"/>
<path d="M333.3 710.6L333.8 710.3L339.2 708.3L338.7 708.5Z" fill="#eb903a"/>
<path d="M350.7 707.1L351.5 707.2L356.8 705.7L355.9 705.6Z" fill="#f39244"/>
<path d="M321.8 723.3L322.1 722.1L327.7 718.8L327.3 719.9Z" fill="#be8a24"/>
<path d="M446.1 717.4L455.1 719.9L459.2 718.1L450.3 715.6Z" fill="#cd8c2a"/>
<path d="M333.8 710.3L334.3 710.0L339.8 708.0L339.2 708.3Z" fill="#ed903b"/>
<path d="M351.5 707.2L352.4 707.3L357.6 705.9L356.8 705.7Z" fill="#f39345"/>
<path d="M388.1 710.0L396.9 712.2L401.7 710.8L392.9 708.5Z" fill="#e99039"/>
<path d="M322.1 722.1L322.4 721.1L328.0 717.8L327.7 718.8Z" fill="#c48a25"/>
<path d="M314.1 740.9L314.3 738.8L320.0 734.2L319.8 736.2Z" fill="#798229"/>
<path d="M334.3 710.0L334.9 709.8L340.3 707.8L339.8 708.0Z" fill="#ef913c"/>
<path d="M301.2 782.3L301.2 779.8L307.1 774.4L307.1 776.9Z" fill="#0a4661"/>
<path d="M352.4 707.3L353.2 707.4L358.5 706.0L357.6 705.9Z" fill="#f39346"/>
<path d="M307.5 760.9L307.6 758.2L313.3 752.9L313.2 755.6Z" fill="#1a694d"/>
<path d="M334.9 709.8L335.5 709.5L340.9 707.6L340.3 707.8Z" fill="#f1913d"/>
<path d="M322.4 721.1L322.8 720.0L328.4 716.9L328.0 717.8Z" fill="#c98b28"/>
<path d="M353.2 707.4L354.1 707.5L359.3 706.1L358.5 706.0Z" fill="#f39347"/>
<path d="M335.5 709.5L336.1 709.3L341.5 707.5L340.9 707.6Z" fill="#f2913e"/>
<path d="M410.5 713.2L419.4 715.6L423.9 714.0L415.1 711.6Z" fill="#e08e34"/>
<path d="M314.3 738.8L314.5 736.7L320.2 732.3L320.0 734.2Z" fill="#858424"/>
<path d="M503.1 724.7L512.2 727.3L515.8 725.5L506.6 722.9Z" fill="#b48923"/>
<path d="M354.1 707.5L355.0 707.7L360.2 706.2L359.3 706.1Z" fill="#f39348"/>
<path d="M468.2 720.7L477.3 723.2L481.2 721.4L472.2 718.9Z" fill="#c58a25"/>
<path d="M322.8 720.0L323.2 719.1L328.7 716.1L328.4 716.9Z" fill="#ce8c2b"/>
<path d="M301.2 779.8L301.3 777.3L307.2 771.8L307.1 774.4Z" fill="#0b4c61"/>
<path d="M336.1 709.3L336.7 709.1L342.1 707.4L341.5 707.5Z" fill="#f29241"/>
<path d="M307.6 758.2L307.7 755.6L313.5 750.3L313.3 752.9Z" fill="#2c6e47"/>
<path d="M355.0 707.7L355.9 707.8L361.1 706.4L360.2 706.2Z" fill="#f39349"/>
<path d="M336.7 709.1L337.3 709.0L342.7 707.2L342.1 707.4Z" fill="#f39243"/>
<path d="M323.2 719.1L323.5 718.2L329.1 715.3L328.7 716.1Z" fill="#d38c2d"/>
<path d="M314.5 736.7L314.7 734.8L320.4 730.6L320.2 732.3Z" fill="#908620"/>
<path d="M355.9 707.8L356.8 707.9L362.0 706.6L361.1 706.4Z" fill="#f39449"/>
<path d="M432.8 716.5L441.8 719.0L446.1 717.4L437.2 714.9Z" fill="#d68d2f"/>
<path d="M337.3 709.0L338.0 708.9L343.4 707.2L342.7 707.2Z" fill="#f39345"/>
<path d="M323.5 718.2L323.9 717.4L329.5 714.6L329.1 715.3Z" fill="#d78d30"/>
<path d="M301.3 777.3L301.3 774.6L307.2 769.2L307.2 771.8Z" fill="#0b5360"/>
<path d="M338.0 708.9L338.6 708.7L344.1 707.1L343.4 707.2Z" fill="#f39347"/>
<path d="M307.7 755.6L307.8 753.0L313.6 747.8L313.5 750.3Z" fill="#3e7341"/>
<path d="M314.7 734.8L315.0 733.1L320.6 728.9L320.4 730.6Z" fill="#998721"/>
<path d="M323.9 717.4L324.4 716.6L329.9 714.0L329.5 714.6Z" fill="#db8e32"/>
<path d="M374.4 709.2L383.2 711.3L388.1 710.0L379.4 707.8Z" fill="#f29240"/>
<path d="M338.6 708.7L339.3 708.6L344.7 707.0L344.1 707.1Z" fill="#f39349"/>
<path d="M490.3 724.0L499.4 726.5L503.1 724.7L494.0 722.2Z" fill="#bc8a24"/>
<path d="M356.8 707.9L360.5 708.6L365.7 707.3L362.0 706.6Z" fill="#f3944b"/>
<path d="M324.4 716.6L324.8 715.9L330.4 713.4L329.9 714.0Z" fill="#df8e34"/>
<path d="M339.3 708.6L340.0 708.6L345.4 707.0L344.7 707.0Z" fill="#f3944a"/>
<path d="M301.3 774.6L301.4 771.9L307.3 766.4L307.2 769.2Z" fill="#0c595d"/>
<path d="M315.0 733.1L315.2 731.4L320.9 727.4L320.6 728.9Z" fill="#a38822"/>
<path d="M455.1 719.9L464.1 722.4L468.2 720.7L459.2 718.1Z" fill="#cd8c2a"/>
<path d="M307.8 753.0L307.9 750.5L313.8 745.4L313.6 747.8Z" fill="#4f783c"/>
<path d="M324.8 715.9L325.2 715.3L330.8 712.8L330.4 713.4Z" fill="#e38f36"/>
<path d="M340.0 708.6L340.7 708.5L346.1 707.0L345.4 707.0Z" fill="#f3944c"/>
<path d="M396.9 712.2L405.8 714.6L410.5 713.2L401.7 710.8Z" fill="#ea903a"/>
<path d="M340.7 708.5L341.5 708.5L346.9 707.0L346.1 707.0Z" fill="#f4954e"/>
<path d="M315.2 731.4L315.5 729.8L321.2 725.9L320.9 727.4Z" fill="#ab8822"/>
<path d="M325.2 715.3L325.7 714.7L331.3 712.3L330.8 712.8Z" fill="#e68f38"/>
<path d="M301.4 771.9L301.4 769.2L307.4 763.7L307.3 766.4Z" fill="#0e5e58"/>
<path d="M341.5 708.5L342.2 708.4L347.6 707.0L346.9 707.0Z" fill="#f4954f"/>
<path d="M307.9 750.5L308.1 748.0L313.9 743.1L313.8 745.4Z" fill="#5e7c36"/>
<path d="M325.7 714.7L326.2 714.1L331.7 711.8L331.3 712.3Z" fill="#ea9039"/>
<path d="M419.4 715.6L428.3 718.1L432.8 716.5L423.9 714.0Z" fill="#e08e34"/>
<path d="M315.5 729.8L315.8 728.3L321.5 724.6L321.2 725.9Z" fill="#b48923"/>
<path d="M342.2 708.4L343.0 708.4L348.4 707.0L347.6 707.0Z" fill="#f49550"/>
<path d="M477.3 723.2L486.4 725.8L490.3 724.0L481.2 721.4Z" fill="#c58a25"/>
<path d="M326.2 714.1L326.7 713.6L332.2 711.4L331.7 711.8Z" fill="#ed903b"/>
<path d="M343.0 708.4L343.7 708.4L349.1 707.0L348.4 707.0Z" fill="#f49652"/>
<path d="M326.7 713.6L327.2 713.1L332.7 711.0L332.2 711.4Z" fill="#ef913d"/>
<path d="M315.8 728.3L316.1 726.9L321.8 723.3L321.5 724.6Z" fill="#bb8a24"/>
<path d="M308.1 748.0L308.3 745.7L314.1 740.9L313.9 743.1Z" fill="#6b7f30"/>
<path d="M301.4 769.2L301.5 766.4L307.5 760.9L307.4 763.7Z" fill="#106353"/>
<path d="M343.7 708.4L344.5 708.5L349.9 707.1L349.1 707.0Z" fill="#f49653"/>
<path d="M441.8 719.0L450.8 721.5L455.1 719.9L446.1 717.4Z" fill="#d68d2f"/>
<path d="M327.2 713.1L327.7 712.7L333.3 710.6L332.7 711.0Z" fill="#f2913e"/>
<path d="M360.5 708.6L369.2 710.4L374.4 709.2L365.7 707.3Z" fill="#f4954f"/>
<path d="M344.5 708.5L345.3 708.5L350.7 707.1L349.9 707.1Z" fill="#f49654"/>
<path d="M316.1 726.9L316.4 725.6L322.1 722.1L321.8 723.3Z" fill="#c38a24"/>
<path d="M327.7 712.7L328.2 712.3L333.8 710.3L333.3 710.6Z" fill="#f29242"/>
<path d="M308.3 745.7L308.5 743.4L314.3 738.8L314.1 740.9Z" fill="#78822a"/>
<path d="M345.3 708.5L346.2 708.6L351.5 707.2L350.7 707.1Z" fill="#f49656"/>
<path d="M301.5 766.4L301.6 763.7L307.6 758.2L307.5 760.9Z" fill="#15684e"/>
<path d="M499.4 726.5L508.6 729.1L512.2 727.3L503.1 724.7Z" fill="#bc8a24"/>
<path d="M383.2 711.3L392.0 713.5L396.9 712.2L388.1 710.0Z" fill="#f29243"/>
<path d="M328.2 712.3L328.8 712.0L334.3 710.0L333.8 710.3Z" fill="#f39345"/>
<path d="M316.4 725.6L316.7 724.3L322.4 721.1L322.1 722.1Z" fill="#c98b28"/>
<path d="M346.2 708.6L347.0 708.6L352.4 707.3L351.5 707.2Z" fill="#f59757"/>
<path d="M464.1 722.4L473.2 724.9L477.3 723.2L468.2 720.7Z" fill="#cd8c2a"/>
<path d="M328.8 712.0L329.3 711.6L334.9 709.8L334.3 710.0Z" fill="#f39348"/>
<path d="M308.5 743.4L308.7 741.3L314.5 736.7L314.3 738.8Z" fill="#848424"/>
<path d="M316.7 724.3L317.1 723.2L322.8 720.0L322.4 721.1Z" fill="#cf8c2b"/>
<path d="M347.0 708.6L347.9 708.7L353.2 707.4L352.4 707.3Z" fill="#f59758"/>
<path d="M405.8 714.6L414.7 717.0L419.4 715.6L410.5 713.2Z" fill="#eb903a"/>
<path d="M329.3 711.6L329.9 711.3L335.5 709.5L334.9 709.8Z" fill="#f3944b"/>
<path d="M301.6 763.7L301.7 760.9L307.7 755.6L307.6 758.2Z" fill="#276d48"/>
<path d="M347.9 708.7L348.7 708.8L354.1 707.5L353.2 707.4Z" fill="#f59759"/>
<path d="M317.1 723.2L317.4 722.1L323.2 719.1L322.8 720.0Z" fill="#d48d2e"/>
<path d="M329.9 711.3L330.5 711.1L336.1 709.3L335.5 709.5Z" fill="#f4954e"/>
<path d="M348.7 708.8L349.6 708.9L355.0 707.7L354.1 707.5Z" fill="#f5975a"/>
<path d="M308.7 741.3L308.9 739.2L314.7 734.8L314.5 736.7Z" fill="#908620"/>
<path d="M330.5 711.1L331.1 710.8L336.7 709.1L336.1 709.3Z" fill="#f49550"/>
<path d="M428.3 718.1L437.3 720.6L441.8 719.0L432.8 716.5Z" fill="#e18e35"/>
<path d="M317.4 722.1L317.8 721.1L323.5 718.2L323.2 719.1Z" fill="#d98d31"/>
<path d="M486.4 725.8L495.5 728.3L499.4 726.5L490.3 724.0Z" fill="#c58a26"/>
<path d="M349.6 708.9L350.5 709.0L355.9 707.8L355.0 707.7Z" fill="#f5985b"/>
<path d="M301.7 760.9L301.9 758.2L307.8 753.0L307.7 755.6Z" fill="#3a7243"/>
<path d="M331.1 710.8L331.8 710.6L337.3 709.0L336.7 709.1Z" fill="#f49653"/>
<path d="M317.8 721.1L318.2 720.2L323.9 717.4L323.5 718.2Z" fill="#de8e33"/>
<path d="M308.9 739.2L309.1 737.3L315.0 733.1L314.7 734.8Z" fill="#9a8721"/>
<path d="M350.5 709.0L351.5 709.1L356.8 707.9L355.9 707.8Z" fill="#f5985c"/>
<path d="M331.8 710.6L332.4 710.4L338.0 708.9L337.3 709.0Z" fill="#f49655"/>
<path d="M450.8 721.5L459.8 724.1L464.1 722.4L455.1 719.9Z" fill="#d78d2f"/>
<path d="M318.2 720.2L318.6 719.3L324.4 716.6L323.9 717.4Z" fill="#e38f36"/>
<path d="M332.4 710.4L333.1 710.3L338.6 708.7L338.0 708.9Z" fill="#f59757"/>
<path d="M369.2 710.4L378.0 712.5L383.2 711.3L374.4 709.2Z" fill="#f49652"/>
<path d="M301.9 758.2L302.0 755.6L307.9 750.5L307.8 753.0Z" fill="#4b773d"/>
<path d="M309.1 737.3L309.4 735.4L315.2 731.4L315.0 733.1Z" fill="#a48822"/>
<path d="M333.1 710.3L333.8 710.1L339.3 708.6L338.6 708.7Z" fill="#f59759"/>
<path d="M318.6 719.3L319.1 718.5L324.8 715.9L324.4 716.6Z" fill="#e78f38"/>
<path d="M351.5 709.1L355.1 709.7L360.5 708.6L356.8 707.9Z" fill="#f5985d"/>
<path d="M333.8 710.1L334.5 710.0L340.0 708.6L339.3 708.6Z" fill="#f5985b"/>
<path d="M392.0 713.5L400.9 715.9L405.8 714.6L396.9 712.2Z" fill="#f39244"/>
<path d="M319.1 718.5L319.5 717.7L325.2 715.3L324.8 715.9Z" fill="#eb903a"/>
<path d="M309.4 735.4L309.6 733.7L315.5 729.8L315.2 731.4Z" fill="#ae8822"/>
<path d="M334.5 710.0L335.2 709.9L340.7 708.5L340.0 708.6Z" fill="#f5985d"/>
<path d="M473.2 724.9L482.3 727.5L486.4 725.8L477.3 723.2Z" fill="#cd8c2a"/>
<path d="M302.0 755.6L302.1 753.1L308.1 748.0L307.9 750.5Z" fill="#5b7b37"/>
<path d="M319.5 717.7L320.0 717.0L325.7 714.7L325.2 715.3Z" fill="#ef913c"/>
<path d="M335.2 709.9L335.9 709.8L341.5 708.5L340.7 708.5Z" fill="#f6995f"/>
<path d="M414.7 717.0L423.6 719.5L428.3 718.1L419.4 715.6Z" fill="#eb903a"/>
<path d="M309.6 733.7L309.9 732.1L315.8 728.3L315.5 729.8Z" fill="#b78923"/>
<path d="M320.0 717.0L320.4 716.4L326.2 714.1L325.7 714.7Z" fill="#f2913f"/>
<path d="M335.9 709.8L336.6 709.8L342.2 708.4L341.5 708.5Z" fill="#f69961"/>
<path d="M302.1 753.1L302.3 750.6L308.3 745.7L308.1 748.0Z" fill="#697e31"/>
<path d="M320.4 716.4L320.9 715.8L326.7 713.6L326.2 714.1Z" fill="#f39244"/>
<path d="M336.6 709.8L337.4 709.7L343.0 708.4L342.2 708.4Z" fill="#f69963"/>
<path d="M309.9 732.1L310.2 730.5L316.1 726.9L315.8 728.3Z" fill="#bf8a24"/>
<path d="M437.3 720.6L446.3 723.1L450.8 721.5L441.8 719.0Z" fill="#e18f35"/>
<path d="M495.5 728.3L504.7 730.9L508.6 729.1L499.4 726.5Z" fill="#c58a26"/>
<path d="M337.4 709.7L338.2 709.7L343.7 708.4L343.0 708.4Z" fill="#f69a64"/>
<path d="M320.9 715.8L321.4 715.2L327.2 713.1L326.7 713.6Z" fill="#f39348"/>
<path d="M310.2 730.5L310.5 729.0L316.4 725.6L316.1 726.9Z" fill="#c78b27"/>
<path d="M302.3 750.6L302.5 748.2L308.5 743.4L308.3 745.7Z" fill="#77812a"/>
<path d="M338.2 709.7L339.0 709.7L344.5 708.5L343.7 708.4Z" fill="#f69a66"/>
<path d="M321.4 715.2L321.9 714.7L327.7 712.7L327.2 713.1Z" fill="#f4944c"/>
<path d="M355.1 709.7L363.9 711.4L369.2 710.4L360.5 708.6Z" fill="#f69962"/>
<path d="M459.8 724.1L469.0 726.6L473.2 724.9L464.1 722.4Z" fill="#d78d2f"/>
<path d="M339.0 709.7L339.8 709.7L345.3 708.5L344.5 708.5Z" fill="#f69a67"/>
<path d="M321.9 714.7L322.5 714.2L328.2 712.3L327.7 712.7Z" fill="#f49550"/>
<path d="M310.5 729.0L310.9 727.7L316.7 724.3L316.4 725.6Z" fill="#ce8c2a"/>
<path d="M378.0 712.5L386.9 714.7L392.0 713.5L383.2 711.3Z" fill="#f49655"/>
<path d="M339.8 709.7L340.6 709.7L346.2 708.6L345.3 708.5Z" fill="#f69b68"/>
<path d="M302.5 748.2L302.7 745.9L308.7 741.3L308.5 743.4Z" fill="#848424"/>
<path d="M322.5 714.2L323.0 713.8L328.8 712.0L328.2 712.3Z" fill="#f49654"/>
<path d="M310.9 727.7L311.2 726.4L317.1 723.2L316.7 724.3Z" fill="#d48d2e"/>
<path d="M340.6 709.7L341.5 709.7L347.0 708.6L346.2 708.6Z" fill="#f79b6a"/>
<path d="M400.9 715.9L409.8 718.3L414.7 717.0L405.8 714.6Z" fill="#f39345"/>
<path d="M323.0 713.8L323.6 713.4L329.3 711.6L328.8 712.0Z" fill="#f59758"/>
<path d="M482.3 727.5L491.5 730.1L495.5 728.3L486.4 725.8Z" fill="#ce8c2a"/>
<path d="M341.5 709.7L342.3 709.8L347.9 708.7L347.0 708.6Z" fill="#f79b6b"/>
<path d="M302.7 745.9L302.9 743.7L308.9 739.2L308.7 741.3Z" fill="#908620"/>
<path d="M323.6 713.4L324.2 713.0L329.9 711.3L329.3 711.6Z" fill="#f5985b"/>
<path d="M311.2 726.4L311.6 725.1L317.4 722.1L317.1 723.2Z" fill="#da8e31"/>
<path d="M423.6 719.5L432.7 722.0L437.3 720.6L428.3 718.1Z" fill="#ec903b"/>
<path d="M342.3 709.8L343.2 709.8L348.7 708.8L347.9 708.7Z" fill="#f79b6c"/>
<path d="M324.2 713.0L324.8 712.7L330.5 711.1L329.9 711.3Z" fill="#f5985e"/>
<path d="M311.6 725.1L311.9 724.0L317.8 721.1L317.4 722.1Z" fill="#e08e34"/>
<path d="M343.2 709.8L344.1 709.9L349.6 708.9L348.7 708.8Z" fill="#f79c6d"/>
<path d="M324.8 712.7L325.4 712.4L331.1 710.8L330.5 711.1Z" fill="#f69961"/>
<path d="M302.9 743.7L303.1 741.6L309.1 737.3L308.9 739.2Z" fill="#9b8721"/>
<path d="M446.3 723.1L455.4 725.6L459.8 724.1L450.8 721.5Z" fill="#e18f35"/>
<path d="M344.1 709.9L345.0 710.0L350.5 709.0L349.6 708.9Z" fill="#f79c6e"/>
<path d="M311.9 724.0L312.3 722.9L318.2 720.2L317.8 721.1Z" fill="#e68f37"/>
<path d="M325.4 712.4L326.0 712.1L331.8 710.6L331.1 710.8Z" fill="#f69a64"/>
<path d="M345.0 710.0L345.9 710.1L351.5 709.1L350.5 709.0Z" fill="#f79c6f"/>
<path d="M326.0 712.1L326.7 711.8L332.4 710.4L331.8 710.6Z" fill="#f69a67"/>
<path d="M303.1 741.6L303.4 739.6L309.4 735.4L309.1 737.3Z" fill="#a68822"/>
<path d="M312.3 722.9L312.7 721.9L318.6 719.3L318.2 720.2Z" fill="#eb903a"/>
<path d="M326.7 711.8L327.3 711.6L333.1 710.3L332.4 710.4Z" fill="#f79b69"/>
<path d="M363.9 711.4L372.8 713.4L378.0 712.5L369.2 710.4Z" fill="#f69a66"/>
<path d="M469.0 726.6L478.1 729.2L482.3 727.5L473.2 724.9Z" fill="#d78d2f"/>
<path d="M312.7 721.9L313.2 721.0L319.1 718.5L318.6 719.3Z" fill="#f0913d"/>
<path d="M327.3 711.6L328.0 711.4L333.8 710.1L333.1 710.3Z" fill="#f79b6c"/>
<path d="M303.4 739.6L303.6 737.7L309.6 733.7L309.4 735.4Z" fill="#b08923"/>
<path d="M345.9 710.1L349.6 710.6L355.1 709.7L351.5 709.1Z" fill="#f79d72"/>
<path d="M386.9 714.7L395.8 717.0L400.9 715.9L392.0 713.5Z" fill="#f59756"/>
<path d="M313.2 721.0L313.6 720.1L319.5 717.7L319.1 718.5Z" fill="#f29241"/>
<path d="M328.0 711.4L328.7 711.3L334.5 710.0L333.8 710.1Z" fill="#f79c6e"/>
<path d="M409.8 718.3L418.8 720.8L423.6 719.5L414.7 717.0Z" fill="#f39346"/>
<path d="M303.6 737.7L303.9 735.9L309.9 732.1L309.6 733.7Z" fill="#ba8923"/>
<path d="M328.7 711.3L329.4 711.1L335.2 709.9L334.5 710.0Z" fill="#f79c70"/>
<path d="M313.6 720.1L314.1 719.3L320.0 717.0L319.5 717.7Z" fill="#f39347"/>
<path d="M491.5 730.1L500.8 732.7L504.7 730.9L495.5 728.3Z" fill="#ce8c2a"/>
<path d="M329.4 711.1L330.2 711.0L335.9 709.8L335.2 709.9Z" fill="#f89d72"/>
<path d="M314.1 719.3L314.5 718.5L320.4 716.4L320.0 717.0Z" fill="#f4944d"/>
<path d="M432.7 722.0L441.7 724.5L446.3 723.1L437.3 720.6Z" fill="#ec903b"/>
<path d="M303.9 735.9L304.2 734.2L310.2 730.5L309.9 732.1Z" fill="#c38a25"/>
<path d="M330.2 711.0L330.9 710.9L336.6 709.8L335.9 709.8Z" fill="#f89d74"/>
<path d="M314.5 718.5L315.0 717.8L320.9 715.8L320.4 716.4Z" fill="#f49652"/>
<path d="M330.9 710.9L331.7 710.8L337.4 709.7L336.6 709.8Z" fill="#f89e76"/>
<path d="M455.4 725.6L464.6 728.2L469.0 726.6L459.8 724.1Z" fill="#e18f35"/>
<path d="M304.2 734.2L304.5 732.6L310.5 729.0L310.2 730.5Z" fill="#cb8b29"/>
<path d="M315.0 717.8L315.5 717.2L321.4 715.2L320.9 715.8Z" fill="#f59757"/>
<path d="M331.7 710.8L332.5 710.7L338.2 709.7L337.4 709.7Z" fill="#f89e78"/>
<path d="M315.5 717.2L316.0 716.6L321.9 714.7L321.4 715.2Z" fill="#f5985c"/>
<path d="M332.5 710.7L333.3 710.7L339.0 709.7L338.2 709.7Z" fill="#f89f7a"/>
<path d="M349.6 710.6L358.4 712.2L363.9 711.4L355.1 709.7Z" fill="#f89e76"/>
<path d="M304.5 732.6L304.8 731.0L310.9 727.7L310.5 729.0Z" fill="#d38c2d"/>
<path d="M316.0 716.6L316.6 716.0L322.5 714.2L321.9 714.7Z" fill="#f69960"/>
<path d="M478.1 729.2L487.3 731.8L491.5 730.1L482.3 727.5Z" fill="#d78d2f"/>
<path d="M333.3 710.7L334.1 710.6L339.8 709.7L339.0 709.7Z" fill="#f99f7c"/>
<path d="M372.8 713.4L381.7 715.6L386.9 714.7L378.0 712.5Z" fill="#f79b69"/>
<path d="M304.8 731.0L305.2 729.6L311.2 726.4L310.9 727.7Z" fill="#da8d31"/>
<path d="M316.6 716.0L317.1 715.5L323.0 713.8L322.5 714.2Z" fill="#f69a65"/>
<path d="M334.1 710.6L334.9 710.6L340.6 709.7L339.8 709.7Z" fill="#f99f7d"/>
<path d="M395.8 717.0L404.8 719.4L409.8 718.3L400.9 715.9Z" fill="#f59758"/>
<path d="M334.9 710.6L335.7 710.6L341.5 709.7L340.6 709.7Z" fill="#f9a07f"/>
<path d="M317.1 715.5L317.7 715.0L323.6 713.4L323.0 713.8Z" fill="#f79b69"/>
<path d="M305.2 729.6L305.5 728.2L311.6 725.1L311.2 726.4Z" fill="#e18e35"/>
<path d="M418.8 720.8L427.9 723.3L432.7 722.0L423.6 719.5Z" fill="#f39347"/>
<path d="M335.7 710.6L336.6 710.6L342.3 709.8L341.5 709.7Z" fill="#f9a080"/>
<path d="M317.7 715.0L318.3 714.5L324.2 713.0L323.6 713.4Z" fill="#f79c6d"/>
<path d="M305.5 728.2L305.9 726.9L311.9 724.0L311.6 725.1Z" fill="#e78f38"/>
<path d="M441.7 724.5L450.9 727.1L455.4 725.6L446.3 723.1Z" fill="#ed903b"/>
<path d="M336.6 710.6L337.5 710.7L343.2 709.8L342.3 709.8Z" fill="#f9a082"/>
<path d="M318.3 714.5L318.9 714.1L324.8 712.7L324.2 713.0Z" fill="#f79c70"/>
<path d="M337.5 710.7L338.4 710.7L344.1 709.9L343.2 709.8Z" fill="#f9a183"/>
<path d="M318.9 714.1L319.5 713.7L325.4 712.4L324.8 712.7Z" fill="#f89d74"/>
<path d="M305.9 726.9L306.3 725.7L312.3 722.9L311.9 724.0Z" fill="#ed903b"/>
<path d="M464.6 728.2L473.8 730.8L478.1 729.2L469.0 726.6Z" fill="#e28f35"/>
<path d="M338.4 710.7L339.3 710.8L345.0 710.0L344.1 709.9Z" fill="#f9a184"/>
<path d="M319.5 713.7L320.1 713.4L326.0 712.1L325.4 712.4Z" fill="#f89e77"/>
<path d="M306.3 725.7L306.7 724.6L312.7 721.9L312.3 722.9Z" fill="#f2913f"/>
<path d="M339.3 710.8L340.2 710.8L345.9 710.1L345.0 710.0Z" fill="#f9a286"/>
<path d="M320.1 713.4L320.8 713.1L326.7 711.8L326.0 712.1Z" fill="#f89f7a"/>
<path d="M306.7 724.6L307.1 723.5L313.2 721.0L312.7 721.9Z" fill="#f39347"/>
<path d="M358.4 712.2L367.3 714.1L372.8 713.4L363.9 711.4Z" fill="#f99f7b"/>
<path d="M320.8 713.1L321.4 712.8L327.3 711.6L326.7 711.8Z" fill="#f99f7d"/>
<path d="M487.3 731.8L496.6 734.4L500.8 732.7L491.5 730.1Z" fill="#d78d30"/>
<path d="M381.7 715.6L390.6 717.9L395.8 717.0L386.9 714.7Z" fill="#f79b6b"/>
<path d="M321.4 712.8L322.1 712.5L328.0 711.4L327.3 711.6Z" fill="#f9a080"/>
<path d="M307.1 723.5L307.5 722.5L313.6 720.1L313.2 721.0Z" fill="#f4954e"/>
<path d="M340.2 710.8L343.9 711.2L349.6 710.6L345.9 710.1Z" fill="#f9a288"/>
<path d="M404.8 719.4L413.8 721.9L418.8 720.8L409.8 718.3Z" fill="#f59759"/>
<path d="M322.1 712.5L322.8 712.3L328.7 711.3L328.0 711.4Z" fill="#f9a183"/>
<path d="M307.5 722.5L308.0 721.5L314.1 719.3L313.6 720.1Z" fill="#f49655"/>
<path d="M427.9 723.3L437.0 725.8L441.7 724.5L432.7 722.0Z" fill="#f39347"/>
<path d="M322.8 712.3L323.5 712.1L329.4 711.1L328.7 711.3Z" fill="#f9a285"/>
<path d="M308.0 721.5L308.5 720.6L314.5 718.5L314.1 719.3Z" fill="#f5985b"/>
<path d="M323.5 712.1L324.3 711.9L330.2 711.0L329.4 711.1Z" fill="#f9a288"/>
<path d="M450.9 727.1L460.0 729.7L464.6 728.2L455.4 725.6Z" fill="#ed903b"/>
<path d="M308.5 720.6L309.0 719.8L315.0 717.8L314.5 718.5Z" fill="#f69961"/>
<path d="M324.3 711.9L325.0 711.7L330.9 710.9L330.2 711.0Z" fill="#f9a38a"/>
<path d="M325.0 711.7L325.8 711.6L331.7 710.8L330.9 710.9Z" fill="#f9a48d"/>
<path d="M473.8 730.8L483.0 733.4L487.3 731.8L478.1 729.2Z" fill="#e28f35"/>
<path d="M309.0 719.8L309.5 719.0L315.5 717.2L315.0 717.8Z" fill="#f69a67"/>
<path d="M325.8 711.6L326.6 711.5L332.5 710.7L331.7 710.8Z" fill="#f9a48f"/>
<path d="M309.5 719.0L310.0 718.3L316.0 716.6L315.5 717.2Z" fill="#f79c6d"/>
<path d="M343.9 711.2L352.8 712.6L358.4 712.2L349.6 710.6Z" fill="#f9a48e"/>
<path d="M326.6 711.5L327.4 711.4L333.3 710.7L332.5 710.7Z" fill="#f9a591"/>
<path d="M310.0 718.3L310.5 717.6L316.6 716.0L316.0 716.6Z" fill="#f79d72"/>
<path d="M367.3 714.1L376.3 716.2L381.7 715.6L372.8 713.4Z" fill="#f9a07f"/>
<path d="M327.4 711.4L328.2 711.3L334.1 710.6L333.3 710.7Z" fill="#f9a693"/>
<path d="M390.6 717.9L399.6 720.3L404.8 719.4L395.8 717.0Z" fill="#f79c6c"/>
<path d="M310.5 717.6L311.1 717.0L317.1 715.5L316.6 716.0Z" fill="#f89e77"/>
<path d="M413.8 721.9L422.9 724.4L427.9 723.3L418.8 720.8Z" fill="#f5975a"/>
<path d="M328.2 711.3L329.0 711.2L334.9 710.6L334.1 710.6Z" fill="#f9a695"/>
<path d="M311.1 717.0L311.6 716.4L317.7 715.0L317.1 715.5Z" fill="#f89f7b"/>
<path d="M437.0 725.8L446.1 728.4L450.9 727.1L441.7 724.5Z" fill="#f39348"/>
<path d="M329.0 711.2L329.9 711.2L335.7 710.6L334.9 710.6Z" fill="#f9a797"/>
<path d="M311.6 716.4L312.2 715.9L318.3 714.5L317.7 715.0Z" fill="#f9a080"/>
<path d="M329.9 711.2L330.7 711.2L336.6 710.6L335.7 710.6Z" fill="#f9a798"/>
<path d="M460.0 729.7L469.3 732.3L473.8 730.8L464.6 728.2Z" fill="#ed903b"/>
<path d="M312.2 715.9L312.8 715.4L318.9 714.1L318.3 714.5Z" fill="#f9a184"/>
<path d="M330.7 711.2L331.6 711.2L337.5 710.7L336.6 710.6Z" fill="#f9a89a"/>
<path d="M312.8 715.4L313.4 714.9L319.5 713.7L318.9 714.1Z" fill="#f9a288"/>
<path d="M331.6 711.2L332.5 711.2L338.4 710.7L337.5 710.7Z" fill="#f9a89c"/>
<path d="M483.0 733.4L492.4 736.1L496.6 734.4L487.3 731.8Z" fill="#e28f35"/>
<path d="M313.4 714.9L314.1 714.5L320.1 713.4L319.5 713.7Z" fill="#f9a48c"/>
<path d="M332.5 711.2L333.4 711.2L339.3 710.8L338.4 710.7Z" fill="#f9a99d"/>
<path d="M314.1 714.5L314.7 714.1L320.8 713.1L320.1 713.4Z" fill="#f9a590"/>
<path d="M333.4 711.2L334.4 711.2L340.2 710.8L339.3 710.8Z" fill="#f9a99f"/>
<path d="M352.8 712.6L361.7 714.4L367.3 714.1L358.4 712.2Z" fill="#f9a694"/>
<path d="M314.7 714.1L315.4 713.7L321.4 712.8L320.8 713.1Z" fill="#f9a693"/>
<path d="M376.3 716.2L385.3 718.5L390.6 717.9L381.7 715.6Z" fill="#f9a081"/>
<path d="M399.6 720.3L408.7 722.7L413.8 721.9L404.8 719.4Z" fill="#f79c6e"/>
<path d="M315.4 713.7L316.1 713.3L322.1 712.5L321.4 712.8Z" fill="#f9a797"/>
<path d="M422.9 724.4L432.1 726.9L437.0 725.8L427.9 723.3Z" fill="#f5975a"/>
<path d="M334.4 711.2L338.1 711.5L343.9 711.2L340.2 710.8Z" fill="#f9aaa2"/>
<path d="M316.1 713.3L316.8 713.0L322.8 712.3L322.1 712.5Z" fill="#f9a89a"/>
<path d="M446.1 728.4L455.4 731.0L460.0 729.7L450.9 727.1Z" fill="#f39348"/>
<path d="M316.8 713.0L317.5 712.8L323.5 712.1L322.8 712.3Z" fill="#f9a99d"/>
<path d="M469.3 732.3L478.6 734.9L483.0 733.4L473.8 730.8Z" fill="#ed903b"/>
<path d="M317.5 712.8L318.2 712.5L324.3 711.9L323.5 712.1Z" fill="#f9a9a0"/>
<path d="M318.2 712.5L319.0 712.3L325.0 711.7L324.3 711.9Z" fill="#f8aaa3"/>
<path d="M319.0 712.3L319.7 712.1L325.8 711.6L325.0 711.7Z" fill="#f8aba5"/>
<path d="M319.7 712.1L320.5 711.9L326.6 711.5L325.8 711.6Z" fill="#f8aca8"/>
<path d="M338.1 711.5L347.0 712.7L352.8 712.6L343.9 711.2Z" fill="#f8aca9"/>
<path d="M320.5 711.9L321.3 711.7L327.4 711.4L326.6 711.5Z" fill="#f8acaa"/>
<path d="M361.7 714.4L370.7 716.5L376.3 716.2L367.3 714.1Z" fill="#f9a798"/>
<path d="M385.3 718.5L394.3 720.8L399.6 720.3L390.6 717.9Z" fill="#f9a183"/>
<path d="M408.7 722.7L417.8 725.2L422.9 724.4L413.8 721.9Z" fill="#f79c6f"/>
<path d="M321.3 711.7L322.1 711.6L328.2 711.3L327.4 711.4Z" fill="#f8adad"/>
<path d="M432.1 726.9L441.3 729.5L446.1 728.4L437.0 725.8Z" fill="#f5985b"/>
<path d="M322.1 711.6L323.0 711.5L329.0 711.2L328.2 711.3Z" fill="#f8aeaf"/>
<path d="M455.4 731.0L464.6 733.6L469.3 732.3L460.0 729.7Z" fill="#f39349"/>
<path d="M323.0 711.5L323.8 711.4L329.9 711.2L329.0 711.2Z" fill="#f8aeb1"/>
<path d="M478.6 734.9L487.9 737.6L492.4 736.1L483.0 733.4Z" fill="#ee903c"/>
<path d="M323.8 711.4L324.7 711.3L330.7 711.2L329.9 711.2Z" fill="#f8afb3"/>
<path d="M324.7 711.3L325.6 711.3L331.6 711.2L330.7 711.2Z" fill="#f8b0b5"/>
<path d="M325.6 711.3L326.5 711.2L332.5 711.2L331.6 711.2Z" fill="#f8b0b7"/>
<path d="M326.5 711.2L327.4 711.2L333.4 711.2L332.5 711.2Z" fill="#f8b1b9"/>
<path d="M327.4 711.2L328.3 711.2L334.4 711.2L333.4 711.2Z" fill="#f8b1bb"/>
<path d="M394.3 720.8L403.4 723.2L408.7 722.7L399.6 720.3Z" fill="#f9a185"/>
<path d="M370.7 716.5L379.7 718.7L385.3 718.5L376.3 716.2Z" fill="#f9a89b"/>
<path d="M417.8 725.2L427.0 727.7L432.1 726.9L422.9 724.4Z" fill="#f79c70"/>
<path d="M347.0 712.7L355.9 714.4L361.7 714.4L352.8 712.6Z" fill="#f8aeb0"/>
<path d="M441.3 729.5L450.5 732.1L455.4 731.0L446.1 728.4Z" fill="#f5985c"/>
<path d="M464.6 733.6L474.0 736.2L478.6 734.9L469.3 732.3Z" fill="#f39449"/>
<path d="M328.3 711.2L332.1 711.3L338.1 711.5L334.4 711.2Z" fill="#f8b2be"/>
<path d="M403.4 723.2L412.6 725.7L417.8 725.2L408.7 722.7Z" fill="#f9a286"/>
<path d="M427.0 727.7L436.3 730.3L441.3 729.5L432.1 726.9Z" fill="#f79c70"/>
<path d="M379.7 718.7L388.8 721.0L394.3 720.8L385.3 718.5Z" fill="#f9a99e"/>
<path d="M450.5 732.1L459.9 734.7L464.6 733.6L455.4 731.0Z" fill="#f5985c"/>
<path d="M355.9 714.4L365.0 716.3L370.7 716.5L361.7 714.4Z" fill="#f8afb5"/>
<path d="M332.1 711.3L341.0 712.3L347.0 712.7L338.1 711.5Z" fill="#f8b5c6"/>
<path d="M474.0 736.2L483.4 738.9L487.9 737.6L478.6 734.9Z" fill="#f39449"/>
<path d="M412.6 725.7L421.8 728.3L427.0 727.7L417.8 725.2Z" fill="#f9a287"/>
<path d="M436.3 730.3L445.6 732.9L450.5 732.1L441.3 729.5Z" fill="#f79d71"/>
<path d="M388.8 721.0L398.0 723.4L403.4 723.2L394.3 720.8Z" fill="#f9a99f"/>
<path d="M459.9 734.7L469.2 737.3L474.0 736.2L464.6 733.6Z" fill="#f5985c"/>
<path d="M365.0 716.3L374.0 718.5L379.7 718.7L370.7 716.5Z" fill="#f8b1b8"/>
<path d="M341.0 712.3L350.0 713.8L355.9 714.4L347.0 712.7Z" fill="#f8b8cc"/>
<path d="M421.8 728.3L431.1 730.8L436.3 730.3L427.0 727.7Z" fill="#f9a288"/>
<path d="M445.6 732.9L454.9 735.5L459.9 734.7L450.5 732.1Z" fill="#f79d71"/>
<path d="M398.0 723.4L407.2 725.9L412.6 725.7L403.4 723.2Z" fill="#f9aaa1"/>
<path d="M469.2 737.3L478.7 740.0L483.4 738.9L474.0 736.2Z" fill="#f5985d"/>
<path d="M374.0 718.5L383.2 720.7L388.8 721.0L379.7 718.7Z" fill="#f8b1bb"/>
<path d="M350.0 713.8L359.0 715.6L365.0 716.3L355.9 714.4Z" fill="#f8bad0"/>
<path d="M454.9 735.5L464.4 738.2L469.2 737.3L459.9 734.7Z" fill="#f79d72"/>
<path d="M431.1 730.8L440.5 733.4L445.6 732.9L436.3 730.3Z" fill="#f9a389"/>
<path d="M407.2 725.9L416.5 728.4L421.8 728.3L412.6 725.7Z" fill="#f8aaa2"/>
<path d="M383.2 720.7L392.4 723.1L398.0 723.4L388.8 721.0Z" fill="#f8b2bd"/>
<path d="M359.0 715.6L368.2 717.7L374.0 718.5L365.0 716.3Z" fill="#f7bbd3"/>
<path d="M464.4 738.2L473.8 740.9L478.7 740.0L469.2 737.3Z" fill="#f89d72"/>
<path d="M440.5 733.4L449.9 736.1L454.9 735.5L445.6 732.9Z" fill="#f9a389"/>
<path d="M416.5 728.4L425.8 731.0L431.1 730.8L421.8 728.3Z" fill="#f8aaa3"/>
<path d="M392.4 723.1L401.6 725.6L407.2 725.9L398.0 723.4Z" fill="#f8b2bf"/>
<path d="M368.2 717.7L377.4 719.9L383.2 720.7L374.0 718.5Z" fill="#f7bcd6"/>
<path d="M449.9 736.1L459.3 738.7L464.4 738.2L454.9 735.5Z" fill="#f9a38a"/>
<path d="M425.8 731.0L435.2 733.6L440.5 733.4L431.1 730.8Z" fill="#f8aba4"/>
<path d="M401.6 725.6L411.0 728.1L416.5 728.4L407.2 725.9Z" fill="#f8b3c0"/>
<path d="M377.4 719.9L386.6 722.2L392.4 723.1L383.2 720.7Z" fill="#f7bdd7"/>
<path d="M459.3 738.7L468.9 741.4L473.8 740.9L464.4 738.2Z" fill="#f9a38a"/>
<path d="M435.2 733.6L444.7 736.2L449.9 736.1L440.5 733.4Z" fill="#f8aba5"/>
<path d="M411.0 728.1L420.3 730.6L425.8 731.0L416.5 728.4Z" fill="#f8b3c1"/>
<path d="M386.6 722.2L395.9 724.6L401.6 725.6L392.4 723.1Z" fill="#f7bed9"/>
<path d="M444.7 736.2L454.2 738.9L459.3 738.7L449.9 736.1Z" fill="#f8aba5"/>
<path d="M420.3 730.6L429.8 733.2L435.2 733.6L425.8 731.0Z" fill="#f8b4c2"/>
<path d="M395.9 724.6L405.3 727.1L411.0 728.1L401.6 725.6Z" fill="#f7bfda"/>
<path d="M454.2 738.9L463.7 741.6L468.9 741.4L459.3 738.7Z" fill="#f8aba6"/>
<path d="M429.8 733.2L439.3 735.8L444.7 736.2L435.2 733.6Z" fill="#f8b4c3"/>
<path d="M405.3 727.1L414.7 729.6L420.3 730.6L411.0 728.1Z" fill="#f7bfdb"/>
<path d="M439.3 735.8L448.9 738.5L454.2 738.9L444.7 736.2Z" fill="#f8b4c4"/>
<path d="M414.7 729.6L424.2 732.2L429.8 733.2L420.3 730.6Z" fill="#f7c0dc"/>
<path d="M448.9 738.5L458.5 741.2L463.7 741.6L454.2 738.9Z" fill="#f8b4c5"/>
<path d="M424.2 732.2L433.8 734.8L439.3 735.8L429.8 733.2Z" fill="#f7c0dd"/>
<path d="M433.8 734.8L443.4 737.5L448.9 738.5L439.3 735.8Z" fill="#f7c0de"/>
<path d="M443.4 737.5L453.1 740.2L458.5 741.2L448.9 738.5Z" fill="#f7c1de"/>
</g>
<polyline points="299.3,800.0 449.1,849.3" fill="none" stroke="#c8c8c8" stroke-width="0.8"/>
<polyline points="453.3,848.3 533.7,768.1" fill="none" stroke="#c8c8c8" stroke-width="0.8"/>
<polyline points="301.2,798.4 450.9,847.6" fill="none" stroke="#444" stroke-width="0.8"/>
<polyline points="450.9,847.6 531.5,767.5" fill="none" stroke="#444" stroke-width="0.8"/>
<polyline points="531.5,767.5 536.5,654.7" fill="none" stroke="#444" stroke-width="0.8"/>
<polyline points="301.2,798.4 297.3,801.6" fill="none" stroke="#444" stroke-width="0.8"/>
<polyline points="329.9,807.8 326.1,811.1" fill="none" stroke="#444" stroke-width="0.8"/>
<polyline points="359.2,817.5 355.5,820.8" fill="none" stroke="#444" stroke-width="0.8"/>
<polyline points="389.2,827.3 385.5,830.7" fill="none" stroke="#444" stroke-width="0.8"/>
<polyline points="419.7,837.3 416.1,840.8" fill="none" stroke="#444" stroke-width="0.8"/>
<polyline points="450.9,847.6 447.4,851.1" fill="none" stroke="#444" stroke-width="0.8"/>
<polyline points="450.9,847.6 455.6,849.1" fill="none" stroke="#444" stroke-width="0.8"/>
<polyline points="468.2,830.4 472.8,831.9" fill="none" stroke="#444" stroke-width="0.8"/>
<polyline points="484.8,813.8 489.5,815.3" fill="none" stroke="#444" stroke-width="0.8"/>
<polyline points="500.9,797.9 505.5,799.3" fill="none" stroke="#444" stroke-width="0.8"/>
<polyline points="516.5,782.4 521.0,783.8" fill="none" stroke="#444" stroke-width="0.8"/>
<polyline points="531.5,767.5 536.0,768.8" fill="none" stroke="#444" stroke-width="0.8"/>
<polyline points="531.7,763.6 533.9,761.4" fill="none" stroke="#444" stroke-width="0.8"/>
<polyline points="532.7,739.5 535.0,737.3" fill="none" stroke="#444" stroke-width="0.8"/>
<polyline points="533.8,715.0 536.1,712.9" fill="none" stroke="#444" stroke-width="0.8"/>
<polyline points="534.9,690.1 537.2,688.1" fill="none" stroke="#444" stroke-width="0.8"/>
<polyline points="536.0,664.9 538.3,662.9" fill="none" stroke="#444" stroke-width="0.8"/>
<text x="21.0" y="818.7" font-size="13" fill="#1a1a1a" text-anchor="middle">0</text>
<text x="49.3" y="828.5" font-size="13" fill="#1a1a1a" text-anchor="middle">2</text>
<text x="77.6" y="837.2" font-size="13" fill="#1a1a1a" text-anchor="middle">4</text>
<text x="107.0" y="847.0" font-size="13" fill="#1a1a1a" text-anchor="middle">6</text>
<text x="135.3" y="856.8" font-size="13" fill="#1a1a1a" text-anchor="middle">8</text>
<text x="164.3" y="866.7" font-size="13" fill="#1a1a1a" text-anchor="middle">10</text>
<text x="183.2" y="865.5" font-size="13" fill="#1a1a1a" text-anchor="middle">0.0</text>
<text x="199.2" y="847.7" font-size="13" fill="#1a1a1a" text-anchor="middle">0.2</text>
<text x="215.2" y="831.0" font-size="13" fill="#1a1a1a" text-anchor="middle">0.4</text>
<text x="230.6" y="815.1" font-size="13" fill="#1a1a1a" text-anchor="middle">0.6</text>
<text x="245.9" y="799.1" font-size="13" fill="#1a1a1a" text-anchor="middle">0.8</text>
<text x="261.8" y="784.4" font-size="13" fill="#1a1a1a" text-anchor="middle">1.0</text>
<text x="257.9" y="771.1" font-size="13" fill="#1a1a1a">0.0</text>
<text x="258.8" y="747.0" font-size="13" fill="#1a1a1a">0.5</text>
<text x="259.6" y="722.4" font-size="13" fill="#1a1a1a">1.0</text>
<text x="261.0" y="697.4" font-size="13" fill="#1a1a1a">1.5</text>
<text x="262.3" y="672.0" font-size="13" fill="#1a1a1a">2.0</text>
<text x="91" y="847.5" font-size="12.5" text-anchor="middle" fill="#222"><tspan font-style="italic">κ</tspan><tspan font-size="8.8" dy="2">1</tspan></text>
<line x1="82" y1="850" x2="100" y2="850" stroke="#222" stroke-width="0.9"/>
<text x="91" y="861" font-size="12.5" text-anchor="middle" fill="#222"><tspan font-style="italic">κ</tspan><tspan font-size="8.8" dy="2">2</tspan></text>
<line x1="239.1" y1="837.3" x2="253.1" y2="837.3" stroke="#222" stroke-width="0.9"/>
<text x="238.6" y="833.3" font-size="14.5" font-style="italic" fill="#222">R</text>
<text x="248.4" y="827.3" font-size="9" fill="#222">2</text>
<text x="248.4" y="835.5" font-size="9" fill="#222">1</text>
<text x="238.6" y="851.9" font-size="14.5" font-style="italic" fill="#222">R</text>
<text x="248.4" y="845.9" font-size="9" fill="#222">2</text>
<text x="248.4" y="854.1" font-size="9" fill="#222">2</text>
<text x="298.5" y="817.7" font-size="13" fill="#1a1a1a" text-anchor="middle">0</text>
<text x="326.8" y="827.5" font-size="13" fill="#1a1a1a" text-anchor="middle">10</text>
<text x="355.1" y="836.2" font-size="13" fill="#1a1a1a" text-anchor="middle">20</text>
<text x="384.5" y="846.0" font-size="13" fill="#1a1a1a" text-anchor="middle">30</text>
<text x="412.8" y="855.8" font-size="13" fill="#1a1a1a" text-anchor="middle">40</text>
<text x="441.8" y="865.7" font-size="13" fill="#1a1a1a" text-anchor="middle">50</text>
<text x="460.7" y="864.5" font-size="13" fill="#1a1a1a" text-anchor="middle">0.0</text>
<text x="476.7" y="846.7" font-size="13" fill="#1a1a1a" text-anchor="middle">0.2</text>
<text x="492.7" y="830.0" font-size="13" fill="#1a1a1a" text-anchor="middle">0.4</text>
<text x="508.1" y="814.1" font-size="13" fill="#1a1a1a" text-anchor="middle">0.6</text>
<text x="523.4" y="798.1" font-size="13" fill="#1a1a1a" text-anchor="middle">0.8</text>
<text x="539.3" y="783.4" font-size="13" fill="#1a1a1a" text-anchor="middle">1.0</text>
<text x="535.4" y="770.1" font-size="13" fill="#1a1a1a">0.0</text>
<text x="536.3" y="746.0" font-size="13" fill="#1a1a1a">0.5</text>
<text x="537.1" y="721.4" font-size="13" fill="#1a1a1a">1.0</text>
<text x="538.5" y="696.4" font-size="13" fill="#1a1a1a">1.5</text>
<text x="539.8" y="671.0" font-size="13" fill="#1a1a1a">2.0</text>
<text x="368.5" y="846.5" font-size="12.5" text-anchor="middle" fill="#222"><tspan font-style="italic">κ</tspan><tspan font-size="8.8" dy="2">1</tspan></text>
<line x1="359.5" y1="849" x2="377.5" y2="849" stroke="#222" stroke-width="0.9"/>
<text x="368.5" y="860" font-size="12.5" text-anchor="middle" fill="#222"><tspan font-style="italic">κ</tspan><tspan font-size="8.8" dy="2">2</tspan></text>
<line x1="516.6" y1="836.3" x2="530.6" y2="836.3" stroke="#222" stroke-width="0.9"/>
<text x="516.1" y="832.3" font-size="14.5" font-style="italic" fill="#222">R</text>
<text x="525.9" y="826.3" font-size="9" fill="#222">2</text>
<text x="525.9" y="834.5" font-size="9" fill="#222">1</text>
<text x="516.1" y="850.9" font-size="14.5" font-style="italic" fill="#222">R</text>
<text x="525.9" y="844.9" font-size="9" fill="#222">2</text>
<text x="525.9" y="853.1" font-size="9" fill="#222">2</text>
<text x="62.5" y="648.4" font-size="13.5" fill="#1a1a1a" textLength="137.6" lengthAdjust="spacingAndGlyphs">Concentrating ratio of</text>
<text x="63.2" y="661.4" font-size="13.5" fill="#1a1a1a" textLength="136.5" lengthAdjust="spacingAndGlyphs">temperature gradient</text>
<text x="263.8" y="647.7" font-size="15" fill="#222" font-style="italic">η<tspan font-size="10" dy="2">T</tspan></text>
<text x="349.3" y="652.0" font-size="13.5" fill="#1a1a1a" textLength="138.7" lengthAdjust="spacingAndGlyphs">Concentrating ratio of</text>
<text x="366.6" y="665.4" font-size="13.5" fill="#1a1a1a" textLength="104.1" lengthAdjust="spacingAndGlyphs">heat flux density</text>
<defs><linearGradient id="cbar" x1="0" y1="0" x2="0" y2="1"><stop offset="0.00" stop-color="#f6ccf6"/><stop offset="0.10" stop-color="#f8b4c4"/><stop offset="0.20" stop-color="#f9a080"/><stop offset="0.30" stop-color="#f2913e"/><stop offset="0.40" stop-color="#c28a24"/><stop offset="0.50" stop-color="#8d8620"/><stop offset="0.60" stop-color="#557a3a"/><stop offset="0.70" stop-color="#12674f"/><stop offset="0.80" stop-color="#0b5560"/><stop offset="0.90" stop-color="#0a3b62"/><stop offset="1.00" stop-color="#051a4f"/></linearGradient></defs>
<rect x="563.5" y="643.6" width="13.7" height="190.4" fill="url(#cbar)" stroke="#999" stroke-width="0.5"/>
<line x1="577.2" y1="643.6" x2="580" y2="643.6" stroke="#333" stroke-width="0.7"/>
<line x1="577.2" y1="738.8" x2="580" y2="738.8" stroke="#333" stroke-width="0.7"/>
<line x1="577.2" y1="834" x2="580" y2="834" stroke="#333" stroke-width="0.7"/>
<text x="580.4" y="650.0" font-size="13" fill="#1a1a1a">2</text>
<text x="580.4" y="744.0" font-size="13" fill="#1a1a1a">1</text>
<text x="580.4" y="838.0" font-size="13" fill="#1a1a1a">0</text>
<defs><clipPath id="clipT"><rect x="636.8" y="645.0" width="178.2" height="178.2"/></clipPath></defs>
<g clip-path="url(#clipT)">
<defs><linearGradient id="hgT" x1="0" y1="0" x2="1" y2="0"><stop offset="0.000" stop-color="#44248c"/><stop offset="0.025" stop-color="#492590"/><stop offset="0.050" stop-color="#4e2694"/><stop offset="0.075" stop-color="#532898"/><stop offset="0.100" stop-color="#58299c"/><stop offset="0.125" stop-color="#5f2b9f"/><stop offset="0.150" stop-color="#662ea2"/><stop offset="0.175" stop-color="#6e30a5"/><stop offset="0.200" stop-color="#7532a8"/><stop offset="0.225" stop-color="#7e34aa"/><stop offset="0.250" stop-color="#8836ab"/><stop offset="0.275" stop-color="#9238ac"/><stop offset="0.300" stop-color="#9b3aae"/><stop offset="0.325" stop-color="#a63cac"/><stop offset="0.350" stop-color="#b03eaa"/><stop offset="0.375" stop-color="#bb41a8"/><stop offset="0.400" stop-color="#c643a6"/><stop offset="0.425" stop-color="#d0469e"/><stop offset="0.450" stop-color="#da4895"/><stop offset="0.475" stop-color="#e44a8c"/><stop offset="0.500" stop-color="#ee4d84"/><stop offset="0.525" stop-color="#f25479"/><stop offset="0.550" stop-color="#f55c6f"/><stop offset="0.575" stop-color="#f86364"/><stop offset="0.600" stop-color="#fc6a5a"/><stop offset="0.625" stop-color="#fc7351"/><stop offset="0.650" stop-color="#fc7c48"/><stop offset="0.675" stop-color="#fd853f"/><stop offset="0.700" stop-color="#fd8e36"/><stop offset="0.725" stop-color="#fd9731"/><stop offset="0.750" stop-color="#fda02c"/><stop offset="0.775" stop-color="#fda927"/><stop offset="0.800" stop-color="#fdb222"/><stop offset="0.825" stop-color="#fdbb30"/><stop offset="0.850" stop-color="#fdc43d"/><stop offset="0.875" stop-color="#fdcc4a"/><stop offset="0.900" stop-color="#fdd558"/><stop offset="0.925" stop-color="#fede7b"/><stop offset="0.950" stop-color="#fee79d"/><stop offset="0.975" stop-color="#feefc0"/><stop offset="1.000" stop-color="#fff8e2"/></linearGradient><clipPath id="ccT"><circle cx="725.9" cy="734.1" r="51.6"/></clipPath></defs>
<rect x="636.8" y="645.0" width="178.2" height="178.2" fill="url(#hgT)"/>
<g clip-path="url(#ccT)" shape-rendering="crispEdges">
<path d="M670.7 645.0L670.7 823.2L672.4 823.2L672.4 645.0Z" fill="#7432a7"/>
<path d="M672.4 645.0L672.4 823.2L674.2 823.2L674.2 645.0Z" fill="#7732a8"/>
<path d="M674.2 645.0L674.2 823.2L676.0 823.2L676.0 745.0L677.6 738.9L678.1 733.9L677.6 729.3L676.0 723.2L676.0 645.0Z" fill="#7b33a9"/>
<path d="M676.0 645.0L676.0 723.2L677.6 729.3L678.1 733.9L677.6 738.9L676.0 745.0L676.0 823.2L677.8 823.2L677.8 751.1L682.1 741.0L683.1 737.2L683.3 733.9L683.0 730.6L682.0 726.9L677.8 717.1L677.8 645.0Z" fill="#7e34aa"/>
<path d="M677.8 645.0L677.8 717.1L682.0 726.9L683.0 730.6L683.3 733.9L683.1 737.2L682.1 741.0L677.8 751.1L677.8 823.2L679.6 823.2L679.6 755.5L686.9 741.3L688.1 737.6L688.5 733.9L688.0 730.2L686.7 726.5L679.6 712.7L679.6 645.0Z" fill="#8235aa"/>
<path d="M679.6 645.0L679.6 712.7L686.7 726.5L688.0 730.2L688.5 733.9L688.1 737.6L686.9 741.3L679.6 755.5L679.6 823.2L681.4 823.2L681.4 759.0L691.7 741.1L693.3 737.3L693.7 733.8L693.1 730.5L691.6 726.8L681.4 709.2L681.4 645.0Z" fill="#8636ab"/>
<path d="M681.4 645.0L681.4 709.2L691.6 726.8L693.1 730.5L693.7 733.8L693.3 737.3L691.7 741.1L681.4 759.0L681.4 823.2L683.1 823.2L683.2 761.7L688.1 753.5L697.1 739.7L698.5 736.5L698.9 733.7L698.3 731.1L696.9 728.1L688.1 714.7L683.2 706.5L683.1 645.0Z" fill="#8a36ab"/>
<path d="M683.1 645.0L683.2 706.5L688.1 714.7L696.9 728.1L698.3 731.1L698.9 733.7L698.5 736.5L697.1 739.7L688.1 753.5L683.2 761.7L683.1 823.2L684.9 823.2L685.0 764.3L692.4 752.2L702.7 738.0L703.1 737.2L703.1 731.0L701.5 728.4L691.9 715.2L685.0 703.9L684.9 645.0Z" fill="#8e37ac"/>
<path d="M684.9 645.0L685.0 703.9L691.9 715.2L701.5 728.4L703.1 731.0L703.1 737.2L702.7 738.0L692.4 752.2L685.0 764.3L684.9 823.2L686.7 823.2L686.7 766.9L690.2 760.5L694.9 753.2L699.2 747.2L703.9 741.7L704.1 727.3L703.9 726.5L698.6 720.2L693.9 713.7L689.8 707.1L686.7 701.3L686.7 645.0Z" fill="#9238ac"/>
<path d="M686.7 645.0L686.7 701.3L689.8 707.1L693.9 713.7L698.6 720.2L703.9 726.5L704.1 727.3L703.9 741.7L699.2 747.2L694.9 753.2L690.2 760.5L686.7 766.9L686.7 823.2L688.5 823.2L688.5 768.7L692.2 761.8L696.2 755.4L700.7 749.1L704.9 744.1L705.1 724.8L704.9 724.1L700.1 718.3L695.8 712.2L688.5 699.5L688.5 645.0Z" fill="#9539ad"/>
<path d="M688.5 645.0L688.5 699.5L695.8 712.2L700.1 718.3L704.9 724.1L705.1 724.8L704.9 744.1L700.7 749.1L696.2 755.4L692.2 761.8L688.5 768.7L688.5 823.2L690.3 823.2L690.3 770.4L694.1 763.1L697.9 756.8L702.0 750.9L706.1 745.8L706.1 723.6L706.1 722.4L701.5 716.6L696.7 709.4L690.3 697.8L690.3 645.0Z" fill="#993aae"/>
<path d="M690.3 645.0L690.3 697.8L696.7 709.4L701.5 716.6L706.1 722.4L706.1 723.6L706.1 745.8L702.0 750.9L697.9 756.8L694.1 763.1L690.3 770.4L690.3 823.2L692.0 823.2L692.1 772.2L695.6 765.0L699.0 758.8L702.7 753.1L707.1 747.1L707.1 721.1L702.7 715.1L699.0 709.4L695.6 703.2L692.1 696.0L692.0 645.0Z" fill="#9d3aae"/>
<path d="M692.0 645.0L692.1 696.0L695.6 703.2L699.0 709.4L702.7 715.1L707.1 721.1L707.1 747.1L702.7 753.1L699.0 758.8L695.6 765.0L692.1 772.2L692.0 823.2L693.8 823.2L693.8 773.9L696.8 767.4L700.5 760.1L704.3 753.9L708.0 748.7L708.1 719.9L700.2 707.5L696.8 700.8L693.8 694.3L693.8 645.0Z" fill="#a13bad"/>
<path d="M693.8 645.0L693.8 694.3L696.8 700.8L700.2 707.5L708.1 719.9L708.0 748.7L704.3 753.9L700.5 760.1L696.8 767.4L693.8 773.9L693.8 823.2L695.6 823.2L695.6 775.6L697.4 770.8L701.4 762.6L704.7 756.5L709.1 749.6L709.1 718.6L702.0 706.8L695.7 693.3L695.6 645.0Z" fill="#a63cac"/>
<path d="M695.6 645.0L695.7 693.3L702.0 706.8L709.1 718.6L709.1 749.6L704.7 756.5L701.4 762.6L697.4 770.8L695.6 775.6L695.6 823.2L697.4 823.2L697.4 776.5L703.4 762.5L706.5 756.6L710.1 750.8L710.1 718.6L710.1 717.4L706.2 711.0L702.3 703.3L697.4 691.7L697.4 645.0Z" fill="#aa3dab"/>
<path d="M697.4 645.0L697.4 691.7L702.3 703.3L706.2 711.0L710.1 717.4L710.1 718.6L710.1 750.8L706.5 756.6L703.4 762.5L697.4 776.5L697.4 823.2L699.2 823.2L699.2 777.4L704.8 763.6L711.0 751.7L711.0 717.4L711.0 716.5L707.6 710.4L704.3 703.4L699.2 690.8L699.2 645.0Z" fill="#ae3eaa"/>
<path d="M699.2 645.0L699.2 690.8L704.3 703.4L707.6 710.4L711.0 716.5L711.0 717.4L711.0 751.7L704.8 763.6L699.2 777.4L699.2 823.2L701.0 823.2L701.0 778.4L706.4 764.1L712.0 752.5L712.0 716.1L705.9 702.9L701.0 689.8L701.0 645.0Z" fill="#b33faa"/>
<path d="M701.0 645.0L701.0 689.8L705.9 702.9L712.0 716.1L712.0 752.5L706.4 764.1L701.0 778.4L701.0 823.2L702.7 823.2L702.7 780.0L707.3 766.3L713.0 753.2L713.0 715.7L713.0 715.0L707.3 701.9L702.8 688.9L702.7 645.0Z" fill="#b740a9"/>
<path d="M702.7 645.0L702.8 688.9L707.3 701.9L713.0 715.0L713.0 715.7L713.0 753.2L707.3 766.3L702.7 780.0L702.7 823.2L704.5 823.2L704.5 780.9L708.7 767.2L714.0 753.9L714.0 714.9L708.7 701.0L704.6 688.1L704.5 645.0Z" fill="#bb41a8"/>
<path d="M704.5 645.0L704.6 688.1L708.7 701.0L714.0 714.9L714.0 753.9L708.7 767.2L704.5 780.9L704.5 823.2L706.3 823.2L706.4 781.0L710.4 767.0L715.0 754.4L715.0 714.9L715.0 713.8L709.7 698.9L706.4 687.2L706.3 645.0Z" fill="#c042a7"/>
<path d="M706.3 645.0L706.4 687.2L709.7 698.9L715.0 713.8L715.0 714.9L715.0 754.4L710.4 767.0L706.4 781.0L706.3 823.2L708.1 823.2L708.1 781.8L711.7 767.9L716.0 754.5L716.0 713.7L711.7 700.3L708.1 686.4L708.1 645.0Z" fill="#c443a6"/>
<path d="M708.1 645.0L708.1 686.4L711.7 700.3L716.0 713.7L716.0 754.5L711.7 767.9L708.1 781.8L708.1 823.2L709.9 823.2L709.9 782.6L713.2 768.2L717.0 755.4L717.0 713.7L712.8 698.3L709.9 685.6L709.9 645.0Z" fill="#c844a4"/>
<path d="M709.9 645.0L709.9 685.6L712.8 698.3L717.0 713.7L717.0 755.4L713.2 768.2L709.9 782.6L709.9 823.2L711.6 823.2L711.7 782.8L714.7 768.5L718.0 755.7L718.0 713.7L718.0 712.5L714.7 699.7L711.7 685.4L711.6 645.0Z" fill="#cc44a1"/>
<path d="M711.6 645.0L711.7 685.4L714.7 699.7L718.0 712.5L718.0 713.7L718.0 755.7L714.7 768.5L711.7 782.8L711.6 823.2L713.4 823.2L713.4 783.5L716.0 769.2L719.0 755.9L719.0 712.3L716.0 699.0L713.4 684.7L713.4 645.0Z" fill="#d0469e"/>
<path d="M713.4 645.0L713.4 684.7L716.0 699.0L719.0 712.3L719.0 755.9L716.0 769.2L713.4 783.5L713.4 823.2L715.2 823.2L715.3 783.7L717.3 770.5L720.0 755.9L720.0 712.3L717.3 697.7L715.3 684.5L715.2 645.0Z" fill="#d4469a"/>
<path d="M715.2 645.0L715.3 684.5L717.3 697.7L720.0 712.3L720.0 755.9L717.3 770.5L715.3 783.7L715.2 823.2L717.0 823.2L717.0 784.4L718.9 769.6L720.9 756.6L720.9 712.3L717.0 683.8L717.0 645.0Z" fill="#d84897"/>
<path d="M717.0 645.0L717.0 683.8L720.9 712.3L720.9 756.6L718.9 769.6L717.0 784.4L717.0 823.2L718.8 823.2L718.8 784.4L721.9 756.8L721.9 712.3L718.8 683.8L718.8 645.0Z" fill="#dc4893"/>
<path d="M718.8 645.0L718.8 683.8L721.9 712.3L721.9 756.8L718.8 784.4L718.8 823.2L720.6 823.2L720.6 784.5L722.9 756.9L722.9 712.3L720.6 683.7L720.6 645.0Z" fill="#e04a90"/>
<path d="M720.6 645.0L720.6 683.7L722.9 712.3L722.9 756.9L720.6 784.5L720.6 823.2L722.3 823.2L722.3 785.2L723.9 757.0L723.9 711.2L722.3 683.0L722.3 645.0Z" fill="#e44a8c"/>
<path d="M722.3 645.0L722.3 683.0L723.9 711.2L723.9 757.0L722.3 785.2L722.3 823.2L724.1 823.2L724.1 785.2L724.9 757.0L724.9 711.2L724.1 683.0L724.1 645.0Z" fill="#e84c89"/>
<path d="M724.1 645.0L724.1 683.0L724.9 711.2L724.9 757.0L724.1 785.2L724.1 823.2L725.9 823.2L725.9 645.0Z" fill="#ec4c86"/>
<path d="M725.9 645.0L725.9 823.2L727.7 823.2L727.7 785.2L726.9 757.0L726.9 711.2L727.7 683.0L727.7 645.0Z" fill="#ef4e82"/>
<path d="M727.7 645.0L727.7 683.0L726.9 711.2L726.9 757.0L727.7 785.2L727.7 823.2L729.5 823.2L729.5 785.2L727.9 757.0L727.9 711.2L729.5 683.0L729.5 645.0Z" fill="#f0517e"/>
<path d="M729.5 645.0L729.5 683.0L727.9 711.2L727.9 757.0L729.5 785.2L729.5 823.2L731.2 823.2L731.2 784.5L728.9 756.9L728.9 712.3L731.2 683.7L731.2 645.0Z" fill="#f25479"/>
<path d="M731.2 645.0L731.2 683.7L728.9 712.3L728.9 756.9L731.2 784.5L731.2 823.2L733.0 823.2L733.0 784.4L729.9 756.8L729.9 712.3L733.0 683.8L733.0 645.0Z" fill="#f35775"/>
<path d="M733.0 645.0L733.0 683.8L729.9 712.3L729.9 756.8L733.0 784.4L733.0 823.2L734.8 823.2L734.8 784.4L732.9 769.6L730.9 756.6L730.9 712.3L734.8 683.8L734.8 645.0Z" fill="#f45a71"/>
<path d="M734.8 645.0L734.8 683.8L730.9 712.3L730.9 756.6L732.9 769.6L734.8 784.4L734.8 823.2L736.6 823.2L736.5 783.7L734.5 770.5L731.8 755.9L731.8 712.3L734.5 697.7L736.5 684.5L736.6 645.0Z" fill="#f65d6d"/>
<path d="M736.6 645.0L736.5 684.5L734.5 697.7L731.8 712.3L731.8 755.9L734.5 770.5L736.5 783.7L736.6 823.2L738.4 823.2L738.4 783.5L735.8 769.2L732.8 755.9L732.8 712.3L735.8 699.0L738.4 684.7L738.4 645.0Z" fill="#f76069"/>
<path d="M738.4 645.0L738.4 684.7L735.8 699.0L732.8 712.3L732.8 755.9L735.8 769.2L738.4 783.5L738.4 823.2L740.2 823.2L740.1 782.8L737.1 768.5L733.8 755.7L733.8 713.7L733.8 712.5L737.1 699.7L740.1 685.4L740.2 645.0Z" fill="#f86365"/>
<path d="M740.2 645.0L740.1 685.4L737.1 699.7L733.8 712.5L733.8 713.7L733.8 755.7L737.1 768.5L740.1 782.8L740.2 823.2L741.9 823.2L741.9 782.6L738.6 768.2L734.8 755.4L734.8 713.7L739.0 698.3L741.9 685.6L741.9 645.0Z" fill="#fa6660"/>
<path d="M741.9 645.0L741.9 685.6L739.0 698.3L734.8 713.7L734.8 755.4L738.6 768.2L741.9 782.6L741.9 823.2L743.7 823.2L743.7 781.8L740.1 767.9L735.8 754.5L735.8 713.7L740.1 700.3L743.7 686.4L743.7 645.0Z" fill="#fb695c"/>
<path d="M743.7 645.0L743.7 686.4L740.1 700.3L735.8 713.7L735.8 754.5L740.1 767.9L743.7 781.8L743.7 823.2L745.5 823.2L745.4 781.0L741.4 767.0L736.8 754.4L736.8 714.9L736.8 713.8L742.1 698.9L745.4 687.2L745.5 645.0Z" fill="#fc6c58"/>
<path d="M745.5 645.0L745.4 687.2L742.1 698.9L736.8 713.8L736.8 714.9L736.8 754.4L741.4 767.0L745.4 781.0L745.5 823.2L747.3 823.2L747.3 780.9L743.1 767.2L737.8 753.9L737.8 714.9L743.1 701.0L747.2 688.1L747.3 645.0Z" fill="#fc6f55"/>
<path d="M747.3 645.0L747.2 688.1L743.1 701.0L737.8 714.9L737.8 753.9L743.1 767.2L747.3 780.9L747.3 823.2L749.1 823.2L749.1 780.0L744.5 766.3L738.8 753.2L738.8 715.7L738.8 715.0L744.5 701.9L749.0 688.9L749.1 645.0Z" fill="#fc7351"/>
<path d="M749.1 645.0L749.0 688.9L744.5 701.9L738.8 715.0L738.8 715.7L738.8 753.2L744.5 766.3L749.1 780.0L749.1 823.2L750.8 823.2L750.8 778.4L745.4 764.1L739.8 752.5L739.8 716.1L745.9 702.9L750.8 689.8L750.8 645.0Z" fill="#fc774d"/>
<path d="M750.8 645.0L750.8 689.8L745.9 702.9L739.8 716.1L739.8 752.5L745.4 764.1L750.8 778.4L750.8 823.2L752.6 823.2L752.6 777.4L747.0 763.6L740.8 751.7L740.8 717.4L740.8 716.5L744.2 710.4L747.5 703.4L752.6 690.8L752.6 645.0Z" fill="#fc7a4a"/>
<path d="M752.6 645.0L752.6 690.8L747.5 703.4L744.2 710.4L740.8 716.5L740.8 717.4L740.8 751.7L747.0 763.6L752.6 777.4L752.6 823.2L754.4 823.2L754.4 776.5L748.4 762.5L745.3 756.6L741.7 750.8L741.7 718.6L741.7 717.4L745.6 711.0L749.5 703.3L754.4 691.7L754.4 645.0Z" fill="#fd7e46"/>
<path d="M754.4 645.0L754.4 691.7L749.5 703.3L745.6 711.0L741.7 717.4L741.7 718.6L741.7 750.8L745.3 756.6L748.4 762.5L754.4 776.5L754.4 823.2L756.2 823.2L756.2 775.6L754.4 770.8L750.4 762.6L747.1 756.5L742.7 749.6L742.7 718.6L749.8 706.8L756.1 693.3L756.2 645.0Z" fill="#fd8143"/>
<path d="M756.2 645.0L756.1 693.3L749.8 706.8L742.7 718.6L742.7 749.6L747.1 756.5L750.4 762.6L754.4 770.8L756.2 775.6L756.2 823.2L758.0 823.2L758.0 773.9L755.0 767.4L751.3 760.1L747.5 753.9L743.8 748.7L743.7 719.9L751.6 707.5L755.0 700.8L758.0 694.3L758.0 645.0Z" fill="#fd853f"/>
<path d="M758.0 645.0L758.0 694.3L755.0 700.8L751.6 707.5L743.7 719.9L743.8 748.7L747.5 753.9L751.3 760.1L755.0 767.4L758.0 773.9L758.0 823.2L759.8 823.2L759.7 772.2L756.2 765.0L752.8 758.8L749.1 753.1L744.7 747.1L744.7 721.1L749.1 715.1L752.8 709.4L756.2 703.2L759.7 696.0L759.8 645.0Z" fill="#fd893b"/>
<path d="M759.8 645.0L759.7 696.0L756.2 703.2L752.8 709.4L749.1 715.1L744.7 721.1L744.7 747.1L749.1 753.1L752.8 758.8L756.2 765.0L759.7 772.2L759.8 823.2L761.5 823.2L761.5 770.4L757.7 763.1L753.9 756.8L749.8 750.9L745.7 745.8L745.7 723.6L745.7 722.4L750.3 716.6L755.1 709.4L761.5 697.8L761.5 645.0Z" fill="#fd8c38"/>
<path d="M761.5 645.0L761.5 697.8L755.1 709.4L750.3 716.6L745.7 722.4L745.7 723.6L745.7 745.8L749.8 750.9L753.9 756.8L757.7 763.1L761.5 770.4L761.5 823.2L763.3 823.2L763.3 768.7L759.6 761.8L755.6 755.4L751.1 749.1L746.9 744.1L746.7 724.8L746.9 724.1L751.7 718.3L756.0 712.2L763.3 699.5L763.3 645.0Z" fill="#fd9035"/>
<path d="M763.3 645.0L763.3 699.5L756.0 712.2L751.7 718.3L746.9 724.1L746.7 724.8L746.9 744.1L751.1 749.1L755.6 755.4L759.6 761.8L763.3 768.7L763.3 823.2L765.1 823.2L765.1 766.9L761.6 760.5L756.9 753.2L752.6 747.2L747.9 741.7L747.7 727.3L747.9 726.5L753.2 720.2L757.9 713.7L762.0 707.1L765.1 701.3L765.1 645.0Z" fill="#fd9333"/>
<path d="M765.1 645.0L765.1 701.3L762.0 707.1L757.9 713.7L753.2 720.2L747.9 726.5L747.7 727.3L747.9 741.7L752.6 747.2L756.9 753.2L761.6 760.5L765.1 766.9L765.1 823.2L766.9 823.2L766.8 764.3L759.4 752.2L749.1 738.0L748.7 737.2L748.7 731.0L750.3 728.4L759.9 715.2L766.8 703.9L766.9 645.0Z" fill="#fd9731"/>
<path d="M766.9 645.0L766.8 703.9L759.9 715.2L750.3 728.4L748.7 731.0L748.7 737.2L749.1 738.0L759.4 752.2L766.8 764.3L766.9 823.2L768.7 823.2L768.6 761.7L763.7 753.5L754.7 739.7L753.3 736.5L752.9 733.7L753.5 731.1L754.9 728.1L763.7 714.7L768.6 706.5L768.7 645.0Z" fill="#fd9b2f"/>
<path d="M768.7 645.0L768.6 706.5L763.7 714.7L754.9 728.1L753.5 731.1L752.9 733.7L753.3 736.5L754.7 739.7L763.7 753.5L768.6 761.7L768.7 823.2L770.4 823.2L770.4 759.0L760.1 741.1L758.5 737.3L758.1 733.8L758.7 730.5L760.2 726.8L770.4 709.2L770.4 645.0Z" fill="#fd9e2d"/>
<path d="M770.4 645.0L770.4 709.2L760.2 726.8L758.7 730.5L758.1 733.8L758.5 737.3L760.1 741.1L770.4 759.0L770.4 823.2L772.2 823.2L772.2 755.5L764.9 741.3L763.7 737.6L763.3 733.9L763.8 730.2L765.1 726.5L772.2 712.7L772.2 645.0Z" fill="#fda22b"/>
<path d="M772.2 645.0L772.2 712.7L765.1 726.5L763.8 730.2L763.3 733.9L763.7 737.6L764.9 741.3L772.2 755.5L772.2 823.2L774.0 823.2L774.0 751.1L769.7 741.0L768.7 737.2L768.5 733.9L768.8 730.6L769.8 726.9L774.0 717.1L774.0 645.0Z" fill="#fda529"/>
<path d="M774.0 645.0L774.0 717.1L769.8 726.9L768.8 730.6L768.5 733.9L768.7 737.2L769.7 741.0L774.0 751.1L774.0 823.2L775.8 823.2L775.8 745.0L774.2 738.9L773.7 733.9L774.2 729.3L775.8 723.2L775.8 645.0Z" fill="#fda927"/>
<path d="M775.8 645.0L775.8 723.2L774.2 729.3L773.7 733.9L774.2 738.9L775.8 745.0L775.8 823.2L777.6 823.2L777.6 645.0Z" fill="#fdad25"/>
<path d="M777.6 645.0L777.6 823.2L779.4 823.2L779.4 645.0Z" fill="#fdb023"/>
<path d="M779.4 645.0L779.4 823.2L781.1 823.2L781.1 645.0Z" fill="#fdb425"/>
</g>
</g>
<g clip-path="url(#clipT)">
<mask id="mT"><rect x="631.8" y="640.0" width="188.2" height="188.2" fill="#fff"/><rect x="650.6" y="653.5" width="8" height="20.0" fill="#000"/><rect x="686.3" y="653.5" width="8" height="20.0" fill="#000"/><rect x="721.9" y="653.5" width="8" height="20.0" fill="#000"/><rect x="757.5" y="653.5" width="8" height="20.0" fill="#000"/><rect x="793.2" y="653.5" width="8" height="20.0" fill="#000"/><rect x="668.4" y="690.5" width="8" height="21.5" fill="#000"/><rect x="775.4" y="690.5" width="8" height="21.5" fill="#000"/><rect x="704.1" y="789.0" width="8" height="22.5" fill="#000"/><rect x="739.7" y="789.0" width="8" height="22.5" fill="#000"/></mask>
<g mask="url(#mT)">
<polyline points="654.6,645.0 654.6,823.2" fill="none" stroke="#fff" stroke-width="1.0" opacity="0.8"/>
<polyline points="672.4,645.0 672.4,823.2" fill="none" stroke="#fff" stroke-width="1.0" opacity="0.8"/>
<polyline points="690.3,645.0 690.3,697.8 696.7,709.4 701.5,716.6 706.1,722.4 706.1,723.6 706.1,745.8 702.0,750.9 697.9,756.8 694.1,763.1 690.3,770.4 690.3,823.2" fill="none" stroke="#fff" stroke-width="1.0" opacity="0.8"/>
<polyline points="708.1,645.0 708.1,686.4 711.7,700.3 716.0,713.7 716.0,754.5 711.7,767.9 708.1,781.8 708.1,823.2" fill="none" stroke="#fff" stroke-width="1.0" opacity="0.8"/>
<polyline points="725.9,645.0 725.9,823.2" fill="none" stroke="#fff" stroke-width="1.0" opacity="0.8"/>
<polyline points="743.7,645.0 743.7,686.4 740.1,700.3 735.8,713.7 735.8,754.5 740.1,767.9 743.7,781.8 743.7,823.2" fill="none" stroke="#fff" stroke-width="1.0" opacity="0.8"/>
<polyline points="761.5,645.0 761.5,697.8 755.1,709.4 750.3,716.6 745.7,722.4 745.7,723.6 745.7,745.8 749.8,750.9 753.9,756.8 757.7,763.1 761.5,770.4 761.5,823.2" fill="none" stroke="#fff" stroke-width="1.0" opacity="0.8"/>
<polyline points="779.4,645.0 779.4,823.2" fill="none" stroke="#fff" stroke-width="1.0" opacity="0.8"/>
<polyline points="797.2,645.0 797.2,823.2" fill="none" stroke="#fff" stroke-width="1.0" opacity="0.8"/>
</g>
<text x="0" y="0" font-size="11.5" fill="#fff" fill-opacity="0.85" text-anchor="middle" transform="translate(650.7,663.5) rotate(90)" textLength="18.0" lengthAdjust="spacingAndGlyphs">305</text>
<text x="0" y="0" font-size="11.5" fill="#fff" fill-opacity="0.85" text-anchor="middle" transform="translate(686.4,663.5) rotate(90)" textLength="18.0" lengthAdjust="spacingAndGlyphs">315</text>
<text x="0" y="0" font-size="11.5" fill="#fff" fill-opacity="0.85" text-anchor="middle" transform="translate(722.0,663.5) rotate(90)" textLength="18.0" lengthAdjust="spacingAndGlyphs">325</text>
<text x="0" y="0" font-size="11.5" fill="#fff" fill-opacity="0.85" text-anchor="middle" transform="translate(757.6,663.5) rotate(90)" textLength="18.0" lengthAdjust="spacingAndGlyphs">335</text>
<text x="0" y="0" font-size="11.5" fill="#fff" fill-opacity="0.85" text-anchor="middle" transform="translate(793.3,663.5) rotate(90)" textLength="18.0" lengthAdjust="spacingAndGlyphs">345</text>
<text x="0" y="0" font-size="11.5" fill="#fff" fill-opacity="0.85" text-anchor="middle" transform="translate(668.5,701.2) rotate(90)" textLength="19.5" lengthAdjust="spacingAndGlyphs">310</text>
<text x="0" y="0" font-size="11.5" fill="#fff" fill-opacity="0.85" text-anchor="middle" transform="translate(775.5,701.2) rotate(90)" textLength="19.5" lengthAdjust="spacingAndGlyphs">340</text>
<text x="0" y="0" font-size="11.5" fill="#fff" fill-opacity="0.85" text-anchor="middle" transform="translate(704.2,800.2) rotate(90)" textLength="20.5" lengthAdjust="spacingAndGlyphs">320</text>
<text x="0" y="0" font-size="11.5" fill="#fff" fill-opacity="0.85" text-anchor="middle" transform="translate(739.8,800.2) rotate(90)" textLength="20.5" lengthAdjust="spacingAndGlyphs">330</text>
<polyline points="636.8,662.8 815.0,662.8" fill="none" stroke="#10d0e8" stroke-width="1.6" opacity="0.62"/>
<path d="M723.4,662.8 L728.1,660.4 L728.1,665.2Z" fill="#10d0e8" opacity="0.75"/>
<polyline points="636.8,680.6 815.0,680.6" fill="none" stroke="#10d0e8" stroke-width="1.6" opacity="0.62"/>
<path d="M723.4,680.6 L728.1,678.2 L728.1,683.0Z" fill="#10d0e8" opacity="0.75"/>
<polyline points="636.8,698.5 688.7,698.5 710.3,694.0 718.5,693.0 725.5,692.7 732.5,692.9 740.6,693.8 763.1,698.5 815.0,698.5" fill="none" stroke="#10d0e8" stroke-width="1.6" opacity="0.62"/>
<path d="M723.4,692.7 L728.1,690.3 L728.1,695.1Z" fill="#10d0e8" opacity="0.75"/>
<polyline points="636.8,716.3 678.0,716.3 689.5,713.5 706.5,707.4 712.9,705.5 719.4,704.2 725.6,703.7 732.4,704.2 738.9,705.5 745.3,707.4 762.3,713.5 773.8,716.3 815.0,716.3" fill="none" stroke="#10d0e8" stroke-width="1.6" opacity="0.62"/>
<path d="M723.4,703.7 L728.1,701.3 L728.1,706.1Z" fill="#10d0e8" opacity="0.75"/>
<polyline points="636.8,734.1 815.0,734.1" fill="none" stroke="#10d0e8" stroke-width="1.6" opacity="0.62"/>
<path d="M723.4,734.1 L728.1,731.7 L728.1,736.5Z" fill="#10d0e8" opacity="0.75"/>
<polyline points="636.8,751.9 678.0,751.9 689.5,754.7 706.5,760.8 712.9,762.7 719.4,764.0 725.6,764.5 732.4,764.0 738.9,762.7 745.3,760.8 762.3,754.7 773.8,751.9 815.0,751.9" fill="none" stroke="#10d0e8" stroke-width="1.6" opacity="0.62"/>
<path d="M723.4,764.5 L728.1,762.1 L728.1,766.9Z" fill="#10d0e8" opacity="0.75"/>
<polyline points="636.8,769.7 688.7,769.7 710.3,774.2 718.5,775.2 725.5,775.5 732.5,775.3 740.6,774.4 763.1,769.7 815.0,769.7" fill="none" stroke="#10d0e8" stroke-width="1.6" opacity="0.62"/>
<path d="M723.4,775.5 L728.1,773.1 L728.1,777.9Z" fill="#10d0e8" opacity="0.75"/>
<polyline points="636.8,787.6 815.0,787.6" fill="none" stroke="#10d0e8" stroke-width="1.6" opacity="0.62"/>
<path d="M723.4,787.6 L728.1,785.2 L728.1,790.0Z" fill="#10d0e8" opacity="0.75"/>
<polyline points="636.8,805.4 815.0,805.4" fill="none" stroke="#10d0e8" stroke-width="1.6" opacity="0.62"/>
<path d="M723.4,805.4 L728.1,803.0 L728.1,807.8Z" fill="#10d0e8" opacity="0.75"/>
</g>
<circle cx="725.9" cy="734.1" r="51" fill="none" stroke="#222" stroke-width="0.8"/>
<circle cx="725.9" cy="734.1" r="23" fill="none" stroke="#222" stroke-width="0.8"/>
<rect x="636.8" y="645.0" width="178.2" height="178.2" fill="none" stroke="#666" stroke-width="0.8"/>
<text x="676.4" y="618.8" font-size="15" fill="#1a1a1a" textLength="101.5" lengthAdjust="spacingAndGlyphs">T-Concentrator</text>
<text x="646.5" y="637.8" font-size="13.5" fill="#1a1a1a" textLength="167.4" lengthAdjust="spacingAndGlyphs">Denser isotherms in the core</text>
<text x="633.3" y="649.3" font-size="12.5" fill="#1a1a1a" text-anchor="end">175</text>
<text x="632.8" y="738.3" font-size="12" fill="#1a1a1a" text-anchor="end">0</text>
<text x="633.3" y="827.5" font-size="12.5" fill="#1a1a1a" text-anchor="end">−175</text>
<text x="636.8" y="834.2" font-size="12.5" fill="#1a1a1a" text-anchor="middle">−175</text>
<text x="725.9" y="834.2" font-size="12.5" fill="#1a1a1a" text-anchor="middle">0</text>
<text x="815.0" y="834.2" font-size="12.5" fill="#1a1a1a" text-anchor="middle">175</text>
<text x="691.5" y="847.7" font-size="15" fill="#1a1a1a" textLength="98" lengthAdjust="spacingAndGlyphs"><tspan font-style="italic">x</tspan> position (mm)</text>
<text x="0" y="0" font-size="15" fill="#1a1a1a" text-anchor="middle" transform="translate(620.2,737.1) rotate(-90)" textLength="97" lengthAdjust="spacingAndGlyphs"><tspan font-style="italic">y</tspan> position (mm)</text>
<defs><clipPath id="clipF"><rect x="895.2" y="643.6" width="179.2" height="179.2"/></clipPath></defs>
<g clip-path="url(#clipF)">
<defs><linearGradient id="hgF" x1="0" y1="0" x2="1" y2="0"><stop offset="0.000" stop-color="#44248c"/><stop offset="0.025" stop-color="#492590"/><stop offset="0.050" stop-color="#4e2694"/><stop offset="0.075" stop-color="#532898"/><stop offset="0.100" stop-color="#58299c"/><stop offset="0.125" stop-color="#5f2b9f"/><stop offset="0.150" stop-color="#662ea2"/><stop offset="0.175" stop-color="#6e30a5"/><stop offset="0.200" stop-color="#7532a8"/><stop offset="0.225" stop-color="#7e34aa"/><stop offset="0.250" stop-color="#8836ab"/><stop offset="0.275" stop-color="#9238ac"/><stop offset="0.300" stop-color="#9b3aae"/><stop offset="0.325" stop-color="#a63cac"/><stop offset="0.350" stop-color="#b03eaa"/><stop offset="0.375" stop-color="#bb41a8"/><stop offset="0.400" stop-color="#c643a6"/><stop offset="0.425" stop-color="#d0469e"/><stop offset="0.450" stop-color="#da4895"/><stop offset="0.475" stop-color="#e44a8c"/><stop offset="0.500" stop-color="#ee4d84"/><stop offset="0.525" stop-color="#f25479"/><stop offset="0.550" stop-color="#f55c6f"/><stop offset="0.575" stop-color="#f86364"/><stop offset="0.600" stop-color="#fc6a5a"/><stop offset="0.625" stop-color="#fc7351"/><stop offset="0.650" stop-color="#fc7c48"/><stop offset="0.675" stop-color="#fd853f"/><stop offset="0.700" stop-color="#fd8e36"/><stop offset="0.725" stop-color="#fd9731"/><stop offset="0.750" stop-color="#fda02c"/><stop offset="0.775" stop-color="#fda927"/><stop offset="0.800" stop-color="#fdb222"/><stop offset="0.825" stop-color="#fdbb30"/><stop offset="0.850" stop-color="#fdc43d"/><stop offset="0.875" stop-color="#fdcc4a"/><stop offset="0.900" stop-color="#fdd558"/><stop offset="0.925" stop-color="#fede7b"/><stop offset="0.950" stop-color="#fee79d"/><stop offset="0.975" stop-color="#feefc0"/><stop offset="1.000" stop-color="#fff8e2"/></linearGradient><clipPath id="ccF"><circle cx="984.8" cy="733.2" r="52.1"/></clipPath></defs>
<rect x="895.2" y="643.6" width="179.2" height="179.2" fill="url(#hgF)"/>
<g clip-path="url(#ccF)" shape-rendering="crispEdges">
<path d="M929.2 643.6L929.2 822.8L931.0 822.8L931.0 643.6Z" fill="#7432a7"/>
<path d="M931.0 643.6L931.0 822.8L932.8 822.8L932.8 643.6Z" fill="#7732a8"/>
<path d="M932.8 643.6L932.8 822.8L934.6 822.8L934.6 745.1L933.8 732.8L934.6 721.3L934.6 643.6Z" fill="#7b33a9"/>
<path d="M934.6 643.6L934.6 721.3L933.8 732.8L934.6 745.1L934.6 822.8L936.4 822.8L936.4 751.3L935.0 741.5L934.6 732.8L935.0 724.6L936.4 715.1L936.4 643.6Z" fill="#7e34aa"/>
<path d="M936.4 643.6L936.4 715.1L935.0 724.6L934.6 732.8L935.0 741.5L936.4 751.3L936.4 822.8L938.2 822.8L938.2 755.7L935.9 743.1L935.3 732.8L936.0 722.4L938.2 710.7L938.2 643.6Z" fill="#8235aa"/>
<path d="M938.2 643.6L938.2 710.7L936.0 722.4L935.3 732.8L935.9 743.1L938.2 755.7L938.2 822.8L940.0 822.8L940.0 759.2L936.9 744.7L936.2 738.7L936.1 732.8L936.3 726.8L937.0 720.8L940.0 707.2L940.0 643.6Z" fill="#8636ab"/>
<path d="M940.0 643.6L940.0 707.2L937.0 720.8L936.3 726.8L936.1 732.8L936.2 738.7L936.9 744.7L940.0 759.2L940.0 822.8L941.8 822.8L941.8 761.9L939.4 753.4L937.9 746.4L937.0 739.5L936.8 732.8L937.1 726.1L938.1 719.2L939.4 713.0L941.8 704.5L941.8 643.6Z" fill="#8a36ab"/>
<path d="M941.8 643.6L941.8 704.5L939.4 713.0L938.1 719.2L937.1 726.1L936.8 732.8L937.0 739.5L937.9 746.4L939.4 753.4L941.8 761.9L941.8 822.8L943.6 822.8L943.6 764.5L940.7 755.0L939.0 747.9L937.9 740.3L937.5 732.8L937.9 725.3L939.0 718.5L940.7 711.4L943.6 701.9L943.6 643.6Z" fill="#8e37ac"/>
<path d="M943.6 643.6L943.6 701.9L940.7 711.4L939.0 718.5L937.9 725.3L937.5 732.8L937.9 740.3L939.0 747.9L940.7 755.0L943.6 764.5L943.6 822.8L945.4 822.8L945.4 766.3L942.0 756.5L939.9 748.6L938.7 741.0L938.3 732.8L938.7 725.0L940.1 717.0L942.2 708.9L945.4 700.1L945.4 643.6Z" fill="#9238ac"/>
<path d="M945.4 643.6L945.4 700.1L942.2 708.9L940.1 717.0L938.7 725.0L938.3 732.8L938.7 741.0L939.9 748.6L942.0 756.5L945.4 766.3L945.4 822.8L947.2 822.8L947.2 768.9L943.0 757.2L940.8 749.3L939.4 740.9L939.0 732.8L939.5 725.1L940.8 717.1L943.0 709.2L947.2 697.5L947.2 643.6Z" fill="#9539ad"/>
<path d="M947.2 643.6L947.2 697.5L943.0 709.2L940.8 717.1L939.5 725.1L939.0 732.8L939.4 740.9L940.8 749.3L943.0 757.2L947.2 768.9L947.2 822.8L949.0 822.8L949.0 770.7L944.2 758.0L941.8 749.9L940.2 741.2L939.7 732.8L940.3 724.8L942.0 715.8L944.4 707.7L949.0 695.7L949.0 643.6Z" fill="#993aae"/>
<path d="M949.0 643.6L949.0 695.7L944.4 707.7L942.0 715.8L940.3 724.8L939.7 732.8L940.2 741.2L941.8 749.9L944.2 758.0L949.0 770.7L949.0 822.8L950.8 822.8L950.8 772.0L945.5 759.3L942.8 750.5L941.0 741.5L940.5 732.8L941.1 724.1L943.0 715.0L945.9 706.2L950.8 694.4L950.8 643.6Z" fill="#9d3aae"/>
<path d="M950.8 643.6L950.8 694.4L945.9 706.2L943.0 715.0L941.1 724.1L940.5 732.8L941.0 741.5L942.8 750.5L945.5 759.3L950.8 772.0L950.8 822.8L952.5 822.8L952.5 773.3L947.0 760.7L943.7 751.1L941.9 742.2L941.2 732.8L942.0 723.4L944.0 714.4L947.0 705.7L952.5 693.1L952.5 643.6Z" fill="#a13bad"/>
<path d="M952.5 643.6L952.5 693.1L947.0 705.7L944.0 714.4L942.0 723.4L941.2 732.8L941.9 742.2L943.7 751.1L947.0 760.7L952.5 773.3L952.5 822.8L954.3 822.8L954.3 775.1L947.8 760.4L944.7 751.7L942.6 742.1L941.9 732.8L942.7 723.5L944.7 714.7L947.8 706.0L954.3 691.3L954.3 643.6Z" fill="#a63cac"/>
<path d="M954.3 643.6L954.3 691.3L947.8 706.0L944.7 714.7L942.7 723.5L941.9 732.8L942.6 742.1L944.7 751.7L947.8 760.4L954.3 775.1L954.3 822.8L956.1 822.8L956.1 776.0L949.0 760.9L945.7 752.0L943.3 742.0L942.7 732.8L943.5 723.4L945.8 714.1L949.0 705.5L956.1 690.4L956.1 643.6Z" fill="#aa3dab"/>
<path d="M956.1 643.6L956.1 690.4L949.0 705.5L945.8 714.1L943.5 723.4L942.7 732.8L943.3 742.0L945.7 752.0L949.0 760.9L956.1 776.0L956.1 822.8L957.9 822.8L957.8 777.0L950.2 761.4L946.5 752.0L944.2 742.6L943.6 738.1L943.4 732.8L944.2 723.6L946.5 714.4L950.2 705.0L957.8 689.4L957.9 643.6Z" fill="#ae3eaa"/>
<path d="M957.9 643.6L957.8 689.4L950.2 705.0L946.5 714.4L944.2 723.6L943.4 732.8L943.6 738.1L944.2 742.6L946.5 752.0L950.2 761.4L957.8 777.0L957.9 822.8L959.7 822.8L959.7 778.6L958.1 774.7L950.6 760.1L947.3 751.7L944.9 742.5L944.4 738.0L944.1 732.8L944.4 727.9L945.1 723.1L947.6 713.9L950.6 706.3L958.1 691.7L959.7 687.8L959.7 643.6Z" fill="#b33faa"/>
<path d="M959.7 643.6L959.7 687.8L958.1 691.7L950.6 706.3L947.6 713.9L945.1 723.1L944.4 727.9L944.1 732.8L944.4 738.0L944.9 742.5L947.3 751.7L950.6 760.1L958.1 774.7L959.7 778.6L959.7 822.8L961.5 822.8L961.5 779.5L959.7 775.4L951.5 759.7L948.3 752.3L946.9 747.6L945.7 742.6L945.1 738.0L944.9 732.8L945.1 728.0L945.8 723.3L948.3 714.1L951.5 706.7L959.7 691.0L961.5 686.9L961.5 643.6Z" fill="#b740a9"/>
<path d="M961.5 643.6L961.5 686.9L959.7 691.0L951.5 706.7L948.3 714.1L945.8 723.3L945.1 728.0L944.9 732.8L945.1 738.0L945.7 742.6L946.9 747.6L948.3 752.3L951.5 759.7L959.7 775.4L961.5 779.5L961.5 822.8L963.3 822.8L963.3 780.4L960.7 774.7L952.3 759.2L949.1 752.0L947.6 747.4L946.5 742.4L945.8 737.9L945.6 732.8L945.9 728.1L946.6 723.4L949.1 714.4L952.3 707.2L960.7 691.7L963.3 686.0L963.3 643.6Z" fill="#bb41a8"/>
<path d="M963.3 643.6L963.3 686.0L960.7 691.7L952.3 707.2L949.1 714.4L946.6 723.4L945.9 728.1L945.6 732.8L945.8 737.9L946.5 742.4L947.6 747.4L949.1 752.0L952.3 759.2L960.7 774.7L963.3 780.4L963.3 822.8L965.1 822.8L965.1 781.3L964.8 780.0L962.5 775.3L953.5 759.6L949.9 751.7L948.4 747.2L947.2 742.3L946.6 737.8L946.4 732.8L946.6 728.2L947.3 723.6L948.6 718.5L950.2 714.0L954.0 705.9L962.5 691.1L964.8 686.4L965.1 685.1L965.1 643.6Z" fill="#c042a7"/>
<path d="M965.1 643.6L965.1 685.1L964.8 686.4L962.5 691.1L954.0 705.9L950.2 714.0L948.6 718.5L947.3 723.6L946.6 728.2L946.4 732.8L946.6 737.8L947.2 742.3L948.4 747.2L949.9 751.7L953.5 759.6L962.5 775.3L964.8 780.0L965.1 781.3L965.1 822.8L966.9 822.8L966.7 781.1L962.9 773.4L954.3 759.2L951.0 752.1L949.4 747.7L948.1 742.7L947.3 737.7L947.1 732.9L947.4 728.2L948.1 723.7L949.4 718.7L951.0 714.3L954.3 707.2L962.9 693.0L966.7 685.3L966.9 643.6Z" fill="#c443a6"/>
<path d="M966.9 643.6L966.7 685.3L962.9 693.0L954.3 707.2L951.0 714.3L949.4 718.7L948.1 723.7L947.4 728.2L947.1 732.9L947.3 737.7L948.1 742.7L949.4 747.7L951.0 752.1L954.3 759.2L962.9 773.4L966.7 781.1L966.9 822.8L968.7 822.8L968.7 782.2L965.5 775.2L955.7 759.5L951.7 751.8L950.1 747.5L948.8 742.5L948.0 737.7L947.8 732.9L948.1 728.0L948.9 723.2L950.1 718.9L951.9 714.2L955.7 706.9L965.5 691.2L968.7 684.2L968.7 643.6Z" fill="#c844a4"/>
<path d="M968.7 643.6L968.7 684.2L965.5 691.2L955.7 706.9L951.9 714.2L950.1 718.9L948.9 723.2L948.1 728.0L947.8 732.9L948.0 737.7L948.8 742.5L950.1 747.5L951.7 751.8L955.7 759.5L965.5 775.2L968.7 782.2L968.7 822.8L970.5 822.8L970.5 783.1L969.2 779.5L966.7 774.3L956.5 759.0L952.5 751.5L950.9 747.2L949.5 742.4L948.8 737.6L948.6 732.9L948.9 728.1L949.7 723.3L950.9 719.2L952.7 714.6L956.5 707.4L966.7 692.1L969.2 686.9L970.5 683.3L970.5 643.6Z" fill="#cc44a1"/>
<path d="M970.5 643.6L970.5 683.3L969.2 686.9L966.7 692.1L956.5 707.4L952.7 714.6L950.9 719.2L949.7 723.3L948.9 728.1L948.6 732.9L948.8 737.6L949.5 742.4L950.9 747.2L952.5 751.5L956.5 759.0L966.7 774.3L969.2 779.5L970.5 783.1L970.5 822.8L972.3 822.8L972.2 782.9L970.6 778.6L967.9 773.5L957.9 759.3L953.3 751.2L951.6 747.0L950.3 742.2L949.5 737.5L949.3 732.9L949.6 728.2L950.4 723.5L951.6 719.4L953.4 714.9L957.9 707.1L967.9 692.9L970.6 687.8L972.2 683.5L972.3 643.6Z" fill="#d0469e"/>
<path d="M972.3 643.6L972.2 683.5L970.6 687.8L967.9 692.9L957.9 707.1L953.4 714.9L951.6 719.4L950.4 723.5L949.6 728.2L949.3 732.9L949.5 737.5L950.3 742.2L951.6 747.0L953.3 751.2L957.9 759.3L967.9 773.5L970.6 778.6L972.2 782.9L972.3 822.8L974.0 822.8L974.0 783.9L973.6 782.1L972.0 777.7L969.2 772.5L958.7 758.8L954.2 751.2L952.4 746.8L951.0 742.1L950.3 737.5L950.0 732.9L950.3 728.3L951.2 723.7L952.6 719.1L954.4 714.9L958.7 707.6L969.2 693.9L972.0 688.7L973.6 684.3L974.0 682.5L974.0 643.6Z" fill="#d4469a"/>
<path d="M974.0 643.6L974.0 682.5L973.6 684.3L972.0 688.7L969.2 693.9L958.7 707.6L954.4 714.9L952.6 719.1L951.2 723.7L950.3 728.3L950.0 732.9L950.3 737.5L951.0 742.1L952.4 746.8L954.2 751.2L958.7 758.8L969.2 772.5L972.0 777.7L973.6 782.1L974.0 783.9L974.0 822.8L975.8 822.8L975.8 783.9L975.2 781.4L973.5 776.8L970.5 771.5L960.0 758.8L957.2 754.7L955.2 751.2L953.1 746.5L951.8 741.9L951.0 737.4L950.8 732.9L951.1 728.4L951.9 723.8L953.3 719.4L955.2 715.2L957.2 711.7L960.0 707.6L970.5 694.9L973.5 689.6L975.2 685.0L975.8 682.5L975.8 643.6Z" fill="#d84897"/>
<path d="M975.8 643.6L975.8 682.5L975.2 685.0L973.5 689.6L970.5 694.9L960.0 707.6L957.2 711.7L955.2 715.2L953.3 719.4L951.9 723.8L951.1 728.4L950.8 732.9L951.0 737.4L951.8 741.9L953.1 746.5L955.2 751.2L957.2 754.7L960.0 758.8L970.5 771.5L973.5 776.8L975.2 781.4L975.8 783.9L975.8 822.8L977.6 822.8L977.5 783.4L975.9 777.7L973.1 772.0L969.9 768.0L960.9 758.2L958.4 754.9L956.0 750.8L956.0 715.9L957.5 712.9L960.4 708.7L969.9 698.4L973.1 694.4L975.2 690.6L976.8 685.7L977.6 681.6L977.6 643.6Z" fill="#dc4893"/>
<path d="M977.6 643.6L977.6 681.6L976.8 685.7L975.2 690.6L973.1 694.4L969.9 698.4L960.4 708.7L957.5 712.9L956.0 715.9L956.0 750.8L958.4 754.9L960.9 758.2L969.9 768.0L973.1 772.0L975.9 777.7L977.5 783.4L977.6 822.8L979.4 822.8L979.4 784.8L978.6 780.0L977.0 774.8L974.8 770.8L972.3 767.9L963.2 759.2L963.2 707.9L963.2 707.2L972.3 698.5L974.8 695.6L977.0 691.6L978.6 686.4L979.4 681.6L979.4 643.6Z" fill="#e04a90"/>
<path d="M979.4 643.6L979.4 681.6L978.6 686.4L977.0 691.6L974.8 695.6L972.3 698.5L963.2 707.2L963.2 707.9L963.2 759.2L972.3 767.9L974.8 770.8L977.0 774.8L978.6 780.0L979.4 784.8L979.4 822.8L981.2 822.8L981.2 784.8L980.5 779.4L979.2 773.9L978.1 771.5L975.3 767.9L970.4 763.7L970.4 702.7L975.3 698.5L978.1 694.9L979.2 692.5L980.5 687.0L981.2 681.6L981.2 643.6Z" fill="#e44a8c"/>
<path d="M981.2 643.6L981.2 681.6L980.5 687.0L979.2 692.5L978.1 694.9L975.3 698.5L970.4 702.7L970.4 763.7L975.3 767.9L978.1 771.5L979.2 773.9L980.5 779.4L981.2 784.8L981.2 822.8L983.0 822.8L983.0 784.8L982.6 779.0L981.7 773.0L980.8 770.2L979.4 767.9L977.6 766.2L977.6 700.8L977.6 700.2L979.4 698.5L980.8 696.2L981.7 693.4L982.6 687.4L983.0 681.6L983.0 643.6Z" fill="#e84c89"/>
<path d="M983.0 643.6L983.0 681.6L982.6 687.4L981.7 693.4L980.8 696.2L979.4 698.5L977.6 700.2L977.6 700.8L977.6 766.2L979.4 767.9L980.8 770.2L981.7 773.0L982.6 779.0L983.0 784.8L983.0 822.8L984.8 822.8L984.8 643.6Z" fill="#ec4c86"/>
<path d="M984.8 643.6L984.8 822.8L986.6 822.8L986.6 784.8L987.0 779.0L987.9 773.0L988.8 770.2L990.2 767.9L992.0 766.2L992.0 700.8L992.0 700.2L990.2 698.5L988.8 696.2L987.9 693.4L987.0 687.4L986.6 681.6L986.6 643.6Z" fill="#ef4e82"/>
<path d="M986.6 643.6L986.6 681.6L987.0 687.4L987.9 693.4L988.8 696.2L990.2 698.5L992.0 700.2L992.0 700.8L992.0 766.2L990.2 767.9L988.8 770.2L987.9 773.0L987.0 779.0L986.6 784.8L986.6 822.8L988.4 822.8L988.4 784.8L989.1 779.4L990.4 773.9L991.5 771.5L994.3 767.9L999.2 763.7L999.2 702.7L994.3 698.5L991.5 694.9L990.4 692.5L989.1 687.0L988.4 681.6L988.4 643.6Z" fill="#f0517e"/>
<path d="M988.4 643.6L988.4 681.6L989.1 687.0L990.4 692.5L991.5 694.9L994.3 698.5L999.2 702.7L999.2 763.7L994.3 767.9L991.5 771.5L990.4 773.9L989.1 779.4L988.4 784.8L988.4 822.8L990.2 822.8L990.2 784.8L991.0 780.0L992.6 774.8L994.8 770.8L997.3 767.9L1006.4 759.2L1006.4 707.9L1006.4 707.2L997.3 698.5L994.8 695.6L992.6 691.6L991.0 686.4L990.2 681.6L990.2 643.6Z" fill="#f25479"/>
<path d="M990.2 643.6L990.2 681.6L991.0 686.4L992.6 691.6L994.8 695.6L997.3 698.5L1006.4 707.2L1006.4 707.9L1006.4 759.2L997.3 767.9L994.8 770.8L992.6 774.8L991.0 780.0L990.2 784.8L990.2 822.8L992.0 822.8L992.1 783.4L993.7 777.7L996.5 772.0L999.7 768.0L1008.7 758.2L1011.2 754.9L1013.6 750.8L1013.6 715.9L1012.1 712.9L1009.2 708.7L999.7 698.4L996.5 694.4L994.4 690.6L992.8 685.7L992.0 681.6L992.0 643.6Z" fill="#f35775"/>
<path d="M992.0 643.6L992.0 681.6L992.8 685.7L994.4 690.6L996.5 694.4L999.7 698.4L1009.2 708.7L1012.1 712.9L1013.6 715.9L1013.6 750.8L1011.2 754.9L1008.7 758.2L999.7 768.0L996.5 772.0L993.7 777.7L992.1 783.4L992.0 822.8L993.8 822.8L993.8 783.9L994.4 781.4L996.1 776.8L999.1 771.5L1009.6 758.8L1012.4 754.7L1014.4 751.2L1016.5 746.5L1017.8 741.9L1018.6 737.4L1018.8 732.9L1018.5 728.4L1017.7 723.8L1016.3 719.4L1014.4 715.2L1012.4 711.7L1009.6 707.6L999.1 694.9L996.1 689.6L994.4 685.0L993.8 682.5L993.8 643.6Z" fill="#f45a71"/>
<path d="M993.8 643.6L993.8 682.5L994.4 685.0L996.1 689.6L999.1 694.9L1009.6 707.6L1012.4 711.7L1014.4 715.2L1016.3 719.4L1017.7 723.8L1018.5 728.4L1018.8 732.9L1018.6 737.4L1017.8 741.9L1016.5 746.5L1014.4 751.2L1012.4 754.7L1009.6 758.8L999.1 771.5L996.1 776.8L994.4 781.4L993.8 783.9L993.8 822.8L995.6 822.8L995.6 783.9L996.0 782.1L997.6 777.7L1000.4 772.5L1010.9 758.8L1015.4 751.2L1017.2 746.8L1018.6 742.1L1019.3 737.5L1019.6 732.9L1019.3 728.3L1018.4 723.7L1017.0 719.1L1015.2 714.9L1010.9 707.6L1000.4 693.9L997.6 688.7L996.0 684.3L995.6 682.5L995.6 643.6Z" fill="#f65d6d"/>
<path d="M995.6 643.6L995.6 682.5L996.0 684.3L997.6 688.7L1000.4 693.9L1010.9 707.6L1015.2 714.9L1017.0 719.1L1018.4 723.7L1019.3 728.3L1019.6 732.9L1019.3 737.5L1018.6 742.1L1017.2 746.8L1015.4 751.2L1010.9 758.8L1000.4 772.5L997.6 777.7L996.0 782.1L995.6 783.9L995.6 822.8L997.3 822.8L997.4 782.9L999.0 778.6L1001.7 773.5L1011.7 759.3L1016.3 751.2L1018.0 747.0L1019.3 742.2L1020.1 737.5L1020.3 732.9L1020.0 728.2L1019.2 723.5L1018.0 719.4L1016.2 714.9L1011.7 707.1L1001.7 692.9L999.0 687.8L997.4 683.5L997.3 643.6Z" fill="#f76069"/>
<path d="M997.3 643.6L997.4 683.5L999.0 687.8L1001.7 692.9L1011.7 707.1L1016.2 714.9L1018.0 719.4L1019.2 723.5L1020.0 728.2L1020.3 732.9L1020.1 737.5L1019.3 742.2L1018.0 747.0L1016.3 751.2L1011.7 759.3L1001.7 773.5L999.0 778.6L997.4 782.9L997.3 822.8L999.1 822.8L999.1 783.1L1000.4 779.5L1002.9 774.3L1013.1 759.0L1017.1 751.5L1018.7 747.2L1020.1 742.4L1020.8 737.6L1021.0 732.9L1020.7 728.1L1019.9 723.3L1018.7 719.2L1016.9 714.6L1013.1 707.4L1002.9 692.1L1000.4 686.9L999.1 683.3L999.1 643.6Z" fill="#f86365"/>
<path d="M999.1 643.6L999.1 683.3L1000.4 686.9L1002.9 692.1L1013.1 707.4L1016.9 714.6L1018.7 719.2L1019.9 723.3L1020.7 728.1L1021.0 732.9L1020.8 737.6L1020.1 742.4L1018.7 747.2L1017.1 751.5L1013.1 759.0L1002.9 774.3L1000.4 779.5L999.1 783.1L999.1 822.8L1000.9 822.8L1000.9 782.2L1004.1 775.2L1013.9 759.5L1017.9 751.8L1019.5 747.5L1020.8 742.5L1021.6 737.7L1021.8 732.9L1021.5 728.0L1020.7 723.2L1019.5 718.9L1017.7 714.2L1013.9 706.9L1004.1 691.2L1000.9 684.2L1000.9 643.6Z" fill="#fa6660"/>
<path d="M1000.9 643.6L1000.9 684.2L1004.1 691.2L1013.9 706.9L1017.7 714.2L1019.5 718.9L1020.7 723.2L1021.5 728.0L1021.8 732.9L1021.6 737.7L1020.8 742.5L1019.5 747.5L1017.9 751.8L1013.9 759.5L1004.1 775.2L1000.9 782.2L1000.9 822.8L1002.7 822.8L1002.9 781.1L1006.7 773.4L1015.3 759.2L1018.6 752.1L1020.2 747.7L1021.5 742.7L1022.3 737.7L1022.5 732.9L1022.2 728.2L1021.5 723.7L1020.2 718.7L1018.6 714.3L1015.3 707.2L1006.7 693.0L1002.9 685.3L1002.7 643.6Z" fill="#fb695c"/>
<path d="M1002.7 643.6L1002.9 685.3L1006.7 693.0L1015.3 707.2L1018.6 714.3L1020.2 718.7L1021.5 723.7L1022.2 728.2L1022.5 732.9L1022.3 737.7L1021.5 742.7L1020.2 747.7L1018.6 752.1L1015.3 759.2L1006.7 773.4L1002.9 781.1L1002.7 822.8L1004.5 822.8L1004.5 781.3L1004.8 780.0L1007.1 775.3L1016.1 759.6L1019.7 751.7L1021.2 747.2L1022.4 742.3L1023.0 737.8L1023.2 732.8L1023.0 728.2L1022.3 723.6L1021.0 718.5L1019.4 714.0L1015.6 705.9L1007.1 691.1L1004.8 686.4L1004.5 685.1L1004.5 643.6Z" fill="#fc6c58"/>
<path d="M1004.5 643.6L1004.5 685.1L1004.8 686.4L1007.1 691.1L1015.6 705.9L1019.4 714.0L1021.0 718.5L1022.3 723.6L1023.0 728.2L1023.2 732.8L1023.0 737.8L1022.4 742.3L1021.2 747.2L1019.7 751.7L1016.1 759.6L1007.1 775.3L1004.8 780.0L1004.5 781.3L1004.5 822.8L1006.3 822.8L1006.3 780.4L1008.9 774.7L1017.3 759.2L1020.5 752.0L1022.0 747.4L1023.1 742.4L1023.8 737.9L1024.0 732.8L1023.7 728.1L1023.0 723.4L1020.5 714.4L1017.3 707.2L1008.9 691.7L1006.3 686.0L1006.3 643.6Z" fill="#fc6f55"/>
<path d="M1006.3 643.6L1006.3 686.0L1008.9 691.7L1017.3 707.2L1020.5 714.4L1023.0 723.4L1023.7 728.1L1024.0 732.8L1023.8 737.9L1023.1 742.4L1022.0 747.4L1020.5 752.0L1017.3 759.2L1008.9 774.7L1006.3 780.4L1006.3 822.8L1008.1 822.8L1008.1 779.5L1009.9 775.4L1018.1 759.7L1021.3 752.3L1022.7 747.6L1023.9 742.6L1024.5 738.0L1024.7 732.8L1024.5 728.0L1023.8 723.3L1021.3 714.1L1018.1 706.7L1009.9 691.0L1008.1 686.9L1008.1 643.6Z" fill="#fc7351"/>
<path d="M1008.1 643.6L1008.1 686.9L1009.9 691.0L1018.1 706.7L1021.3 714.1L1023.8 723.3L1024.5 728.0L1024.7 732.8L1024.5 738.0L1023.9 742.6L1022.7 747.6L1021.3 752.3L1018.1 759.7L1009.9 775.4L1008.1 779.5L1008.1 822.8L1009.9 822.8L1009.9 778.6L1011.5 774.7L1019.0 760.1L1022.3 751.7L1024.7 742.5L1025.2 738.0L1025.5 732.8L1025.2 727.9L1024.5 723.1L1022.0 713.9L1019.0 706.3L1011.5 691.7L1009.9 687.8L1009.9 643.6Z" fill="#fc774d"/>
<path d="M1009.9 643.6L1009.9 687.8L1011.5 691.7L1019.0 706.3L1022.0 713.9L1024.5 723.1L1025.2 727.9L1025.5 732.8L1025.2 738.0L1024.7 742.5L1022.3 751.7L1019.0 760.1L1011.5 774.7L1009.9 778.6L1009.9 822.8L1011.7 822.8L1011.8 777.0L1019.4 761.4L1023.1 752.0L1025.4 742.6L1026.0 738.1L1026.2 732.8L1025.4 723.6L1023.1 714.4L1019.4 705.0L1011.8 689.4L1011.7 643.6Z" fill="#fc7a4a"/>
<path d="M1011.7 643.6L1011.8 689.4L1019.4 705.0L1023.1 714.4L1025.4 723.6L1026.2 732.8L1026.0 738.1L1025.4 742.6L1023.1 752.0L1019.4 761.4L1011.8 777.0L1011.7 822.8L1013.5 822.8L1013.5 776.0L1020.6 760.9L1023.9 752.0L1026.3 742.0L1026.9 732.8L1026.1 723.4L1023.8 714.1L1020.6 705.5L1013.5 690.4L1013.5 643.6Z" fill="#fd7e46"/>
<path d="M1013.5 643.6L1013.5 690.4L1020.6 705.5L1023.8 714.1L1026.1 723.4L1026.9 732.8L1026.3 742.0L1023.9 752.0L1020.6 760.9L1013.5 776.0L1013.5 822.8L1015.3 822.8L1015.3 775.1L1021.8 760.4L1024.9 751.7L1027.0 742.1L1027.7 732.8L1026.9 723.5L1024.9 714.7L1021.8 706.0L1015.3 691.3L1015.3 643.6Z" fill="#fd8143"/>
<path d="M1015.3 643.6L1015.3 691.3L1021.8 706.0L1024.9 714.7L1026.9 723.5L1027.7 732.8L1027.0 742.1L1024.9 751.7L1021.8 760.4L1015.3 775.1L1015.3 822.8L1017.1 822.8L1017.1 773.3L1022.6 760.7L1025.9 751.1L1027.7 742.2L1028.4 732.8L1027.6 723.4L1025.6 714.4L1022.6 705.7L1017.1 693.1L1017.1 643.6Z" fill="#fd853f"/>
<path d="M1017.1 643.6L1017.1 693.1L1022.6 705.7L1025.6 714.4L1027.6 723.4L1028.4 732.8L1027.7 742.2L1025.9 751.1L1022.6 760.7L1017.1 773.3L1017.1 822.8L1018.8 822.8L1018.8 772.0L1024.1 759.3L1026.8 750.5L1028.6 741.5L1029.1 732.8L1028.5 724.1L1026.6 715.0L1023.7 706.2L1018.8 694.4L1018.8 643.6Z" fill="#fd893b"/>
<path d="M1018.8 643.6L1018.8 694.4L1023.7 706.2L1026.6 715.0L1028.5 724.1L1029.1 732.8L1028.6 741.5L1026.8 750.5L1024.1 759.3L1018.8 772.0L1018.8 822.8L1020.6 822.8L1020.6 770.7L1025.4 758.0L1027.8 749.9L1029.4 741.2L1029.9 732.8L1029.3 724.8L1027.6 715.8L1025.2 707.7L1020.6 695.7L1020.6 643.6Z" fill="#fd8c38"/>
<path d="M1020.6 643.6L1020.6 695.7L1025.2 707.7L1027.6 715.8L1029.3 724.8L1029.9 732.8L1029.4 741.2L1027.8 749.9L1025.4 758.0L1020.6 770.7L1020.6 822.8L1022.4 822.8L1022.4 768.9L1026.6 757.2L1028.8 749.3L1030.2 740.9L1030.6 732.8L1030.1 725.1L1028.8 717.1L1026.6 709.2L1022.4 697.5L1022.4 643.6Z" fill="#fd9035"/>
<path d="M1022.4 643.6L1022.4 697.5L1026.6 709.2L1028.8 717.1L1030.1 725.1L1030.6 732.8L1030.2 740.9L1028.8 749.3L1026.6 757.2L1022.4 768.9L1022.4 822.8L1024.2 822.8L1024.2 766.3L1027.6 756.5L1029.7 748.6L1030.9 741.0L1031.3 732.8L1030.9 725.0L1029.5 717.0L1027.4 708.9L1024.2 700.1L1024.2 643.6Z" fill="#fd9333"/>
<path d="M1024.2 643.6L1024.2 700.1L1027.4 708.9L1029.5 717.0L1030.9 725.0L1031.3 732.8L1030.9 741.0L1029.7 748.6L1027.6 756.5L1024.2 766.3L1024.2 822.8L1026.0 822.8L1026.0 764.5L1028.9 755.0L1030.6 747.9L1031.7 740.3L1032.1 732.8L1031.7 725.3L1030.6 718.5L1028.9 711.4L1026.0 701.9L1026.0 643.6Z" fill="#fd9731"/>
<path d="M1026.0 643.6L1026.0 701.9L1028.9 711.4L1030.6 718.5L1031.7 725.3L1032.1 732.8L1031.7 740.3L1030.6 747.9L1028.9 755.0L1026.0 764.5L1026.0 822.8L1027.8 822.8L1027.8 761.9L1030.2 753.4L1031.7 746.4L1032.6 739.5L1032.8 732.8L1032.5 726.1L1031.5 719.2L1030.2 713.0L1027.8 704.5L1027.8 643.6Z" fill="#fd9b2f"/>
<path d="M1027.8 643.6L1027.8 704.5L1030.2 713.0L1031.5 719.2L1032.5 726.1L1032.8 732.8L1032.6 739.5L1031.7 746.4L1030.2 753.4L1027.8 761.9L1027.8 822.8L1029.6 822.8L1029.6 759.2L1032.7 744.7L1033.4 738.7L1033.5 732.8L1033.3 726.8L1032.6 720.8L1029.6 707.2L1029.6 643.6Z" fill="#fd9e2d"/>
<path d="M1029.6 643.6L1029.6 707.2L1032.6 720.8L1033.3 726.8L1033.5 732.8L1033.4 738.7L1032.7 744.7L1029.6 759.2L1029.6 822.8L1031.4 822.8L1031.4 755.7L1033.7 743.1L1034.3 732.8L1033.6 722.4L1031.4 710.7L1031.4 643.6Z" fill="#fda22b"/>
<path d="M1031.4 643.6L1031.4 710.7L1033.6 722.4L1034.3 732.8L1033.7 743.1L1031.4 755.7L1031.4 822.8L1033.2 822.8L1033.2 751.3L1034.6 741.5L1035.0 732.8L1034.6 724.6L1033.2 715.1L1033.2 643.6Z" fill="#fda529"/>
<path d="M1033.2 643.6L1033.2 715.1L1034.6 724.6L1035.0 732.8L1034.6 741.5L1033.2 751.3L1033.2 822.8L1035.0 822.8L1035.0 745.1L1035.8 732.8L1035.0 721.3L1035.0 643.6Z" fill="#fda927"/>
<path d="M1035.0 643.6L1035.0 721.3L1035.8 732.8L1035.0 745.1L1035.0 822.8L1036.8 822.8L1036.8 643.6Z" fill="#fdad25"/>
<path d="M1036.8 643.6L1036.8 822.8L1038.6 822.8L1038.6 643.6Z" fill="#fdb023"/>
<path d="M1038.6 643.6L1038.6 822.8L1040.4 822.8L1040.4 643.6Z" fill="#fdb425"/>
</g>
</g>
<g clip-path="url(#clipF)">
<mask id="mF"><rect x="890.1999999999999" y="638.6" width="189.2" height="189.2" fill="#fff"/><rect x="909.1" y="652.1" width="8" height="20.0" fill="#000"/><rect x="945.0" y="652.1" width="8" height="20.0" fill="#000"/><rect x="980.8" y="652.1" width="8" height="20.0" fill="#000"/><rect x="1016.6" y="652.1" width="8" height="20.0" fill="#000"/><rect x="1052.5" y="652.1" width="8" height="20.0" fill="#000"/><rect x="927.0" y="689.1" width="8" height="21.5" fill="#000"/><rect x="1034.6" y="689.1" width="8" height="21.5" fill="#000"/><rect x="962.9" y="787.6" width="8" height="22.5" fill="#000"/><rect x="998.7" y="787.6" width="8" height="22.5" fill="#000"/></mask>
<g mask="url(#mF)">
<polyline points="913.1,643.6 913.1,822.8" fill="none" stroke="#fff" stroke-width="1.0" opacity="0.8"/>
<polyline points="931.0,643.6 931.0,822.8" fill="none" stroke="#fff" stroke-width="1.0" opacity="0.8"/>
<polyline points="949.0,643.6 949.0,695.7 944.4,707.7 942.0,715.8 940.3,724.8 939.7,732.8 940.2,741.2 941.8,749.9 944.2,758.0 949.0,770.7 949.0,822.8" fill="none" stroke="#fff" stroke-width="1.0" opacity="0.8"/>
<polyline points="966.9,643.6 966.7,685.3 962.9,693.0 954.3,707.2 951.0,714.3 949.4,718.7 948.1,723.7 947.4,728.2 947.1,732.9 947.3,737.7 948.1,742.7 949.4,747.7 951.0,752.1 954.3,759.2 962.9,773.4 966.7,781.1 966.9,822.8" fill="none" stroke="#fff" stroke-width="1.0" opacity="0.8"/>
<polyline points="984.8,643.6 984.8,822.8" fill="none" stroke="#fff" stroke-width="1.0" opacity="0.8"/>
<polyline points="1002.7,643.6 1002.9,685.3 1006.7,693.0 1015.3,707.2 1018.6,714.3 1020.2,718.7 1021.5,723.7 1022.2,728.2 1022.5,732.9 1022.3,737.7 1021.5,742.7 1020.2,747.7 1018.6,752.1 1015.3,759.2 1006.7,773.4 1002.9,781.1 1002.7,822.8" fill="none" stroke="#fff" stroke-width="1.0" opacity="0.8"/>
<polyline points="1020.6,643.6 1020.6,695.7 1025.2,707.7 1027.6,715.8 1029.3,724.8 1029.9,732.8 1029.4,741.2 1027.8,749.9 1025.4,758.0 1020.6,770.7 1020.6,822.8" fill="none" stroke="#fff" stroke-width="1.0" opacity="0.8"/>
<polyline points="1038.6,643.6 1038.6,822.8" fill="none" stroke="#fff" stroke-width="1.0" opacity="0.8"/>
<polyline points="1056.5,643.6 1056.5,822.8" fill="none" stroke="#fff" stroke-width="1.0" opacity="0.8"/>
</g>
<text x="0" y="0" font-size="11.5" fill="#fff" fill-opacity="0.85" text-anchor="middle" transform="translate(909.2,662.1) rotate(90)" textLength="18.0" lengthAdjust="spacingAndGlyphs">305</text>
<text x="0" y="0" font-size="11.5" fill="#fff" fill-opacity="0.85" text-anchor="middle" transform="translate(945.1,662.1) rotate(90)" textLength="18.0" lengthAdjust="spacingAndGlyphs">315</text>
<text x="0" y="0" font-size="11.5" fill="#fff" fill-opacity="0.85" text-anchor="middle" transform="translate(980.9,662.1) rotate(90)" textLength="18.0" lengthAdjust="spacingAndGlyphs">325</text>
<text x="0" y="0" font-size="11.5" fill="#fff" fill-opacity="0.85" text-anchor="middle" transform="translate(1016.7,662.1) rotate(90)" textLength="18.0" lengthAdjust="spacingAndGlyphs">335</text>
<text x="0" y="0" font-size="11.5" fill="#fff" fill-opacity="0.85" text-anchor="middle" transform="translate(1052.6,662.1) rotate(90)" textLength="18.0" lengthAdjust="spacingAndGlyphs">345</text>
<text x="0" y="0" font-size="11.5" fill="#fff" fill-opacity="0.85" text-anchor="middle" transform="translate(927.1,699.9) rotate(90)" textLength="19.5" lengthAdjust="spacingAndGlyphs">310</text>
<text x="0" y="0" font-size="11.5" fill="#fff" fill-opacity="0.85" text-anchor="middle" transform="translate(1034.7,699.9) rotate(90)" textLength="19.5" lengthAdjust="spacingAndGlyphs">340</text>
<text x="0" y="0" font-size="11.5" fill="#fff" fill-opacity="0.85" text-anchor="middle" transform="translate(963.0,798.9) rotate(90)" textLength="20.5" lengthAdjust="spacingAndGlyphs">320</text>
<text x="0" y="0" font-size="11.5" fill="#fff" fill-opacity="0.85" text-anchor="middle" transform="translate(998.8,798.9) rotate(90)" textLength="20.5" lengthAdjust="spacingAndGlyphs">330</text>
<polyline points="895.2,661.5 1074.4,661.5" fill="none" stroke="#10d0e8" stroke-width="1.6" opacity="0.62"/>
<path d="M982.3,661.5 L987.0,659.1 L987.0,663.9Z" fill="#10d0e8" opacity="0.75"/>
<polyline points="895.2,679.4 1074.4,679.4" fill="none" stroke="#10d0e8" stroke-width="1.6" opacity="0.62"/>
<path d="M982.3,679.4 L987.0,677.0 L987.0,681.8Z" fill="#10d0e8" opacity="0.75"/>
<polyline points="895.2,697.4 947.4,697.4 954.5,701.2 963.0,707.0 964.9,707.1 1006.6,707.0 1015.1,701.2 1022.2,697.4 1074.4,697.4" fill="none" stroke="#10d0e8" stroke-width="1.6" opacity="0.62"/>
<path d="M982.3,707.1 L987.0,704.7 L987.0,709.5Z" fill="#10d0e8" opacity="0.75"/>
<polyline points="895.2,715.3 936.6,715.3 954.0,720.2 1015.6,720.2 1033.0,715.3 1074.4,715.3" fill="none" stroke="#10d0e8" stroke-width="1.6" opacity="0.62"/>
<path d="M982.3,720.2 L987.0,717.8 L987.0,722.6Z" fill="#10d0e8" opacity="0.75"/>
<polyline points="895.2,733.2 1074.4,733.2" fill="none" stroke="#10d0e8" stroke-width="1.6" opacity="0.62"/>
<path d="M982.3,733.2 L987.0,730.8 L987.0,735.6Z" fill="#10d0e8" opacity="0.75"/>
<polyline points="895.2,751.1 936.6,751.1 954.0,746.2 1015.6,746.2 1033.0,751.1 1074.4,751.1" fill="none" stroke="#10d0e8" stroke-width="1.6" opacity="0.62"/>
<path d="M982.3,746.2 L987.0,743.8 L987.0,748.6Z" fill="#10d0e8" opacity="0.75"/>
<polyline points="895.2,769.0 947.4,769.0 954.5,765.2 963.0,759.4 964.9,759.3 1006.6,759.4 1015.1,765.2 1022.2,769.0 1074.4,769.0" fill="none" stroke="#10d0e8" stroke-width="1.6" opacity="0.62"/>
<path d="M982.3,759.3 L987.0,756.9 L987.0,761.7Z" fill="#10d0e8" opacity="0.75"/>
<polyline points="895.2,787.0 1074.4,787.0" fill="none" stroke="#10d0e8" stroke-width="1.6" opacity="0.62"/>
<path d="M982.3,787.0 L987.0,784.6 L987.0,789.4Z" fill="#10d0e8" opacity="0.75"/>
<polyline points="895.2,804.9 1074.4,804.9" fill="none" stroke="#10d0e8" stroke-width="1.6" opacity="0.62"/>
<path d="M982.3,804.9 L987.0,802.5 L987.0,807.3Z" fill="#10d0e8" opacity="0.75"/>
</g>
<circle cx="984.8" cy="733.2" r="51.5" fill="none" stroke="#222" stroke-width="0.8"/>
<circle cx="984.8" cy="733.2" r="33.8" fill="none" stroke="#222" stroke-width="0.8"/>
<rect x="895.2" y="643.6" width="179.2" height="179.2" fill="none" stroke="#666" stroke-width="0.8"/>
<text x="941.0" y="617.9" font-size="15" fill="#1a1a1a" textLength="101.6" lengthAdjust="spacingAndGlyphs">F-Concentrator</text>
<text x="894.2" y="636.9" font-size="13.5" fill="#1a1a1a" textLength="178.3" lengthAdjust="spacingAndGlyphs">Denser streamlines in the core</text>
<text x="891.7" y="647.9" font-size="12.5" fill="#1a1a1a" text-anchor="end">175</text>
<text x="891.2" y="737.4" font-size="12" fill="#1a1a1a" text-anchor="end">0</text>
<text x="891.7" y="827.1" font-size="12.5" fill="#1a1a1a" text-anchor="end">−175</text>
<text x="895.2" y="833.8" font-size="12.5" fill="#1a1a1a" text-anchor="middle">−175</text>
<text x="984.8" y="833.8" font-size="12.5" fill="#1a1a1a" text-anchor="middle">0</text>
<text x="1074.4" y="833.8" font-size="12.5" fill="#1a1a1a" text-anchor="middle">175</text>
<text x="944.7" y="847.3" font-size="15" fill="#1a1a1a" textLength="98" lengthAdjust="spacingAndGlyphs"><tspan font-style="italic">x</tspan> position (mm)</text>
<text x="0" y="0" font-size="15" fill="#1a1a1a" text-anchor="middle" transform="translate(877,736.2) rotate(-90)" textLength="97" lengthAdjust="spacingAndGlyphs"><tspan font-style="italic">y</tspan> position (mm)</text>
<defs><linearGradient id="tbar" x1="0" y1="0" x2="1" y2="0"><stop offset="0.00" stop-color="#44248c"/><stop offset="0.05" stop-color="#4e2694"/><stop offset="0.10" stop-color="#58299c"/><stop offset="0.15" stop-color="#662ea2"/><stop offset="0.20" stop-color="#7532a8"/><stop offset="0.25" stop-color="#8836ab"/><stop offset="0.30" stop-color="#9b3aae"/><stop offset="0.35" stop-color="#b03eaa"/><stop offset="0.40" stop-color="#c643a6"/><stop offset="0.45" stop-color="#da4895"/><stop offset="0.50" stop-color="#ee4d84"/><stop offset="0.55" stop-color="#f55c6f"/><stop offset="0.60" stop-color="#fc6a5a"/><stop offset="0.65" stop-color="#fc7c48"/><stop offset="0.70" stop-color="#fd8e36"/><stop offset="0.75" stop-color="#fda02c"/><stop offset="0.80" stop-color="#fdb222"/><stop offset="0.85" stop-color="#fdc43d"/><stop offset="0.90" stop-color="#fdd558"/><stop offset="0.95" stop-color="#fee79d"/><stop offset="1.00" stop-color="#fff8e2"/></linearGradient></defs>
<rect x="700.6" y="874.9" width="158.9" height="9.5" fill="url(#tbar)" stroke="#333" stroke-width="0.7"/>
<text x="733.9" y="869.7" font-size="13.5" fill="#1a1a1a" textLength="86.1" lengthAdjust="spacingAndGlyphs">Temperature (K)</text>
<text x="678.0" y="883.7" font-size="13" fill="#1a1a1a" textLength="21.5" lengthAdjust="spacingAndGlyphs">300</text>
<text x="863.6" y="883.8" font-size="13" fill="#1a1a1a" textLength="18.8" lengthAdjust="spacingAndGlyphs">350</text>
<text x="914.1" y="870.6" font-size="13.5" fill="#1a1a1a" textLength="117.1" lengthAdjust="spacingAndGlyphs">Heat flux streamline</text>
<line x1="962" y1="879.7" x2="995" y2="879.7" stroke="#22d3e6" stroke-width="2.2"/>
<path d="M952.5,879.7 L965,874.2 L962,879.7 L965,885.2 Z" fill="#22d3e6"/>
</svg></body></html>
